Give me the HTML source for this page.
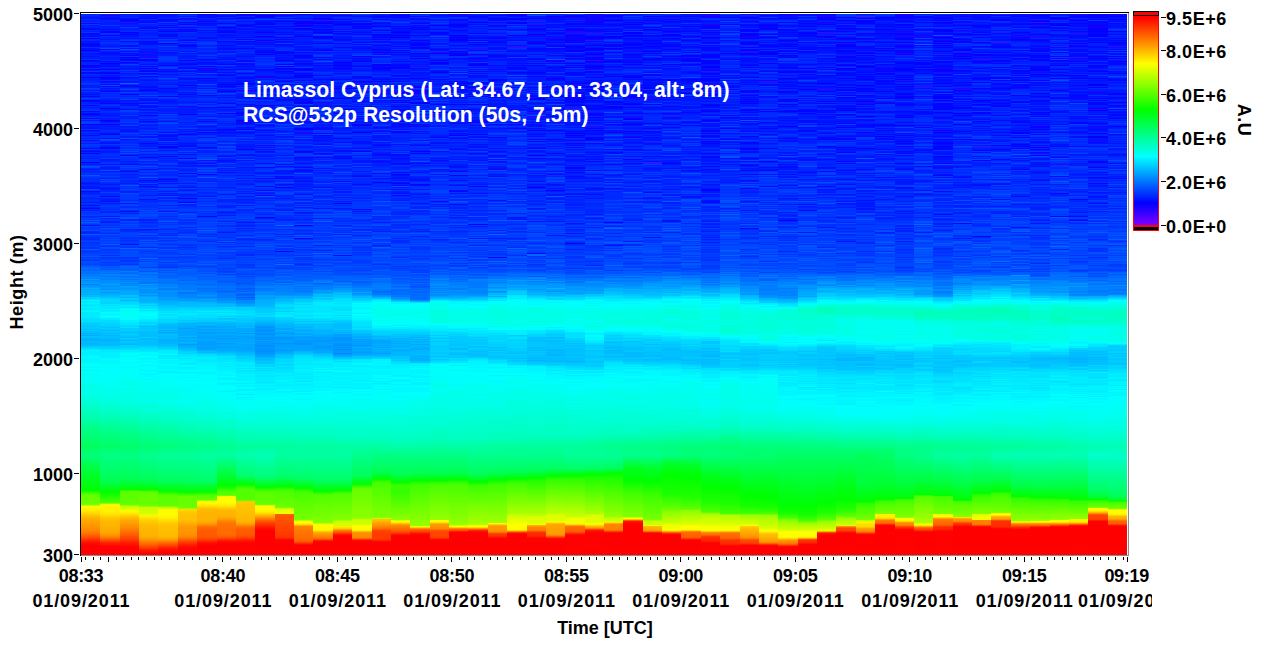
<!DOCTYPE html>
<html><head><meta charset="utf-8"><title>RCS 532p</title>
<style>
html,body{margin:0;padding:0;background:#fff}
body{width:1263px;height:649px;position:relative;overflow:hidden;font-family:"Liberation Sans",sans-serif;font-weight:bold;color:#000}
#heat{position:absolute;left:81px;top:14px;width:1046px;height:541px;overflow:hidden;background:#0020ff}
#heat i{position:absolute;display:block}
.ln{position:absolute;background:#000}
.t{position:absolute;white-space:nowrap;font-size:18px;line-height:20px}
.yl{width:60px;text-align:right;left:13px}
.xl{width:120px;text-align:center;margin-left:-60px}
.cl{left:1166px;letter-spacing:.55px}
.dt{letter-spacing:.9px;text-indent:.9px}
.tm{letter-spacing:-.3px}
#ann{position:absolute;left:243px;top:78px;color:#fff;font-size:21.25px;line-height:25px;white-space:nowrap}
</style></head><body>
<div id="heat">
<i style="left:0px;top:0px;width:19px;height:181px;background:linear-gradient(#0020ff .5px,#002dff,#0021ff,#01f,#0016ff,#0028ff,#02f,#001bff,#03f,#1500ff,#0038ff,#0014ff,#02f,#001cff,#000cff,#0006ff,#002aff,#0020ff,#0035ff,#0005ff,#000dff,#0013ff,#000aff,#002fff,#0002ff,#0028ff,#0027ff,#0013ff,#0019ff,#0c00ff,#0007ff,#0003ff,#000bff,#002eff,#0012ff,#01f,#0200ff,#0015ff,#002dff,#000eff,#001dff,#001bff,#0010ff,#0020ff,#0014ff,#0035ff,#0002ff,#000bff,#0024ff,#02f,#0025ff,#0001ff,#1500ff,#000aff,#002eff,#0001ff,#0019ff,#0037ff,#0008ff,#000dff,#0028ff,#0023ff,#001fff,#0e00ff,#02f,#0019ff,#0020ff,#0025ff,#0028ff,#0037ff,#0037ff,#0015ff,#001eff,#001aff,#0041ff,#03f,#0016ff,#0034ff,#0021ff,#0019ff,#0010ff,#0021ff,#0007ff,#0024ff,#0040ff,#002aff,#0200ff,#000dff,#001dff,#001cff,#002dff,#0b00ff,#002dff,#0016ff,#0029ff,#0027ff,#0038ff,#0005ff,#0023ff,#000aff,#0300ff,#0014ff,#0021ff,#002fff,#0f00ff,#003cff,#0017ff,#0038ff,#0041ff,#0038ff,#0d00ff,#0018ff,#001eff,#0014ff,#000fff,#0039ff,#0009ff,#001eff,#002fff,#001aff,#0027ff,#000bff,#0029ff,#0035ff,#0018ff,#0036ff,#1e00ff,#002dff,#0035ff,#0019ff,#0037ff,#0036ff,#0032ff,#0027ff,#000fff,#0035ff,#001aff,#0009ff,#0023ff,#0500ff,#002bff,#0032ff,#0020ff,#002aff,#001dff,#0031ff,#002bff,#002eff,#0002ff,#0021ff,#001eff,#002fff,#0050ff,#0047ff,#0025ff,#0018ff,#0026ff,#0027ff,#0024ff,#0037ff,#0029ff,#05f,#003bff,#0032ff,#0030ff,#0027ff,#0031ff,#002eff,#001dff,#0012ff,#001eff,#0023ff,#0019ff,#0016ff,#0014ff,#0047ff,#0037ff,#0007ff,#001eff,#001fff,#0029ff 180.5px)"></i>
<i style="left:0px;top:181px;width:19px;height:181px;background:linear-gradient(#0035ff .5px,#002fff,#002cff,#001fff,#002bff,#002fff,#002bff,#001aff,#0035ff,#002bff,#01f,#0030ff,#001fff,#0007ff,#002aff,#001cff,#0039ff,#0034ff,#0031ff,#003bff,#0042ff,#0023ff,#002fff,#04f,#0031ff,#005aff,#0036ff,#005cff,#04f,#0036ff,#0010ff,#0047ff,#0034ff,#003aff,#003aff,#004bff,#002cff,#0026ff,#0026ff,#005eff,#0037ff,#0037ff,#002bff,#002bff,#002bff,#003aff,#0045ff,#002cff,#003aff,#0034ff,#003aff,#0043ff,#0032ff,#0032ff,#0057ff,#0040ff,#002eff,#003cff,#0041ff,#0046ff,#0047ff,#0056ff,#0038ff,#004cff,#0037ff,#0039ff,#004aff,#004dff,#0046ff,#0043ff,#0052ff,#005aff,#006aff,#006bff,#0067ff,#0065ff,#0072ff,#0070ff,#006fff,#007cff,#007aff,#0082ff,#0089ff,#0082ff,#009eff,#08f,#0097ff,#0090ff,#009bff,#0080ff,#0090ff,#009bff,#00a0ff,#00b1ff,#00a3ff,#00adff,#00acff,#00b0ff,#00afff,#00aeff,#00baff,#00b9ff,#00d4ff,#00cfff,#00e3ff,#00f7ff,#00e9ff,#00eaff,#00f2ff,#00eaff,#00e5ff,#00ecff,#0ef,#00efff,#00e5ff,#00f5ff,#00f5ff,#00eaff,#00ecff,#00e8ff,#00f3ff,#00e6ff,#00edff,#00e2ff,#0df,#00e1ff,#00e1ff,#00d4ff,#0cf,#00d0ff,#00c7ff,#00c7ff,#00cdff,#00c9ff,#00bdff,#0cf,#00bcff,#00bfff,#00b5ff,#00b8ff,#00aeff,#00c3ff,#00c0ff,#00b1ff,#00afff,#00afff,#00bfff,#00b6ff,#00b8ff,#00b7ff,#00bfff,#00c5ff,#00d6ff,#00d9ff,#00ebff,#00f2ff,#00f4ff,#00f0ff,#00edff,#00f4ff,#00f2ff,#00feff,#00faff,#00f6ff,#00f5ff,#00f5ff,#00f4ff,#00f8ff,#00fdff,#0ff,#00fffe,#00fff5,#00fbff,#0ff,#00ffef,#00f7ff,#0ff,#00fffa,#00fffa,#00fff7,#00fffa 180.5px)"></i>
<i style="left:0px;top:362px;width:19px;height:179px;background:linear-gradient(#00fff6 .5px,#00fff6,#00fff1,#00fffe,#00fff7,#00fff1,#00fff5,#00fff4,#00ffea,#00fff0,#00ffe8,#00ffe6,#00ffe7,#00ffe5,#00ffe7,#0fe,#00ffe7,#00ffe4,#00ffe9,#00ffe7,#00ffe1,#00ffe7,#0fd,#00ffd5,#0fd,#00ffd8,#00ffd7,#0fc,#00ffcf,#00ffca,#00ffcf,#00ffc9,#00ffc7,#0fc,#00ffbc,#0fb,#00ffc3,#00ffb6,#00ffb6,#00ffb0,#00ffae,#00ffb2,#0fa,#00ffa0,#00ffa4,#00ffa3,#00ffa1,#00ff9d,#00ff95,#00ff8d,#00ff8e,#00ff8b,#00ff82,#0f8,#00ff85,#00ff7e,#00ff7c,#00ff7f,#00ff7d,#00ff76,#00ff74,#00ff76,#00ff71,#00ff70,#00ff6b,#00ff6a,#00ff68,#0f6,#00ff60,#00ff5d,#00ff5f,#00ff5d,#00ff64,#0f6,#00ff68,#00ff6a,#00ff72,#00ff75,#00ff78,#00ff7b,#00ff74,#00ff71,#00ff6a,#00ff69,#0f6,#00ff5e,#00ff59,#00ff56,#00ff4f,#00ff4d,#00ff49,#00ff43,#00ff42,#00ff3c,#00ff37,#0f3,#00ff32,#00ff2e,#00ff2d,#00ff29,#00ff24,#00ff25,#00ff1e,#00ff1f,#00ff1c,#00ff19,#00ff15,#00ff15,#00ff13,#00ff0d,#00ff0a,#00ff07,#00ff02,#00ff02,#02ff00,#18ff00,#2dff00,#4f0,#56ff00,#64ff00,#61ff00,#68ff00,#67ff00,#6aff00,#6cff00,#6bff00,#6cff00,#6cff00,#79ff00,#b8ff00,#f8ff00,#fff700,#fff400,#fff000,#ffea00,#ffe500,#ffdf00,#ffd600,#ffce00,#ffc600,#fb0,#ffb500,#ffb100,#fa0,#ffa700,#ffa600,#ff9f00,#ff9d00,#ff9a00,#ff9700,#ff9400,#ff9200,#ff8c00,#ff8a00,#ff8600,#ff8000,#ff7900,#ff7100,#ff6900,#ff5f00,#ff5700,#ff4a00,#ff3e00,#ff3100,#ff2600,#ff1b00,#ff1000,#ff0a00,#ff0400,#f00,#f00,#f00,#ff0100,#f00,#f00,#f00,#f00,#f00,#ff0100 178.5px)"></i>
<i style="left:19px;top:0px;width:20px;height:181px;background:linear-gradient(#001fff .5px,#1a00ff,#0017ff,#0012ff,#10f,#000dff,#0025ff,#0021ff,#001cff,#001bff,#0018ff,#003fff,#01f,#001eff,#001bff,#0008ff,#001bff,#0007ff,#0700ff,#0032ff,#0031ff,#00f,#002eff,#0017ff,#0023ff,#000eff,#0029ff,#001cff,#003bff,#002aff,#0025ff,#001dff,#0015ff,#002cff,#0049ff,#0300ff,#0035ff,#0021ff,#1600ff,#000fff,#000fff,#001dff,#0027ff,#001aff,#001cff,#0020ff,#0029ff,#0013ff,#0017ff,#0100ff,#01f,#0013ff,#0007ff,#002aff,#0015ff,#0700ff,#002eff,#0024ff,#1000ff,#0500ff,#002bff,#0010ff,#001eff,#00f,#0600ff,#000bff,#002cff,#1000ff,#0016ff,#002cff,#1300ff,#004cff,#000aff,#002dff,#0013ff,#0021ff,#0012ff,#0200ff,#0031ff,#0020ff,#002fff,#0027ff,#0027ff,#0034ff,#0023ff,#02f,#0015ff,#0012ff,#0012ff,#0005ff,#002aff,#0037ff,#0021ff,#0021ff,#0200ff,#0015ff,#0020ff,#002fff,#0029ff,#0019ff,#0019ff,#0018ff,#001eff,#0028ff,#001cff,#001bff,#0300ff,#0f00ff,#02f,#002aff,#0a00ff,#0020ff,#0015ff,#0024ff,#0017ff,#0024ff,#002eff,#002cff,#0023ff,#0010ff,#0200ff,#0032ff,#0030ff,#0031ff,#01f,#004fff,#04f,#0026ff,#0015ff,#000fff,#003aff,#02f,#001dff,#0002ff,#0500ff,#0023ff,#0024ff,#0015ff,#0017ff,#002cff,#002dff,#0034ff,#0024ff,#0028ff,#003bff,#0016ff,#0017ff,#0025ff,#002fff,#003aff,#000fff,#003eff,#0027ff,#001aff,#0017ff,#0026ff,#004bff,#001cff,#002dff,#003cff,#0028ff,#002eff,#003dff,#002bff,#001dff,#0048ff,#0032ff,#0047ff,#0029ff,#0027ff,#0016ff,#0028ff,#002dff,#001eff,#000bff,#0018ff,#0023ff,#0027ff,#0040ff,#002bff,#0027ff 180.5px)"></i>
<i style="left:19px;top:181px;width:20px;height:181px;background:linear-gradient(#0028ff .5px,#0004ff,#0035ff,#0021ff,#001bff,#001aff,#000fff,#0032ff,#0016ff,#0037ff,#03f,#0043ff,#0030ff,#0031ff,#002aff,#0036ff,#0028ff,#001cff,#0043ff,#0039ff,#003fff,#0015ff,#0051ff,#0020ff,#0036ff,#0036ff,#0021ff,#001fff,#003aff,#0039ff,#002fff,#0043ff,#0031ff,#004dff,#0047ff,#03f,#0046ff,#003bff,#002bff,#004bff,#003dff,#0035ff,#0043ff,#003aff,#004bff,#003bff,#0042ff,#004aff,#003aff,#005dff,#0038ff,#002eff,#0052ff,#0049ff,#0036ff,#0036ff,#0043ff,#003cff,#0042ff,#004aff,#002eff,#0052ff,#002dff,#003eff,#003cff,#004cff,#004dff,#0036ff,#0045ff,#003fff,#003aff,#005aff,#0054ff,#005dff,#0050ff,#0071ff,#0070ff,#0079ff,#006fff,#0086ff,#007cff,#07f,#0082ff,#0086ff,#007dff,#008eff,#008bff,#0090ff,#0094ff,#00a3ff,#0090ff,#0090ff,#009bff,#09f,#008cff,#00afff,#00a7ff,#009bff,#00a5ff,#00b0ff,#00b1ff,#00b8ff,#00c4ff,#00d0ff,#00d7ff,#00d7ff,#00dcff,#00d2ff,#00d5ff,#00e2ff,#00e2ff,#00e9ff,#00e6ff,#00eaff,#00f1ff,#00e7ff,#00f0ff,#00fdff,#00faff,#00f3ff,#00faff,#00fffd,#00fcff,#00e9ff,#00e8ff,#00dcff,#00dfff,#00d6ff,#00d5ff,#00d7ff,#00d0ff,#0cf,#00c2ff,#00cfff,#00c6ff,#00bdff,#00c4ff,#00c8ff,#00b8ff,#00c1ff,#00b6ff,#00c1ff,#00beff,#00b9ff,#00b4ff,#00b2ff,#00b5ff,#00beff,#00bcff,#00baff,#00bdff,#00c8ff,#00d5ff,#00cfff,#00e2ff,#00eaff,#00e9ff,#00f0ff,#00f4ff,#00efff,#00f0ff,#00efff,#00f2ff,#00f8ff,#00fdff,#00f9ff,#00f8ff,#00f6ff,#00fcff,#00faff,#00fffc,#00fdff,#00fffb,#00fffd,#0ff,#00fffd,#00fcff,#00fffa,#00fffd,#00feff,#00fffb 180.5px)"></i>
<i style="left:19px;top:362px;width:20px;height:179px;background:linear-gradient(#00fff6 .5px,#00fff9,#00faff,#00fffa,#00fff5,#00fff2,#00fff8,#00fff1,#0fe,#0fe,#00fff7,#00fff1,#00fff0,#0fe,#00ffeb,#00ffe5,#00ffea,#00ffef,#00ffef,#00ffe6,#00ffec,#00ffe9,#00ffe1,#00ffde,#00ffdb,#00ffe4,#00ffd5,#00ffda,#00ffd3,#00ffd5,#00ffce,#00ffd0,#00ffcd,#0fc,#0fc,#00ffc6,#00ffc0,#00ffc5,#00ffbd,#00ffbf,#00ffbc,#00ffba,#00ffab,#00ffae,#00ffac,#00ffa4,#00ffac,#00ffa2,#00ffa1,#0f9,#00ff9d,#00ff95,#00ff92,#00ff8b,#00ff8e,#00ff89,#00ff85,#00ff82,#00ff80,#00ff7f,#00ff7f,#0f7,#00ff73,#00ff75,#00ff75,#00ff6e,#00ff71,#00ff6c,#00ff6e,#00ff65,#00ff69,#0f6,#00ff6c,#00ff70,#00ff75,#0f7,#00ff7d,#00ff7c,#00ff84,#00ff84,#00ff80,#00ff7e,#00ff7c,#00ff7a,#00ff79,#0f7,#00ff75,#0f7,#00ff73,#00ff71,#00ff6f,#00ff6c,#00ff6d,#00ff6c,#00ff69,#00ff65,#00ff65,#0f6,#00ff5f,#00ff5d,#00ff5c,#00ff5b,#00ff59,#00ff59,#00ff57,#00ff4f,#00ff49,#00ff3f,#00ff39,#00ff35,#00ff2a,#00ff20,#00ff1a,#00ff14,#00ff0c,#00ff03,#03ff00,#0aff00,#14ff00,#1bff00,#2f0,#29ff00,#3f0,#38ff00,#40ff00,#46ff00,#4fff00,#86ff00,#f4ff00,#fff800,#fff500,#fff300,#fff300,#fff100,#fff100,#ffef00,#ffeb00,#ffe900,#ffe200,#ffda00,#ffd100,#ffca00,#ffc600,#ffc000,#ffbc00,#ffba00,#ffb800,#ffb500,#ffb200,#ffb400,#ffb200,#ffae00,#ffaf00,#ffac00,#fa0,#ffa800,#ffa500,#ffa100,#ff9b00,#ff9100,#ff8500,#ff7b00,#ff6a00,#ff5900,#ff4900,#ff3700,#ff2800,#ff1a00,#f10,#ff0a00,#ff0300,#ff0100,#ff0100,#f00,#f00,#ff0100,#f00,#ff0100,#f00 178.5px)"></i>
<i style="left:39px;top:0px;width:19px;height:181px;background:linear-gradient(#0015ff .5px,#02f,#001bff,#002cff,#000eff,#0f00ff,#0100ff,#01f,#001eff,#2300ff,#001cff,#02f,#0018ff,#0039ff,#001dff,#001cff,#0020ff,#002eff,#00f,#0014ff,#0005ff,#0019ff,#0013ff,#001eff,#0013ff,#002fff,#003dff,#0009ff,#002eff,#0031ff,#0037ff,#000dff,#000cff,#003cff,#0010ff,#004dff,#002fff,#000eff,#03f,#000eff,#0012ff,#0007ff,#0031ff,#0a00ff,#000dff,#0200ff,#000aff,#002fff,#0200ff,#0017ff,#0043ff,#002cff,#0014ff,#0021ff,#01f,#0020ff,#0038ff,#02f,#002cff,#0016ff,#0020ff,#0021ff,#0037ff,#0009ff,#001bff,#0023ff,#002aff,#000dff,#0017ff,#005eff,#0031ff,#0008ff,#0006ff,#0012ff,#0032ff,#0045ff,#001dff,#001dff,#0041ff,#0024ff,#0300ff,#002cff,#0023ff,#0037ff,#0028ff,#0047ff,#0013ff,#0019ff,#0026ff,#0008ff,#0016ff,#01f,#002eff,#002eff,#0021ff,#0009ff,#0042ff,#0041ff,#002bff,#0028ff,#0021ff,#003cff,#0018ff,#0023ff,#0019ff,#0031ff,#0031ff,#0034ff,#0038ff,#0024ff,#0028ff,#0045ff,#0014ff,#001cff,#0026ff,#0016ff,#0015ff,#000bff,#0028ff,#003fff,#002eff,#002eff,#001aff,#0020ff,#0047ff,#0015ff,#0026ff,#002bff,#0025ff,#002bff,#003aff,#002bff,#0036ff,#002dff,#0023ff,#0041ff,#0031ff,#0047ff,#002aff,#0048ff,#0027ff,#0004ff,#0037ff,#002fff,#0030ff,#002aff,#002fff,#001aff,#0029ff,#0020ff,#000aff,#0042ff,#0034ff,#0046ff,#0034ff,#0036ff,#001aff,#0007ff,#002fff,#0032ff,#001cff,#0029ff,#0029ff,#02f,#002aff,#0034ff,#0020ff,#002bff,#0025ff,#0017ff,#002cff,#0056ff,#0031ff,#0036ff,#03f,#0041ff,#003aff,#001bff,#0020ff,#0046ff,#0040ff 180.5px)"></i>
<i style="left:39px;top:181px;width:19px;height:181px;background:linear-gradient(#003aff .5px,#003aff,#0039ff,#0039ff,#0034ff,#0028ff,#003eff,#0049ff,#0016ff,#003fff,#004aff,#0028ff,#0029ff,#0040ff,#004aff,#0024ff,#000dff,#002fff,#0021ff,#003eff,#0043ff,#003cff,#004fff,#0054ff,#0024ff,#02f,#004cff,#003cff,#0035ff,#004aff,#0038ff,#004bff,#0036ff,#0046ff,#001cff,#0026ff,#0029ff,#003fff,#04f,#0045ff,#003cff,#0043ff,#002fff,#0032ff,#003aff,#002fff,#03f,#0041ff,#0032ff,#000fff,#0046ff,#0039ff,#0038ff,#0067ff,#04f,#0046ff,#004eff,#0047ff,#004aff,#0049ff,#004aff,#004dff,#03f,#0035ff,#04f,#03f,#0032ff,#004bff,#0041ff,#0030ff,#005bff,#0061ff,#0069ff,#005cff,#0057ff,#0061ff,#007bff,#006dff,#0063ff,#007eff,#0081ff,#0070ff,#0074ff,#0085ff,#0072ff,#0087ff,#0083ff,#0090ff,#0082ff,#0089ff,#08f,#00a0ff,#009cff,#0092ff,#09f,#00a3ff,#00a4ff,#00adff,#00a4ff,#00acff,#00c2ff,#00c0ff,#00b5ff,#00cbff,#0cf,#00b7ff,#00cdff,#00d8ff,#00d8ff,#0df,#00ecff,#00ecff,#00e1ff,#00f6ff,#00fdff,#00fbff,#0fe,#00fff1,#00fffa,#00fff3,#00fff9,#00fff4,#00fdff,#00faff,#00fffc,#00f2ff,#0ef,#00ecff,#00e3ff,#00e8ff,#00d7ff,#00d7ff,#00e2ff,#00caff,#0cf,#00d1ff,#00c0ff,#00beff,#00c6ff,#00ceff,#00c7ff,#00c0ff,#00baff,#00ceff,#00c2ff,#00b8ff,#00c8ff,#00c7ff,#0bf,#00b5ff,#00d0ff,#00caff,#00cfff,#00dbff,#00dfff,#00efff,#00ecff,#00f7ff,#00feff,#00fffb,#00f8ff,#00f9ff,#00fff9,#00fdff,#00fffb,#00fffe,#00fffe,#00faff,#0ff,#0ff,#00fdff,#00fff3,#00faff,#00fdff,#00fffa,#00fff6,#0ff,#00fffc,#00fffe,#0ff,#00fff2 180.5px)"></i>
<i style="left:39px;top:362px;width:19px;height:179px;background:linear-gradient(#00fff9 .5px,#00fffa,#00fff5,#00fff1,#00ffed,#00fff2,#00fff1,#00ffef,#00ffeb,#00ffed,#00fff5,#00ffed,#00ffef,#00ffe3,#00ffea,#0fe,#00ffe3,#00ffeb,#00ffe6,#00ffe8,#00ffe5,#00ffe2,#00ffea,#00ffe9,#00ffe1,#00ffe4,#00ffe0,#00ffda,#00ffdf,#00ffd5,#00ffd8,#00ffd7,#00ffd4,#00ffc6,#00ffca,#00ffc8,#00ffcb,#00ffc0,#00ffc8,#00ffc2,#00ffb9,#00ffb7,#00ffb9,#00ffb2,#00ffb3,#00ffb3,#00ffa8,#00ffa8,#00ffa3,#00ffa0,#00ffa3,#00ff9c,#00ff9c,#00ff95,#00ff91,#00ff8d,#00ff86,#00ff8c,#00ff84,#00ff83,#00ff81,#00ff83,#00ff7d,#00ff7b,#00ff7a,#0f7,#00ff78,#00ff73,#00ff6f,#00ff6f,#00ff6b,#00ff69,#00ff6f,#00ff74,#00ff75,#00ff79,#00ff7d,#00ff80,#00ff7e,#00ff81,#00ff7f,#00ff7d,#00ff80,#00ff7a,#0f7,#0f7,#0f7,#00ff72,#00ff71,#00ff6d,#00ff6e,#00ff6b,#00ff68,#0f6,#00ff64,#00ff64,#00ff5e,#00ff61,#00ff5e,#00ff5c,#00ff58,#00ff57,#00ff53,#00ff51,#00ff49,#00ff43,#00ff3a,#00ff32,#00ff2b,#00ff23,#00ff1b,#00ff12,#00ff08,#0f0,#31ff00,#5bff00,#5aff00,#5bff00,#5bff00,#5bff00,#5cff00,#5bff00,#5dff00,#5eff00,#5eff00,#5eff00,#5fff00,#5fff00,#68ff00,#9aff00,#c3ff00,#cdff00,#d6ff00,#e4ff00,#ef0,#fffa00,#fff100,#ffe800,#ffde00,#ffd200,#ffc600,#ffbf00,#ffb800,#ffb000,#ffa900,#ffa700,#ffa000,#ff9c00,#ff9700,#ff9100,#ff8f00,#ff8900,#ff8300,#ff7d00,#f70,#ff7100,#ff6a00,#ff6500,#ff5e00,#ff5800,#ff4f00,#ff4900,#ff4000,#ff3b00,#ff3200,#ff2900,#ff2000,#ff1900,#ff1200,#ff0900,#ff0600,#ff0300,#ff0200,#f00,#f00,#f00,#f00,#f00,#f00 178.5px)"></i>
<i style="left:58px;top:0px;width:19px;height:181px;background:linear-gradient(#000aff .5px,#0018ff,#000fff,#0017ff,#0e00ff,#002cff,#01f,#0016ff,#0e00ff,#0036ff,#0023ff,#02f,#0014ff,#000eff,#0a00ff,#0035ff,#0014ff,#002bff,#0020ff,#0015ff,#0024ff,#001bff,#0029ff,#002bff,#0013ff,#002aff,#002eff,#0600ff,#0010ff,#0008ff,#000eff,#0027ff,#0026ff,#002aff,#0021ff,#0012ff,#001eff,#0013ff,#2800ff,#001bff,#0013ff,#0013ff,#0018ff,#2400ff,#03f,#0400ff,#0500ff,#001cff,#0027ff,#0025ff,#000fff,#0036ff,#0800ff,#002cff,#0001ff,#0025ff,#000eff,#0004ff,#0038ff,#0005ff,#0012ff,#04f,#0004ff,#0027ff,#002bff,#001aff,#0013ff,#0023ff,#0021ff,#001eff,#001dff,#0023ff,#000bff,#000bff,#001dff,#000dff,#00f,#0019ff,#03f,#02f,#0027ff,#0048ff,#0018ff,#0039ff,#001aff,#0014ff,#0009ff,#0035ff,#001aff,#000bff,#0041ff,#0018ff,#000eff,#0010ff,#0032ff,#0010ff,#001aff,#03f,#0012ff,#0021ff,#002aff,#000aff,#0023ff,#0032ff,#0030ff,#001cff,#0026ff,#0006ff,#0019ff,#0040ff,#0021ff,#001aff,#002aff,#0024ff,#0019ff,#0025ff,#0035ff,#0027ff,#0032ff,#0037ff,#0014ff,#04f,#0012ff,#0014ff,#003eff,#0031ff,#0031ff,#0024ff,#0020ff,#0006ff,#001bff,#001fff,#0019ff,#0032ff,#0012ff,#003fff,#003bff,#001fff,#0041ff,#0036ff,#0017ff,#002aff,#0026ff,#0003ff,#0027ff,#0035ff,#0045ff,#001dff,#0029ff,#0038ff,#0017ff,#0030ff,#004cff,#0030ff,#0037ff,#1d00ff,#03f,#003cff,#002bff,#0039ff,#003dff,#001cff,#002aff,#005cff,#001cff,#002eff,#0009ff,#0020ff,#001fff,#0046ff,#000fff,#002dff,#0010ff,#001fff,#003cff,#0024ff,#0038ff,#0024ff,#0035ff,#002dff,#002eff 180.5px)"></i>
<i style="left:58px;top:181px;width:19px;height:181px;background:linear-gradient(#0019ff .5px,#0034ff,#003aff,#03f,#000bff,#0023ff,#0029ff,#002cff,#003eff,#002fff,#0034ff,#002cff,#002fff,#003dff,#002fff,#004aff,#0039ff,#0047ff,#003cff,#004bff,#004cff,#0042ff,#003bff,#003dff,#0020ff,#001cff,#0036ff,#0021ff,#0035ff,#003cff,#002fff,#002fff,#0038ff,#0049ff,#0012ff,#0029ff,#0038ff,#002eff,#004aff,#004eff,#002cff,#04f,#0032ff,#002dff,#003cff,#0054ff,#0035ff,#05f,#003cff,#004fff,#004fff,#0041ff,#0026ff,#005fff,#04f,#0043ff,#0031ff,#0042ff,#003eff,#0048ff,#004aff,#0040ff,#0046ff,#0067ff,#0039ff,#0058ff,#003bff,#005eff,#0056ff,#0054ff,#0058ff,#0051ff,#003dff,#0061ff,#06f,#0063ff,#004fff,#0074ff,#0078ff,#0068ff,#0070ff,#0078ff,#0072ff,#007fff,#0078ff,#007fff,#007cff,#0071ff,#07f,#009cff,#0086ff,#0091ff,#0093ff,#009aff,#0094ff,#008eff,#0095ff,#008aff,#009aff,#00a5ff,#0092ff,#00a7ff,#00b0ff,#00b7ff,#00acff,#00b2ff,#00aeff,#00b9ff,#00c9ff,#00d8ff,#00c8ff,#00deff,#00deff,#00dfff,#00f6ff,#00deff,#00f4ff,#00faff,#00fff7,#00fffa,#00fff8,#00f7ff,#00f9ff,#00f7ff,#00edff,#00e8ff,#00e0ff,#00d9ff,#00d0ff,#00deff,#00cbff,#00bcff,#00c7ff,#00c4ff,#00c4ff,#00cdff,#00c0ff,#00beff,#0bf,#00beff,#00baff,#00bdff,#0cf,#00bcff,#00b5ff,#00c5ff,#00beff,#00beff,#00beff,#00bfff,#00c3ff,#00cfff,#00d5ff,#00dfff,#0df,#00e8ff,#00ebff,#00f9ff,#00fbff,#00f4ff,#00faff,#00fff8,#0ff,#00f2ff,#00f8ff,#00fdff,#00faff,#00fcff,#00fffd,#00fdff,#00f6ff,#00fffe,#00fcff,#00feff,#00fbff,#00f7ff,#00f8ff,#00fdff,#00faff,#00f2ff,#00fff8 180.5px)"></i>
<i style="left:58px;top:362px;width:19px;height:179px;background:linear-gradient(#00fbff .5px,#0ff,#00fff8,#00f8ff,#00fff2,#00fffb,#00fff3,#00fff8,#00fff3,#00fff3,#00fff2,#00fffa,#00fff8,#00ffef,#00ffe7,#00fff0,#00ffea,#00ffeb,#00ffe9,#00ffe6,#00fff1,#00ffe8,#00ffe9,#00ffe9,#00ffeb,#00ffea,#00ffea,#00ffe9,#00ffd7,#00ffd8,#0fd,#00ffd7,#00ffdc,#00ffe1,#00ffda,#00ffd0,#00ffc8,#0fc,#00ffcd,#00ffc8,#00ffc8,#00ffc7,#00ffc1,#00ffbe,#00ffbd,#00ffba,#00ffb7,#00ffb0,#00ffa9,#00ffac,#00ffa1,#0fa,#00ffa1,#00ffa3,#00ff9d,#0f9,#00ff95,#00ff90,#00ff92,#00ff91,#00ff8b,#0f8,#0f8,#00ff81,#00ff7d,#00ff83,#00ff7c,#00ff78,#00ff7d,#00ff75,#00ff74,#00ff78,#00ff74,#00ff7b,#00ff80,#00ff81,#00ff84,#00ff87,#00ff8b,#00ff8c,#00ff8d,#00ff89,#00ff86,#00ff8a,#00ff7e,#00ff81,#00ff80,#00ff7f,#00ff79,#00ff78,#0f7,#00ff74,#00ff73,#00ff70,#00ff6d,#00ff6c,#00ff68,#00ff67,#00ff65,#00ff62,#00ff5f,#00ff5e,#00ff5c,#00ff59,#00ff51,#00ff48,#00ff3e,#00ff35,#00ff2e,#00ff26,#00ff1e,#00ff12,#00ff09,#00ff01,#2f0,#4fff00,#65ff00,#63ff00,#65ff00,#65ff00,#65ff00,#65ff00,#67ff00,#67ff00,#6f0,#6f0,#69ff00,#69ff00,#68ff00,#6bff00,#91ff00,#c7ff00,#cbff00,#cbff00,#ceff00,#cfff00,#cfff00,#d1ff00,#e9ff00,#fff400,#fff100,#ffe700,#ffe000,#ffd900,#ffd000,#ffc900,#ffc500,#ffc200,#ffbc00,#fb0,#ffb800,#ffb900,#ffb600,#ffb600,#ffb600,#ffb400,#ffb300,#ffb300,#ffb300,#ffb000,#ffaf00,#ffa800,#ffa100,#ff9700,#ff8d00,#ff8300,#ff7800,#ff6d00,#ff6400,#ff5600,#ff4c00,#ff4000,#f30,#ff2400,#ff1800,#ff0f00,#ff0700,#ff0200,#ff0100 178.5px)"></i>
<i style="left:77px;top:0px;width:20px;height:181px;background:linear-gradient(#0010ff .5px,#0016ff,#0018ff,#0017ff,#002aff,#0002ff,#01f,#000bff,#0040ff,#0019ff,#0027ff,#000aff,#002aff,#0002ff,#0035ff,#0014ff,#0018ff,#0004ff,#0028ff,#001fff,#000aff,#0008ff,#000fff,#0020ff,#0016ff,#0041ff,#0027ff,#002eff,#04f,#0200ff,#001cff,#0025ff,#0040ff,#001eff,#0025ff,#002fff,#0016ff,#0035ff,#000bff,#001aff,#0017ff,#001fff,#0036ff,#0035ff,#0040ff,#0031ff,#0039ff,#0030ff,#0021ff,#0015ff,#001bff,#0003ff,#002aff,#003dff,#003cff,#000eff,#001bff,#0f00ff,#001fff,#002fff,#000bff,#0028ff,#002aff,#0025ff,#004aff,#0030ff,#001bff,#002fff,#0024ff,#001fff,#0013ff,#0035ff,#002aff,#0026ff,#0007ff,#0017ff,#001fff,#0010ff,#0018ff,#0026ff,#002aff,#0035ff,#00f,#0041ff,#0036ff,#0017ff,#001fff,#000bff,#001cff,#0017ff,#0028ff,#0031ff,#01f,#0036ff,#001aff,#001dff,#0015ff,#0021ff,#0027ff,#0018ff,#0048ff,#0025ff,#003bff,#002fff,#0028ff,#003bff,#0029ff,#0010ff,#003fff,#004fff,#0026ff,#002fff,#002bff,#002dff,#0031ff,#0027ff,#0034ff,#002aff,#0010ff,#003eff,#0014ff,#000cff,#000cff,#02f,#0015ff,#0017ff,#000bff,#004aff,#0017ff,#002eff,#000fff,#002eff,#0003ff,#0400ff,#001eff,#002aff,#001aff,#002dff,#003aff,#003eff,#0019ff,#002eff,#0009ff,#0030ff,#0018ff,#0030ff,#001bff,#0029ff,#0027ff,#0041ff,#003dff,#001aff,#002dff,#0037ff,#0016ff,#0026ff,#04f,#002dff,#02f,#002fff,#0021ff,#0023ff,#0034ff,#0038ff,#0020ff,#0700ff,#0029ff,#000eff,#003cff,#000fff,#0034ff,#003cff,#0038ff,#01f,#0046ff,#0040ff,#0037ff,#001dff,#003fff,#0015ff,#002aff 180.5px)"></i>
<i style="left:77px;top:181px;width:20px;height:181px;background:linear-gradient(#01f .5px,#004fff,#0026ff,#001cff,#0043ff,#001fff,#002cff,#0038ff,#003dff,#0041ff,#001dff,#0042ff,#03f,#0026ff,#0049ff,#0030ff,#0017ff,#004fff,#03f,#003dff,#0039ff,#0028ff,#003cff,#0030ff,#0035ff,#003bff,#005cff,#0030ff,#0041ff,#0035ff,#0042ff,#0040ff,#0045ff,#0037ff,#0020ff,#0043ff,#0038ff,#0043ff,#0028ff,#0034ff,#0028ff,#05f,#0036ff,#0036ff,#0046ff,#002eff,#003eff,#0049ff,#0040ff,#002bff,#0049ff,#0048ff,#03f,#0032ff,#0056ff,#003aff,#0047ff,#0038ff,#0034ff,#0041ff,#004cff,#004dff,#002dff,#0045ff,#0039ff,#004fff,#0053ff,#0036ff,#004cff,#0043ff,#0040ff,#0039ff,#0034ff,#0050ff,#0062ff,#004dff,#0062ff,#0052ff,#0067ff,#0062ff,#0063ff,#005bff,#0065ff,#0068ff,#007bff,#0076ff,#0076ff,#006eff,#0078ff,#007eff,#0085ff,#0083ff,#008dff,#007eff,#007bff,#008eff,#0094ff,#008fff,#008aff,#008eff,#008eff,#0092ff,#09f,#00a0ff,#009aff,#0af,#00acff,#00aeff,#00b5ff,#00b5ff,#00beff,#00cbff,#00c5ff,#00d3ff,#00d0ff,#00d9ff,#00e2ff,#00e1ff,#00edff,#0df,#00e6ff,#00e7ff,#00e6ff,#00e0ff,#00d5ff,#00d7ff,#00daff,#00d0ff,#00c6ff,#00baff,#00b7ff,#00bcff,#00b1ff,#00b3ff,#00c3ff,#00a6ff,#00baff,#00a7ff,#00adff,#00c4ff,#0bf,#00b8ff,#00b9ff,#00baff,#00b1ff,#00adff,#00b0ff,#00b6ff,#00b7ff,#0bf,#00baff,#00c8ff,#00cdff,#00d0ff,#00dcff,#00ebff,#0ef,#0ef,#00f1ff,#00faff,#0ef,#00e5ff,#00f4ff,#00e7ff,#00fdff,#00f1ff,#00f6ff,#00f4ff,#00f7ff,#00f8ff,#00feff,#00f2ff,#00f6ff,#00f6ff,#00f8ff,#00fdff,#00f0ff,#00efff,#00fbff,#00feff,#0ff 180.5px)"></i>
<i style="left:77px;top:362px;width:20px;height:179px;background:linear-gradient(#00fffc .5px,#00fff7,#00faff,#0ff,#00fffb,#00fff8,#00fff8,#00fff7,#00fffd,#00ffeb,#00fff6,#00fff2,#00fff8,#00fff1,#00fff3,#00ffeb,#00ffeb,#00fff2,#0fe,#00ffed,#00ffeb,#00ffe5,#0fe,#0fd,#00ffed,#00ffef,#00ffe4,#00ffec,#00ffe0,#00ffe3,#00ffe4,#0fd,#0fd,#00ffde,#00ffda,#00ffce,#00ffd3,#00ffd0,#00ffd3,#00ffc5,#00ffc8,#00ffc9,#00ffc6,#00ffc5,#00ffbc,#0fb,#00ffbe,#00ffba,#00ffb7,#00ffb2,#00ffa8,#00ffae,#00ffa9,#00ffa9,#00ffa5,#00ffa0,#00ff9b,#00ff9f,#00ff9b,#00ff97,#00ff96,#00ff8c,#00ff8c,#0f8,#0f8,#00ff8a,#00ff82,#00ff82,#00ff81,#00ff7f,#00ff7e,#00ff7d,#00ff7f,#00ff80,#0f8,#00ff89,#00ff8e,#00ff90,#00ff96,#0f9,#00ff92,#00ff91,#00ff93,#00ff8e,#00ff8c,#00ff85,#00ff85,#00ff85,#00ff84,#00ff80,#00ff7e,#00ff7c,#00ff7b,#00ff7a,#00ff79,#00ff76,#00ff74,#00ff70,#00ff6d,#00ff69,#00ff69,#00ff64,#00ff63,#00ff63,#00ff60,#00ff56,#00ff4e,#00ff45,#00ff3c,#00ff32,#00ff2d,#00ff21,#00ff18,#00ff0e,#00ff08,#08ff00,#1dff00,#34ff00,#4cff00,#5bff00,#5aff00,#5dff00,#5cff00,#5cff00,#5eff00,#5fff00,#5eff00,#60ff00,#5fff00,#60ff00,#83ff00,#beff00,#d9ff00,#ecff00,#fffd00,#fffb00,#fffb00,#fffe00,#fffc00,#fff900,#fff700,#fff300,#fff000,#ffe600,#ffde00,#ffd700,#ffce00,#ffc900,#ffc500,#ffc200,#ffc200,#ffc000,#ffc000,#ffbe00,#ffbd00,#ffbf00,#ffbe00,#ffbd00,#fb0,#fb0,#ffb700,#ffaf00,#ffa900,#ff9c00,#ff9100,#ff7f00,#ff7200,#ff5f00,#ff5100,#ff4200,#ff3500,#ff2600,#ff1b00,#ff1000,#ff0900,#ff0400,#ff0200,#f00,#f00 178.5px)"></i>
<i style="left:97px;top:0px;width:19px;height:181px;background:linear-gradient(#001eff .5px,#0034ff,#0013ff,#0038ff,#2100ff,#0017ff,#002cff,#0039ff,#0700ff,#001eff,#1300ff,#0035ff,#002eff,#0007ff,#002aff,#0500ff,#0012ff,#0d00ff,#0030ff,#0024ff,#0020ff,#0028ff,#001aff,#02f,#002cff,#0018ff,#0900ff,#0037ff,#001eff,#0035ff,#0013ff,#00f,#0008ff,#001cff,#001bff,#002bff,#0029ff,#0015ff,#003bff,#0013ff,#002dff,#0019ff,#0012ff,#001dff,#0016ff,#0030ff,#0100ff,#0027ff,#001cff,#000dff,#0005ff,#0021ff,#02f,#000dff,#0007ff,#0041ff,#001fff,#0007ff,#03f,#001cff,#002eff,#001cff,#003eff,#001eff,#000fff,#000fff,#0029ff,#0021ff,#0018ff,#001dff,#02f,#00f,#0025ff,#0012ff,#001fff,#0023ff,#02f,#0034ff,#0014ff,#001dff,#0006ff,#0024ff,#0017ff,#001fff,#002aff,#002bff,#0026ff,#001eff,#0017ff,#0026ff,#0039ff,#0034ff,#2000ff,#001bff,#001fff,#0012ff,#001cff,#001aff,#0017ff,#001eff,#0500ff,#0025ff,#002cff,#002bff,#0027ff,#0028ff,#002aff,#0032ff,#001aff,#002eff,#001dff,#0035ff,#001aff,#0029ff,#0043ff,#0015ff,#0025ff,#0014ff,#002bff,#001bff,#10f,#02f,#0037ff,#002bff,#002dff,#0029ff,#002bff,#0028ff,#001fff,#0013ff,#001aff,#01f,#0006ff,#0035ff,#001eff,#0027ff,#0027ff,#0048ff,#001dff,#0038ff,#000bff,#002fff,#002eff,#0031ff,#0002ff,#0047ff,#0037ff,#0021ff,#001aff,#000dff,#0023ff,#0019ff,#0019ff,#003aff,#0028ff,#0021ff,#001fff,#0029ff,#0039ff,#0004ff,#003fff,#0027ff,#0018ff,#0031ff,#0031ff,#0031ff,#002bff,#003cff,#03f,#0019ff,#003dff,#0026ff,#002aff,#000dff,#0048ff,#001cff,#0018ff,#03f,#04f,#0034ff,#0017ff 180.5px)"></i>
<i style="left:97px;top:181px;width:19px;height:181px;background:linear-gradient(#02f .5px,#0026ff,#002aff,#0800ff,#002cff,#002cff,#02f,#0001ff,#0054ff,#001eff,#0021ff,#002dff,#002fff,#0035ff,#0042ff,#003cff,#0038ff,#001aff,#003fff,#0053ff,#0040ff,#0046ff,#0037ff,#004eff,#002cff,#0030ff,#0038ff,#002bff,#002eff,#03f,#0047ff,#04f,#0027ff,#0040ff,#0036ff,#002eff,#0032ff,#0027ff,#0032ff,#004dff,#003eff,#0053ff,#0053ff,#0035ff,#003bff,#0038ff,#004cff,#0042ff,#0048ff,#03f,#002eff,#003eff,#0028ff,#003bff,#0034ff,#004aff,#0042ff,#004cff,#0043ff,#0035ff,#0052ff,#003bff,#003cff,#003cff,#0049ff,#0041ff,#003dff,#003eff,#0057ff,#004eff,#0048ff,#003bff,#0052ff,#0050ff,#0065ff,#0060ff,#005dff,#005bff,#005cff,#0059ff,#0063ff,#0065ff,#006aff,#0070ff,#006bff,#0065ff,#0073ff,#007bff,#0068ff,#0075ff,#0078ff,#0079ff,#007bff,#0078ff,#007aff,#0089ff,#008cff,#0076ff,#0070ff,#08f,#0083ff,#08f,#0085ff,#0098ff,#009aff,#009cff,#00abff,#0bf,#00baff,#00bdff,#00b8ff,#00c5ff,#00c7ff,#00d6ff,#00d8ff,#00dbff,#00e3ff,#00deff,#00e8ff,#00ecff,#00e0ff,#00e4ff,#00d3ff,#00deff,#00d8ff,#00c7ff,#00d2ff,#00c3ff,#00b3ff,#00afff,#00b7ff,#00abff,#00b0ff,#00a0ff,#00a9ff,#00afff,#00a6ff,#00adff,#00a7ff,#00abff,#00abff,#00b6ff,#00a2ff,#00aeff,#00b1ff,#00a3ff,#0af,#00b7ff,#00afff,#09f,#00abff,#00a7ff,#00b7ff,#00b6ff,#00bdff,#00c3ff,#00d2ff,#00d4ff,#00d7ff,#00e1ff,#00eaff,#00e7ff,#00f3ff,#00e5ff,#00f1ff,#00edff,#00f9ff,#00edff,#0ef,#00ebff,#00feff,#00f8ff,#00efff,#00f4ff,#00f2ff,#0ff,#00faff,#0ef,#00faff,#00feff,#00faff 180.5px)"></i>
<i style="left:97px;top:362px;width:19px;height:179px;background:linear-gradient(#00fdff .5px,#00fbff,#00feff,#0ff,#00fbff,#00fffd,#00fffd,#00fffd,#00feff,#00feff,#00fff9,#00fff5,#00f9ff,#00fffb,#00fff0,#00fff1,#00fff8,#00ffed,#00fff8,#00fff6,#00ffe8,#00fff2,#00fff0,#00fff5,#00fff2,#00fff1,#00ffec,#00fff2,#00ffe4,#00ffe9,#00ffea,#00ffe9,#00ffe1,#00ffdb,#00ffe1,#00ffd6,#00ffd4,#00ffd3,#00ffd4,#00ffd9,#00ffce,#00ffd0,#00ffcb,#00ffd1,#00ffc8,#00ffc4,#00ffc6,#00ffbf,#00ffb8,#00ffba,#00ffba,#00ffae,#00ffb9,#00ffb3,#00ffac,#00ffac,#00ffae,#00ffa4,#00ff9f,#00ffa1,#00ff98,#00ff98,#00ff93,#00ff98,#00ff91,#00ff8b,#00ff87,#00ff87,#0f8,#00ff85,#00ff84,#00ff80,#00ff87,#0f8,#00ff90,#00ff92,#00ff8d,#00ff94,#00ff96,#00ff9c,#00ff95,#00ff8f,#00ff94,#00ff93,#00ff8d,#00ff8b,#00ff89,#0f8,#00ff86,#00ff84,#00ff7f,#00ff7e,#00ff7a,#00ff7b,#00ff76,#00ff76,#00ff73,#00ff70,#00ff6f,#00ff6d,#00ff6d,#00ff68,#00ff65,#00ff65,#00ff62,#00ff5e,#0f5,#00ff4a,#00ff40,#00ff39,#00ff32,#00ff28,#00ff21,#00ff16,#00ff0b,#00ff04,#0bff00,#2f0,#36ff00,#4cff00,#62ff00,#65ff00,#63ff00,#6f0,#67ff00,#63ff00,#63ff00,#6f0,#69ff00,#68ff00,#69ff00,#69ff00,#97ff00,#ffd800,#ffd200,#ffcd00,#ffc800,#ffc600,#ffc400,#ffc400,#ffc200,#ffc200,#ffc000,#ffc300,#ffbc00,#ffbc00,#ffb300,#ffae00,#ffa600,#ffa100,#ff9c00,#f90,#ff9700,#ff9800,#f90,#ff9600,#ff9400,#ff9400,#ff9000,#ff8c00,#ff8600,#ff7a00,#ff6e00,#ff6200,#ff5400,#ff4600,#ff3b00,#ff2f00,#f20,#ff1800,#ff1000,#ff0a00,#ff0400,#ff0300,#ff0100,#f00,#ff0200,#f00,#f00 178.5px)"></i>
<i style="left:116px;top:0px;width:20px;height:181px;background:linear-gradient(#0200ff .5px,#0013ff,#000bff,#01f,#0023ff,#001dff,#0017ff,#0008ff,#001cff,#1200ff,#0013ff,#0012ff,#002eff,#001bff,#0030ff,#0032ff,#0010ff,#02f,#0012ff,#001fff,#0024ff,#001eff,#0024ff,#0015ff,#0e00ff,#0025ff,#0019ff,#0029ff,#003dff,#003fff,#0034ff,#0023ff,#001dff,#003dff,#0023ff,#0025ff,#0029ff,#0031ff,#001bff,#0013ff,#0028ff,#003eff,#001eff,#002aff,#002eff,#0002ff,#001aff,#0026ff,#0007ff,#0012ff,#0015ff,#003bff,#0100ff,#0029ff,#1300ff,#1e00ff,#000aff,#0014ff,#000bff,#004fff,#0015ff,#0019ff,#0032ff,#002aff,#0001ff,#001bff,#0012ff,#0019ff,#001aff,#001bff,#004cff,#02f,#0017ff,#0037ff,#0014ff,#003eff,#03f,#003fff,#003cff,#0021ff,#0041ff,#0005ff,#0024ff,#0020ff,#0035ff,#0037ff,#0023ff,#0025ff,#000fff,#0038ff,#001dff,#0035ff,#003aff,#0006ff,#001cff,#001aff,#002eff,#001dff,#0026ff,#0039ff,#0029ff,#0023ff,#0014ff,#003bff,#003fff,#0014ff,#0025ff,#0006ff,#002bff,#002dff,#004dff,#0029ff,#000cff,#001eff,#0029ff,#001aff,#000bff,#003bff,#0300ff,#001eff,#0012ff,#0035ff,#0037ff,#0018ff,#0039ff,#003cff,#0048ff,#0032ff,#0027ff,#0017ff,#0038ff,#002bff,#0032ff,#0001ff,#0018ff,#0041ff,#0021ff,#0021ff,#001bff,#0037ff,#0027ff,#0040ff,#002cff,#0043ff,#0041ff,#005bff,#0013ff,#0030ff,#002bff,#1000ff,#0040ff,#0010ff,#001bff,#003aff,#0049ff,#0028ff,#004fff,#003dff,#0029ff,#04f,#0003ff,#002cff,#0036ff,#0060ff,#001eff,#0028ff,#0025ff,#0017ff,#0049ff,#03f,#0036ff,#0039ff,#003fff,#001dff,#0039ff,#0024ff,#0034ff,#0034ff,#0024ff,#0024ff,#0039ff 180.5px)"></i>
<i style="left:116px;top:181px;width:20px;height:181px;background:linear-gradient(#0021ff .5px,#0016ff,#04f,#0027ff,#003eff,#0039ff,#0026ff,#0039ff,#03f,#003cff,#0048ff,#0027ff,#003cff,#0037ff,#0041ff,#0047ff,#0032ff,#003cff,#002eff,#0037ff,#0034ff,#0008ff,#0030ff,#003fff,#0046ff,#0039ff,#003cff,#0049ff,#003eff,#0040ff,#0041ff,#0038ff,#04f,#0051ff,#0034ff,#005eff,#0048ff,#004bff,#0038ff,#002dff,#003aff,#0027ff,#0052ff,#0046ff,#003cff,#0034ff,#002cff,#0040ff,#004fff,#0034ff,#0041ff,#003dff,#0048ff,#04f,#0050ff,#0045ff,#0051ff,#0039ff,#05f,#0041ff,#003bff,#0048ff,#0040ff,#0043ff,#003cff,#0049ff,#004fff,#0057ff,#0047ff,#005fff,#0046ff,#0039ff,#04f,#004cff,#005bff,#004dff,#004fff,#005eff,#004eff,#0067ff,#0065ff,#0058ff,#0064ff,#0060ff,#0060ff,#006cff,#0069ff,#0075ff,#0070ff,#0063ff,#0074ff,#007aff,#0079ff,#006cff,#0075ff,#0071ff,#007bff,#0079ff,#0087ff,#0085ff,#0096ff,#008bff,#0082ff,#0091ff,#00a5ff,#009cff,#00a6ff,#00b1ff,#0bf,#00bfff,#00beff,#00beff,#00c9ff,#00d7ff,#00d0ff,#00e2ff,#0ef,#00dcff,#00e8ff,#00dfff,#00deff,#00e2ff,#00deff,#00d3ff,#00d1ff,#00cdff,#00cdff,#00b7ff,#00b1ff,#00bcff,#00b1ff,#00a2ff,#00a7ff,#00adff,#00a1ff,#00a5ff,#00a8ff,#009fff,#009cff,#00a8ff,#00a3ff,#00a4ff,#009eff,#00a6ff,#00a8ff,#00a3ff,#00a3ff,#009dff,#009fff,#009bff,#00a3ff,#00a4ff,#009fff,#009cff,#00a3ff,#00afff,#00bdff,#00b7ff,#0cf,#00deff,#0df,#00e6ff,#00efff,#00ecff,#00e8ff,#00e8ff,#00ecff,#00f0ff,#00f2ff,#00f7ff,#00efff,#00f7ff,#00f8ff,#00f5ff,#00fcff,#00f8ff,#00fbff,#00f6ff,#00f6ff,#00f8ff,#00fff9 180.5px)"></i>
<i style="left:116px;top:362px;width:20px;height:179px;background:linear-gradient(#00feff .5px,#00feff,#00f9ff,#0ff,#00f9ff,#00fffd,#00fffe,#00feff,#00fffb,#00fbff,#00fcff,#00fff8,#00feff,#00fdff,#00fff3,#00fff5,#00fff5,#00fff6,#00fffa,#00fff1,#00fff3,#00fff5,#00ffef,#00ffed,#0fe,#00ffe9,#00ffe9,#00fff0,#00ffe7,#00ffea,#00ffe1,#00fff2,#00ffe6,#00ffe2,#00ffde,#00ffe4,#00ffde,#00ffda,#00ffdb,#00ffd4,#00ffd7,#00ffd5,#00ffcb,#00ffd0,#0fc,#00ffc1,#00ffc2,#00ffc6,#00ffc1,#00ffc2,#00ffc1,#00ffbc,#00ffb6,#00ffb4,#00ffb5,#00ffb7,#00ffa9,#00ffad,#00ffa6,#00ffa3,#00ff9f,#00ffa2,#00ffa0,#00ff9c,#00ff97,#00ff94,#00ff96,#00ff8f,#00ff90,#00ff8b,#00ff89,#0f8,#00ff86,#00ff91,#00ff96,#00ff98,#0f9,#00ff9c,#00ff9e,#00ffa2,#00ffa0,#00ff9b,#00ff96,#00ff95,#00ff93,#00ff91,#00ff8e,#00ff8f,#00ff8a,#0f8,#00ff86,#00ff86,#00ff83,#00ff81,#00ff7c,#00ff7e,#00ff7a,#0f7,#0f7,#00ff73,#00ff6f,#00ff6e,#00ff6e,#00ff6a,#00ff69,#00ff65,#00ff57,#00ff4e,#00ff47,#00ff3a,#00ff31,#00ff26,#00ff1f,#00ff14,#00ff0e,#00ff04,#0fff00,#25ff00,#3eff00,#53ff00,#5bff00,#5eff00,#5dff00,#60ff00,#a0ff00,#feff00,#fffc00,#fff600,#fe0,#ffe700,#ffda00,#ffce00,#ffc400,#fb0,#ffb700,#ffb600,#ffb500,#ffb500,#ffb300,#ffb200,#ffb400,#ffb000,#ffb400,#ffb300,#ffb000,#ffae00,#ffa400,#ff9c00,#ff9200,#ff8100,#ff7300,#ff6700,#ff6200,#ff5e00,#ff5c00,#ff5a00,#ff5900,#ff5b00,#ff5800,#ff5800,#ff5600,#ff5100,#ff4b00,#ff4000,#ff3400,#ff2300,#ff1400,#ff0c00,#ff0400,#f00,#f00,#f00,#f00,#f00,#f00,#f00,#ff0100,#f00,#f00 178.5px)"></i>
<i style="left:136px;top:0px;width:19px;height:181px;background:linear-gradient(#002aff .5px,#000dff,#0007ff,#002cff,#000dff,#0023ff,#0037ff,#0026ff,#02f,#0006ff,#002bff,#003dff,#0019ff,#0100ff,#0010ff,#001cff,#0009ff,#0009ff,#0800ff,#0026ff,#0016ff,#000fff,#0019ff,#01f,#02f,#0023ff,#002fff,#0b00ff,#001aff,#001cff,#0020ff,#000dff,#0018ff,#0019ff,#000dff,#000cff,#002cff,#0017ff,#01f,#003aff,#0032ff,#001cff,#0024ff,#000dff,#001dff,#0004ff,#0035ff,#001dff,#001fff,#0012ff,#0300ff,#003dff,#0024ff,#0010ff,#0028ff,#0008ff,#001cff,#0028ff,#000aff,#002dff,#01f,#0005ff,#0024ff,#0023ff,#0018ff,#0021ff,#001eff,#002aff,#000cff,#0017ff,#0001ff,#000fff,#0008ff,#0013ff,#0036ff,#0018ff,#0012ff,#0200ff,#0016ff,#0048ff,#0032ff,#0018ff,#0028ff,#0018ff,#0025ff,#0032ff,#001cff,#0030ff,#001dff,#0008ff,#0034ff,#0034ff,#0026ff,#0003ff,#002cff,#000eff,#001fff,#0023ff,#0039ff,#0500ff,#0030ff,#0020ff,#001bff,#0018ff,#003eff,#0031ff,#0031ff,#0024ff,#002aff,#0019ff,#02f,#0023ff,#0031ff,#0023ff,#001bff,#0006ff,#000fff,#001bff,#000dff,#0018ff,#0024ff,#0017ff,#001cff,#0040ff,#0035ff,#0035ff,#03f,#0018ff,#0032ff,#004bff,#0021ff,#0024ff,#0047ff,#0040ff,#0026ff,#0045ff,#0037ff,#001eff,#001fff,#003cff,#0036ff,#0017ff,#01f,#0038ff,#0023ff,#001eff,#000dff,#0015ff,#001fff,#0045ff,#02f,#002fff,#001eff,#0047ff,#001dff,#002dff,#0016ff,#03f,#000aff,#002eff,#0032ff,#0026ff,#0030ff,#002fff,#004aff,#0026ff,#0037ff,#001cff,#0031ff,#002aff,#002bff,#002bff,#002fff,#001bff,#02f,#003bff,#0029ff,#0042ff,#0042ff,#0035ff,#0015ff 180.5px)"></i>
<i style="left:136px;top:181px;width:19px;height:181px;background:linear-gradient(#0038ff .5px,#003eff,#0037ff,#0045ff,#0020ff,#001fff,#02f,#002aff,#003bff,#0039ff,#0023ff,#001fff,#0021ff,#0037ff,#0043ff,#0040ff,#0026ff,#0016ff,#0026ff,#0035ff,#001bff,#003eff,#003eff,#0034ff,#0047ff,#0038ff,#001eff,#0046ff,#0038ff,#04f,#002eff,#002bff,#0043ff,#0039ff,#003eff,#003dff,#002eff,#0017ff,#0039ff,#003aff,#0038ff,#0039ff,#002eff,#003eff,#0043ff,#002cff,#005aff,#0021ff,#004eff,#0031ff,#004dff,#0027ff,#0038ff,#0048ff,#0039ff,#0050ff,#0050ff,#003aff,#03f,#0047ff,#0039ff,#003aff,#003cff,#0028ff,#0048ff,#0043ff,#0057ff,#004aff,#004aff,#0040ff,#0042ff,#004eff,#0046ff,#003dff,#0043ff,#0047ff,#0039ff,#04f,#0058ff,#003eff,#0059ff,#0067ff,#0056ff,#0064ff,#0062ff,#005dff,#05f,#0060ff,#0069ff,#0068ff,#0069ff,#0075ff,#0071ff,#006cff,#0074ff,#006aff,#0061ff,#006eff,#007bff,#0078ff,#0079ff,#007cff,#0079ff,#008cff,#0087ff,#0090ff,#009cff,#09f,#00b0ff,#00baff,#00baff,#00bcff,#00d4ff,#0cf,#00d8ff,#00deff,#00eaff,#00daff,#00ebff,#00e7ff,#00e0ff,#00d2ff,#00dfff,#00c2ff,#00c7ff,#00d3ff,#00c8ff,#00bdff,#00b7ff,#00aeff,#00b7ff,#00a7ff,#0af,#00aeff,#00a5ff,#00a6ff,#00aeff,#009bff,#00a4ff,#00acff,#00a2ff,#00a0ff,#00a5ff,#09f,#00a2ff,#00a6ff,#00a1ff,#00adff,#09f,#00a5ff,#00a5ff,#00a5ff,#009cff,#00adff,#00a5ff,#00acff,#00b3ff,#00baff,#00c4ff,#0cf,#00d6ff,#00e4ff,#00e3ff,#0df,#00e3ff,#00e7ff,#00e7ff,#00efff,#00f0ff,#00e6ff,#00f1ff,#00e9ff,#00f0ff,#00efff,#00efff,#00f6ff,#00f2ff,#00fdff,#00f6ff,#00faff,#00f3ff 180.5px)"></i>
<i style="left:136px;top:362px;width:19px;height:179px;background:linear-gradient(#00fffd .5px,#00f3ff,#00f3ff,#00efff,#00fffe,#00feff,#00f7ff,#00f0ff,#00f6ff,#00fbff,#00fffe,#00fffd,#00fffe,#00feff,#00fbff,#00f1ff,#00fff7,#00fdff,#00fffa,#00fff4,#00fdff,#00fff9,#00fff4,#00fffa,#00fff9,#00ffec,#00fff4,#00fff2,#00ffea,#00ffef,#00ffe8,#00fff4,#00ffe8,#00ffe1,#00ffec,#00fff0,#00ffe3,#00ffdc,#00ffd9,#00ffe3,#00ffe1,#00ffe3,#00ffd1,#00ffcd,#00ffd1,#00ffce,#00ffd1,#00ffca,#00ffcb,#00ffc7,#00ffc8,#00ffc4,#00ffbf,#00ffbc,#00ffc0,#00ffb1,#00ffb1,#00ffb3,#00ffae,#00ffb1,#00ffa9,#00ffa3,#00ffab,#00ffa5,#00ffa3,#00ff9e,#00ff9b,#00ff9d,#00ff97,#00ff9b,#00ff8f,#00ff93,#00ff92,#00ff97,#00ff97,#00ff97,#00ff9d,#00ffa1,#00ffa1,#00ff9f,#00ff98,#00ff97,#00ff8f,#00ff87,#00ff85,#00ff7f,#00ff79,#00ff74,#00ff6e,#00ff69,#00ff68,#00ff5f,#00ff57,#00ff57,#00ff4f,#00ff4b,#00ff45,#00ff3e,#00ff39,#00ff36,#00ff31,#00ff28,#00ff26,#00ff20,#00ff1a,#00ff18,#0f1,#00ff0c,#00ff06,#00ff02,#09ff00,#16ff00,#21ff00,#30ff00,#3eff00,#4aff00,#52ff00,#53ff00,#56ff00,#70ff00,#fffe00,#ff0,#fffc00,#ff0,#fffe00,#fffe00,#fffb00,#fff800,#fff000,#ffec00,#ffe100,#ffd300,#ffc800,#ffbf00,#ffb800,#ffb500,#ffb500,#ffb600,#ffb200,#ffb200,#ffb100,#fa0,#ffa100,#ff9800,#ff8c00,#ff8100,#ff7a00,#ff7300,#ff7200,#ff6f00,#ff7200,#ff7100,#ff6c00,#ff6c00,#ff6d00,#ff6b00,#ff6c00,#ff6d00,#ff6900,#f60,#ff5d00,#ff5100,#ff4200,#ff2e00,#ff1d00,#ff0d00,#ff0600,#ff0100,#f00,#f00,#f00,#ff0100,#ff0100,#f00,#ff0100,#f00,#ff0100,#f00,#f00 178.5px)"></i>
<i style="left:155px;top:0px;width:19px;height:181px;background:linear-gradient(#0100ff .5px,#000bff,#0023ff,#000fff,#0800ff,#002cff,#0029ff,#0012ff,#002bff,#02f,#000dff,#0005ff,#000dff,#0025ff,#0015ff,#1400ff,#0026ff,#0012ff,#0017ff,#0016ff,#001eff,#001aff,#02f,#000cff,#002bff,#0400ff,#003aff,#0003ff,#0017ff,#000eff,#000fff,#03f,#001bff,#001eff,#0005ff,#001fff,#002fff,#0021ff,#0032ff,#001eff,#001dff,#0018ff,#000eff,#0020ff,#0020ff,#0026ff,#000fff,#0600ff,#0041ff,#1600ff,#000aff,#001cff,#0900ff,#0020ff,#0015ff,#000bff,#0032ff,#0043ff,#0024ff,#0b00ff,#001eff,#002eff,#001bff,#000fff,#0006ff,#0020ff,#0016ff,#0016ff,#0016ff,#0400ff,#0005ff,#0026ff,#0012ff,#0038ff,#0018ff,#0030ff,#0008ff,#4100ff,#0031ff,#02f,#001aff,#0019ff,#0014ff,#000fff,#001bff,#0034ff,#0036ff,#001cff,#002fff,#002cff,#000cff,#001bff,#001eff,#0029ff,#0029ff,#0b00ff,#001fff,#001cff,#000cff,#0004ff,#0013ff,#0008ff,#0038ff,#0025ff,#0025ff,#001bff,#0002ff,#0a00ff,#000dff,#000aff,#01f,#002aff,#002bff,#000dff,#0017ff,#0400ff,#0041ff,#001aff,#000cff,#0015ff,#0028ff,#002cff,#0019ff,#0042ff,#002cff,#001eff,#003bff,#0015ff,#0028ff,#0025ff,#0019ff,#001bff,#000cff,#001fff,#0019ff,#0500ff,#0027ff,#0034ff,#002eff,#003bff,#0014ff,#0014ff,#0034ff,#0026ff,#0017ff,#004aff,#0013ff,#0030ff,#002dff,#0020ff,#0026ff,#0029ff,#002fff,#0016ff,#02f,#0025ff,#0019ff,#002cff,#001eff,#0027ff,#0032ff,#0014ff,#002fff,#0032ff,#001aff,#0038ff,#02f,#0023ff,#002eff,#001fff,#0014ff,#002cff,#03f,#003fff,#0026ff,#0025ff,#0031ff,#0020ff,#0031ff,#0016ff,#003eff 180.5px)"></i>
<i style="left:155px;top:181px;width:19px;height:181px;background:linear-gradient(#0038ff .5px,#0018ff,#002eff,#0032ff,#001aff,#0020ff,#0029ff,#001bff,#0029ff,#0048ff,#0016ff,#04f,#0034ff,#0046ff,#0027ff,#0021ff,#0031ff,#002dff,#0034ff,#003dff,#0039ff,#0041ff,#003cff,#004bff,#0031ff,#0042ff,#002cff,#0012ff,#03f,#002fff,#001eff,#0023ff,#0040ff,#0021ff,#0038ff,#0026ff,#0031ff,#003cff,#003fff,#0040ff,#0021ff,#0045ff,#0051ff,#002cff,#001fff,#0032ff,#0038ff,#003fff,#002bff,#0043ff,#0041ff,#0023ff,#0048ff,#004dff,#0037ff,#0042ff,#0041ff,#0032ff,#003cff,#0023ff,#0029ff,#004cff,#0038ff,#0046ff,#003eff,#0045ff,#04f,#0040ff,#0047ff,#0035ff,#0035ff,#003eff,#0037ff,#004bff,#0059ff,#0052ff,#004bff,#004cff,#04f,#0040ff,#0054ff,#0042ff,#05f,#0053ff,#005cff,#0058ff,#005aff,#0056ff,#004eff,#005bff,#0065ff,#0069ff,#006cff,#005aff,#005cff,#0069ff,#0061ff,#0078ff,#0069ff,#005cff,#0064ff,#0074ff,#005dff,#0070ff,#006fff,#008dff,#08f,#008dff,#0092ff,#00a2ff,#00a0ff,#00b6ff,#00d1ff,#00cdff,#00d2ff,#00d2ff,#00e0ff,#0df,#00daff,#00e4ff,#00dbff,#00cfff,#00daff,#00cdff,#00cdff,#00c7ff,#00caff,#00c3ff,#00baff,#00bdff,#00b4ff,#00b4ff,#0bf,#00a8ff,#00a6ff,#00a7ff,#00a4ff,#00acff,#09f,#00afff,#00abff,#009fff,#00a3ff,#00a0ff,#00a6ff,#00a5ff,#00a6ff,#00a6ff,#00adff,#00a1ff,#00a6ff,#00a1ff,#00a2ff,#00a3ff,#00a2ff,#00a9ff,#0af,#00b5ff,#00baff,#00bdff,#00c5ff,#00caff,#00d1ff,#00cdff,#00d9ff,#00d8ff,#00deff,#00e8ff,#0ef,#00eaff,#00e7ff,#00e7ff,#00f1ff,#00e2ff,#00f1ff,#00e4ff,#00e9ff,#00edff,#00ecff,#00f6ff,#00f1ff 180.5px)"></i>
<i style="left:155px;top:362px;width:19px;height:179px;background:linear-gradient(#0ef .5px,#00f4ff,#00f0ff,#00ecff,#00f6ff,#00f9ff,#00f8ff,#00ecff,#00fcff,#00f1ff,#00f7ff,#00faff,#00fffe,#00edff,#00f1ff,#00fdff,#00fbff,#00f8ff,#00edff,#0ff,#00fdff,#00f3ff,#00fff1,#00f7ff,#00fffd,#00fff9,#00fff7,#00fff3,#00fff6,#00fff8,#00fff4,#00fffa,#00fff4,#00ffe6,#00fff0,#00ffec,#00ffe3,#00ffe5,#00ffe7,#00ffe3,#00ffe4,#00ffe4,#00ffdb,#00ffdc,#00ffd4,#00ffd9,#00ffd7,#00ffd2,#00ffd1,#00ffd0,#00ffcf,#00ffc9,#00ffc7,#00ffc0,#00ffc3,#00ffc6,#00ffbd,#00ffb5,#0fb,#00ffb9,#00ffb5,#00ffba,#00ffb0,#00ffad,#00ffae,#00ffa6,#00ffa8,#00ffa8,#00ffa2,#00ff9c,#00ff95,#00ff97,#00ff9c,#00ffa0,#00ffa2,#00ffa2,#00ffa8,#00ffa8,#0fa,#00ffad,#0fa,#00ffa5,#00ffa2,#00ffa0,#00ff9d,#0f9,#00ff93,#00ff91,#00ff93,#00ff8d,#00ff8a,#00ff87,#00ff86,#00ff81,#00ff7e,#00ff7c,#0f7,#00ff78,#00ff74,#00ff6f,#00ff62,#00ff56,#00ff4a,#00ff3c,#00ff2f,#0f2,#00ff17,#00ff0b,#05ff00,#15ff00,#27ff00,#37ff00,#47ff00,#50ff00,#4fff00,#52ff00,#52ff00,#4eff00,#53ff00,#54ff00,#54ff00,#52ff00,#52ff00,#5f0,#6f0,#ffc800,#ffc900,#ffc800,#ffc500,#ffc600,#ffc500,#ffc300,#ffc100,#ffc400,#ffc100,#ffbe00,#ffbf00,#ffbe00,#ffbc00,#ffbd00,#ffbd00,#ffba00,#ffb800,#ffb800,#ffb800,#ffb300,#ffad00,#ffa400,#ff9600,#ff8400,#ff7500,#ff6a00,#ff6200,#ff5e00,#ff5b00,#ff5b00,#ff5c00,#ff5800,#ff5900,#ff5400,#ff4d00,#ff4200,#ff3500,#ff2500,#ff1700,#ff0d00,#ff0600,#ff0100,#ff0100,#f00,#ff0100,#ff0100,#ff0100,#ff0100,#f00,#f00,#f00,#ff0100,#f00 178.5px)"></i>
<i style="left:174px;top:0px;width:20px;height:181px;background:linear-gradient(#0016ff .5px,#0700ff,#0200ff,#0003ff,#0026ff,#04f,#0014ff,#0013ff,#000cff,#0009ff,#0300ff,#002dff,#000bff,#0013ff,#001dff,#0018ff,#0016ff,#0012ff,#0d00ff,#001aff,#001aff,#0023ff,#0003ff,#2700ff,#0024ff,#001dff,#0b00ff,#001fff,#1500ff,#0019ff,#000aff,#0020ff,#0018ff,#0030ff,#0019ff,#001bff,#0007ff,#000dff,#0e00ff,#0017ff,#00f,#02f,#001eff,#0038ff,#0023ff,#0023ff,#0038ff,#001eff,#03f,#0032ff,#003aff,#02f,#0028ff,#0013ff,#0032ff,#0003ff,#000eff,#001bff,#001cff,#02f,#02f,#001eff,#0d00ff,#1900ff,#0025ff,#0013ff,#002eff,#0040ff,#0021ff,#002aff,#001dff,#0026ff,#003fff,#0004ff,#001dff,#0008ff,#000aff,#0018ff,#02f,#0038ff,#0100ff,#0026ff,#002dff,#002dff,#0300ff,#001cff,#0036ff,#0018ff,#0024ff,#0028ff,#002aff,#0600ff,#0019ff,#0014ff,#001cff,#002eff,#0027ff,#002aff,#0026ff,#0027ff,#0021ff,#003bff,#002fff,#000fff,#001dff,#000bff,#002bff,#0023ff,#000aff,#0050ff,#0014ff,#000fff,#0019ff,#0026ff,#003dff,#0019ff,#0005ff,#0026ff,#0014ff,#0034ff,#001bff,#000cff,#0026ff,#001bff,#0023ff,#0016ff,#0034ff,#0025ff,#0026ff,#0020ff,#0034ff,#20f,#0025ff,#0017ff,#0031ff,#000eff,#002dff,#0009ff,#0012ff,#003aff,#001fff,#0024ff,#0014ff,#0034ff,#001dff,#0028ff,#03f,#002fff,#002eff,#000cff,#0036ff,#0041ff,#003fff,#0003ff,#002dff,#03f,#0037ff,#0037ff,#0018ff,#0015ff,#002aff,#003fff,#001bff,#0043ff,#0008ff,#002fff,#0021ff,#0013ff,#0027ff,#0039ff,#003dff,#003dff,#0008ff,#0038ff,#0030ff,#0028ff,#0007ff,#004bff,#0023ff,#0018ff,#0030ff 180.5px)"></i>
<i style="left:174px;top:181px;width:20px;height:181px;background:linear-gradient(#1900ff .5px,#0058ff,#002cff,#001bff,#0035ff,#0025ff,#003bff,#0035ff,#002dff,#002aff,#003fff,#003bff,#003bff,#001bff,#003cff,#0034ff,#004fff,#002bff,#03f,#0021ff,#003aff,#003aff,#0200ff,#001fff,#03f,#0040ff,#003dff,#0017ff,#004aff,#0037ff,#002fff,#0036ff,#003dff,#003bff,#002bff,#0034ff,#003aff,#004bff,#0028ff,#0041ff,#0042ff,#004bff,#003aff,#0038ff,#0026ff,#002dff,#003aff,#0047ff,#0041ff,#0054ff,#003dff,#0058ff,#003fff,#04f,#004cff,#0030ff,#003dff,#003aff,#003aff,#0032ff,#0041ff,#0045ff,#0050ff,#003cff,#003aff,#0043ff,#0051ff,#0040ff,#0050ff,#0046ff,#004cff,#0056ff,#003bff,#0047ff,#0059ff,#0041ff,#004eff,#0050ff,#004dff,#0047ff,#0050ff,#0050ff,#0067ff,#0061ff,#0067ff,#0058ff,#006aff,#0069ff,#0073ff,#06f,#0076ff,#007eff,#0085ff,#0073ff,#0075ff,#07f,#008cff,#008dff,#008fff,#008aff,#009dff,#00a3ff,#009bff,#009eff,#00abff,#0af,#00b4ff,#00acff,#00b5ff,#00b4ff,#00b7ff,#00bcff,#00c0ff,#00caff,#00c8ff,#00cfff,#00cdff,#00ceff,#00dfff,#00d0ff,#00e2ff,#00dcff,#00c6ff,#00cbff,#00c5ff,#00c1ff,#00b9ff,#00b0ff,#00b5ff,#00a6ff,#00a6ff,#0095ff,#0091ff,#009dff,#0094ff,#008fff,#0094ff,#009cff,#0094ff,#0091ff,#09f,#009bff,#0094ff,#0093ff,#0093ff,#00a5ff,#0094ff,#009fff,#0094ff,#0098ff,#008aff,#0096ff,#0096ff,#0094ff,#0093ff,#008eff,#008dff,#0096ff,#0095ff,#009eff,#00a4ff,#00a8ff,#00adff,#00c2ff,#00b8ff,#00c1ff,#00c7ff,#00c5ff,#00c8ff,#00d4ff,#00d7ff,#00d5ff,#00e8ff,#00deff,#00e2ff,#00daff,#00e6ff,#00ecff,#00e3ff,#00f1ff,#00e6ff 180.5px)"></i>
<i style="left:174px;top:362px;width:20px;height:179px;background:linear-gradient(#00e5ff .5px,#00ebff,#00e8ff,#00f0ff,#00e8ff,#00efff,#00e5ff,#00f0ff,#00f6ff,#00f0ff,#00f4ff,#00f8ff,#0ef,#0ef,#00f6ff,#00f8ff,#00f7ff,#00f5ff,#00fffd,#00f7ff,#00fdff,#0ff,#00fffa,#00fffe,#00fffe,#00fff0,#00fffb,#00fff3,#00fff5,#00fff5,#00fff2,#00fff1,#0fe,#00fff8,#00ffec,#00ffea,#00ffed,#00ffe9,#0fd,#0fd,#00ffe0,#00ffdf,#00ffdf,#00ffd7,#00ffdb,#00ffda,#00ffd3,#00ffd7,#00ffd4,#00ffca,#00ffd2,#00ffcb,#00ffc8,#00ffc6,#00ffc9,#00ffc3,#00ffc1,#00ffb8,#00ffb8,#0fb,#00ffb4,#00ffb2,#00ffb2,#00ffaf,#00ffad,#00ffae,#00ffa9,#00ffa2,#00ff9f,#00ff9b,#00ff9d,#00ff9b,#00ffa5,#00ffa4,#0fa,#00ffa8,#00ffb1,#00ffb3,#00ffb7,#00ffb4,#00ffb0,#00ffb1,#00ffa8,#00ffa9,#00ffa8,#00ffa3,#00ffa0,#00ff9c,#00ff9a,#00ff94,#00ff93,#00ff93,#00ff8e,#00ff8b,#00ff8b,#00ff87,#00ff85,#00ff84,#00ff7d,#00ff7b,#00ff76,#00ff76,#00ff6a,#00ff5d,#00ff51,#00ff46,#00ff3c,#00ff2b,#00ff21,#00ff15,#00ff08,#05ff00,#17ff00,#2aff00,#3eff00,#4fff00,#5bff00,#59ff00,#5bff00,#5aff00,#5dff00,#5bff00,#60ff00,#5dff00,#5eff00,#5dff00,#5eff00,#5eff00,#73ff00,#daff00,#fffe00,#fffc00,#fffc00,#fffb00,#fff700,#fff100,#ffe600,#ffd800,#ffc600,#ffb400,#ffa400,#ff9400,#ff8200,#ff7300,#ff6200,#ff5300,#ff4600,#ff3b00,#ff3200,#ff2900,#ff1f00,#ff1500,#ff0d00,#ff0500,#ff0300,#f00,#f00,#f00,#f00,#ff0100,#f00,#f00,#ff0100,#ff0100,#f00,#ff0100,#ff0100,#f00,#f00,#f00,#f00,#f00,#f00,#f00,#ff0200,#ff0100,#f00,#ff0100,#f00 178.5px)"></i>
<i style="left:194px;top:0px;width:19px;height:181px;background:linear-gradient(#0021ff .5px,#1c00ff,#0014ff,#003cff,#000aff,#0040ff,#01f,#0004ff,#0020ff,#0016ff,#02f,#0024ff,#000cff,#001fff,#000cff,#0015ff,#0020ff,#001eff,#000cff,#001dff,#000bff,#0034ff,#0029ff,#1600ff,#0021ff,#0005ff,#0025ff,#0009ff,#01f,#003dff,#000aff,#000dff,#0016ff,#0027ff,#0030ff,#0029ff,#03f,#000eff,#0006ff,#0c00ff,#001dff,#000dff,#001dff,#000fff,#0014ff,#01f,#0002ff,#0013ff,#0038ff,#002bff,#0200ff,#0047ff,#00f,#0029ff,#0002ff,#000aff,#02f,#0a00ff,#0013ff,#0014ff,#001fff,#0027ff,#0014ff,#0014ff,#000bff,#03f,#0016ff,#0004ff,#002dff,#003bff,#0010ff,#0025ff,#0023ff,#0026ff,#0015ff,#0700ff,#0023ff,#00f,#001cff,#002bff,#01f,#0001ff,#02f,#001cff,#001fff,#0f00ff,#0012ff,#02f,#002aff,#002eff,#0023ff,#0012ff,#0046ff,#0018ff,#001bff,#0034ff,#002dff,#0002ff,#0005ff,#002cff,#003bff,#0014ff,#0028ff,#0004ff,#0016ff,#0014ff,#0015ff,#001cff,#0018ff,#0014ff,#0043ff,#0027ff,#0021ff,#0040ff,#0029ff,#002cff,#0023ff,#0012ff,#0026ff,#0045ff,#001cff,#0036ff,#0015ff,#001eff,#002fff,#0016ff,#0040ff,#0042ff,#0037ff,#0027ff,#0040ff,#001cff,#0020ff,#003eff,#0028ff,#001cff,#0037ff,#0039ff,#002fff,#0025ff,#0032ff,#000eff,#0042ff,#0024ff,#0026ff,#0037ff,#0035ff,#001eff,#004cff,#0036ff,#0007ff,#003eff,#000dff,#0028ff,#0047ff,#0041ff,#0017ff,#0010ff,#001cff,#0015ff,#0029ff,#003bff,#000eff,#0014ff,#0c00ff,#0035ff,#0028ff,#0029ff,#0049ff,#0034ff,#000bff,#001eff,#0038ff,#0400ff,#0024ff,#0031ff,#0020ff,#0035ff,#0043ff,#0047ff,#003aff 180.5px)"></i>
<i style="left:194px;top:181px;width:19px;height:181px;background:linear-gradient(#0027ff .5px,#001fff,#002cff,#0019ff,#002bff,#002fff,#0045ff,#0048ff,#03f,#0023ff,#0025ff,#0026ff,#003eff,#002eff,#001fff,#0018ff,#004bff,#0031ff,#0043ff,#0040ff,#0031ff,#0030ff,#0029ff,#002cff,#001bff,#0025ff,#0039ff,#003dff,#0041ff,#0041ff,#0065ff,#0032ff,#0039ff,#004aff,#0024ff,#003dff,#0037ff,#0040ff,#04f,#001fff,#0047ff,#002bff,#0040ff,#003fff,#0051ff,#0032ff,#0039ff,#0038ff,#0040ff,#004eff,#0031ff,#0031ff,#0052ff,#0031ff,#002bff,#0042ff,#0002ff,#0041ff,#0041ff,#003aff,#0037ff,#003dff,#004fff,#003aff,#004cff,#004cff,#003dff,#0051ff,#003cff,#006eff,#0047ff,#003eff,#0041ff,#0032ff,#0052ff,#0057ff,#0058ff,#004eff,#0061ff,#004bff,#0058ff,#0063ff,#0064ff,#005aff,#0060ff,#0071ff,#0068ff,#005bff,#007dff,#006bff,#0079ff,#007fff,#0080ff,#007eff,#007eff,#0087ff,#0082ff,#008aff,#08f,#0089ff,#0095ff,#00a8ff,#00a3ff,#00adff,#00b9ff,#00b0ff,#00c6ff,#00c5ff,#0cf,#00d9ff,#00dcff,#00e1ff,#00d0ff,#00d0ff,#00deff,#0df,#00cdff,#00e7ff,#00e4ff,#00e6ff,#0ef,#00e7ff,#0df,#00cdff,#00d3ff,#00c9ff,#00c8ff,#00c3ff,#00baff,#00b6ff,#00b4ff,#00b1ff,#00b4ff,#00a4ff,#00a4ff,#00b6ff,#00a7ff,#00a6ff,#009aff,#00a8ff,#00a8ff,#00a4ff,#0092ff,#09f,#009aff,#009dff,#00a3ff,#00a1ff,#0091ff,#009bff,#009dff,#00a0ff,#009eff,#00a6ff,#009bff,#009cff,#00a5ff,#00a9ff,#00adff,#0bf,#00c3ff,#00c0ff,#00cbff,#00cdff,#00dbff,#00d9ff,#00d9ff,#00daff,#00e2ff,#00d3ff,#00dbff,#00e5ff,#00daff,#00d9ff,#00e1ff,#00e1ff,#00e8ff,#00e3ff,#00f1ff,#00edff,#00e9ff 180.5px)"></i>
<i style="left:194px;top:362px;width:19px;height:179px;background:linear-gradient(#00f0ff .5px,#00ecff,#00f1ff,#00ecff,#00f8ff,#00f5ff,#0ef,#00f4ff,#00f0ff,#00ebff,#00f3ff,#00f5ff,#00f0ff,#00fcff,#00fffc,#00f2ff,#00f5ff,#00f9ff,#00feff,#00f9ff,#00fdff,#00fff8,#00feff,#00fffa,#0ff,#00fff8,#00fff9,#00ffef,#00fff4,#00fff4,#00fff2,#00ffe9,#00ffea,#00ffed,#00fff1,#00ffe9,#00ffe3,#00ffe6,#00ffeb,#00ffe2,#00ffe2,#00ffdf,#00ffde,#00ffde,#00ffdc,#00ffd4,#00ffd4,#00ffd7,#00ffd7,#0fc,#0fc,#00ffcb,#00ffcb,#00ffc2,#00ffca,#00ffc5,#00ffc0,#00ffbe,#00ffbc,#00ffbf,#00ffb6,#00ffb2,#00ffb4,#00ffae,#00ffaf,#00ffab,#00ffa9,#00ffa7,#00ffa3,#00ff9d,#00ff9a,#00ff9b,#00ff9c,#00ffa1,#00ff9f,#00ff9e,#00ffa0,#00ffa2,#00ffa3,#00ff9e,#00ff9c,#00ffa1,#00ff93,#00ff95,#00ff93,#00ff8e,#00ff8d,#0f8,#00ff89,#00ff84,#00ff82,#00ff84,#00ff7b,#00ff7c,#00ff7b,#00ff76,#00ff72,#00ff72,#00ff6f,#00ff6c,#00ff69,#00ff67,#00ff56,#00ff4f,#00ff41,#00ff37,#00ff2f,#0f2,#00ff18,#00ff0c,#00ff02,#10ff00,#23ff00,#35ff00,#47ff00,#47ff00,#4dff00,#50ff00,#50ff00,#5f0,#56ff00,#58ff00,#59ff00,#5dff00,#5bff00,#5eff00,#63ff00,#67ff00,#68ff00,#68ff00,#6aff00,#7f0,#c5ff00,#e5ff00,#e8ff00,#e9ff00,#e9ff00,#e8ff00,#ff5b00,#ff5800,#ff5400,#ff5300,#ff5400,#ff5300,#ff4f00,#ff4f00,#ff4c00,#ff4a00,#ff4900,#ff4600,#f40,#ff4500,#ff4100,#ff4300,#ff4000,#ff3c00,#ff3c00,#ff3b00,#ff3800,#ff3700,#ff3500,#ff3000,#ff1f00,#ff0a00,#ff0100,#ff0100,#f00,#f00,#f00,#ff0100,#f00,#f00,#f00,#f00,#f00,#f00,#ff0100,#f00,#ff0200 178.5px)"></i>
<i style="left:213px;top:0px;width:19px;height:181px;background:linear-gradient(#0400ff .5px,#0021ff,#0023ff,#0026ff,#0010ff,#002cff,#001dff,#0c00ff,#1000ff,#0200ff,#2800ff,#0001ff,#0010ff,#0028ff,#0b00ff,#1400ff,#0014ff,#002bff,#0016ff,#0026ff,#000bff,#0014ff,#0400ff,#0021ff,#0018ff,#001eff,#0020ff,#0018ff,#0013ff,#001aff,#000dff,#0038ff,#000fff,#0017ff,#001fff,#000cff,#01f,#03f,#0007ff,#0023ff,#0014ff,#0004ff,#0003ff,#0005ff,#0013ff,#002cff,#001dff,#0c00ff,#0026ff,#00f,#000aff,#0012ff,#001fff,#003fff,#0002ff,#0200ff,#0003ff,#03f,#0027ff,#0009ff,#0012ff,#00f,#0002ff,#0004ff,#001eff,#0024ff,#000eff,#0035ff,#001aff,#0037ff,#0018ff,#001fff,#0010ff,#0016ff,#002bff,#0017ff,#0020ff,#0013ff,#0007ff,#001cff,#001cff,#0500ff,#0031ff,#001fff,#0015ff,#0900ff,#0012ff,#0009ff,#0c00ff,#0009ff,#0041ff,#001bff,#0008ff,#0031ff,#0023ff,#000dff,#0030ff,#000aff,#0900ff,#0800ff,#001fff,#0007ff,#002cff,#0200ff,#001bff,#000aff,#002cff,#000bff,#0012ff,#000fff,#03f,#001aff,#0034ff,#001dff,#0004ff,#0100ff,#0021ff,#0025ff,#3200ff,#000bff,#0025ff,#02f,#003aff,#0019ff,#0048ff,#0010ff,#0017ff,#0028ff,#0029ff,#001aff,#003aff,#0028ff,#0021ff,#01f,#0027ff,#03f,#001eff,#0004ff,#0009ff,#0034ff,#0042ff,#0038ff,#002cff,#1b00ff,#0013ff,#0016ff,#0017ff,#03f,#001fff,#0012ff,#002bff,#0036ff,#0021ff,#0008ff,#0032ff,#001bff,#0005ff,#2400ff,#0021ff,#0059ff,#0024ff,#0034ff,#0026ff,#001cff,#0014ff,#0026ff,#0012ff,#0012ff,#0026ff,#0024ff,#0017ff,#001fff,#0018ff,#0029ff,#0017ff,#0023ff,#0024ff,#0046ff,#0034ff,#0023ff,#000eff 180.5px)"></i>
<i style="left:213px;top:181px;width:19px;height:181px;background:linear-gradient(#003fff .5px,#003dff,#002cff,#003bff,#0018ff,#002bff,#004cff,#0025ff,#001bff,#0039ff,#0024ff,#0042ff,#0016ff,#002eff,#004eff,#002eff,#003dff,#0012ff,#001cff,#003eff,#0023ff,#0037ff,#03f,#002cff,#001dff,#0029ff,#003cff,#0028ff,#0032ff,#004fff,#0300ff,#002cff,#003bff,#0045ff,#0034ff,#0027ff,#03f,#0038ff,#0023ff,#002cff,#005cff,#0039ff,#0051ff,#1400ff,#0029ff,#0042ff,#0040ff,#0030ff,#0042ff,#0041ff,#0040ff,#0045ff,#002fff,#004bff,#002aff,#03f,#003bff,#0039ff,#0045ff,#0049ff,#002fff,#0053ff,#0035ff,#03f,#0034ff,#0041ff,#003dff,#004dff,#0035ff,#0028ff,#003cff,#004eff,#003eff,#0049ff,#0039ff,#05f,#004eff,#0058ff,#004eff,#0061ff,#0059ff,#0057ff,#0059ff,#0062ff,#005cff,#005cff,#006bff,#0073ff,#006dff,#007aff,#0082ff,#006dff,#007bff,#0074ff,#0079ff,#0081ff,#0070ff,#08f,#008cff,#008dff,#0096ff,#0af,#00a5ff,#0bf,#00c8ff,#00cdff,#00c8ff,#0df,#00e1ff,#00d8ff,#00e2ff,#00e8ff,#00e1ff,#00e2ff,#00ecff,#00dfff,#0df,#00e3ff,#00eaff,#00e7ff,#00e3ff,#00e0ff,#00e9ff,#00e3ff,#00ceff,#00d7ff,#00c1ff,#00d5ff,#00cbff,#00bfff,#00b9ff,#00bcff,#00b0ff,#00bcff,#00b2ff,#00a8ff,#00b0ff,#00b5ff,#00a3ff,#00a6ff,#00b0ff,#00a4ff,#009cff,#009fff,#00a2ff,#0097ff,#009dff,#0094ff,#0094ff,#0094ff,#00a2ff,#009fff,#00a2ff,#00a4ff,#009fff,#00a7ff,#00b3ff,#00beff,#00c0ff,#00cfff,#00dbff,#00e3ff,#00e0ff,#00e4ff,#00e7ff,#00e6ff,#00e9ff,#00ebff,#00eaff,#00edff,#00ecff,#00f0ff,#00ecff,#00e6ff,#00f6ff,#00f0ff,#00f1ff,#00efff,#00ecff,#00e6ff,#00efff 180.5px)"></i>
<i style="left:213px;top:362px;width:19px;height:179px;background:linear-gradient(#00ebff .5px,#00ebff,#00e3ff,#00f7ff,#00e9ff,#00eaff,#00f2ff,#00f3ff,#00edff,#00f1ff,#00f3ff,#00f3ff,#00f6ff,#00f7ff,#00f2ff,#0ef,#00fffc,#00f7ff,#00f5ff,#0ff,#00fffe,#00fcff,#00fff3,#00f6ff,#00fff5,#00fffa,#00fff7,#00fff5,#00fff6,#00fff2,#00fff8,#00fff3,#00ffe7,#00fff9,#00ffe7,#00fff4,#00ffed,#00ffe4,#00ffe8,#00ffe7,#00ffe8,#00ffe1,#00ffe0,#00ffdf,#00ffe1,#00ffd9,#00ffd6,#00ffd2,#00ffd2,#00ffcd,#0fc,#00ffd8,#00ffc7,#00ffcb,#0fc,#00ffc5,#00ffc2,#00ffc8,#00ffc5,#00ffbd,#00ffbe,#00ffb5,#00ffb6,#00ffb6,#00ffb5,#00ffad,#00ffb1,#00ffad,#0fa,#00ff9f,#00ff9c,#00ffa0,#00ffa0,#00ff9e,#00ff9e,#00ffa3,#00ff9d,#00ffa3,#00ffa0,#00ffa7,#00ff9f,#00ff9e,#00ff96,#00ff98,#00ff97,#00ff8f,#00ff91,#00ff8d,#00ff8d,#00ff87,#00ff85,#00ff84,#00ff81,#00ff7f,#00ff7d,#00ff7b,#00ff75,#00ff73,#00ff74,#00ff71,#00ff6c,#00ff67,#00ff65,#00ff5b,#00ff51,#00ff45,#00ff3c,#00ff2f,#00ff25,#00ff1b,#00ff0f,#00ff08,#05ff00,#1cff00,#28ff00,#3bff00,#43ff00,#49ff00,#49ff00,#4dff00,#4bff00,#4fff00,#51ff00,#52ff00,#56ff00,#56ff00,#59ff00,#5aff00,#5cff00,#5dff00,#60ff00,#61ff00,#62ff00,#6f0,#67ff00,#68ff00,#69ff00,#6dff00,#70ff00,#6eff00,#71ff00,#74ff00,#76ff00,#78ff00,#bf0,#ff0,#fffd00,#fff900,#ffde00,#ffad00,#f80,#ff7f00,#ff7d00,#ff7a00,#ff7800,#ff7800,#ff7500,#ff7400,#ff7200,#ff6e00,#ff6d00,#ff6c00,#ff6a00,#ff6800,#ff6400,#ff5900,#ff4000,#ff2300,#ff0d00,#f00,#ff0300,#ff0100,#f00,#f00,#f00,#f00,#f00,#f00,#f00 178.5px)"></i>
<i style="left:232px;top:0px;width:20px;height:181px;background:linear-gradient(#0019ff .5px,#01f,#0014ff,#0017ff,#0900ff,#1200ff,#0025ff,#1700ff,#1200ff,#0002ff,#0021ff,#000cff,#01f,#01f,#0021ff,#0400ff,#000eff,#000eff,#0600ff,#0008ff,#004aff,#0036ff,#0005ff,#0300ff,#0009ff,#0021ff,#0034ff,#001bff,#02f,#00f,#0032ff,#002cff,#0026ff,#0023ff,#0014ff,#000aff,#0600ff,#0031ff,#0019ff,#001aff,#002fff,#003fff,#0036ff,#000eff,#0028ff,#0001ff,#0029ff,#004cff,#0024ff,#0013ff,#0026ff,#1300ff,#001bff,#001fff,#0010ff,#001bff,#0010ff,#0021ff,#0034ff,#0030ff,#0026ff,#000dff,#0030ff,#0025ff,#001bff,#0009ff,#0018ff,#002dff,#0015ff,#03f,#000fff,#0013ff,#003bff,#002aff,#0030ff,#00f,#0028ff,#0013ff,#003bff,#001eff,#003fff,#001cff,#0025ff,#001dff,#000cff,#0026ff,#0041ff,#002aff,#2500ff,#001cff,#0021ff,#0015ff,#001bff,#0020ff,#002eff,#004fff,#003bff,#0020ff,#0034ff,#0037ff,#0032ff,#0017ff,#03f,#001dff,#0025ff,#0013ff,#002bff,#0013ff,#000eff,#002dff,#0019ff,#0013ff,#001fff,#000dff,#1900ff,#000dff,#0041ff,#0030ff,#003aff,#0008ff,#0047ff,#0200ff,#0019ff,#0010ff,#001dff,#0016ff,#0013ff,#0018ff,#0025ff,#0019ff,#0009ff,#004dff,#001dff,#0023ff,#0028ff,#0018ff,#001dff,#001eff,#0031ff,#000bff,#0012ff,#004bff,#002cff,#1600ff,#002bff,#0021ff,#003cff,#001bff,#0017ff,#0028ff,#0032ff,#004aff,#0031ff,#0037ff,#000fff,#003aff,#0018ff,#0035ff,#0019ff,#0021ff,#002eff,#002bff,#002bff,#003aff,#003bff,#002cff,#0030ff,#001dff,#02f,#0049ff,#0029ff,#002bff,#001eff,#000dff,#04f,#002dff,#0026ff,#0036ff,#0029ff,#0030ff,#0041ff 180.5px)"></i>
<i style="left:232px;top:181px;width:20px;height:181px;background:linear-gradient(#002eff .5px,#0018ff,#002bff,#002eff,#004cff,#0026ff,#0025ff,#0032ff,#0028ff,#0020ff,#0041ff,#002dff,#0037ff,#0014ff,#003fff,#04f,#0038ff,#002bff,#0031ff,#0053ff,#0035ff,#0047ff,#0048ff,#0019ff,#0049ff,#003cff,#0064ff,#002fff,#0036ff,#003eff,#0037ff,#04f,#0038ff,#0037ff,#0042ff,#002fff,#0039ff,#004dff,#002aff,#0039ff,#0027ff,#004cff,#002cff,#0036ff,#0038ff,#004aff,#0032ff,#003fff,#0051ff,#0052ff,#001fff,#0041ff,#003cff,#0050ff,#003dff,#001dff,#04f,#0036ff,#0068ff,#0037ff,#0053ff,#0051ff,#0049ff,#003fff,#0037ff,#003dff,#0051ff,#003eff,#004bff,#05f,#003aff,#0046ff,#004eff,#0051ff,#004fff,#005dff,#0042ff,#005eff,#0056ff,#0051ff,#0059ff,#005eff,#0059ff,#005eff,#006aff,#0079ff,#007eff,#0083ff,#0060ff,#0070ff,#07f,#007aff,#0083ff,#007fff,#0087ff,#009eff,#009cff,#0095ff,#0af,#00bfff,#00b9ff,#00b6ff,#00d5ff,#00beff,#00cdff,#00daff,#00deff,#00ecff,#00ebff,#00edff,#00e9ff,#00e8ff,#00e4ff,#00e5ff,#00e8ff,#00e4ff,#00e4ff,#00e9ff,#00f5ff,#00eaff,#00e5ff,#00edff,#00edff,#00e0ff,#00daff,#00d7ff,#00c8ff,#00d4ff,#00cdff,#0bf,#00c7ff,#00c0ff,#00c4ff,#00c0ff,#00b9ff,#00b5ff,#00b1ff,#00baff,#00b0ff,#00b2ff,#00a3ff,#00a3ff,#009fff,#009aff,#00a1ff,#0094ff,#0098ff,#00a0ff,#009eff,#00a1ff,#009cff,#0098ff,#0098ff,#009bff,#009eff,#00a5ff,#00a8ff,#00a6ff,#00b9ff,#00c2ff,#00c5ff,#00d0ff,#00d8ff,#00e1ff,#00e2ff,#00e7ff,#00f4ff,#00e9ff,#00f0ff,#00e9ff,#00ecff,#00efff,#0ef,#00faff,#00edff,#00fcff,#00f7ff,#00e7ff,#00f5ff,#00f6ff,#00f5ff 180.5px)"></i>
<i style="left:232px;top:362px;width:20px;height:179px;background:linear-gradient(#00efff .5px,#00f3ff,#00f5ff,#0ef,#00f3ff,#00f6ff,#00f9ff,#00f4ff,#00f4ff,#00f9ff,#00edff,#00f5ff,#00f9ff,#00f5ff,#00f8ff,#00fffd,#00fffd,#00faff,#00feff,#00fffd,#00fff4,#00fff7,#00fffb,#00fffb,#00fff8,#00fffb,#00fff2,#00fff4,#00ffeb,#00fff0,#0fe,#00ffe9,#00ffe8,#00ffe6,#00ffe4,#00ffeb,#00ffe8,#00ffe0,#00ffe6,#00ffe0,#00ffe1,#00ffd7,#00ffe2,#00ffe0,#00ffdc,#00ffda,#00ffd6,#00ffd1,#00ffce,#00ffd1,#00ffd4,#00ffc9,#00ffcd,#00ffc6,#00ffc8,#00ffc2,#00ffc3,#00ffc7,#00ffc2,#00ffbf,#00ffbc,#00ffba,#00ffb8,#00ffb2,#00ffb4,#00ffac,#00ffa9,#00ffa8,#00ffa8,#00ffa2,#00ffa0,#00ff9c,#00ff9c,#00ffa0,#00ffa2,#00ff9e,#00ffa1,#00ff9e,#00ffa0,#00ffa1,#00ff9c,#00ff9f,#00ff96,#00ff97,#00ff91,#00ff94,#00ff90,#00ff8c,#00ff8c,#00ff89,#00ff86,#00ff85,#00ff84,#00ff80,#00ff7d,#00ff7c,#00ff7a,#00ff79,#00ff75,#00ff72,#00ff70,#00ff6c,#00ff6e,#00ff68,#00ff65,#00ff5e,#00ff51,#00ff4a,#00ff3c,#0f3,#00ff2b,#00ff21,#00ff19,#00ff0e,#00ff07,#08ff00,#1bff00,#3f0,#4f0,#51ff00,#5f0,#56ff00,#56ff00,#57ff00,#5cff00,#5aff00,#5dff00,#5fff00,#62ff00,#64ff00,#6f0,#68ff00,#68ff00,#6cff00,#6bff00,#6dff00,#70ff00,#72ff00,#74ff00,#7f0,#75ff00,#7aff00,#7bff00,#7eff00,#7eff00,#7fff00,#84ff00,#bcff00,#feff00,#fffe00,#fffc00,#fffc00,#fffa00,#fffa00,#ffec00,#ffcb00,#ffab00,#ff9c00,#ff9500,#ff8c00,#ff8300,#ff7b00,#ff6b00,#ff4900,#ff1d00,#ff0600,#f00,#f00,#f00,#f00,#ff0200,#f00,#ff0100,#f00,#f00,#f00,#f00,#f00,#f00 178.5px)"></i>
<i style="left:252px;top:0px;width:19px;height:181px;background:linear-gradient(#002cff .5px,#0900ff,#0015ff,#002bff,#0024ff,#000aff,#002fff,#0006ff,#0010ff,#000aff,#0400ff,#000eff,#0023ff,#001fff,#0026ff,#1800ff,#03f,#0003ff,#0027ff,#0005ff,#0017ff,#0026ff,#0021ff,#000fff,#0014ff,#0009ff,#000aff,#002bff,#002aff,#000fff,#0023ff,#0024ff,#0023ff,#0007ff,#0025ff,#002aff,#0017ff,#0029ff,#001aff,#0026ff,#0023ff,#0014ff,#001fff,#0015ff,#0016ff,#002aff,#001bff,#0018ff,#0300ff,#000cff,#000bff,#0002ff,#000cff,#000eff,#0005ff,#1900ff,#001dff,#0017ff,#0027ff,#000eff,#02f,#03f,#002dff,#001cff,#02f,#0007ff,#002aff,#0032ff,#0024ff,#000fff,#02f,#001fff,#000aff,#0014ff,#0200ff,#001aff,#0020ff,#001bff,#0016ff,#0019ff,#001eff,#001dff,#0023ff,#0017ff,#0600ff,#002dff,#0024ff,#0020ff,#0025ff,#0018ff,#03f,#0015ff,#0015ff,#0030ff,#0019ff,#0004ff,#04f,#0031ff,#0014ff,#0600ff,#0031ff,#000eff,#0036ff,#0023ff,#0028ff,#0029ff,#000dff,#000cff,#0029ff,#0017ff,#002fff,#0024ff,#0046ff,#0024ff,#0016ff,#0026ff,#0016ff,#0030ff,#0023ff,#000cff,#002aff,#003cff,#0032ff,#0027ff,#0002ff,#0028ff,#02f,#0029ff,#0007ff,#003dff,#0034ff,#0020ff,#0045ff,#0024ff,#0019ff,#0027ff,#000cff,#000eff,#002bff,#001bff,#0043ff,#001eff,#0013ff,#000dff,#0005ff,#0026ff,#002cff,#02f,#002aff,#02f,#0043ff,#001dff,#0020ff,#003cff,#0024ff,#001dff,#001dff,#0036ff,#0049ff,#002dff,#003bff,#001bff,#0020ff,#0030ff,#0042ff,#001cff,#0036ff,#0006ff,#0043ff,#0021ff,#0031ff,#0026ff,#0025ff,#001fff,#02f,#001eff,#0034ff,#0016ff,#0018ff,#0039ff,#0024ff 180.5px)"></i>
<i style="left:252px;top:181px;width:19px;height:181px;background:linear-gradient(#0025ff .5px,#003aff,#001aff,#0036ff,#002bff,#0038ff,#001dff,#002cff,#0001ff,#002fff,#0025ff,#003bff,#0039ff,#0014ff,#002aff,#0034ff,#0054ff,#0031ff,#0049ff,#0045ff,#003fff,#0049ff,#0041ff,#0028ff,#0038ff,#002cff,#002aff,#003aff,#0036ff,#0041ff,#001fff,#002eff,#0059ff,#002fff,#0043ff,#0028ff,#0034ff,#0029ff,#0050ff,#0019ff,#05f,#003cff,#0037ff,#003fff,#003fff,#0048ff,#004aff,#0040ff,#003bff,#004eff,#0030ff,#004dff,#03f,#004eff,#0046ff,#003bff,#004bff,#0047ff,#003fff,#0052ff,#0008ff,#004fff,#003dff,#0042ff,#0038ff,#0035ff,#0053ff,#04f,#003dff,#04f,#0045ff,#0056ff,#004dff,#0049ff,#004aff,#0041ff,#0047ff,#004bff,#0051ff,#004aff,#05f,#0065ff,#0062ff,#0060ff,#06f,#0063ff,#005cff,#0071ff,#007fff,#0072ff,#0079ff,#0091ff,#007cff,#0093ff,#0096ff,#00a0ff,#009eff,#00b4ff,#00c0ff,#00baff,#00c9ff,#00cbff,#00caff,#00d9ff,#00e3ff,#0df,#00e5ff,#00e6ff,#00e3ff,#00eaff,#00efff,#00e4ff,#00e5ff,#00deff,#00daff,#00e1ff,#00ecff,#00e9ff,#00e8ff,#00efff,#00dbff,#00efff,#00e5ff,#00e4ff,#00e2ff,#00ceff,#00c7ff,#00c9ff,#00c1ff,#0bf,#00beff,#00baff,#00bfff,#00bcff,#00c9ff,#00b6ff,#0bf,#00b1ff,#00b4ff,#009fff,#009cff,#00a3ff,#0092ff,#0094ff,#0094ff,#0091ff,#009eff,#009fff,#0096ff,#0092ff,#008eff,#009aff,#0093ff,#009aff,#08f,#0094ff,#009aff,#09f,#0086ff,#009bff,#00a3ff,#00b0ff,#0bf,#00c7ff,#00d8ff,#00e7ff,#00daff,#00ecff,#00f2ff,#00ecff,#00f4ff,#00e9ff,#00f9ff,#00f4ff,#00edff,#00feff,#00f8ff,#00f9ff,#00eaff,#00f0ff,#00f4ff 180.5px)"></i>
<i style="left:252px;top:362px;width:19px;height:179px;background:linear-gradient(#00f7ff .5px,#00f3ff,#00ecff,#00f9ff,#00f3ff,#00f6ff,#00f3ff,#00f4ff,#0ef,#00f9ff,#00f3ff,#00edff,#00f9ff,#00f7ff,#00fdff,#00feff,#00f5ff,#00fcff,#00feff,#00fffe,#00fcff,#00fffb,#00fff6,#00fff3,#00fff1,#00fff3,#00feff,#00fff4,#00fff4,#00fffd,#00ffe8,#00ffe9,#00ffec,#00ffe9,#00ffe7,#00ffe8,#00ffe1,#0fd,#00ffe0,#00ffe4,#00ffdf,#00ffdb,#00ffda,#00ffde,#00ffd6,#00ffd5,#00ffd4,#00ffd6,#00ffd3,#00ffd8,#00ffd0,#00ffd0,#00ffce,#0fc,#00ffca,#00ffc7,#00ffc6,#00ffc6,#00ffc3,#00ffc2,#00ffbe,#00ffbc,#0fb,#00ffba,#00ffb9,#00ffb5,#00ffad,#00ffae,#00ffa4,#00ffa6,#00ffa3,#00ffa1,#00ffa2,#00ffa3,#00ffa1,#00ffa5,#00ffa1,#00ffa2,#00ffa4,#00ff9e,#00ff9d,#00ff9a,#00ff9b,#00ff9a,#00ff97,#00ff95,#00ff94,#00ff8b,#00ff8c,#00ff89,#0f8,#00ff85,#00ff80,#00ff82,#00ff7f,#00ff7b,#00ff7a,#00ff75,#00ff72,#00ff70,#00ff6e,#00ff6d,#00ff69,#00ff69,#00ff62,#00ff57,#00ff4e,#00ff42,#00ff3b,#00ff2e,#00ff27,#00ff1e,#00ff15,#00ff09,#0f0,#1cff00,#36ff00,#4fff00,#4fff00,#53ff00,#56ff00,#5f0,#5aff00,#5cff00,#5dff00,#60ff00,#62ff00,#63ff00,#64ff00,#68ff00,#68ff00,#6bff00,#6eff00,#70ff00,#72ff00,#74ff00,#74ff00,#76ff00,#78ff00,#7bff00,#7fff00,#7fff00,#7fff00,#83ff00,#a4ff00,#caff00,#c9ff00,#cf0,#cfff00,#d1ff00,#ffec00,#ffe000,#ffd000,#ffa900,#ff7e00,#f60,#ff5100,#ff3500,#ff1600,#ff0700,#ff0100,#f00,#f00,#ff0100,#ff0200,#f00,#f00,#f00,#ff0100,#f00,#ff0100,#ff0100,#ff0100,#f00,#f00,#f00,#f00,#f00,#f00 178.5px)"></i>
<i style="left:271px;top:0px;width:20px;height:181px;background:linear-gradient(#003dff .5px,#0017ff,#0008ff,#0029ff,#0029ff,#0032ff,#0023ff,#0008ff,#0031ff,#0800ff,#0b00ff,#0016ff,#0003ff,#000dff,#0007ff,#0025ff,#001dff,#0017ff,#0007ff,#0021ff,#0800ff,#0030ff,#0035ff,#001bff,#0020ff,#01f,#0027ff,#0021ff,#0900ff,#0036ff,#0003ff,#0034ff,#01f,#0015ff,#000dff,#0016ff,#0015ff,#0026ff,#001aff,#0030ff,#0034ff,#0046ff,#0200ff,#001fff,#0009ff,#000fff,#000fff,#0200ff,#0029ff,#0021ff,#0026ff,#0013ff,#0800ff,#002dff,#001bff,#001fff,#000eff,#0020ff,#0037ff,#0031ff,#002dff,#002eff,#0006ff,#0008ff,#000eff,#0024ff,#0021ff,#0500ff,#000eff,#0023ff,#0012ff,#0029ff,#0001ff,#002aff,#0700ff,#0042ff,#02f,#0016ff,#0007ff,#0034ff,#0031ff,#0021ff,#0034ff,#000fff,#001dff,#02f,#0014ff,#000eff,#0017ff,#002eff,#001eff,#002cff,#0009ff,#002cff,#0014ff,#001fff,#0027ff,#0025ff,#000bff,#002eff,#0013ff,#004bff,#1000ff,#0028ff,#000eff,#001bff,#002dff,#0015ff,#0015ff,#0025ff,#0004ff,#0200ff,#0020ff,#0019ff,#0019ff,#002fff,#0023ff,#0016ff,#0100ff,#02f,#002bff,#0039ff,#001dff,#002eff,#001cff,#02f,#002dff,#000aff,#0017ff,#01f,#02f,#0029ff,#002cff,#001aff,#000dff,#0037ff,#0019ff,#0001ff,#0048ff,#0036ff,#0036ff,#0020ff,#0036ff,#002cff,#001eff,#002bff,#0016ff,#0014ff,#0012ff,#0042ff,#001fff,#001dff,#0049ff,#0017ff,#002fff,#002dff,#0031ff,#001aff,#0035ff,#0023ff,#0028ff,#0012ff,#0008ff,#002fff,#002aff,#0025ff,#0031ff,#0021ff,#002cff,#0021ff,#0008ff,#0023ff,#003aff,#0025ff,#002dff,#0030ff,#002cff,#0034ff,#002cff,#0040ff,#002aff 180.5px)"></i>
<i style="left:271px;top:181px;width:20px;height:181px;background:linear-gradient(#0029ff .5px,#0030ff,#0026ff,#02f,#0039ff,#0029ff,#0031ff,#0039ff,#03f,#003bff,#03f,#0040ff,#0032ff,#003dff,#0600ff,#0034ff,#0013ff,#0037ff,#0026ff,#003dff,#0039ff,#003bff,#0045ff,#0042ff,#002fff,#0026ff,#002dff,#003aff,#002fff,#0040ff,#0045ff,#002eff,#0039ff,#0043ff,#001eff,#0026ff,#0056ff,#03f,#003cff,#0040ff,#001fff,#0034ff,#0047ff,#003bff,#005eff,#003dff,#0049ff,#0028ff,#0040ff,#004fff,#0046ff,#0039ff,#002bff,#0036ff,#0039ff,#002fff,#004bff,#0029ff,#003bff,#0034ff,#003aff,#0045ff,#004aff,#0045ff,#0047ff,#003aff,#0038ff,#003eff,#003eff,#004bff,#0043ff,#004fff,#004dff,#003fff,#0047ff,#003dff,#004eff,#0058ff,#0049ff,#04f,#005dff,#0058ff,#005eff,#0064ff,#06f,#006dff,#0063ff,#0056ff,#0067ff,#006bff,#006eff,#0079ff,#0079ff,#008aff,#0080ff,#0089ff,#008cff,#00a3ff,#0091ff,#0097ff,#00a5ff,#00b9ff,#00bfff,#00caff,#00cdff,#00d5ff,#00eaff,#00edff,#00feff,#00f7ff,#00f8ff,#00fdff,#00f2ff,#00f1ff,#00f8ff,#00fffa,#00fffe,#00f7ff,#00f3ff,#00fffe,#00fffd,#00f4ff,#00fffb,#00f1ff,#00f6ff,#00ecff,#00e7ff,#00e1ff,#00e5ff,#00e3ff,#00e3ff,#00dbff,#00d6ff,#00e4ff,#0df,#00cdff,#00c1ff,#00caff,#0bf,#00b5ff,#00b5ff,#00adff,#00a9ff,#00b2ff,#09f,#00a6ff,#009bff,#00a1ff,#009fff,#00a2ff,#0093ff,#00a4ff,#00aeff,#009eff,#00a5ff,#00a4ff,#00a2ff,#009dff,#00a4ff,#00a5ff,#00b5ff,#00bfff,#00c5ff,#00c6ff,#00eaff,#00edff,#00efff,#00ebff,#00fdff,#00f7ff,#00f0ff,#0ef,#00f4ff,#00f8ff,#00f4ff,#00f7ff,#00f3ff,#00f4ff,#00ecff,#00f4ff,#00f4ff 180.5px)"></i>
<i style="left:271px;top:362px;width:20px;height:179px;background:linear-gradient(#00f3ff .5px,#00f3ff,#00f6ff,#00f2ff,#00f4ff,#00efff,#00fffc,#00f2ff,#00f1ff,#00f4ff,#00f5ff,#00f2ff,#00ecff,#00fffd,#0ff,#00f9ff,#0ff,#00f8ff,#00f7ff,#00fffc,#00fff9,#00fffe,#00fff9,#00f8ff,#00fff7,#00fff0,#00fff3,#00fff1,#0fe,#00fff8,#00fff4,#00fff2,#00ffea,#00ffec,#00fff0,#00ffe3,#00ffe6,#00ffe0,#00ffdb,#00ffe8,#00ffe5,#00ffda,#00ffd7,#00ffda,#00ffd8,#00ffd6,#00ffd4,#00ffd9,#00ffd1,#00ffcf,#00ffd2,#00ffd2,#00ffcf,#00ffce,#00ffc9,#00ffc6,#00ffc7,#00ffc7,#00ffca,#00ffc4,#00ffc4,#00ffc1,#00ffbc,#00ffba,#00ffad,#00ffb6,#00ffb2,#00ffb1,#00ffab,#00ffa8,#00ffa1,#00ffa6,#00ff9c,#00ff9a,#00ff9b,#00ff98,#00ff94,#00ff90,#00ff8f,#00ff8d,#00ff8a,#00ff8a,#00ff84,#00ff81,#00ff80,#00ff80,#00ff7b,#00ff79,#00ff76,#00ff74,#00ff70,#00ff6d,#00ff6b,#00ff69,#00ff65,#00ff65,#00ff62,#00ff62,#00ff5d,#00ff59,#00ff52,#00ff45,#00ff3d,#00ff31,#00ff24,#00ff1d,#00ff14,#00ff08,#06ff00,#21ff00,#39ff00,#51ff00,#64ff00,#67ff00,#69ff00,#69ff00,#6aff00,#6cff00,#6cff00,#6dff00,#70ff00,#72ff00,#71ff00,#74ff00,#74ff00,#75ff00,#7f0,#7f0,#79ff00,#7aff00,#7cff00,#7dff00,#82ff00,#81ff00,#82ff00,#82ff00,#82ff00,#86ff00,#86ff00,#8aff00,#89ff00,#8aff00,#98ff00,#beff00,#c8ff00,#cdff00,#ceff00,#d1ff00,#d6ff00,#f4ff00,#ff0,#fffe00,#fffd00,#fffa00,#ffe900,#ffbf00,#ff9800,#ff8d00,#ff8c00,#ff8b00,#ff8a00,#ff8300,#ff6500,#ff3000,#ff0a00,#ff0100,#ff0100,#f00,#f00,#ff0100,#f00,#f00,#f00,#f00,#f00,#f00,#f00,#ff0100,#f00 178.5px)"></i>
<i style="left:291px;top:0px;width:19px;height:181px;background:linear-gradient(#0021ff .5px,#0010ff,#0006ff,#000aff,#0026ff,#0005ff,#03f,#0043ff,#000fff,#000aff,#001bff,#0013ff,#0004ff,#0024ff,#03f,#001eff,#0004ff,#002eff,#0021ff,#0028ff,#0003ff,#0002ff,#0010ff,#0003ff,#001dff,#0006ff,#002aff,#1600ff,#01f,#0031ff,#001eff,#0200ff,#001eff,#0015ff,#0014ff,#0006ff,#000aff,#0016ff,#0007ff,#3700ff,#000aff,#0049ff,#0017ff,#0018ff,#0039ff,#002fff,#002dff,#0023ff,#0026ff,#003dff,#0200ff,#0300ff,#000fff,#0700ff,#0002ff,#0b00ff,#0010ff,#0018ff,#0025ff,#0029ff,#001aff,#0025ff,#0034ff,#0016ff,#0017ff,#0005ff,#001eff,#0500ff,#0029ff,#001fff,#0019ff,#0034ff,#0016ff,#0040ff,#0034ff,#0023ff,#000cff,#000eff,#001eff,#0008ff,#0018ff,#002cff,#0026ff,#0014ff,#001dff,#0045ff,#000dff,#001cff,#0018ff,#0029ff,#0021ff,#003eff,#0013ff,#0037ff,#0021ff,#0037ff,#0012ff,#0019ff,#0019ff,#0007ff,#0016ff,#002dff,#0021ff,#003eff,#002bff,#0027ff,#0016ff,#0029ff,#0016ff,#0023ff,#002fff,#003cff,#001fff,#000dff,#0015ff,#0036ff,#001dff,#1b00ff,#0035ff,#001fff,#0048ff,#01f,#0018ff,#01f,#0020ff,#01f,#0014ff,#0047ff,#0015ff,#0024ff,#01f,#0009ff,#001bff,#0019ff,#0030ff,#0015ff,#002cff,#002eff,#001eff,#0015ff,#1e00ff,#000eff,#0023ff,#001eff,#001aff,#0036ff,#001aff,#1000ff,#0018ff,#001eff,#0021ff,#001aff,#0026ff,#0028ff,#0032ff,#0024ff,#002fff,#0045ff,#003dff,#2100ff,#0030ff,#03f,#02f,#03f,#0012ff,#02f,#0035ff,#0027ff,#0002ff,#02f,#002bff,#002bff,#02f,#0034ff,#0031ff,#001bff,#0054ff,#002dff,#0026ff,#0028ff,#0036ff 180.5px)"></i>
<i style="left:291px;top:181px;width:19px;height:181px;background:linear-gradient(#003dff .5px,#002cff,#0032ff,#003cff,#0031ff,#0029ff,#0057ff,#0039ff,#0034ff,#003bff,#004eff,#0034ff,#002cff,#002fff,#0031ff,#003cff,#004bff,#003aff,#0038ff,#003aff,#0051ff,#0024ff,#002eff,#002cff,#0028ff,#003fff,#0035ff,#001bff,#003bff,#004aff,#004fff,#002cff,#002dff,#003bff,#02f,#0035ff,#001aff,#0048ff,#04f,#003cff,#0039ff,#04f,#004bff,#0059ff,#002fff,#0039ff,#003bff,#0060ff,#0030ff,#0040ff,#001bff,#002cff,#0063ff,#004cff,#003cff,#003cff,#0048ff,#004fff,#0053ff,#0041ff,#0051ff,#05f,#0040ff,#004aff,#0049ff,#0043ff,#004cff,#05f,#0041ff,#002eff,#004eff,#0045ff,#0048ff,#003fff,#0051ff,#0056ff,#0050ff,#0050ff,#0050ff,#004bff,#0062ff,#05f,#005fff,#0074ff,#006eff,#006eff,#0067ff,#006dff,#0075ff,#007dff,#007aff,#0080ff,#007cff,#0080ff,#007dff,#0076ff,#0069ff,#0071ff,#0079ff,#0075ff,#008eff,#09f,#00b1ff,#00beff,#00e4ff,#00edff,#00f6ff,#0ff,#00fff7,#00fdff,#00ffea,#00fff7,#00fff3,#00fffb,#00ffe9,#00ffe4,#00ffef,#00fff2,#00ffec,#0fe,#00ffed,#00ffe4,#0fe,#00fffb,#00fffd,#00ffeb,#00fff5,#00fff6,#00feff,#00fffc,#00fdff,#00f1ff,#00f7ff,#00ebff,#00e4ff,#00deff,#00d2ff,#00cfff,#00d1ff,#00cfff,#00c6ff,#00b5ff,#00beff,#00b9ff,#00b3ff,#00a5ff,#00a2ff,#00a2ff,#00a7ff,#00adff,#00a6ff,#00acff,#00a4ff,#00b2ff,#00a7ff,#00b3ff,#0af,#0af,#00a0ff,#00adff,#00b2ff,#00beff,#00c9ff,#00d6ff,#00f4ff,#00f3ff,#00f5ff,#00fbff,#00f0ff,#00fbff,#00f2ff,#00f2ff,#00f0ff,#00f1ff,#00f4ff,#00fcff,#00f2ff,#00f3ff,#00f5ff,#00f4ff,#00fffd 180.5px)"></i>
<i style="left:291px;top:362px;width:19px;height:179px;background:linear-gradient(#00faff .5px,#00fffc,#00f2ff,#00fffe,#00f8ff,#00f2ff,#00f6ff,#00edff,#00f6ff,#0ff,#00f9ff,#00fcff,#00fffd,#00f3ff,#00fffe,#00fffb,#00fbff,#00fff9,#00fffa,#00fff7,#00fff6,#00fff6,#00fffe,#00fff9,#00fff4,#00ffeb,#00fff6,#00fff2,#00ffef,#00fff0,#00fff1,#00ffef,#00ffe8,#00ffe9,#00ffe5,#00ffe9,#00ffe9,#00ffe9,#00ffdf,#00ffe3,#00ffdf,#00ffde,#00ffd7,#0fd,#00ffde,#00ffd8,#00ffda,#00ffd4,#00ffd8,#00ffd2,#00ffcf,#00ffd4,#00ffd2,#00ffc7,#00ffcd,#00ffc8,#0fc,#00ffc7,#00ffc3,#00ffc2,#00ffc4,#00ffc5,#00ffbf,#00ffbc,#00ffb9,#00ffb5,#00ffae,#00ffaf,#00ffad,#00ffa5,#00ff9f,#00ff9f,#00ff9a,#00ff9e,#00ff98,#00ff92,#00ff8f,#00ff89,#00ff89,#00ff7d,#00ff7e,#00ff7d,#0f7,#00ff79,#00ff74,#00ff72,#00ff6f,#00ff6a,#00ff6a,#00ff64,#00ff62,#00ff5f,#00ff5c,#00ff5b,#00ff5a,#00ff54,#00ff4a,#00ff3d,#00ff34,#00ff27,#00ff1a,#00ff10,#00ff04,#0bff00,#1dff00,#31ff00,#4f0,#48ff00,#49ff00,#4bff00,#4cff00,#4fff00,#50ff00,#54ff00,#54ff00,#5f0,#57ff00,#59ff00,#5aff00,#5bff00,#5eff00,#60ff00,#63ff00,#64ff00,#65ff00,#67ff00,#69ff00,#6aff00,#6cff00,#6eff00,#6eff00,#6eff00,#72ff00,#75ff00,#75ff00,#78ff00,#7aff00,#7aff00,#7bff00,#7cff00,#81ff00,#82ff00,#c2ff00,#ffc400,#ffbc00,#ffb200,#fa0,#ffa100,#ff9600,#ff8e00,#ff8400,#ff7a00,#ff6f00,#ff5b00,#ff4700,#ff3e00,#ff3e00,#ff3d00,#ff3c00,#ff3a00,#ff3b00,#ff3a00,#ff3900,#ff3200,#ff2000,#ff0900,#f00,#ff0100,#f00,#f00,#ff0100,#f00,#f00,#f00,#f00,#f00,#f00,#ff0100,#f00 178.5px)"></i>
<i style="left:310px;top:0px;width:19px;height:181px;background:linear-gradient(#000eff .5px,#00f,#0008ff,#0f00ff,#0019ff,#001fff,#0017ff,#002cff,#003bff,#0024ff,#001bff,#0029ff,#0002ff,#001fff,#0001ff,#0016ff,#000dff,#000aff,#0100ff,#000fff,#01f,#0004ff,#000cff,#00f,#0019ff,#0019ff,#0032ff,#001bff,#0003ff,#001cff,#000dff,#002fff,#0b00ff,#0029ff,#0012ff,#0035ff,#0004ff,#0025ff,#0300ff,#0025ff,#0006ff,#001bff,#0023ff,#002cff,#0029ff,#001fff,#0025ff,#0004ff,#002aff,#001dff,#000cff,#0200ff,#000fff,#0004ff,#0b00ff,#0026ff,#0014ff,#0017ff,#0017ff,#001dff,#002aff,#0100ff,#01f,#0030ff,#0006ff,#0016ff,#001eff,#000dff,#003cff,#02f,#0028ff,#001dff,#000fff,#0013ff,#0012ff,#0026ff,#001bff,#0013ff,#000dff,#0500ff,#001cff,#0025ff,#001eff,#0018ff,#0020ff,#003bff,#00f,#0021ff,#0800ff,#0037ff,#001dff,#001fff,#0007ff,#0019ff,#001aff,#000fff,#0c00ff,#0015ff,#0014ff,#001cff,#0008ff,#0017ff,#0026ff,#0400ff,#0037ff,#002aff,#0017ff,#0004ff,#0034ff,#000eff,#0006ff,#0010ff,#000aff,#0016ff,#0021ff,#0015ff,#003bff,#10f,#0200ff,#0020ff,#002cff,#0026ff,#002bff,#0020ff,#001aff,#001fff,#02f,#0020ff,#002fff,#003fff,#000fff,#002dff,#0025ff,#002bff,#002dff,#002aff,#0017ff,#003eff,#0025ff,#003aff,#000eff,#000cff,#0017ff,#001bff,#0008ff,#0016ff,#001cff,#001bff,#0020ff,#0300ff,#0012ff,#0032ff,#0029ff,#001cff,#0024ff,#0024ff,#003cff,#002fff,#000cff,#0026ff,#0004ff,#000dff,#001eff,#000fff,#0013ff,#0020ff,#001aff,#002fff,#0012ff,#0600ff,#0023ff,#000bff,#0052ff,#0018ff,#03f,#01f,#0036ff,#001dff,#001aff,#000dff,#0034ff 180.5px)"></i>
<i style="left:310px;top:181px;width:19px;height:181px;background:linear-gradient(#0a00ff .5px,#0028ff,#0032ff,#0023ff,#0024ff,#0016ff,#0048ff,#002eff,#0031ff,#003eff,#0035ff,#0034ff,#0047ff,#0042ff,#002dff,#0034ff,#002bff,#0025ff,#0025ff,#0024ff,#003bff,#002dff,#002fff,#03f,#003bff,#004eff,#0037ff,#0028ff,#0043ff,#002bff,#0024ff,#03f,#002bff,#0030ff,#004aff,#03f,#0028ff,#002fff,#004fff,#04f,#0046ff,#0035ff,#0040ff,#0024ff,#0040ff,#0028ff,#0027ff,#0029ff,#0041ff,#0042ff,#0050ff,#0041ff,#003aff,#004eff,#003fff,#04f,#0051ff,#0035ff,#0042ff,#004dff,#0047ff,#003cff,#002eff,#0052ff,#0037ff,#004fff,#003cff,#004fff,#004aff,#0048ff,#0048ff,#003cff,#0043ff,#003bff,#0045ff,#003fff,#0057ff,#0054ff,#004eff,#0058ff,#0048ff,#0058ff,#0063ff,#0051ff,#0053ff,#0062ff,#005cff,#005fff,#0060ff,#0071ff,#0072ff,#0064ff,#006eff,#007dff,#006bff,#0065ff,#0069ff,#006dff,#006cff,#0069ff,#007bff,#0076ff,#008cff,#008cff,#00a0ff,#00b7ff,#00d4ff,#00f2ff,#00f5ff,#00fffd,#00fff5,#00fff2,#00fff9,#00fff4,#00ffef,#00ffe8,#0fe,#00ffec,#00ffed,#00ffe2,#00ffef,#00fff4,#00fff9,#00fff7,#00fff1,#00fff7,#00fffa,#00fffc,#00fff8,#00fdff,#00f1ff,#00fffc,#00f2ff,#00ecff,#0df,#0df,#00d3ff,#00d7ff,#00d0ff,#00c4ff,#00c8ff,#00c0ff,#00beff,#00b1ff,#00b7ff,#00b1ff,#00afff,#00b3ff,#0af,#00b5ff,#00adff,#00acff,#00b4ff,#00b6ff,#00b5ff,#00a6ff,#00b1ff,#00b5ff,#00b5ff,#00b3ff,#00b6ff,#00c6ff,#00c6ff,#00c5ff,#00cdff,#00c3ff,#00dcff,#00dbff,#00e6ff,#00edff,#00f1ff,#00f0ff,#00f1ff,#00f4ff,#00faff,#00f8ff,#00f1ff,#00f6ff,#00f9ff,#00f4ff,#00efff 180.5px)"></i>
<i style="left:310px;top:362px;width:19px;height:179px;background:linear-gradient(#00f4ff .5px,#00fdff,#00fff8,#00f7ff,#00ecff,#00f4ff,#00fffc,#00fffc,#00f1ff,#00faff,#00fbff,#00fbff,#00faff,#00f9ff,#00f9ff,#00f7ff,#00feff,#00feff,#00feff,#0ff,#00f7ff,#00fffc,#00fff4,#00fff8,#00fffa,#00ffec,#00feff,#00fff1,#00ffec,#00ffec,#00ffea,#00fff6,#00ffe4,#00ffec,#00fff5,#00ffe4,#00ffed,#00ffe9,#00ffdf,#00ffdf,#00ffde,#00ffd6,#00ffe3,#00ffda,#00ffd7,#00ffde,#00ffd5,#00ffd9,#00ffd7,#00ffd1,#00ffd5,#00ffd0,#00ffd5,#00ffcb,#00ffce,#00ffd0,#00ffcd,#00ffc9,#00ffc7,#00ffc4,#00ffc9,#00ffc3,#00ffc7,#00ffbf,#00ffb9,#00ffbe,#0fb,#00ffb7,#00ffb0,#0fa,#00ffa7,#00ffa8,#00ffa1,#00ff9c,#00ff97,#00ff93,#00ff90,#00ff8a,#0f8,#00ff84,#00ff83,#00ff7e,#00ff7a,#00ff79,#00ff74,#00ff74,#00ff6f,#00ff6f,#00ff6c,#00ff6a,#00ff69,#00ff63,#00ff63,#00ff60,#00ff5b,#00ff5a,#00ff59,#00ff56,#00ff50,#00ff43,#00ff39,#00ff2f,#00ff24,#00ff1c,#00ff10,#00ff06,#09ff00,#16ff00,#28ff00,#37ff00,#3cff00,#39ff00,#37ff00,#36ff00,#3f0,#32ff00,#3f0,#36ff00,#39ff00,#3cff00,#40ff00,#43ff00,#47ff00,#4bff00,#4dff00,#4fff00,#56ff00,#56ff00,#5cff00,#5dff00,#61ff00,#63ff00,#67ff00,#6cff00,#71ff00,#72ff00,#74ff00,#78ff00,#79ff00,#7eff00,#82ff00,#84ff00,#87ff00,#8bff00,#ecff00,#fffc00,#fe0,#ffc900,#ffa100,#ff8b00,#ff8300,#ff7800,#ff7000,#ff6900,#ff5c00,#ff5600,#f40,#ff2d00,#ff1600,#ff0500,#f00,#f00,#f00,#f00,#f00,#f00,#ff0100,#f00,#f00,#f00,#ff0100,#f00,#ff0100,#f00,#ff0100,#ff0100,#ff0100,#f00,#f00 178.5px)"></i>
<i style="left:329px;top:0px;width:20px;height:181px;background:linear-gradient(#0021ff .5px,#03f,#1300ff,#002cff,#0016ff,#0008ff,#0029ff,#0024ff,#0014ff,#0900ff,#0030ff,#000bff,#0016ff,#0007ff,#000dff,#0200ff,#001bff,#001bff,#0014ff,#001eff,#0023ff,#0700ff,#0025ff,#0019ff,#0031ff,#0021ff,#0600ff,#001bff,#000fff,#0003ff,#0006ff,#0600ff,#001bff,#0001ff,#0200ff,#0028ff,#0039ff,#001fff,#002eff,#0400ff,#0014ff,#0014ff,#0007ff,#0025ff,#00f,#0026ff,#0023ff,#0017ff,#0017ff,#001cff,#2500ff,#0026ff,#0015ff,#0028ff,#000eff,#0017ff,#0018ff,#002cff,#0013ff,#0014ff,#0015ff,#001aff,#0018ff,#001dff,#0e00ff,#001aff,#0025ff,#0026ff,#0041ff,#001bff,#0028ff,#0020ff,#1500ff,#0900ff,#0039ff,#0023ff,#0007ff,#0d00ff,#1400ff,#0c00ff,#001dff,#001fff,#0014ff,#001fff,#000fff,#000eff,#002bff,#002bff,#0003ff,#0300ff,#03f,#001bff,#0029ff,#001cff,#002fff,#0023ff,#0047ff,#0007ff,#0045ff,#003aff,#000cff,#001fff,#0048ff,#000eff,#0031ff,#02f,#0016ff,#0800ff,#0024ff,#003eff,#0a00ff,#0019ff,#0700ff,#002aff,#0025ff,#02f,#0035ff,#01f,#0028ff,#000cff,#0035ff,#0025ff,#002eff,#0019ff,#002fff,#003cff,#000bff,#0040ff,#0034ff,#0030ff,#0017ff,#0008ff,#03f,#002cff,#0027ff,#0030ff,#001cff,#0100ff,#0026ff,#0300ff,#002dff,#03f,#0038ff,#0024ff,#03f,#0021ff,#002dff,#0053ff,#001cff,#0900ff,#002cff,#0018ff,#02f,#002bff,#0036ff,#0040ff,#0023ff,#001fff,#0014ff,#002cff,#0037ff,#003cff,#02f,#001aff,#0014ff,#0009ff,#000fff,#0021ff,#003cff,#0030ff,#0200ff,#01f,#002bff,#0035ff,#0036ff,#0016ff,#003aff,#0041ff,#0035ff,#001eff,#01f 180.5px)"></i>
<i style="left:329px;top:181px;width:20px;height:181px;background:linear-gradient(#002fff .5px,#0027ff,#001fff,#0028ff,#0029ff,#0031ff,#0035ff,#002fff,#000fff,#002eff,#003bff,#002cff,#0021ff,#0024ff,#004eff,#0029ff,#001eff,#0032ff,#02f,#0027ff,#003bff,#0045ff,#04f,#0039ff,#004eff,#0036ff,#0030ff,#003bff,#003bff,#0025ff,#0037ff,#0041ff,#0038ff,#003fff,#0027ff,#002dff,#001cff,#003dff,#0058ff,#003bff,#0043ff,#002aff,#0034ff,#04f,#002dff,#003dff,#0048ff,#0035ff,#0051ff,#0034ff,#0053ff,#0034ff,#0031ff,#002eff,#0035ff,#0041ff,#003dff,#0040ff,#003eff,#004aff,#003eff,#0034ff,#0049ff,#002fff,#003fff,#0048ff,#0051ff,#005bff,#0041ff,#004aff,#0043ff,#003fff,#003eff,#0050ff,#003fff,#003eff,#0040ff,#003cff,#005cff,#004dff,#0047ff,#0058ff,#004bff,#06f,#004bff,#0056ff,#0062ff,#0051ff,#0067ff,#005bff,#005dff,#0053ff,#05f,#06f,#0064ff,#006aff,#006cff,#005fff,#0072ff,#06f,#0069ff,#006dff,#006fff,#0068ff,#0070ff,#0087ff,#00b0ff,#00e1ff,#00ffef,#00fff5,#00fffa,#00fffb,#0fe,#00fff6,#00fff1,#00fff2,#00fff2,#00ffe3,#00fff2,#00fff8,#00fff1,#00fff3,#00fff2,#00fff6,#00fff5,#00fff2,#00fffb,#00fffa,#00fffe,#00fffe,#00f5ff,#00f7ff,#00f4ff,#00edff,#00e4ff,#00dbff,#00daff,#00ceff,#00d2ff,#00c8ff,#00beff,#00c0ff,#00aeff,#00c3ff,#00acff,#00b9ff,#00adff,#00b2ff,#00baff,#00a8ff,#00baff,#00b3ff,#00b3ff,#00acff,#00abff,#00b8ff,#00b6ff,#00b8ff,#00b6ff,#00bdff,#00b4ff,#00adff,#00b4ff,#00acff,#00b0ff,#00afff,#00bdff,#00c8ff,#00e8ff,#00f1ff,#00ecff,#00faff,#00f4ff,#00feff,#00f7ff,#00f3ff,#00f5ff,#00f2ff,#00f6ff,#00fbff,#00f8ff 180.5px)"></i>
<i style="left:329px;top:362px;width:20px;height:179px;background:linear-gradient(#00f0ff .5px,#00f1ff,#00fdff,#00f9ff,#00f5ff,#00fdff,#00f4ff,#00f2ff,#00f2ff,#00fbff,#0ff,#00faff,#00f9ff,#00f6ff,#00fffe,#00f7ff,#00fffe,#00fffd,#0ff,#00fffc,#00fffe,#00fff4,#00fff5,#00fff2,#00fff1,#00fff0,#00ffed,#00ffe6,#00ffe3,#00ffec,#00ffe7,#00fff0,#00ffed,#00ffe2,#00ffe0,#00ffe6,#00ffe2,#00ffe7,#00ffdf,#00ffe4,#00ffd9,#00ffe0,#00ffd5,#00ffd4,#00ffdc,#00ffd4,#00ffd5,#00ffd8,#00ffd4,#00ffd0,#00ffcd,#00ffce,#00ffcd,#00ffd7,#00ffc6,#00ffd0,#00ffc4,#00ffca,#00ffca,#00ffc2,#00ffc6,#00ffc3,#00ffc4,#00ffbe,#00ffc1,#00ffb2,#00ffb4,#00ffad,#00ffac,#00ffa6,#00ffa4,#00ffa4,#00ff9e,#00ff9a,#00ff98,#00ff91,#00ff90,#00ff8d,#00ff87,#00ff83,#00ff82,#00ff7f,#00ff7b,#00ff79,#00ff75,#00ff73,#00ff6f,#00ff6e,#00ff6c,#0f6,#00ff62,#00ff63,#00ff61,#00ff5c,#00ff5d,#00ff5b,#00ff58,#00ff4e,#00ff42,#00ff36,#00ff2c,#00ff23,#00ff15,#00ff0a,#0f0,#1f0,#20ff00,#2dff00,#3fff00,#3eff00,#40ff00,#42ff00,#4f0,#47ff00,#4aff00,#4bff00,#4fff00,#50ff00,#53ff00,#53ff00,#5f0,#58ff00,#59ff00,#5eff00,#5fff00,#61ff00,#64ff00,#63ff00,#69ff00,#68ff00,#6bff00,#6fff00,#71ff00,#72ff00,#72ff00,#7f0,#78ff00,#7bff00,#7dff00,#7fff00,#80ff00,#86ff00,#85ff00,#8f0,#8aff00,#8cff00,#8eff00,#90ff00,#93ff00,#95ff00,#ebff00,#ffcf00,#ff8e00,#ff6400,#ff5300,#ff4300,#ff2a00,#f10,#ff0400,#f00,#ff0200,#f00,#f00,#f00,#f00,#ff0100,#f00,#f00,#f00,#f00,#ff0100,#f00,#ff0100,#f00,#ff0100,#ff0100,#f00,#ff0200,#ff0100 178.5px)"></i>
<i style="left:349px;top:0px;width:19px;height:181px;background:linear-gradient(#0021ff .5px,#000bff,#0018ff,#0017ff,#003dff,#0017ff,#001aff,#0036ff,#0021ff,#0039ff,#001fff,#0003ff,#001fff,#002cff,#0018ff,#0009ff,#002fff,#0021ff,#0500ff,#000cff,#0900ff,#002aff,#0047ff,#001cff,#0037ff,#001bff,#0025ff,#02f,#002dff,#0013ff,#0016ff,#003cff,#001bff,#002dff,#0016ff,#0b00ff,#000fff,#0031ff,#2b00ff,#0a00ff,#0025ff,#0026ff,#0036ff,#002dff,#0025ff,#01f,#00f,#001fff,#0400ff,#0200ff,#000eff,#0039ff,#0020ff,#02f,#0028ff,#003eff,#0017ff,#000aff,#0003ff,#001eff,#002cff,#0032ff,#0017ff,#0019ff,#0031ff,#0005ff,#02f,#001aff,#0023ff,#0014ff,#0017ff,#0021ff,#02f,#0030ff,#001aff,#001dff,#001dff,#000aff,#002bff,#0034ff,#0024ff,#0046ff,#0026ff,#001dff,#001fff,#0024ff,#003cff,#0014ff,#0034ff,#0020ff,#0003ff,#0029ff,#002cff,#0032ff,#0029ff,#002dff,#04f,#02f,#00f,#0034ff,#0013ff,#0021ff,#001dff,#002dff,#003bff,#0037ff,#003eff,#0023ff,#0023ff,#0025ff,#002eff,#001aff,#0014ff,#003fff,#002bff,#002eff,#002dff,#002dff,#002dff,#0029ff,#002aff,#001cff,#001aff,#0002ff,#003cff,#0017ff,#002aff,#002eff,#01f,#01f,#0028ff,#001bff,#0027ff,#0019ff,#0029ff,#0039ff,#004bff,#000cff,#0026ff,#0027ff,#002aff,#0030ff,#003aff,#0026ff,#0010ff,#02f,#000dff,#001aff,#002aff,#0018ff,#0034ff,#001aff,#02f,#0037ff,#0048ff,#000eff,#001cff,#001fff,#003dff,#0043ff,#01f,#003dff,#0029ff,#0025ff,#0035ff,#003dff,#0037ff,#001fff,#0034ff,#0030ff,#0024ff,#0028ff,#0039ff,#002fff,#0031ff,#0038ff,#0042ff,#0042ff,#0042ff,#003eff,#0029ff 180.5px)"></i>
<i style="left:349px;top:181px;width:19px;height:181px;background:linear-gradient(#003bff .5px,#0027ff,#003eff,#001cff,#0042ff,#03f,#1b00ff,#002dff,#0042ff,#001aff,#0031ff,#001aff,#0040ff,#002dff,#0043ff,#0054ff,#0035ff,#003dff,#003eff,#002aff,#0045ff,#0035ff,#0029ff,#003dff,#003fff,#002fff,#003aff,#0024ff,#0032ff,#004bff,#0038ff,#002eff,#004bff,#0037ff,#0042ff,#004bff,#002aff,#0036ff,#002dff,#003dff,#003aff,#004cff,#0031ff,#0048ff,#001dff,#002dff,#0036ff,#003cff,#0049ff,#04f,#003eff,#004fff,#0039ff,#003fff,#0040ff,#0045ff,#0057ff,#0048ff,#0046ff,#004cff,#003dff,#003aff,#0046ff,#0048ff,#04f,#0046ff,#004cff,#005dff,#0057ff,#0049ff,#003dff,#004dff,#004fff,#04f,#004eff,#005fff,#0050ff,#0064ff,#05f,#0059ff,#0070ff,#006aff,#0071ff,#007cff,#0085ff,#006eff,#0082ff,#0082ff,#0084ff,#0095ff,#0086ff,#0084ff,#008eff,#007bff,#008eff,#0085ff,#008fff,#08f,#0092ff,#008eff,#008bff,#009cff,#00b1ff,#00b7ff,#00d0ff,#00edff,#00fbff,#00fff2,#00ffed,#00fff1,#00ffea,#00fff0,#00fff3,#00ffe6,#00ffef,#00ffd7,#00ffde,#00ffd9,#00ffe4,#00ffea,#00ffe1,#0fd,#00ffe1,#00ffe3,#00ffdf,#00ffe1,#00ffd8,#00ffeb,#00fff8,#00fff4,#00fffb,#00f0ff,#00f3ff,#00f2ff,#00edff,#00eaff,#00e0ff,#00d8ff,#00e3ff,#00d8ff,#00ceff,#00dcff,#00d3ff,#00bdff,#00dbff,#00cdff,#00c3ff,#00d1ff,#00ceff,#00d3ff,#0cf,#00c3ff,#00cbff,#00c9ff,#00cdff,#00cbff,#00cfff,#00c5ff,#00c9ff,#00c9ff,#00ceff,#00c2ff,#0cf,#00d9ff,#00c2ff,#00d1ff,#00d4ff,#00e7ff,#00f2ff,#00fdff,#00fffe,#00fffd,#00f9ff,#0ff,#00fff4,#00fff6,#00fdff,#00fdff,#00fffc,#00fff5,#00fff5 180.5px)"></i>
<i style="left:349px;top:362px;width:19px;height:179px;background:linear-gradient(#00fffd .5px,#00f9ff,#00fff9,#00feff,#00fff1,#00ffef,#00fff3,#00fff2,#00fff1,#00ffe9,#00ffec,#00ffe9,#00fff4,#00fff0,#00ffec,#00fff7,#00ffed,#00ffeb,#00ffea,#00ffde,#00ffea,#00ffe9,#00ffe8,#00ffe9,#00ffed,#00ffe1,#00ffe6,#00ffe4,#00ffe4,#00ffe7,#00ffea,#00ffe4,#00ffe0,#00ffe2,#0fd,#00ffe2,#00ffdf,#00ffdc,#00ffdc,#00ffd9,#00ffd4,#00ffd9,#00ffd6,#00ffd7,#00ffd2,#00ffd2,#00ffd4,#00ffd4,#00ffd3,#00ffcf,#0fc,#00ffcd,#00ffca,#00ffc8,#00ffc0,#00ffc3,#00ffbe,#00ffc3,#00ffc2,#00ffbc,#00ffbf,#00ffbd,#00ffbf,#00ffbc,#00ffb5,#00ffb5,#00ffb2,#00ffb0,#00ffa8,#00ffa6,#00ffa1,#00ffa1,#00ff9e,#00ff95,#00ff94,#00ff8e,#00ff8e,#00ff8b,#00ff8a,#00ff80,#00ff7c,#00ff79,#00ff76,#00ff7a,#00ff76,#00ff72,#00ff70,#00ff6c,#00ff6b,#00ff69,#00ff64,#00ff61,#00ff60,#00ff5c,#00ff5b,#00ff57,#0f5,#00ff4c,#00ff41,#00ff37,#00ff2c,#00ff21,#00ff13,#00ff0b,#01ff00,#17ff00,#26ff00,#38ff00,#46ff00,#4cff00,#4dff00,#4fff00,#53ff00,#51ff00,#53ff00,#59ff00,#5aff00,#5bff00,#5fff00,#60ff00,#65ff00,#63ff00,#67ff00,#6aff00,#6dff00,#6dff00,#6fff00,#72ff00,#75ff00,#76ff00,#79ff00,#7cff00,#7dff00,#80ff00,#82ff00,#84ff00,#84ff00,#8f0,#8bff00,#8dff00,#8fff00,#92ff00,#96ff00,#95ff00,#ff0,#fffe00,#ffe400,#ffb600,#ff9b00,#ff9700,#ff9400,#ff9200,#ff8b00,#ff7200,#ff5400,#ff4a00,#ff4700,#ff4600,#f40,#f40,#ff4100,#ff3e00,#ff2700,#ff0c00,#f00,#f00,#f00,#f00,#f00,#f00,#f00,#f00,#f00,#f00,#f00,#f00,#f00,#f00,#f00 178.5px)"></i>
<i style="left:368px;top:0px;width:19px;height:181px;background:linear-gradient(#000cff .5px,#1b00ff,#000aff,#03f,#002bff,#000cff,#0f00ff,#02f,#0017ff,#01f,#0004ff,#00f,#000aff,#000bff,#0024ff,#0019ff,#0006ff,#0016ff,#001aff,#001eff,#0020ff,#00f,#0009ff,#0c00ff,#1200ff,#0001ff,#0002ff,#000fff,#0017ff,#0028ff,#0025ff,#0008ff,#001eff,#0029ff,#000dff,#0026ff,#0031ff,#0b00ff,#01f,#0c00ff,#0400ff,#0400ff,#0031ff,#0035ff,#0006ff,#0013ff,#0026ff,#0018ff,#0021ff,#02f,#002bff,#02f,#003bff,#0013ff,#0018ff,#0030ff,#0018ff,#003fff,#000cff,#004fff,#0015ff,#0016ff,#002cff,#0036ff,#0016ff,#001dff,#002cff,#0006ff,#0010ff,#0002ff,#0019ff,#0300ff,#0008ff,#0015ff,#02f,#0010ff,#000fff,#000fff,#0014ff,#004eff,#000dff,#0024ff,#0016ff,#0013ff,#01f,#002fff,#0015ff,#0024ff,#0013ff,#0028ff,#0600ff,#002aff,#001dff,#002eff,#002eff,#0001ff,#004eff,#0005ff,#001bff,#0021ff,#0028ff,#0014ff,#0010ff,#0013ff,#0019ff,#000fff,#0020ff,#0021ff,#0016ff,#000bff,#0025ff,#001cff,#0027ff,#02f,#003cff,#0028ff,#001bff,#000dff,#002cff,#000bff,#0016ff,#0004ff,#0037ff,#0015ff,#0008ff,#0028ff,#001fff,#0030ff,#0018ff,#001dff,#0027ff,#0025ff,#001aff,#002cff,#01f,#01f,#0028ff,#0031ff,#0020ff,#001fff,#0027ff,#003aff,#001fff,#0021ff,#0027ff,#0014ff,#0041ff,#0021ff,#002aff,#002bff,#0015ff,#001fff,#000aff,#0013ff,#0029ff,#002eff,#0018ff,#1500ff,#003dff,#03f,#003eff,#0100ff,#0029ff,#0032ff,#0023ff,#0030ff,#000bff,#002aff,#0034ff,#003bff,#0021ff,#000aff,#003fff,#0032ff,#0036ff,#0037ff,#000aff,#0004ff,#0034ff,#0015ff,#0036ff 180.5px)"></i>
<i style="left:368px;top:181px;width:19px;height:181px;background:linear-gradient(#0036ff .5px,#0025ff,#002aff,#004aff,#0024ff,#0021ff,#05f,#0047ff,#002fff,#000bff,#0026ff,#002eff,#02f,#001eff,#003eff,#001eff,#0039ff,#0021ff,#0034ff,#003bff,#02f,#003aff,#001dff,#0025ff,#0037ff,#04f,#03f,#002aff,#003eff,#0050ff,#0023ff,#0039ff,#0026ff,#0038ff,#0040ff,#0030ff,#0023ff,#002cff,#0038ff,#0030ff,#003eff,#03f,#0040ff,#0059ff,#0031ff,#003fff,#003aff,#0026ff,#0038ff,#004dff,#0048ff,#003dff,#003cff,#0046ff,#0045ff,#0039ff,#05f,#002fff,#0046ff,#0051ff,#003eff,#0053ff,#004eff,#002fff,#0051ff,#0043ff,#004cff,#0051ff,#03f,#004cff,#0036ff,#003cff,#005fff,#005aff,#0049ff,#0043ff,#0060ff,#0052ff,#0057ff,#0051ff,#006cff,#005eff,#0065ff,#006bff,#0065ff,#0072ff,#006dff,#007bff,#0080ff,#0078ff,#0086ff,#0085ff,#08f,#007bff,#007bff,#0092ff,#008eff,#0087ff,#008dff,#008fff,#009bff,#00a5ff,#0af,#00b8ff,#00c9ff,#00d8ff,#00f4ff,#00f8ff,#00f4ff,#00fffb,#00fcff,#00fff4,#00fffa,#00ffef,#00fff3,#00ffed,#00ffea,#00ffe1,#00ffe6,#00ffea,#00ffeb,#00ffe6,#00ffe6,#00ffe7,#00fff0,#00ffda,#00ffe8,#00ffed,#00ffed,#00fffa,#00fff8,#00feff,#00fbff,#00f3ff,#00dfff,#00f1ff,#00eaff,#00dbff,#00d8ff,#00d1ff,#00d6ff,#00cbff,#00caff,#00c7ff,#00caff,#00cdff,#00c4ff,#00caff,#00c5ff,#00c5ff,#00c2ff,#0cf,#00c7ff,#00baff,#00bdff,#00c8ff,#00d1ff,#00c6ff,#00bfff,#00bcff,#00c9ff,#00caff,#00c8ff,#00daff,#00d6ff,#00d7ff,#00e5ff,#00e8ff,#00f6ff,#00fcff,#00ecff,#00feff,#00fff9,#00feff,#00faff,#00f7ff,#00fffd,#00fffa,#00fffc,#0ff,#00fffb 180.5px)"></i>
<i style="left:368px;top:362px;width:19px;height:179px;background:linear-gradient(#00fffc .5px,#00fff4,#00fffe,#00faff,#0ff,#00fcff,#00fdff,#00fff3,#00faff,#00fff2,#00fff7,#00fff1,#00fff4,#00ffec,#00ffec,#00ffe6,#00ffec,#00ffe6,#00ffef,#0fe,#00ffe7,#00ffe7,#00ffea,#00ffe9,#00ffed,#00ffe7,#00ffe5,#00ffeb,#00ffe4,#00ffe8,#00ffe5,#00ffe9,#00ffe8,#00ffe6,#00ffe4,#00ffdb,#00ffe3,#00ffe2,#00ffde,#00ffd9,#00ffde,#00ffde,#00ffd6,#00ffd3,#00ffd4,#00ffcd,#00ffcf,#00ffd1,#00ffd2,#00ffce,#00ffc9,#00ffd0,#00ffcd,#0fc,#00ffc8,#00ffc9,#00ffc6,#00ffc4,#00ffc3,#00ffc1,#00ffc2,#00ffc0,#00ffbc,#00ffc2,#00ffbc,#00ffb6,#00ffb5,#00ffb1,#00ffab,#00ffa7,#00ffa3,#00ffa1,#00ff9b,#0f9,#00ff97,#00ff92,#00ff8d,#0f8,#00ff87,#00ff82,#00ff7f,#00ff7e,#00ff79,#00ff79,#0f7,#00ff6e,#00ff6f,#00ff6a,#00ff68,#00ff65,#00ff65,#00ff62,#00ff5f,#00ff5b,#00ff57,#00ff57,#00ff53,#00ff47,#00ff3b,#00ff2f,#00ff26,#00ff1a,#00ff0c,#00ff03,#0fff00,#21ff00,#3f0,#45ff00,#4f0,#4aff00,#4dff00,#4cff00,#4eff00,#51ff00,#52ff00,#5f0,#56ff00,#59ff00,#59ff00,#5aff00,#5dff00,#61ff00,#64ff00,#64ff00,#67ff00,#68ff00,#69ff00,#6dff00,#6fff00,#70ff00,#70ff00,#73ff00,#7f0,#7f0,#7bff00,#7dff00,#7eff00,#80ff00,#81ff00,#83ff00,#84ff00,#86ff00,#89ff00,#8bff00,#8cff00,#8fff00,#90ff00,#93ff00,#96ff00,#cf0,#fffa00,#ffce00,#f80,#ff6300,#ff4b00,#ff1c00,#ff0200,#ff0200,#ff0100,#f00,#f00,#ff0300,#f00,#f00,#f00,#f00,#f00,#f00,#ff0100,#ff0100,#f00,#ff0200,#f00,#f00,#f00,#f00,#f00,#f00,#f00 178.5px)"></i>
<i style="left:387px;top:0px;width:20px;height:181px;background:linear-gradient(#001dff .5px,#0014ff,#0800ff,#000aff,#0016ff,#0019ff,#002aff,#001aff,#0003ff,#0020ff,#000dff,#002bff,#0015ff,#0024ff,#0014ff,#0027ff,#001fff,#001fff,#0020ff,#00f,#0039ff,#0018ff,#001aff,#0007ff,#000aff,#0028ff,#0200ff,#003cff,#0009ff,#0024ff,#0004ff,#0016ff,#0019ff,#0028ff,#0020ff,#2e00ff,#000cff,#0031ff,#0040ff,#03f,#0a00ff,#001cff,#03f,#000bff,#0d00ff,#000fff,#001dff,#000bff,#003dff,#0004ff,#0800ff,#0300ff,#002cff,#0013ff,#003eff,#0007ff,#0032ff,#0500ff,#0028ff,#000eff,#002cff,#0010ff,#000eff,#0013ff,#0023ff,#0023ff,#0025ff,#0040ff,#00f,#000cff,#000aff,#0045ff,#000fff,#0a00ff,#3600ff,#002aff,#0008ff,#0023ff,#0007ff,#0021ff,#00f,#0029ff,#0002ff,#003bff,#0020ff,#003eff,#0025ff,#0025ff,#0015ff,#0034ff,#00f,#002eff,#0036ff,#002aff,#001eff,#0100ff,#001dff,#0019ff,#0027ff,#0015ff,#002aff,#0027ff,#002dff,#0018ff,#0020ff,#001bff,#1000ff,#0009ff,#0b00ff,#0029ff,#0027ff,#0007ff,#0032ff,#0015ff,#001cff,#0024ff,#0014ff,#0021ff,#0018ff,#0023ff,#0004ff,#002dff,#0014ff,#000cff,#003eff,#01f,#03f,#0030ff,#0027ff,#0027ff,#000dff,#001fff,#000fff,#0013ff,#0030ff,#0026ff,#0010ff,#0043ff,#0029ff,#0400ff,#0021ff,#0037ff,#002aff,#0019ff,#001cff,#001bff,#0010ff,#03f,#0021ff,#002cff,#004dff,#0015ff,#0032ff,#0024ff,#003eff,#001bff,#0037ff,#002dff,#03f,#0046ff,#0034ff,#001bff,#003dff,#002eff,#001dff,#03f,#0026ff,#003dff,#0020ff,#0023ff,#0018ff,#03f,#0003ff,#002fff,#0032ff,#001eff,#002cff,#0030ff,#0026ff,#0012ff,#003aff 180.5px)"></i>
<i style="left:387px;top:181px;width:20px;height:181px;background:linear-gradient(#02f .5px,#002aff,#0039ff,#004aff,#001fff,#0030ff,#0031ff,#002dff,#001eff,#002dff,#003dff,#02f,#002fff,#0034ff,#03f,#0021ff,#002dff,#003aff,#0021ff,#002bff,#0029ff,#0056ff,#02f,#002eff,#001cff,#0035ff,#03f,#004dff,#0042ff,#0200ff,#0038ff,#001dff,#03f,#0034ff,#003cff,#003cff,#002dff,#0043ff,#0042ff,#0038ff,#004aff,#002fff,#0045ff,#0016ff,#0056ff,#003eff,#004aff,#002dff,#0049ff,#003aff,#02f,#05f,#003fff,#0042ff,#003dff,#0034ff,#0045ff,#0036ff,#0046ff,#0034ff,#0046ff,#03f,#0043ff,#005aff,#003aff,#002eff,#0057ff,#003aff,#0045ff,#0059ff,#003bff,#0056ff,#0039ff,#0043ff,#004eff,#004cff,#0051ff,#05f,#06f,#004bff,#0059ff,#006dff,#005bff,#0065ff,#0084ff,#007fff,#007aff,#0079ff,#007aff,#0078ff,#007aff,#007aff,#007aff,#0086ff,#0089ff,#007fff,#0089ff,#007fff,#008cff,#008aff,#0096ff,#00a6ff,#00bcff,#00c3ff,#00cbff,#00deff,#00ecff,#00f8ff,#00fffc,#00f9ff,#00faff,#00fff6,#00fffe,#00fff1,#00ffe0,#00ffe6,#00fff4,#0fe,#00ffe6,#00ffea,#00ffe4,#00ffe6,#00ffe6,#00ffe4,#00fff1,#00ffe1,#00fff0,#00ffed,#00fff6,#00ffec,#00fff0,#00fffa,#00f9ff,#00edff,#00f7ff,#00e7ff,#00e8ff,#00e7ff,#00e0ff,#00deff,#00e0ff,#00d7ff,#00caff,#00ceff,#0cf,#00c6ff,#00ceff,#00c6ff,#00c8ff,#00c9ff,#00cfff,#00bfff,#00c6ff,#00cfff,#00cbff,#00c4ff,#00beff,#00c3ff,#00bfff,#00c0ff,#00b9ff,#00c5ff,#00c5ff,#00e0ff,#00e7ff,#00ecff,#00f4ff,#00f6ff,#00f5ff,#00f8ff,#00f6ff,#00fbff,#00f5ff,#00faff,#00fffb,#00f7ff,#00f8ff,#00fffc,#0ff,#0ff,#0ff 180.5px)"></i>
<i style="left:387px;top:362px;width:20px;height:179px;background:linear-gradient(#00fdff .5px,#00fdff,#00fffa,#00fffc,#00fff8,#00fff9,#0fe,#00fff9,#00fff0,#00fff6,#00ffe9,#00ffef,#00fff6,#00ffea,#00fff3,#00ffeb,#00fff3,#00ffec,#00ffed,#00ffe6,#00fff6,#00fff4,#00ffe6,#00ffe6,#00ffeb,#00ffe8,#00ffef,#00ffe8,#00ffe9,#00ffe2,#00ffe3,#00ffe4,#0fd,#00ffe3,#00ffdc,#00ffdf,#00ffdb,#0fd,#00ffd5,#00ffdb,#00ffd1,#00ffd5,#00ffd9,#00ffd7,#00ffcf,#00ffce,#00ffd6,#00ffd0,#00ffcd,#00ffc6,#00ffca,#0fc,#00ffc7,#00ffc9,#00ffcb,#00ffc7,#00ffc6,#00ffc5,#00ffc3,#00ffc1,#00ffc3,#00ffbe,#00ffc1,#00ffb7,#00ffb4,#00ffb1,#00ffb3,#00ffac,#00ffa7,#00ffa4,#00ff9f,#00ffa2,#00ff9c,#00ff98,#00ff9b,#0f9,#00ff95,#00ff92,#00ff90,#00ff8a,#00ff89,#00ff8b,#00ff83,#00ff82,#00ff7d,#00ff7d,#0f7,#0f7,#00ff75,#00ff74,#00ff6d,#00ff6c,#00ff6c,#0f6,#00ff62,#00ff64,#00ff5e,#00ff5b,#00ff51,#00ff47,#00ff3f,#00ff32,#00ff26,#00ff1e,#00ff0e,#00ff05,#09ff00,#17ff00,#29ff00,#37ff00,#3dff00,#41ff00,#4f0,#4f0,#49ff00,#4dff00,#4dff00,#54ff00,#58ff00,#58ff00,#5aff00,#5cff00,#5fff00,#61ff00,#67ff00,#68ff00,#6cff00,#6eff00,#72ff00,#76ff00,#78ff00,#7bff00,#7eff00,#81ff00,#81ff00,#85ff00,#87ff00,#8bff00,#8eff00,#91ff00,#94ff00,#95ff00,#96ff00,#9cff00,#a0ff00,#a1ff00,#a6ff00,#af0,#b3ff00,#eaff00,#fffa00,#ffdc00,#ff9a00,#ff5600,#ff2b00,#ff0d00,#ff0100,#f00,#ff0100,#f00,#f00,#ff0200,#f00,#f00,#ff0100,#f00,#f00,#f00,#f00,#f00,#f00,#f00,#ff0100,#f00,#f00,#f00,#f00,#ff0100,#ff0100 178.5px)"></i>
<i style="left:407px;top:0px;width:19px;height:181px;background:linear-gradient(#001cff .5px,#0008ff,#0020ff,#000dff,#0c00ff,#0004ff,#1700ff,#002eff,#000fff,#001eff,#0029ff,#0005ff,#000fff,#001fff,#0027ff,#0800ff,#002dff,#002fff,#0023ff,#0018ff,#0025ff,#002aff,#000eff,#1b00ff,#0600ff,#001fff,#0013ff,#0008ff,#0008ff,#0013ff,#0017ff,#0015ff,#002bff,#0013ff,#000bff,#0010ff,#0037ff,#0012ff,#0037ff,#02f,#0013ff,#0d00ff,#0009ff,#01f,#0027ff,#000bff,#0017ff,#0025ff,#0023ff,#0023ff,#0027ff,#0009ff,#001eff,#0014ff,#0023ff,#1200ff,#0021ff,#000fff,#0025ff,#001fff,#0030ff,#002eff,#0019ff,#0023ff,#0025ff,#0005ff,#0200ff,#001cff,#0015ff,#0032ff,#0005ff,#002aff,#03f,#0024ff,#000fff,#00f,#002fff,#000dff,#0013ff,#0023ff,#1300ff,#0100ff,#0029ff,#0b00ff,#002aff,#001fff,#0014ff,#001dff,#0020ff,#0018ff,#0014ff,#0019ff,#001dff,#000aff,#0032ff,#0014ff,#0024ff,#002cff,#001cff,#002dff,#0015ff,#0008ff,#0017ff,#0029ff,#2c00ff,#0031ff,#0013ff,#0026ff,#001dff,#0042ff,#0400ff,#0021ff,#003aff,#002aff,#000fff,#001dff,#0023ff,#001eff,#0032ff,#0041ff,#0036ff,#0020ff,#002cff,#0009ff,#001cff,#001eff,#0019ff,#002bff,#0019ff,#0023ff,#001cff,#0025ff,#0028ff,#0031ff,#000cff,#0032ff,#001fff,#000dff,#0019ff,#003eff,#002dff,#000cff,#000fff,#001eff,#0050ff,#000eff,#003eff,#0010ff,#0014ff,#0036ff,#0025ff,#002eff,#001aff,#0017ff,#1f00ff,#0013ff,#0048ff,#0031ff,#0038ff,#002cff,#0016ff,#001dff,#000dff,#0040ff,#0030ff,#002bff,#0031ff,#002dff,#0039ff,#0020ff,#0026ff,#004bff,#0031ff,#0018ff,#004cff,#0039ff,#0026ff,#0036ff,#002cff,#0024ff,#003dff 180.5px)"></i>
<i style="left:407px;top:181px;width:19px;height:181px;background:linear-gradient(#0032ff .5px,#04f,#03f,#0045ff,#0039ff,#000cff,#0025ff,#0050ff,#0025ff,#0039ff,#0048ff,#0028ff,#0042ff,#003cff,#003fff,#0021ff,#0035ff,#04f,#0023ff,#0026ff,#003bff,#03f,#003aff,#0038ff,#0039ff,#005bff,#003aff,#002eff,#003dff,#002cff,#002bff,#003aff,#003eff,#003aff,#04f,#0023ff,#004bff,#0039ff,#0027ff,#0068ff,#003dff,#0035ff,#0037ff,#001bff,#0037ff,#002aff,#003aff,#0046ff,#004cff,#0039ff,#002fff,#0046ff,#0042ff,#0046ff,#0038ff,#0057ff,#002aff,#0045ff,#0030ff,#0030ff,#003eff,#04f,#0d00ff,#0049ff,#003dff,#003cff,#006bff,#0041ff,#0059ff,#04f,#003bff,#0035ff,#004cff,#0058ff,#0043ff,#0048ff,#0046ff,#0050ff,#0067ff,#005dff,#005dff,#0074ff,#0074ff,#0076ff,#008cff,#0081ff,#008bff,#007aff,#08f,#0098ff,#0096ff,#009cff,#008bff,#09f,#00abff,#00aeff,#008eff,#009bff,#00b7ff,#00b8ff,#00c3ff,#00aeff,#00ceff,#00deff,#00ebff,#00e5ff,#00fcff,#00fffc,#00fdff,#0fe,#0fe,#00ffed,#00fff3,#00ffea,#00ffea,#0fd,#00ffd7,#00ffeb,#00ffd9,#00ffe2,#00ffea,#00ffea,#00ffdc,#00ffe3,#00ffea,#00ffe6,#00ffe8,#00ffe6,#00ffdb,#00ffed,#00fff1,#00f6ff,#00fff7,#00fffa,#00fff9,#00efff,#00ecff,#00e7ff,#0df,#00e1ff,#00d7ff,#00d7ff,#00d6ff,#00d8ff,#00d2ff,#00e0ff,#00d2ff,#00d3ff,#00d1ff,#00cdff,#00d2ff,#00cdff,#00c2ff,#00c4ff,#00ceff,#0bf,#00cfff,#00c5ff,#00c6ff,#0cf,#00c6ff,#00c4ff,#00bfff,#00cdff,#00cfff,#00dfff,#00e0ff,#00dfff,#00f0ff,#00f4ff,#00fffe,#00f8ff,#00f0ff,#00f9ff,#00fdff,#0ff,#00f4ff,#0ff,#00fffd,#00fffe,#00f6ff 180.5px)"></i>
<i style="left:407px;top:362px;width:19px;height:179px;background:linear-gradient(#00feff .5px,#00fffe,#00fffd,#00fff6,#00fffc,#00fbff,#00faff,#00fff4,#00fffa,#00fff5,#00ffed,#00fff5,#00fff1,#00fff7,#00fff5,#00ffea,#00ffe6,#00ffef,#00ffec,#00ffe9,#00ffeb,#00ffe8,#00ffea,#00ffe4,#00ffe9,#00ffe8,#00ffeb,#00ffe7,#00ffea,#00ffe2,#00ffdc,#00ffe5,#00ffe2,#00ffe1,#00ffda,#00ffdc,#00ffdb,#0fd,#00ffd9,#00ffd8,#00ffd9,#00ffcf,#00ffd1,#00ffd3,#00ffd0,#00ffc7,#0fc,#00ffd0,#00ffcd,#00ffc7,#00ffc9,#00ffca,#00ffc8,#00ffcb,#00ffc7,#00ffc6,#00ffc4,#00ffbe,#00ffc1,#00ffbd,#00ffbf,#00ffc1,#00ffb6,#00ffb7,#00ffb3,#00ffac,#00ffa8,#00ffa8,#00ffa2,#00ffa3,#00ff9d,#00ff9f,#00ff98,#00ff9a,#00ff95,#00ff97,#00ff8f,#00ff8d,#00ff8f,#00ff8c,#00ff8b,#00ff86,#00ff86,#00ff7f,#00ff7d,#00ff78,#0f7,#00ff75,#00ff73,#00ff6d,#00ff6c,#00ff6a,#00ff68,#00ff61,#00ff60,#00ff5d,#00ff58,#00ff4c,#00ff3f,#00ff32,#00ff28,#00ff16,#00ff0c,#00ff04,#0bff00,#1aff00,#24ff00,#30ff00,#3eff00,#3fff00,#42ff00,#47ff00,#47ff00,#4cff00,#4bff00,#4dff00,#51ff00,#54ff00,#58ff00,#5aff00,#59ff00,#5dff00,#61ff00,#63ff00,#6f0,#69ff00,#6cff00,#6cff00,#70ff00,#72ff00,#78ff00,#78ff00,#79ff00,#7eff00,#82ff00,#81ff00,#84ff00,#89ff00,#8bff00,#8eff00,#92ff00,#93ff00,#96ff00,#97ff00,#9cff00,#9cff00,#a0ff00,#f5ff00,#ffd300,#ffac00,#ff9a00,#ff9800,#ff9800,#ff9500,#ff9400,#ff8b00,#ff6f00,#ff4900,#ff3500,#ff3100,#ff2500,#ff1000,#ff0100,#f00,#ff0200,#f00,#f00,#f00,#ff0100,#f00,#f00,#f00,#ff0100,#f00,#f00,#ff0100,#ff0200,#ff0100,#f00 178.5px)"></i>
<i style="left:426px;top:0px;width:20px;height:181px;background:linear-gradient(#0003ff .5px,#0d00ff,#000eff,#0023ff,#0500ff,#0002ff,#001dff,#0023ff,#0500ff,#0002ff,#0035ff,#0015ff,#003bff,#0026ff,#0029ff,#000eff,#0014ff,#0041ff,#03f,#03f,#002bff,#0200ff,#001fff,#000eff,#0021ff,#0014ff,#0d00ff,#0039ff,#0025ff,#002eff,#002dff,#000fff,#0024ff,#4c00ff,#0030ff,#0023ff,#000cff,#000cff,#0025ff,#0026ff,#001dff,#000fff,#0006ff,#0043ff,#000fff,#0013ff,#0010ff,#0017ff,#0019ff,#000cff,#001aff,#000cff,#0015ff,#0006ff,#0006ff,#000cff,#03f,#001aff,#0003ff,#000dff,#0015ff,#004eff,#0010ff,#003eff,#002dff,#0020ff,#0035ff,#0038ff,#000dff,#000dff,#002bff,#0015ff,#003aff,#0007ff,#003eff,#0029ff,#0012ff,#0036ff,#0016ff,#002cff,#001dff,#0019ff,#001aff,#0014ff,#001dff,#0019ff,#0024ff,#002bff,#03f,#001eff,#002cff,#000fff,#001aff,#0012ff,#001eff,#000cff,#0019ff,#004dff,#0038ff,#0031ff,#003eff,#0010ff,#004eff,#0028ff,#0028ff,#0042ff,#0052ff,#02f,#1400ff,#0035ff,#0700ff,#0020ff,#002cff,#001cff,#0005ff,#002bff,#0034ff,#0016ff,#0024ff,#0043ff,#0034ff,#002dff,#001dff,#0038ff,#0036ff,#03f,#001eff,#03f,#0040ff,#003eff,#0045ff,#0031ff,#0018ff,#002cff,#0014ff,#002aff,#0028ff,#002fff,#0021ff,#001cff,#0030ff,#002fff,#003fff,#0012ff,#0026ff,#001aff,#0039ff,#003bff,#0028ff,#001fff,#0032ff,#003dff,#0042ff,#0038ff,#0026ff,#0023ff,#001bff,#002eff,#0030ff,#0047ff,#0019ff,#0027ff,#002fff,#0036ff,#0034ff,#04f,#0021ff,#0031ff,#0038ff,#002aff,#0043ff,#0021ff,#002fff,#003fff,#001aff,#003dff,#0048ff,#0029ff,#0038ff,#001fff,#0028ff 180.5px)"></i>
<i style="left:426px;top:181px;width:20px;height:181px;background:linear-gradient(#003cff .5px,#002fff,#003aff,#003cff,#002bff,#004dff,#001fff,#002eff,#0025ff,#004fff,#0037ff,#0029ff,#003dff,#0043ff,#0046ff,#0048ff,#04f,#0045ff,#0025ff,#003bff,#0046ff,#003dff,#01f,#001dff,#0019ff,#005aff,#0031ff,#0039ff,#0031ff,#0024ff,#003eff,#003fff,#0037ff,#002bff,#0037ff,#0040ff,#0024ff,#002fff,#0047ff,#003cff,#0039ff,#003eff,#0039ff,#0021ff,#002cff,#0052ff,#0035ff,#0047ff,#0031ff,#0047ff,#0038ff,#0037ff,#0028ff,#0069ff,#0040ff,#0057ff,#0051ff,#004aff,#0047ff,#0043ff,#002dff,#004fff,#0056ff,#0043ff,#0048ff,#0041ff,#004cff,#0059ff,#0038ff,#005aff,#0039ff,#004aff,#004dff,#005bff,#0045ff,#004dff,#0053ff,#005dff,#0067ff,#0070ff,#0069ff,#0069ff,#007aff,#007bff,#0087ff,#009cff,#008fff,#0094ff,#008bff,#0095ff,#00a9ff,#0098ff,#00a2ff,#00acff,#00a1ff,#00c4ff,#00c9ff,#00ceff,#00d0ff,#00caff,#00e6ff,#00e9ff,#00f2ff,#00e8ff,#00fbff,#00fff7,#00fffe,#00fffa,#00fffb,#00fffe,#00ffef,#00fff5,#00ffe8,#00ffe5,#00ffea,#00ffec,#00ffea,#00ffdb,#00ffe9,#00ffdf,#00ffe7,#00ffec,#00ffe6,#00ffe6,#00ffe8,#0fe,#00ffe3,#00ffec,#00ffe8,#00ffea,#00ffdc,#00fff3,#00fff8,#00fff4,#00fcff,#00efff,#00efff,#00f2ff,#0ef,#00edff,#00caff,#00daff,#0df,#00e6ff,#00d1ff,#00cfff,#00d7ff,#00d7ff,#00d2ff,#00d5ff,#00d2ff,#00d1ff,#00d8ff,#00c8ff,#00d3ff,#00caff,#00c5ff,#00c3ff,#00c0ff,#0cf,#00cbff,#00c3ff,#00cbff,#00baff,#00ceff,#00c4ff,#00cbff,#00d2ff,#00daff,#00dcff,#00e9ff,#00fdff,#00efff,#0ff,#00f4ff,#0ff,#00f8ff,#00f9ff,#00fffd,#00fffe,#00f8ff 180.5px)"></i>
<i style="left:426px;top:362px;width:20px;height:179px;background:linear-gradient(#00fffb .5px,#00fff0,#0ff,#00fff4,#00fff3,#00fff6,#00fff5,#00ffec,#0fe,#00fff4,#00fff8,#00fff7,#00fff2,#00ffe9,#00ffe9,#00ffeb,#00ffec,#00ffea,#00ffeb,#00ffeb,#00ffe8,#00ffe5,#00ffe5,#00fff0,#00ffde,#00ffe0,#00ffde,#00ffe2,#00ffdc,#00ffde,#00ffd9,#00ffda,#00ffdc,#00ffd7,#00ffe0,#00ffde,#00ffd6,#00ffe2,#00ffd9,#00ffce,#00ffd1,#00ffcf,#00ffd6,#00ffce,#00ffcf,#00ffd2,#00ffd0,#00ffc7,#00ffc8,#00ffc7,#00ffcd,#0fc,#00ffc2,#00ffc3,#00ffc5,#00ffc3,#00ffbc,#00ffc1,#00ffc3,#00ffb6,#00ffbe,#00ffbc,#00ffb8,#00ffb3,#00ffb0,#00ffaf,#00ffa8,#00ffa4,#00ffa2,#00ff9d,#00ffa0,#00ff9b,#00ff97,#00ff92,#00ff97,#00ff93,#00ff95,#00ff90,#00ff8f,#00ff8b,#0f8,#00ff86,#00ff81,#00ff7d,#00ff7a,#00ff7b,#00ff75,#00ff72,#00ff72,#00ff6f,#00ff6d,#0f6,#00ff62,#00ff5e,#00ff5d,#00ff5b,#00ff50,#0f4,#00ff36,#00ff29,#00ff1f,#0f1,#00ff02,#0dff00,#19ff00,#29ff00,#39ff00,#3fff00,#4f0,#46ff00,#49ff00,#4eff00,#50ff00,#57ff00,#57ff00,#5cff00,#60ff00,#64ff00,#64ff00,#6cff00,#6fff00,#72ff00,#76ff00,#78ff00,#7dff00,#7dff00,#80ff00,#84ff00,#8aff00,#8eff00,#92ff00,#95ff00,#9bff00,#9cff00,#a1ff00,#a4ff00,#a6ff00,#a9ff00,#beff00,#cbff00,#d1ff00,#d5ff00,#daff00,#e0ff00,#e4ff00,#ebff00,#f0ff00,#f6ff00,#fbff00,#ff0,#fffd00,#fffe00,#fffb00,#fff900,#ffd700,#ff8400,#ff3000,#ff0c00,#f00,#f00,#ff0100,#f00,#f00,#f00,#ff0100,#f00,#f00,#f00,#f00,#f00,#f00,#f00,#f00,#f00,#f00,#f00,#ff0100,#ff0100,#f00 178.5px)"></i>
<i style="left:446px;top:0px;width:19px;height:181px;background:linear-gradient(#002eff .5px,#004eff,#0014ff,#0018ff,#0400ff,#0023ff,#2d00ff,#0035ff,#000fff,#0027ff,#001fff,#20f,#0013ff,#0020ff,#10f,#0a00ff,#000cff,#0016ff,#02f,#0018ff,#0005ff,#1f00ff,#000fff,#0024ff,#0013ff,#001dff,#001eff,#000aff,#0c00ff,#0006ff,#0012ff,#0036ff,#0019ff,#001fff,#0006ff,#0006ff,#01f,#0012ff,#0026ff,#002eff,#000cff,#002fff,#0020ff,#002bff,#000dff,#0800ff,#002aff,#0013ff,#002dff,#0008ff,#0028ff,#0005ff,#0012ff,#02f,#0017ff,#001cff,#0014ff,#0013ff,#00f,#0007ff,#000fff,#0028ff,#0b00ff,#001fff,#0017ff,#0017ff,#0013ff,#001eff,#002dff,#0016ff,#0015ff,#0038ff,#0029ff,#0001ff,#001eff,#000fff,#0032ff,#0007ff,#0034ff,#000cff,#0024ff,#0009ff,#0500ff,#001fff,#0600ff,#0400ff,#0030ff,#0037ff,#0021ff,#0010ff,#001eff,#002aff,#02f,#000dff,#0015ff,#000cff,#001dff,#0c00ff,#3d00ff,#001dff,#0021ff,#0054ff,#20f,#0020ff,#001cff,#0010ff,#002aff,#001eff,#000eff,#0021ff,#0010ff,#000dff,#000dff,#002eff,#01f,#0019ff,#0100ff,#0025ff,#001eff,#001bff,#000aff,#0020ff,#000fff,#0031ff,#002bff,#0009ff,#03f,#0800ff,#0037ff,#0030ff,#0015ff,#0024ff,#0026ff,#0012ff,#0100ff,#04f,#0016ff,#0014ff,#001aff,#0031ff,#001eff,#0005ff,#0028ff,#0038ff,#0b00ff,#001eff,#0020ff,#0029ff,#004dff,#03f,#0015ff,#0034ff,#001bff,#001dff,#0034ff,#0047ff,#0037ff,#0018ff,#0034ff,#001aff,#0038ff,#000fff,#0021ff,#001dff,#002cff,#0025ff,#0021ff,#0010ff,#0038ff,#002eff,#01f,#002aff,#0013ff,#0400ff,#001aff,#0034ff,#002aff,#02f,#003eff,#0032ff,#0030ff 180.5px)"></i>
<i style="left:446px;top:181px;width:19px;height:181px;background:linear-gradient(#0024ff .5px,#0027ff,#0035ff,#002bff,#0036ff,#0023ff,#0021ff,#03f,#0024ff,#001aff,#002eff,#0039ff,#04f,#0019ff,#0021ff,#004fff,#003dff,#002eff,#003dff,#003bff,#0025ff,#0028ff,#0042ff,#002fff,#002cff,#003eff,#0015ff,#003eff,#003dff,#0036ff,#0053ff,#004dff,#003eff,#004fff,#0046ff,#003cff,#003bff,#002aff,#0049ff,#004cff,#0043ff,#004cff,#03f,#003cff,#0042ff,#005bff,#0040ff,#03f,#0028ff,#003dff,#0057ff,#0042ff,#03f,#0039ff,#004aff,#0041ff,#003cff,#003cff,#0200ff,#0067ff,#0067ff,#002eff,#0046ff,#003dff,#0051ff,#0035ff,#0047ff,#003bff,#0050ff,#002eff,#003cff,#003bff,#0049ff,#0054ff,#0046ff,#003cff,#004bff,#05f,#0069ff,#0064ff,#07f,#05f,#0086ff,#008eff,#0079ff,#009bff,#0079ff,#0093ff,#0084ff,#008eff,#009cff,#009eff,#00a3ff,#00a3ff,#009aff,#00a0ff,#0af,#00adff,#00b5ff,#00b1ff,#00c4ff,#00d2ff,#00d4ff,#00eaff,#00ecff,#00faff,#00f4ff,#00fffe,#00f9ff,#00f9ff,#00feff,#00fff4,#00ffec,#00ffdc,#00ffe6,#00ffe9,#00ffe0,#00ffe6,#00ffe7,#00ffe6,#00ffe1,#0fd,#00fff0,#00ffe7,#00ffea,#00ffe7,#00ffd9,#00ffe9,#00fff7,#00ffe6,#00fff5,#00fffe,#00fff1,#00fff9,#00f9ff,#0ef,#00e2ff,#00eaff,#00dbff,#00daff,#00d3ff,#00d1ff,#00c0ff,#00c2ff,#00c0ff,#0bf,#00c1ff,#00c5ff,#00c7ff,#00c7ff,#00c5ff,#00cdff,#00baff,#00c0ff,#00c0ff,#0bf,#00c8ff,#00c0ff,#00c7ff,#00c3ff,#00bfff,#00c6ff,#00b8ff,#00baff,#00beff,#00b3ff,#00c0ff,#00c7ff,#00c6ff,#00d3ff,#00dbff,#00f6ff,#00f4ff,#00f3ff,#00f2ff,#00faff,#00f5ff,#00fcff,#00fcff,#00fffa,#00fffe 180.5px)"></i>
<i style="left:446px;top:362px;width:19px;height:179px;background:linear-gradient(#00f9ff .5px,#00fffe,#00fff9,#00fffa,#00fff1,#00fff9,#00fffc,#00fff4,#00fff1,#00fff6,#00fff2,#00fff3,#00fff1,#00ffef,#00fff2,#00ffeb,#00ffec,#00ffe4,#00ffea,#00ffea,#00ffef,#0fd,#00ffe8,#00ffe8,#00ffe6,#00ffe4,#00ffe3,#00ffda,#00ffe3,#00ffe0,#00ffe0,#00ffdb,#00ffe3,#00ffd7,#00ffdc,#00ffdf,#00ffd2,#00ffdc,#00ffd3,#00ffd5,#00ffd6,#00ffd9,#00ffd4,#00ffce,#00ffd0,#00ffd1,#00ffca,#0fc,#00ffcb,#00ffcd,#00ffce,#00ffca,#00ffc6,#00ffc7,#00ffc4,#00ffc5,#00ffc4,#00ffc2,#00ffc0,#00ffc6,#00ffbd,#00ffba,#00ffb8,#00ffb0,#00ffad,#00ffa9,#00ffa7,#00ffa5,#00ffa3,#00ff9e,#00ff9e,#00ff9a,#00ff98,#00ff97,#00ff98,#00ff94,#00ff93,#00ff92,#00ff8d,#00ff8a,#00ff89,#0f8,#00ff83,#00ff80,#00ff7e,#00ff7a,#00ff75,#00ff73,#00ff6e,#00ff6e,#00ff67,#0f6,#00ff62,#00ff5f,#00ff5c,#00ff4e,#0f4,#00ff34,#00ff26,#00ff19,#00ff0c,#0f0,#0cff00,#17ff00,#20ff00,#29ff00,#2dff00,#30ff00,#35ff00,#39ff00,#3fff00,#41ff00,#48ff00,#4aff00,#4eff00,#52ff00,#57ff00,#59ff00,#5dff00,#64ff00,#64ff00,#6dff00,#6fff00,#76ff00,#78ff00,#7eff00,#7eff00,#84ff00,#89ff00,#8cff00,#91ff00,#94ff00,#9f0,#9fff00,#9eff00,#a6ff00,#a8ff00,#afff00,#b0ff00,#beff00,#d9ff00,#dcff00,#deff00,#deff00,#deff00,#df0,#e1ff00,#e0ff00,#e7ff00,#ffb300,#ff9500,#ff8400,#ff8100,#ff7f00,#ff7200,#ff5000,#ff3200,#ff2900,#ff2800,#ff2600,#ff1e00,#ff0c00,#ff0200,#ff0100,#ff0100,#f00,#f00,#f00,#f00,#ff0300,#f00,#f00,#ff0200,#ff0100,#f00,#f00,#f00,#ff0100,#f00 178.5px)"></i>
<i style="left:465px;top:0px;width:19px;height:181px;background:linear-gradient(#0020ff .5px,#0024ff,#0005ff,#1800ff,#000fff,#0009ff,#0015ff,#000aff,#0019ff,#002eff,#000dff,#0012ff,#0012ff,#000bff,#0028ff,#002dff,#0008ff,#0025ff,#000dff,#0005ff,#0014ff,#0026ff,#1e00ff,#001aff,#000fff,#0f00ff,#000bff,#0018ff,#1300ff,#0020ff,#0017ff,#1300ff,#0002ff,#0041ff,#0c00ff,#000bff,#0012ff,#000dff,#001eff,#0017ff,#0027ff,#000bff,#001bff,#0029ff,#001fff,#05f,#1b00ff,#0d00ff,#0028ff,#0005ff,#003cff,#0023ff,#000fff,#0007ff,#000dff,#0018ff,#000bff,#0010ff,#0037ff,#0018ff,#0010ff,#0034ff,#0012ff,#0013ff,#0a00ff,#1200ff,#0013ff,#0029ff,#002bff,#0025ff,#001cff,#0032ff,#0008ff,#000eff,#2d00ff,#000fff,#0029ff,#000cff,#0016ff,#0030ff,#0020ff,#000aff,#0300ff,#0015ff,#03f,#001aff,#0016ff,#0031ff,#0007ff,#0014ff,#0045ff,#001cff,#02f,#0016ff,#0010ff,#0300ff,#0007ff,#003bff,#0025ff,#0025ff,#00f,#0020ff,#0005ff,#0021ff,#001eff,#0029ff,#0700ff,#002fff,#0010ff,#0021ff,#0046ff,#000fff,#0030ff,#02f,#0038ff,#001dff,#0007ff,#0017ff,#002eff,#0017ff,#0028ff,#0030ff,#0027ff,#0028ff,#0029ff,#0200ff,#001eff,#0017ff,#0035ff,#0016ff,#001eff,#002aff,#0017ff,#002cff,#0021ff,#0035ff,#0031ff,#0026ff,#02f,#0003ff,#0027ff,#0018ff,#0036ff,#003eff,#0012ff,#001aff,#0020ff,#0034ff,#0030ff,#0021ff,#000eff,#002aff,#0039ff,#002bff,#003aff,#0036ff,#0030ff,#0010ff,#0048ff,#001cff,#2600ff,#0032ff,#0024ff,#003eff,#004bff,#0029ff,#0042ff,#004aff,#002fff,#0027ff,#0010ff,#0012ff,#002cff,#002dff,#0015ff,#0027ff,#00f,#0019ff,#002eff,#0028ff,#0017ff 180.5px)"></i>
<i style="left:465px;top:181px;width:19px;height:181px;background:linear-gradient(#0018ff .5px,#0061ff,#0025ff,#001cff,#001eff,#003eff,#0027ff,#0019ff,#0047ff,#0030ff,#003cff,#0035ff,#0035ff,#0032ff,#0050ff,#0032ff,#003dff,#0021ff,#0048ff,#0037ff,#0032ff,#0021ff,#0027ff,#003eff,#0020ff,#002fff,#0013ff,#0040ff,#0040ff,#0030ff,#002cff,#0045ff,#003fff,#0040ff,#0036ff,#04f,#003dff,#004aff,#0035ff,#0041ff,#0017ff,#003bff,#0041ff,#0038ff,#0046ff,#0048ff,#0046ff,#003dff,#0031ff,#003cff,#0041ff,#0058ff,#0052ff,#003aff,#0046ff,#0046ff,#0049ff,#0034ff,#0036ff,#04f,#003dff,#004dff,#004bff,#002cff,#0059ff,#004cff,#005bff,#0049ff,#003eff,#0054ff,#0056ff,#004cff,#0042ff,#003fff,#003fff,#0059ff,#0050ff,#05f,#0058ff,#006eff,#0065ff,#07f,#0063ff,#0071ff,#0080ff,#0079ff,#0097ff,#0078ff,#0092ff,#0097ff,#009aff,#0097ff,#09f,#00b7ff,#00a0ff,#009cff,#008eff,#00b2ff,#00a6ff,#00b7ff,#00b3ff,#00c7ff,#00d5ff,#00d4ff,#00d4ff,#00f9ff,#00fff7,#00f4ff,#00feff,#00fffa,#00fff7,#0fe,#00ffef,#00ffe7,#0fe,#00fff2,#00ffdc,#00ffe6,#00ffe5,#00ffef,#00ffe5,#00ffe8,#00ffe5,#00ffe7,#00ffe1,#00ffdf,#00ffea,#00ffea,#00ffe4,#00fff5,#00fff8,#00fffd,#00efff,#0ff,#00ebff,#00e4ff,#00d7ff,#00dcff,#00d1ff,#00c8ff,#00cdff,#00cfff,#00b9ff,#00beff,#00caff,#00bcff,#00b9ff,#00c6ff,#00bfff,#00c2ff,#00c7ff,#00c1ff,#00bfff,#00c8ff,#00b5ff,#00b7ff,#00bcff,#00baff,#00bcff,#00b3ff,#00b4ff,#00c1ff,#00bcff,#00c0ff,#0bf,#00bdff,#00b5ff,#00c8ff,#00cbff,#00c7ff,#00d5ff,#00e3ff,#00e6ff,#00ecff,#00efff,#00e6ff,#00f5ff,#00f5ff,#00efff,#00f5ff,#00f8ff 180.5px)"></i>
<i style="left:465px;top:362px;width:19px;height:179px;background:linear-gradient(#00f8ff .5px,#00fcff,#00f5ff,#0ff,#00fffb,#00fffa,#00fff8,#00fffc,#00fff7,#00fff1,#00fff5,#00fff3,#00fff2,#00ffef,#00fff6,#00ffef,#00ffe9,#00fff1,#00ffe8,#00ffec,#00ffea,#00ffed,#00ffea,#00ffdf,#00ffea,#00ffe2,#00ffe7,#00ffd7,#00ffdc,#00ffe2,#00ffe2,#0fd,#00ffda,#00ffd3,#00ffd3,#00ffdc,#00ffd6,#00ffd2,#00ffd8,#00ffd6,#00ffcf,#00ffd7,#00ffd1,#00ffd0,#00ffd0,#00ffce,#00ffd2,#00ffc9,#0fc,#00ffc3,#00ffc2,#00ffc9,#00ffc0,#00ffc1,#00ffc7,#00ffc4,#00ffbf,#00ffc4,#00ffc1,#00ffc6,#00ffbf,#0fb,#00ffb7,#00ffb4,#00ffae,#00ffab,#00ffa9,#00ffa8,#00ffa1,#00ff9d,#00ff9b,#00ff96,#0f9,#00ff94,#00ff94,#00ff90,#00ff8e,#00ff93,#00ff93,#00ff8a,#0f8,#00ff85,#00ff83,#00ff80,#00ff79,#00ff76,#00ff75,#00ff70,#00ff6c,#00ff6c,#00ff67,#00ff61,#00ff5f,#00ff5d,#00ff4d,#00ff3c,#00ff2f,#00ff24,#00ff14,#00ff05,#08ff00,#15ff00,#2f0,#30ff00,#34ff00,#3bff00,#3eff00,#4f0,#47ff00,#4bff00,#4fff00,#52ff00,#5f0,#5bff00,#5fff00,#62ff00,#67ff00,#6bff00,#6eff00,#75ff00,#7f0,#7cff00,#81ff00,#83ff00,#8f0,#8dff00,#90ff00,#94ff00,#97ff00,#9dff00,#a0ff00,#a6ff00,#af0,#adff00,#b2ff00,#b5ff00,#bf0,#bdff00,#d0ff00,#dcff00,#dcff00,#dfff00,#dfff00,#deff00,#e1ff00,#eaff00,#ffe800,#ffbe00,#ffa700,#ffa500,#ffa300,#ffa300,#ffa000,#ffa000,#ff9e00,#ff9c00,#ff9c00,#ff9a00,#ff9800,#ff8200,#ff5a00,#ff2d00,#ff0c00,#f00,#ff0100,#f00,#f00,#f00,#f00,#f00,#f00,#f00,#f00,#f00,#f00,#f00,#ff0100,#f00,#f00 178.5px)"></i>
<i style="left:484px;top:0px;width:20px;height:181px;background:linear-gradient(#0032ff .5px,#0800ff,#0600ff,#1600ff,#001bff,#01f,#0026ff,#2000ff,#001dff,#0005ff,#0005ff,#0015ff,#000dff,#02f,#0010ff,#0006ff,#0e00ff,#2900ff,#2d00ff,#001eff,#000eff,#0b00ff,#0900ff,#000bff,#0b00ff,#0f00ff,#0004ff,#1900ff,#0100ff,#0031ff,#0026ff,#000cff,#00f,#0300ff,#1200ff,#000fff,#0100ff,#0005ff,#0039ff,#001eff,#000fff,#0008ff,#0b00ff,#0023ff,#0006ff,#000dff,#003dff,#0032ff,#0021ff,#0200ff,#0028ff,#0007ff,#0020ff,#0004ff,#0038ff,#0014ff,#0024ff,#0024ff,#0007ff,#0008ff,#000aff,#000eff,#0040ff,#001cff,#0020ff,#001fff,#0020ff,#0008ff,#0015ff,#0002ff,#001dff,#2c00ff,#000eff,#0400ff,#0039ff,#01f,#001eff,#0021ff,#000eff,#0e00ff,#001cff,#0600ff,#0005ff,#0e00ff,#0700ff,#0006ff,#0007ff,#0005ff,#0009ff,#0019ff,#000cff,#0700ff,#001eff,#0020ff,#3b00ff,#0038ff,#0021ff,#03f,#001fff,#000aff,#002dff,#01f,#0014ff,#001fff,#0010ff,#002fff,#0023ff,#0019ff,#0018ff,#0014ff,#01f,#001aff,#0026ff,#0013ff,#03f,#02f,#001dff,#0007ff,#0014ff,#0400ff,#001aff,#0300ff,#0016ff,#0f00ff,#002aff,#0024ff,#1500ff,#002bff,#0025ff,#10f,#0017ff,#000cff,#002fff,#000aff,#0030ff,#0013ff,#001eff,#002aff,#0021ff,#003cff,#001fff,#0019ff,#0009ff,#0024ff,#0028ff,#01f,#000aff,#0018ff,#0020ff,#0024ff,#0029ff,#0014ff,#02f,#0004ff,#0003ff,#0021ff,#000bff,#0029ff,#0a00ff,#001eff,#0023ff,#0024ff,#000bff,#0018ff,#0014ff,#0024ff,#002cff,#0012ff,#002eff,#0032ff,#0023ff,#0035ff,#0023ff,#001eff,#0040ff,#0017ff,#0024ff,#0030ff,#0036ff,#0015ff,#01f 180.5px)"></i>
<i style="left:484px;top:181px;width:20px;height:181px;background:linear-gradient(#0039ff .5px,#0013ff,#002dff,#002aff,#02f,#02f,#002eff,#0020ff,#02f,#001bff,#0019ff,#03f,#0021ff,#002aff,#002dff,#0026ff,#003dff,#002aff,#0040ff,#0021ff,#0023ff,#002cff,#002eff,#002aff,#0040ff,#0037ff,#0028ff,#003bff,#01f,#0026ff,#003aff,#003cff,#0021ff,#0040ff,#001aff,#0028ff,#002dff,#0038ff,#0014ff,#003bff,#0031ff,#0026ff,#03f,#003eff,#0051ff,#0042ff,#0039ff,#001eff,#0800ff,#0025ff,#0032ff,#0041ff,#0039ff,#003bff,#0023ff,#0037ff,#0041ff,#002dff,#0040ff,#003aff,#0049ff,#0032ff,#002eff,#003bff,#003eff,#0041ff,#0037ff,#0038ff,#0043ff,#003aff,#0042ff,#0049ff,#0043ff,#0032ff,#0053ff,#0041ff,#004bff,#003eff,#0054ff,#004fff,#0071ff,#0063ff,#0060ff,#0070ff,#006dff,#007bff,#0076ff,#0074ff,#0085ff,#0089ff,#08f,#0097ff,#009bff,#0096ff,#0098ff,#009eff,#00a4ff,#00a1ff,#009cff,#00b1ff,#00c8ff,#00c8ff,#00d2ff,#00d8ff,#0df,#00f4ff,#00faff,#00fdff,#00feff,#00fff6,#00fffc,#00faff,#00fff6,#00fff1,#00ffea,#00ffea,#00ffe9,#00ffea,#00ffeb,#00fff4,#00ffef,#00ffe7,#00ffe3,#00fffd,#0fe,#00ffef,#00ffe8,#00fff8,#00fff1,#0fe,#00fff8,#00fdff,#00fff0,#00fcff,#00f7ff,#00f5ff,#00f7ff,#00e2ff,#00e1ff,#0df,#00e3ff,#00e0ff,#00e2ff,#00d4ff,#00cfff,#00d1ff,#00c6ff,#00d0ff,#00beff,#00c9ff,#00bdff,#00c3ff,#00c8ff,#00bfff,#00bfff,#00c0ff,#00bcff,#00c2ff,#00bfff,#00c1ff,#0bf,#00c3ff,#00c2ff,#00bcff,#00c0ff,#00b9ff,#00b8ff,#0bf,#00c6ff,#00c7ff,#00cdff,#00d6ff,#00daff,#00e0ff,#00e2ff,#00f5ff,#00e8ff,#00f1ff,#00efff,#00fbff,#00edff 180.5px)"></i>
<i style="left:484px;top:362px;width:20px;height:179px;background:linear-gradient(#00f5ff .5px,#00f9ff,#00f6ff,#00fff8,#00feff,#00fffe,#00f7ff,#00fffb,#00fcff,#00fff8,#00fff8,#00fff9,#00fffa,#00fffa,#00fff7,#00ffeb,#00fff6,#00fff2,#0fe,#00fff5,#00ffef,#00ffe7,#00ffea,#00ffe7,#00ffe5,#00ffe8,#00fff0,#00ffe2,#00ffe2,#00ffed,#00ffe3,#00ffdb,#00ffe4,#00ffdb,#00ffd8,#0fd,#00ffdc,#00ffde,#00ffd6,#00ffd7,#00ffd5,#00ffd6,#00ffd4,#00ffd6,#00ffcf,#00ffd2,#0fc,#0fc,#00ffd0,#00ffd1,#00ffc8,#00ffc9,#00ffcb,#00ffc5,#00ffcd,#00ffc4,#00ffc6,#00ffc2,#00ffc4,#00ffc0,#00ffb9,#00ffb7,#00ffb8,#00ffaf,#00ffac,#00ffaf,#00ffa9,#00ffa6,#00ffa2,#00ff9f,#00ff95,#00ff9a,#00ff9a,#0f9,#00ff96,#00ff9a,#00ff97,#00ff97,#00ff9b,#00ff97,#00ff92,#00ff90,#00ff89,#00ff87,#00ff81,#00ff82,#00ff7c,#00ff7d,#0f7,#00ff72,#00ff6d,#00ff69,#00ff64,#00ff5d,#00ff4d,#00ff39,#00ff2a,#00ff19,#00ff09,#04ff00,#0eff00,#1aff00,#23ff00,#2dff00,#34ff00,#3bff00,#3bff00,#42ff00,#4f0,#4bff00,#4cff00,#4fff00,#54ff00,#58ff00,#5dff00,#60ff00,#65ff00,#6cff00,#6dff00,#72ff00,#78ff00,#78ff00,#7dff00,#81ff00,#86ff00,#8f0,#8dff00,#92ff00,#96ff00,#97ff00,#9fff00,#a2ff00,#a8ff00,#a9ff00,#aeff00,#b1ff00,#b7ff00,#baff00,#c0ff00,#c2ff00,#c4ff00,#dcff00,#f0ff00,#f1ff00,#f2ff00,#f2ff00,#f2ff00,#f3ff00,#ffdf00,#ffa100,#ff7200,#ff6800,#f60,#ff6300,#ff6300,#ff5c00,#ff4800,#ff2800,#ff1000,#ff0300,#ff0100,#ff0100,#f00,#ff0300,#ff0100,#f00,#f00,#f00,#ff0100,#ff0100,#ff0100,#ff0200,#ff0100,#ff0100,#ff0200,#ff0100,#ff0300,#f00,#ff0100 178.5px)"></i>
<i style="left:504px;top:0px;width:19px;height:181px;background:linear-gradient(#1200ff .5px,#0012ff,#1a00ff,#000bff,#1300ff,#000fff,#0006ff,#1b00ff,#0005ff,#000cff,#0d00ff,#0014ff,#000bff,#002eff,#0015ff,#000fff,#1200ff,#000cff,#3100ff,#0026ff,#001cff,#001aff,#0005ff,#0001ff,#0b00ff,#1c00ff,#0029ff,#1900ff,#0023ff,#0019ff,#01f,#0004ff,#001dff,#0015ff,#0100ff,#0800ff,#0001ff,#0029ff,#000eff,#10f,#0400ff,#0017ff,#001eff,#0b00ff,#0008ff,#0a00ff,#3400ff,#0004ff,#1000ff,#0020ff,#0018ff,#0007ff,#0001ff,#0003ff,#0007ff,#2100ff,#002cff,#0006ff,#0004ff,#0025ff,#000fff,#001dff,#001bff,#0f00ff,#0020ff,#0021ff,#000aff,#0017ff,#0500ff,#10f,#001dff,#0029ff,#0500ff,#0004ff,#0021ff,#10f,#0006ff,#000cff,#001bff,#0013ff,#000fff,#003cff,#0017ff,#0015ff,#000eff,#0026ff,#0800ff,#000cff,#0017ff,#0027ff,#001dff,#0009ff,#000aff,#000dff,#0c00ff,#0007ff,#0020ff,#0026ff,#001eff,#1200ff,#0c00ff,#000aff,#0028ff,#0400ff,#001eff,#0012ff,#0001ff,#0030ff,#000aff,#001aff,#001bff,#0032ff,#2d00ff,#0019ff,#0e00ff,#0024ff,#0500ff,#0014ff,#0014ff,#000eff,#000dff,#0023ff,#0023ff,#0005ff,#0400ff,#00f,#0014ff,#002cff,#003fff,#0003ff,#001fff,#002dff,#0025ff,#003aff,#002dff,#0019ff,#002bff,#0019ff,#0010ff,#001eff,#0016ff,#002dff,#000fff,#001cff,#0019ff,#000bff,#002aff,#0009ff,#02f,#0031ff,#0015ff,#0025ff,#0029ff,#0030ff,#002cff,#0034ff,#0007ff,#0048ff,#0034ff,#03f,#000cff,#0035ff,#002aff,#001dff,#0012ff,#0026ff,#02f,#0014ff,#0039ff,#03f,#0023ff,#002cff,#0035ff,#001cff,#000cff,#0014ff,#0021ff,#003fff,#0026ff,#02f,#000bff 180.5px)"></i>
<i style="left:504px;top:181px;width:19px;height:181px;background:linear-gradient(#0029ff .5px,#0029ff,#0024ff,#0017ff,#002fff,#002bff,#0038ff,#0029ff,#002aff,#0026ff,#002cff,#002bff,#0031ff,#0030ff,#0024ff,#002aff,#001cff,#002aff,#0029ff,#0017ff,#03f,#004eff,#002bff,#0016ff,#002bff,#0041ff,#002fff,#0028ff,#0046ff,#0042ff,#002dff,#0042ff,#0020ff,#003dff,#0046ff,#003dff,#0052ff,#0032ff,#0040ff,#002fff,#03f,#0048ff,#004bff,#0026ff,#002eff,#0043ff,#0047ff,#004eff,#003fff,#004dff,#0028ff,#0032ff,#002fff,#0037ff,#003cff,#0031ff,#003fff,#04f,#003aff,#0032ff,#004dff,#0053ff,#005aff,#003fff,#003cff,#003eff,#0025ff,#0046ff,#003eff,#003cff,#0024ff,#0056ff,#0040ff,#0037ff,#0041ff,#005cff,#0051ff,#0058ff,#0049ff,#0060ff,#006cff,#005cff,#0060ff,#006bff,#0078ff,#0074ff,#0090ff,#0091ff,#08f,#08f,#0089ff,#0091ff,#0095ff,#009dff,#009bff,#0098ff,#00a7ff,#00a6ff,#00a3ff,#00c3ff,#00c3ff,#00d1ff,#00e3ff,#00e6ff,#00f0ff,#00fffa,#00f3ff,#00feff,#00f6ff,#00fffc,#00ffe8,#00fff7,#00fffd,#00ffef,#00ffec,#00fff5,#00ffe2,#00ffea,#00fff0,#00ffe5,#00ffeb,#0fe,#00ffe9,#00ffe8,#00ffe3,#00ffec,#00fff5,#00ffef,#00ffdb,#00fff2,#00ffea,#00ffd7,#00ffe7,#00fff2,#00ffed,#00fffb,#0ff,#00fcff,#00eaff,#00f5ff,#00fcff,#00faff,#00faff,#00f0ff,#00fffc,#00edff,#00efff,#00e7ff,#0df,#00d3ff,#00c8ff,#00cbff,#00ceff,#0cf,#00d6ff,#00bcff,#00c7ff,#00c9ff,#00caff,#00caff,#00c5ff,#00c1ff,#00c2ff,#00cdff,#00ceff,#00c9ff,#00c2ff,#00c8ff,#00c9ff,#00cdff,#00cbff,#00c7ff,#00d9ff,#00daff,#0df,#00f0ff,#00efff,#00e8ff,#00f9ff,#00f2ff,#00f0ff 180.5px)"></i>
<i style="left:504px;top:362px;width:19px;height:179px;background:linear-gradient(#00f7ff .5px,#00feff,#00f8ff,#00fcff,#00fdff,#00f9ff,#0ff,#00fff9,#00fffe,#00feff,#00fffd,#00fff6,#00fffd,#00fff8,#00fff3,#00fff1,#00ffeb,#00ffe9,#00ffef,#00ffed,#00fff0,#0fe,#0fe,#00ffe3,#00ffeb,#00ffe5,#00ffe8,#00ffdf,#00ffe3,#0fd,#00ffe8,#00ffdf,#00ffe1,#00ffea,#00ffd6,#00ffe5,#00ffe1,#00ffdc,#00ffd8,#00ffda,#0fd,#00ffd5,#00ffdb,#00ffcb,#00ffd3,#00ffd2,#00ffd3,#00ffd0,#00ffce,#00ffcf,#00ffca,#00ffce,#00ffc4,#00ffc5,#00ffc5,#00ffc7,#00ffc2,#00ffc3,#00ffc2,#00ffb7,#0fb,#00ffb3,#00ffb6,#00ffa9,#0fa,#00ffa5,#00ffa0,#00ffa1,#00ff9e,#00ff95,#00ff8b,#00ff93,#00ff94,#00ff95,#00ff92,#00ff97,#00ff94,#00ff9d,#00ff9b,#00ff97,#00ff93,#00ff90,#00ff87,#0f8,#00ff82,#00ff7c,#00ff7f,#00ff75,#00ff76,#00ff70,#00ff6b,#00ff67,#00ff62,#00ff51,#00ff40,#00ff31,#00ff1e,#00ff0c,#01ff00,#07ff00,#12ff00,#1aff00,#1cff00,#21ff00,#28ff00,#2eff00,#2dff00,#32ff00,#37ff00,#3cff00,#41ff00,#41ff00,#46ff00,#4cff00,#4cff00,#52ff00,#58ff00,#58ff00,#60ff00,#64ff00,#65ff00,#6aff00,#6eff00,#72ff00,#7f0,#7aff00,#7cff00,#82ff00,#85ff00,#8f0,#8dff00,#92ff00,#94ff00,#98ff00,#9dff00,#a2ff00,#a5ff00,#abff00,#c8ff00,#df0,#dcff00,#dcff00,#dfff00,#dfff00,#dfff00,#dfff00,#e1ff00,#fbff00,#fff400,#ffd600,#ffb600,#ffa200,#ff7d00,#ff4100,#ff1900,#ff0b00,#ff0300,#ff0100,#ff0100,#f00,#ff0200,#ff0200,#ff0100,#ff0200,#ff0200,#ff0100,#f00,#f00,#ff0300,#ff0100,#ff0100,#ff0100,#ff0100,#ff0200,#f00,#f00,#f00,#ff0100,#ff0100 178.5px)"></i>
<i style="left:523px;top:0px;width:19px;height:181px;background:linear-gradient(#0026ff .5px,#0600ff,#1200ff,#000dff,#02f,#000dff,#00f,#0012ff,#0027ff,#20f,#000bff,#0009ff,#0012ff,#0028ff,#0014ff,#000aff,#0016ff,#0007ff,#002dff,#000aff,#01f,#0027ff,#0100ff,#0002ff,#000cff,#002eff,#0040ff,#0030ff,#0d00ff,#002aff,#0007ff,#0008ff,#0002ff,#002cff,#0001ff,#1c00ff,#003cff,#0028ff,#0600ff,#0027ff,#0034ff,#0017ff,#02f,#0017ff,#0043ff,#0014ff,#000bff,#0100ff,#000aff,#03f,#0016ff,#001fff,#0007ff,#0013ff,#0021ff,#0016ff,#001dff,#002bff,#03f,#0021ff,#0008ff,#0017ff,#0004ff,#0020ff,#0021ff,#0019ff,#0012ff,#0019ff,#001dff,#0019ff,#0d00ff,#001fff,#0031ff,#001bff,#0045ff,#0029ff,#0014ff,#002bff,#0002ff,#0031ff,#000cff,#0700ff,#0039ff,#0041ff,#001aff,#0038ff,#03f,#00f,#0004ff,#01f,#000dff,#0026ff,#0004ff,#0400ff,#0a00ff,#0017ff,#0019ff,#0029ff,#05f,#0012ff,#001dff,#0029ff,#0012ff,#000fff,#003aff,#0038ff,#0018ff,#002bff,#0009ff,#003fff,#0c00ff,#0016ff,#0032ff,#001bff,#001bff,#003eff,#000fff,#0012ff,#1200ff,#001dff,#0037ff,#004fff,#0025ff,#0013ff,#0026ff,#003cff,#0014ff,#003cff,#002aff,#001fff,#001aff,#000aff,#03f,#0031ff,#0047ff,#000bff,#002eff,#0020ff,#000bff,#000dff,#004dff,#0023ff,#001fff,#003cff,#001bff,#003bff,#0026ff,#0024ff,#003fff,#002cff,#0d00ff,#002eff,#002fff,#0032ff,#003eff,#0029ff,#0018ff,#0038ff,#003fff,#0045ff,#001cff,#0014ff,#0020ff,#0028ff,#004aff,#001bff,#001eff,#0040ff,#000fff,#004bff,#002eff,#001cff,#0036ff,#003dff,#000cff,#001eff,#003bff,#0020ff,#002aff,#0028ff,#002aff 180.5px)"></i>
<i style="left:523px;top:181px;width:19px;height:181px;background:linear-gradient(#002bff .5px,#0020ff,#0029ff,#0024ff,#002cff,#003dff,#0036ff,#0027ff,#003bff,#003fff,#03f,#0030ff,#0040ff,#0034ff,#002fff,#003aff,#002bff,#03f,#03f,#004eff,#0030ff,#0039ff,#04f,#004aff,#002fff,#0049ff,#002aff,#0800ff,#0031ff,#0051ff,#0031ff,#001dff,#0058ff,#006bff,#0031ff,#0035ff,#0041ff,#003eff,#0027ff,#0045ff,#003fff,#002fff,#003aff,#0049ff,#0042ff,#0034ff,#004dff,#0059ff,#0054ff,#0027ff,#1800ff,#04f,#0045ff,#0035ff,#004eff,#002fff,#004dff,#0050ff,#004aff,#003bff,#0038ff,#0037ff,#0046ff,#003cff,#004dff,#0042ff,#0048ff,#004aff,#004eff,#004cff,#0067ff,#0049ff,#0050ff,#05f,#0051ff,#003aff,#0056ff,#0054ff,#0052ff,#006cff,#0061ff,#0071ff,#006bff,#007bff,#0086ff,#0075ff,#007aff,#008dff,#0080ff,#0095ff,#0094ff,#0090ff,#09f,#00aeff,#00b0ff,#00b1ff,#00b8ff,#00c5ff,#00beff,#00cbff,#00d2ff,#00dfff,#00d8ff,#00e0ff,#00e9ff,#00ecff,#00f2ff,#00fdff,#00fbff,#0ff,#00fff8,#00fff5,#00fff5,#00fff0,#00fff4,#0fe,#00ffea,#00ffea,#00ffd9,#00ffd5,#00ffe4,#00ffe3,#00ffe3,#00ffe5,#00ffe6,#0fd,#00ffdf,#00ffeb,#00ffe2,#00ffeb,#00ffe7,#00fff4,#00fff3,#00fffe,#00feff,#00fcff,#00f8ff,#00e6ff,#00e4ff,#0df,#00d1ff,#00d7ff,#00d1ff,#00cfff,#00caff,#00d8ff,#00c7ff,#0bf,#00c7ff,#00c9ff,#00c0ff,#00c4ff,#00b5ff,#00c0ff,#00c0ff,#00baff,#00b9ff,#00b9ff,#00bcff,#00c5ff,#00c0ff,#00bcff,#00bdff,#00c8ff,#00c6ff,#00cbff,#00daff,#00dcff,#00e7ff,#00e2ff,#00e4ff,#00ecff,#00edff,#00f0ff,#00ecff,#00f0ff,#00f1ff,#00f4ff,#0ff,#00f5ff,#00fdff 180.5px)"></i>
<i style="left:523px;top:362px;width:19px;height:179px;background:linear-gradient(#0ff .5px,#00f6ff,#00fff9,#00fffc,#00fff9,#00fff9,#00fff3,#00fff5,#00fff9,#00fff8,#00fff8,#00fff6,#00fff5,#0fe,#00ffe9,#00ffef,#00ffe8,#00ffe7,#00ffe8,#00fff3,#00fff6,#00ffe4,#00ffe6,#0fe,#00ffea,#00ffe5,#00ffe5,#00ffe9,#00ffe3,#00ffe8,#00ffe1,#00ffdc,#0fd,#00ffdf,#00ffd9,#00ffd2,#00ffda,#00ffd8,#00ffdc,#00ffd3,#00ffdb,#00ffd4,#00ffcf,#00ffcf,#00ffdc,#00ffd2,#00ffd6,#00ffcd,#00ffd0,#00ffc2,#00ffc5,#00ffcb,#00ffc7,#00ffc5,#00ffc1,#00ffbf,#00ffbe,#00ffc0,#00ffc2,#00ffb9,#00ffb4,#00ffab,#00ffae,#00ffa3,#00ffa0,#00ff9f,#0f9,#00ff9a,#00ff91,#00ff91,#00ff8f,#00ff8e,#00ff93,#00ff90,#00ff90,#00ff93,#00ff95,#00ff91,#00ff90,#00ff98,#00ff8e,#00ff8d,#00ff89,#00ff86,#00ff81,#00ff7b,#0f7,#00ff75,#00ff70,#00ff6a,#00ff64,#00ff63,#00ff56,#0f4,#0f3,#00ff24,#0f1,#01ff00,#05ff00,#0dff00,#14ff00,#19ff00,#2f0,#23ff00,#25ff00,#2bff00,#2cff00,#2eff00,#31ff00,#37ff00,#37ff00,#3cff00,#3fff00,#41ff00,#46ff00,#49ff00,#4bff00,#4eff00,#52ff00,#5f0,#59ff00,#5cff00,#5eff00,#61ff00,#64ff00,#68ff00,#69ff00,#6dff00,#6fff00,#76ff00,#7f0,#7aff00,#7dff00,#7eff00,#85ff00,#84ff00,#8aff00,#8cff00,#90ff00,#93ff00,#96ff00,#b3ff00,#c8ff00,#cbff00,#cf0,#dcff00,#ffe200,#ffa800,#ff8600,#ff8500,#ff8300,#ff8200,#ff7f00,#ff8000,#ff6c00,#ff3c00,#ff0f00,#f00,#f00,#f00,#f00,#ff0100,#f00,#f00,#f00,#f00,#f00,#ff0200,#f00,#f00,#f00,#f00,#ff0100,#f00,#ff0100,#f00,#f00,#f00,#f00 178.5px)"></i>
<i style="left:542px;top:0px;width:20px;height:181px;background:linear-gradient(#0010ff .5px,#001bff,#003dff,#001aff,#002aff,#0017ff,#000cff,#0020ff,#0a00ff,#0017ff,#0100ff,#001cff,#000aff,#01f,#1c00ff,#0032ff,#000dff,#003bff,#00f,#0001ff,#0017ff,#0200ff,#0001ff,#0029ff,#0001ff,#01f,#0012ff,#001aff,#0013ff,#0700ff,#0600ff,#0007ff,#001bff,#0100ff,#0a00ff,#001bff,#0012ff,#000fff,#002bff,#0012ff,#0900ff,#000cff,#000fff,#000aff,#001aff,#0019ff,#1200ff,#000fff,#0004ff,#001bff,#0001ff,#001bff,#002cff,#000bff,#0015ff,#002eff,#0027ff,#0037ff,#0030ff,#0019ff,#0026ff,#0006ff,#0500ff,#0900ff,#0018ff,#000cff,#02f,#0021ff,#0025ff,#0042ff,#0021ff,#0d00ff,#001bff,#0004ff,#0019ff,#01f,#0013ff,#0019ff,#001bff,#0012ff,#0027ff,#0004ff,#0600ff,#0a00ff,#0018ff,#0015ff,#0020ff,#0017ff,#001dff,#0003ff,#0800ff,#001cff,#0025ff,#0400ff,#0026ff,#0018ff,#002eff,#001fff,#0015ff,#0004ff,#02f,#002aff,#2100ff,#001eff,#0003ff,#0300ff,#003aff,#0024ff,#01f,#0006ff,#0400ff,#0010ff,#0029ff,#0018ff,#0015ff,#0023ff,#0021ff,#0d00ff,#0017ff,#000aff,#0021ff,#0023ff,#000fff,#1500ff,#0032ff,#0018ff,#001dff,#001dff,#000eff,#0018ff,#0030ff,#0028ff,#000fff,#0025ff,#002cff,#0003ff,#0018ff,#0035ff,#0017ff,#0032ff,#0023ff,#002fff,#0010ff,#0031ff,#0031ff,#0400ff,#0026ff,#0017ff,#002eff,#0d00ff,#0021ff,#0037ff,#0015ff,#002bff,#0020ff,#0030ff,#0021ff,#0024ff,#003aff,#0020ff,#0012ff,#003cff,#002bff,#002bff,#0040ff,#0031ff,#002eff,#0021ff,#001aff,#0024ff,#03f,#0028ff,#001aff,#003eff,#0025ff,#001dff,#0024ff,#0027ff,#0057ff,#0038ff,#0028ff 180.5px)"></i>
<i style="left:542px;top:181px;width:20px;height:181px;background:linear-gradient(#0031ff .5px,#0037ff,#0039ff,#001aff,#003bff,#0045ff,#0020ff,#001eff,#0049ff,#003dff,#002dff,#0032ff,#0029ff,#0038ff,#03f,#003cff,#0030ff,#0029ff,#003bff,#0039ff,#002dff,#0031ff,#0037ff,#002aff,#0028ff,#0018ff,#0047ff,#0023ff,#0042ff,#003bff,#003aff,#0030ff,#0046ff,#0052ff,#003aff,#002dff,#0034ff,#0035ff,#0049ff,#003bff,#003cff,#0038ff,#004aff,#0040ff,#004bff,#003aff,#001bff,#005bff,#004eff,#0027ff,#002aff,#0057ff,#0040ff,#0059ff,#04f,#004aff,#0050ff,#0047ff,#002dff,#003cff,#0045ff,#004eff,#004cff,#002fff,#0047ff,#004cff,#003fff,#003fff,#0034ff,#003fff,#05f,#003bff,#0040ff,#0058ff,#0058ff,#0045ff,#005bff,#005cff,#005aff,#0062ff,#0062ff,#0080ff,#005dff,#007aff,#0081ff,#0076ff,#007dff,#0085ff,#08f,#008bff,#008aff,#0096ff,#09f,#0097ff,#00b7ff,#00a6ff,#00b5ff,#00b4ff,#00b2ff,#00c6ff,#00c9ff,#00d1ff,#00d5ff,#00deff,#00ecff,#00f0ff,#00f7ff,#00fffe,#00f6ff,#00fff5,#00fffd,#00fff9,#00fff6,#00ffe9,#00fff2,#00ffdc,#00ffed,#0fd,#00ffe9,#00ffe5,#00ffec,#00ffe9,#00ffec,#00ffe1,#00ffe5,#00ffda,#00ffe2,#00ffde,#00ffda,#00ffe8,#00ffeb,#00fff0,#00fff5,#00fff8,#00fff9,#00fff7,#00faff,#00f4ff,#00ebff,#00e3ff,#0df,#00e4ff,#00deff,#00cfff,#00d8ff,#00d6ff,#00c0ff,#00c7ff,#00cdff,#00cbff,#00caff,#00c6ff,#00bcff,#00c2ff,#00b9ff,#00c6ff,#00c5ff,#0bf,#00b4ff,#00c0ff,#00b8ff,#00b9ff,#00beff,#00c7ff,#00c2ff,#00c3ff,#00c5ff,#00cfff,#00d2ff,#00dcff,#00f2ff,#00e4ff,#00f6ff,#00eaff,#00f5ff,#00f9ff,#00f2ff,#00efff,#00f2ff,#00faff,#00f6ff 180.5px)"></i>
<i style="left:542px;top:362px;width:20px;height:179px;background:linear-gradient(#0ff .5px,#00fffe,#00fff6,#00f4ff,#00faff,#00f6ff,#00fffb,#00fff6,#00fff8,#00fffd,#00fff6,#00ffef,#00fff5,#00fff0,#00fff4,#00fff2,#00ffea,#00fff1,#00ffef,#00ffec,#00ffeb,#00ffe6,#00ffe2,#00ffe7,#00ffec,#00ffed,#00ffe7,#00ffea,#00ffe7,#00ffdf,#00ffe2,#00ffda,#00ffe2,#00ffe1,#00ffdf,#00ffe1,#00ffd9,#00ffd5,#00ffd9,#00ffd9,#00ffdb,#00ffd5,#00ffd6,#00ffca,#00ffd3,#00ffd2,#00ffd2,#00ffce,#00ffcd,#00ffcb,#00ffc5,#00ffc8,#00ffca,#00ffc9,#00ffcb,#00ffc0,#00ffc1,#00ffb8,#00ffbc,#00ffb4,#00ffae,#00ffac,#00ffa4,#00ffa2,#00ff9f,#00ff9c,#0f9,#00ff93,#00ff8e,#00ff91,#00ff87,#0f8,#00ff85,#00ff87,#00ff8a,#00ff8c,#00ff8b,#00ff8f,#00ff8e,#00ff8a,#00ff7f,#00ff78,#00ff72,#00ff68,#00ff61,#00ff54,#00ff50,#00ff45,#00ff3e,#00ff35,#00ff27,#0f2,#00ff20,#00ff1c,#00ff1a,#00ff15,#00ff18,#00ff14,#00ff13,#00ff0d,#00ff09,#00ff09,#00ff04,#00ff02,#0f0,#05ff00,#0aff00,#10ff00,#15ff00,#19ff00,#1eff00,#23ff00,#28ff00,#2dff00,#31ff00,#35ff00,#3eff00,#42ff00,#4f0,#48ff00,#4bff00,#4cff00,#4fff00,#53ff00,#5f0,#59ff00,#5cff00,#5cff00,#62ff00,#64ff00,#68ff00,#68ff00,#6cff00,#70ff00,#73ff00,#76ff00,#79ff00,#7aff00,#7bff00,#7eff00,#83ff00,#c8ff00,#fffc00,#ffc700,#ff5900,#ff1800,#ff0a00,#ff0200,#f00,#ff0100,#f00,#ff0200,#f00,#f00,#ff0200,#f00,#f00,#ff0100,#ff0100,#ff0100,#f00,#f00,#f00,#ff0100,#f00,#ff0100,#f00,#f00,#f00,#f00,#f00,#ff0200,#f00,#f00,#f00,#f00,#f00,#f00,#f00 178.5px)"></i>
<i style="left:562px;top:0px;width:19px;height:181px;background:linear-gradient(#0019ff .5px,#002dff,#0001ff,#001fff,#000dff,#0017ff,#0900ff,#0017ff,#0018ff,#1000ff,#0027ff,#0041ff,#02f,#0002ff,#02f,#00f,#0008ff,#0026ff,#0026ff,#01f,#0031ff,#0100ff,#000eff,#001bff,#0016ff,#0012ff,#0b00ff,#000cff,#01f,#0100ff,#0012ff,#000fff,#0500ff,#000cff,#0009ff,#0029ff,#000dff,#0003ff,#001eff,#0005ff,#0028ff,#0012ff,#003eff,#0024ff,#0007ff,#0300ff,#000eff,#001dff,#0012ff,#0028ff,#002aff,#000aff,#002aff,#000cff,#000dff,#0047ff,#0021ff,#001cff,#0c00ff,#0049ff,#0002ff,#0009ff,#002fff,#0026ff,#001fff,#0100ff,#0008ff,#0019ff,#0009ff,#0013ff,#000aff,#0009ff,#0010ff,#0800ff,#0002ff,#003fff,#0100ff,#000eff,#0001ff,#000bff,#0029ff,#0029ff,#0015ff,#0017ff,#3500ff,#000bff,#001cff,#0019ff,#02f,#04f,#0400ff,#0037ff,#001dff,#0012ff,#0013ff,#01f,#002aff,#0037ff,#002dff,#000bff,#0023ff,#0027ff,#0025ff,#0031ff,#02f,#002fff,#0024ff,#0028ff,#0021ff,#00f,#0029ff,#0043ff,#001aff,#0017ff,#0d00ff,#001fff,#0034ff,#0009ff,#000fff,#0017ff,#0021ff,#000dff,#0025ff,#0009ff,#0018ff,#01f,#0014ff,#002fff,#0026ff,#1900ff,#01f,#002eff,#002fff,#0037ff,#0038ff,#0029ff,#0010ff,#03f,#0024ff,#001cff,#0029ff,#002aff,#000dff,#0026ff,#0019ff,#0032ff,#0026ff,#0010ff,#0031ff,#5700ff,#0043ff,#0016ff,#03f,#001bff,#0014ff,#0016ff,#001dff,#001fff,#0041ff,#0028ff,#003fff,#0021ff,#03f,#0019ff,#0020ff,#004aff,#0020ff,#01f,#0021ff,#0042ff,#0020ff,#0032ff,#0035ff,#002aff,#002cff,#001eff,#003dff,#001eff,#0005ff,#0045ff,#0035ff 180.5px)"></i>
<i style="left:562px;top:181px;width:19px;height:181px;background:linear-gradient(#0036ff .5px,#003aff,#0020ff,#000eff,#0031ff,#003bff,#001bff,#001dff,#0030ff,#0048ff,#003aff,#0039ff,#004dff,#0037ff,#0027ff,#0035ff,#0026ff,#003bff,#0057ff,#0028ff,#0040ff,#0040ff,#0029ff,#004fff,#004cff,#0037ff,#002fff,#0031ff,#04f,#0046ff,#003fff,#0030ff,#03f,#003aff,#0038ff,#0028ff,#0048ff,#0023ff,#0052ff,#003fff,#0036ff,#0046ff,#000fff,#04f,#003dff,#002eff,#0039ff,#0030ff,#004fff,#003fff,#0049ff,#0042ff,#0048ff,#004cff,#004eff,#004eff,#05f,#004aff,#0047ff,#0037ff,#0040ff,#0054ff,#003cff,#0054ff,#0043ff,#0058ff,#004eff,#003aff,#003fff,#0051ff,#004dff,#0041ff,#003bff,#0050ff,#0045ff,#0056ff,#0060ff,#004bff,#0069ff,#005fff,#06f,#0074ff,#0078ff,#0079ff,#007dff,#0078ff,#08f,#008bff,#09f,#009cff,#09f,#00a3ff,#00a7ff,#00a1ff,#00acff,#00b2ff,#00b1ff,#00bcff,#00b9ff,#00bcff,#00bfff,#00c9ff,#00d3ff,#00daff,#00f4ff,#00f6ff,#00f9ff,#00fff7,#00fffe,#00fffe,#00fffb,#00fff4,#00ffe3,#00ffec,#00ffeb,#00ffe8,#00ffde,#00ffdf,#00ffe4,#00ffe4,#00ffe2,#00ffdc,#00ffe0,#00ffda,#00ffdc,#0fd,#00ffe2,#00ffde,#00ffd1,#00ffe9,#00ffef,#00ffef,#0fe,#00fff9,#00fff7,#0fe,#00fffd,#00f6ff,#00f8ff,#00f7ff,#00e4ff,#00e6ff,#00dcff,#00dcff,#00cbff,#00caff,#00d6ff,#00caff,#00cfff,#00bdff,#00cfff,#00c7ff,#00c3ff,#00c0ff,#0cf,#00c0ff,#00c3ff,#00bcff,#00c4ff,#00bfff,#00bdff,#00b9ff,#00c8ff,#00c8ff,#00b9ff,#00bcff,#00c7ff,#00cdff,#00d3ff,#00d2ff,#00e3ff,#00e3ff,#00f2ff,#00e9ff,#00edff,#00f7ff,#00f8ff,#0ff,#00f3ff,#00fffc,#00fbff 180.5px)"></i>
<i style="left:562px;top:362px;width:19px;height:179px;background:linear-gradient(#00feff .5px,#00fffc,#00fff9,#00f6ff,#00f8ff,#00feff,#00fff0,#00fff6,#00fff6,#00fff7,#00fff9,#00fff2,#00ffeb,#00fff8,#0fe,#00fff3,#00ffec,#00fff3,#00fff0,#00ffef,#00ffe8,#00ffeb,#00fff0,#00ffed,#00ffea,#00ffea,#00ffe2,#00ffe4,#00ffea,#00ffe9,#00ffdf,#00ffdf,#0fe,#00ffdf,#00ffdf,#00ffdf,#00ffdc,#00ffdf,#00ffdb,#00ffd6,#00ffd7,#00ffde,#00ffd5,#00ffd3,#00ffce,#00ffd6,#00ffd4,#00ffd2,#00ffd0,#00ffcd,#00ffc8,#00ffc5,#00ffcb,#00ffc2,#00ffbd,#00ffb9,#00ffb6,#00ffb8,#00ffb7,#00ffb0,#00ffa9,#00ffa5,#00ffa2,#00ffa1,#00ff9a,#00ff95,#00ff92,#00ff8e,#00ff8c,#00ff86,#00ff85,#00ff84,#00ff87,#00ff83,#00ff87,#0f8,#00ff8a,#00ff89,#00ff89,#00ff8b,#00ff80,#00ff7d,#00ff73,#00ff6d,#0f6,#00ff5f,#00ff59,#00ff50,#00ff4a,#00ff40,#00ff3e,#0f3,#00ff2e,#00ff23,#00ff1e,#00ff1c,#00ff1a,#00ff17,#00ff14,#0f1,#00ff0f,#00ff0b,#00ff08,#00ff04,#00ff05,#00ff01,#02ff00,#08ff00,#0bff00,#0fff00,#13ff00,#18ff00,#1eff00,#2f0,#25ff00,#2dff00,#2eff00,#3f0,#39ff00,#3bff00,#3cff00,#41ff00,#43ff00,#46ff00,#49ff00,#4aff00,#4dff00,#4eff00,#53ff00,#56ff00,#56ff00,#58ff00,#5dff00,#5eff00,#60ff00,#62ff00,#6f0,#69ff00,#6cff00,#6eff00,#71ff00,#74ff00,#74ff00,#79ff00,#a0ff00,#c7ff00,#caff00,#cf0,#cbff00,#e5ff00,#ffba00,#ffb100,#fa0,#ffa900,#ff9e00,#ff6b00,#ff2000,#f00,#f00,#f00,#f00,#ff0100,#f00,#ff0100,#f00,#f00,#f00,#f00,#ff0100,#ff0100,#f00,#f00,#ff0100,#f00,#f00,#f00,#f00,#f00,#f00 178.5px)"></i>
<i style="left:581px;top:0px;width:19px;height:181px;background:linear-gradient(#002aff .5px,#0017ff,#0f00ff,#0014ff,#001eff,#0008ff,#0019ff,#0200ff,#000dff,#001bff,#001fff,#0006ff,#01f,#003eff,#0008ff,#001bff,#0008ff,#0e00ff,#000dff,#0028ff,#0300ff,#0002ff,#000cff,#0023ff,#0100ff,#000eff,#001bff,#003fff,#0017ff,#0013ff,#0d00ff,#0005ff,#0005ff,#001bff,#0019ff,#00f,#0017ff,#0016ff,#0039ff,#000fff,#003cff,#0018ff,#0006ff,#001bff,#0005ff,#0015ff,#000dff,#0030ff,#001dff,#003aff,#0400ff,#0023ff,#000dff,#002dff,#0006ff,#0012ff,#001aff,#001cff,#001fff,#02f,#001fff,#0012ff,#0023ff,#0020ff,#0036ff,#0400ff,#0005ff,#0020ff,#0006ff,#0032ff,#0b00ff,#0042ff,#0036ff,#0035ff,#0038ff,#0020ff,#001eff,#0018ff,#0007ff,#0020ff,#002bff,#0017ff,#000cff,#000eff,#0021ff,#000bff,#0016ff,#0031ff,#000cff,#001bff,#0027ff,#0020ff,#0b00ff,#0019ff,#0015ff,#0009ff,#002fff,#0040ff,#001fff,#000eff,#1a00ff,#0031ff,#0024ff,#1a00ff,#0010ff,#0020ff,#0036ff,#0028ff,#001cff,#001dff,#0003ff,#0025ff,#0026ff,#0009ff,#0020ff,#0038ff,#0016ff,#0047ff,#002fff,#0015ff,#0028ff,#003cff,#001fff,#001bff,#000eff,#002dff,#0043ff,#0029ff,#0031ff,#001eff,#0026ff,#0010ff,#001aff,#002dff,#0043ff,#003eff,#004bff,#0023ff,#0026ff,#0015ff,#001bff,#04f,#0012ff,#0018ff,#0029ff,#002cff,#0019ff,#0019ff,#000fff,#0005ff,#0018ff,#0020ff,#0028ff,#0024ff,#0015ff,#0034ff,#0025ff,#002dff,#0029ff,#0032ff,#002aff,#0024ff,#001aff,#02f,#04f,#001aff,#0027ff,#0023ff,#0029ff,#0019ff,#001eff,#0039ff,#0024ff,#002aff,#002aff,#0010ff,#0031ff,#002eff,#0027ff,#003fff,#0017ff 180.5px)"></i>
<i style="left:581px;top:181px;width:19px;height:181px;background:linear-gradient(#0019ff .5px,#0049ff,#0026ff,#002fff,#0029ff,#0030ff,#0058ff,#0023ff,#0019ff,#0038ff,#0020ff,#003eff,#0029ff,#02f,#003aff,#0043ff,#003eff,#03f,#0034ff,#0028ff,#003bff,#0046ff,#0026ff,#003dff,#0036ff,#000aff,#0016ff,#0029ff,#05f,#003fff,#003dff,#004eff,#0035ff,#005cff,#003dff,#005eff,#0046ff,#001cff,#003fff,#0046ff,#0043ff,#0053ff,#0042ff,#003aff,#0042ff,#0032ff,#0038ff,#0059ff,#0054ff,#0045ff,#003bff,#002bff,#0040ff,#0041ff,#0031ff,#0048ff,#03f,#0053ff,#003eff,#002fff,#0050ff,#0038ff,#003aff,#0054ff,#0054ff,#004eff,#004fff,#0035ff,#03f,#0052ff,#0048ff,#0041ff,#003aff,#0048ff,#0057ff,#0045ff,#0054ff,#006fff,#06f,#0064ff,#0061ff,#007eff,#0081ff,#0079ff,#08f,#008aff,#0098ff,#0095ff,#0093ff,#009cff,#09f,#0096ff,#00a1ff,#00a4ff,#00b6ff,#00b1ff,#00b9ff,#00b4ff,#00c5ff,#00c2ff,#00c4ff,#00dcff,#00e3ff,#00f4ff,#0ff,#00faff,#00f6ff,#00f4ff,#00fff7,#00fffd,#00ffe8,#00ffea,#00fff1,#00fff3,#00ffda,#00ffdb,#00ffda,#00ffd8,#00ffde,#00ffe5,#00ffe0,#00ffe1,#00ffe5,#00ffe2,#00fff2,#00ffe8,#00ffe2,#00ffef,#00ffe0,#00ffe5,#00ffd3,#00ffdb,#00ffe0,#00ffea,#00fff7,#00fff6,#00fff7,#00fff5,#00f1ff,#00f5ff,#00f8ff,#0ef,#00e0ff,#00dfff,#0df,#00dcff,#00d0ff,#00ceff,#00cdff,#00c5ff,#00c6ff,#00cbff,#00c2ff,#00bfff,#00bcff,#0bf,#00c4ff,#00c1ff,#00c2ff,#00c0ff,#00c0ff,#00c3ff,#0bf,#00bdff,#00b9ff,#00c6ff,#00c6ff,#00c7ff,#00d0ff,#00d9ff,#00e0ff,#00e5ff,#00e6ff,#00e9ff,#00f2ff,#00f3ff,#00f3ff,#00f9ff,#00f1ff,#00f7ff,#00f3ff 180.5px)"></i>
<i style="left:581px;top:362px;width:19px;height:179px;background:linear-gradient(#00fffe .5px,#00fffe,#00feff,#00feff,#00fffd,#00f7ff,#00fff4,#00fff4,#00fff3,#00fff8,#00fff5,#00fff4,#00fff1,#00fff3,#00fff3,#00ffe5,#00fff1,#00ffec,#00ffeb,#00ffe6,#00ffe6,#00ffed,#00ffe8,#00ffe7,#00ffe9,#00fff3,#00fff2,#00ffec,#00ffe1,#00ffe3,#00ffe6,#00ffe4,#00ffe2,#00ffe1,#0fd,#00ffe2,#00ffdf,#0fd,#00ffdf,#00ffde,#00ffdb,#00ffdb,#00ffd2,#00ffd0,#00ffd0,#00ffd4,#00ffce,#00ffcd,#00ffd1,#00ffc7,#00ffc8,#00ffc6,#0fc,#00ffc5,#00ffb7,#00ffbc,#00ffb1,#00ffb0,#00ffb0,#00ffac,#00ffa8,#00ffa3,#00ffa5,#00ff96,#00ff8f,#00ff92,#00ff8e,#00ff8c,#00ff87,#00ff85,#00ff7d,#00ff80,#00ff7f,#00ff7c,#00ff7d,#00ff82,#00ff86,#00ff7e,#00ff85,#00ff7f,#00ff74,#00ff69,#00ff61,#00ff57,#00ff4d,#00ff45,#00ff37,#00ff2f,#00ff26,#00ff24,#00ff1d,#00ff18,#00ff19,#00ff14,#00ff10,#00ff0a,#00ff0a,#00ff04,#00ff01,#02ff00,#02ff00,#03ff00,#05ff00,#08ff00,#08ff00,#0aff00,#0dff00,#0aff00,#0cff00,#0eff00,#0fff00,#12ff00,#1f0,#13ff00,#15ff00,#17ff00,#18ff00,#19ff00,#1cff00,#2f0,#28ff00,#2dff00,#32ff00,#35ff00,#3aff00,#3eff00,#45ff00,#49ff00,#4fff00,#53ff00,#5aff00,#60ff00,#62ff00,#70ff00,#81ff00,#8f0,#8bff00,#93ff00,#9cff00,#a0ff00,#a6ff00,#af0,#b0ff00,#b6ff00,#bf0,#c1ff00,#c7ff00,#d5ff00,#e5ff00,#ebff00,#efff00,#f2ff00,#f8ff00,#feff00,#ffeb00,#ffb000,#ff6300,#ff2700,#ff0600,#f00,#f00,#f00,#f00,#f00,#ff0100,#f00,#f00,#f00,#ff0200,#f00,#f00,#ff0100,#f00,#f00,#f00,#f00,#f00,#f00,#f00 178.5px)"></i>
<i style="left:600px;top:0px;width:20px;height:181px;background:linear-gradient(#0014ff .5px,#0014ff,#0006ff,#02f,#0014ff,#0023ff,#0003ff,#0009ff,#0014ff,#0035ff,#000eff,#001cff,#0100ff,#001eff,#0012ff,#0015ff,#0012ff,#0007ff,#0020ff,#0017ff,#0031ff,#0019ff,#0008ff,#2000ff,#0038ff,#000dff,#0006ff,#0015ff,#0023ff,#03f,#0013ff,#0020ff,#000aff,#000bff,#0019ff,#002eff,#000eff,#002eff,#0002ff,#003bff,#0027ff,#0200ff,#0006ff,#001bff,#0f00ff,#0300ff,#0003ff,#0b00ff,#0036ff,#001eff,#0004ff,#000fff,#0036ff,#001fff,#0026ff,#02f,#0023ff,#0014ff,#000bff,#000dff,#0024ff,#002eff,#0027ff,#0048ff,#0010ff,#0100ff,#0004ff,#000cff,#01f,#000fff,#0016ff,#002fff,#0010ff,#0032ff,#0c00ff,#000eff,#001fff,#002dff,#000dff,#0700ff,#0028ff,#004bff,#000eff,#02f,#0013ff,#001fff,#0013ff,#0020ff,#0024ff,#001dff,#001aff,#002bff,#0013ff,#0010ff,#0016ff,#002dff,#0018ff,#001aff,#0009ff,#0014ff,#0020ff,#0020ff,#0027ff,#001aff,#02f,#002bff,#003bff,#0013ff,#000eff,#0017ff,#0034ff,#0003ff,#002bff,#002eff,#03f,#0037ff,#0027ff,#0026ff,#003aff,#0024ff,#003dff,#0025ff,#0015ff,#0056ff,#002bff,#0018ff,#001eff,#003bff,#0012ff,#003eff,#0031ff,#0039ff,#001dff,#0019ff,#002cff,#001aff,#0030ff,#0017ff,#001bff,#0012ff,#02f,#0032ff,#0018ff,#002dff,#002fff,#0015ff,#001bff,#0046ff,#002fff,#03f,#0023ff,#004bff,#0021ff,#0015ff,#0019ff,#0031ff,#0005ff,#0019ff,#002bff,#0054ff,#03f,#0030ff,#0023ff,#0019ff,#002fff,#0030ff,#0041ff,#0046ff,#003aff,#001aff,#002fff,#0045ff,#0024ff,#0014ff,#002aff,#002bff,#0030ff,#04f,#003aff,#003fff,#001dff 180.5px)"></i>
<i style="left:600px;top:181px;width:20px;height:181px;background:linear-gradient(#002fff .5px,#0013ff,#000eff,#0028ff,#004aff,#004eff,#0048ff,#0038ff,#003eff,#002fff,#0035ff,#0031ff,#0058ff,#002eff,#004eff,#002dff,#002eff,#0037ff,#004aff,#0041ff,#0042ff,#0023ff,#0030ff,#002eff,#004cff,#0046ff,#0039ff,#0048ff,#0023ff,#0043ff,#04f,#002dff,#0046ff,#003cff,#003dff,#003bff,#003cff,#0049ff,#002dff,#002dff,#0051ff,#004aff,#003aff,#0050ff,#04f,#0058ff,#0036ff,#004cff,#003fff,#0054ff,#002eff,#0052ff,#0057ff,#0045ff,#0053ff,#0040ff,#0039ff,#004bff,#0051ff,#0052ff,#003bff,#0053ff,#003eff,#0047ff,#003eff,#004dff,#005eff,#0035ff,#0058ff,#005bff,#0053ff,#0049ff,#05f,#003eff,#003fff,#0050ff,#004fff,#0063ff,#0058ff,#0056ff,#006dff,#007bff,#006cff,#007fff,#0084ff,#008bff,#0093ff,#0092ff,#008eff,#008dff,#00a2ff,#00a0ff,#00aeff,#00b5ff,#00abff,#00b1ff,#00c4ff,#00c1ff,#00bdff,#00ceff,#00d5ff,#00eaff,#00e1ff,#00efff,#00fffd,#00fff7,#00fff8,#00fffa,#00fffa,#00fdff,#00ffe8,#00ffe8,#00ffe6,#00ffeb,#00ffed,#00ffe3,#00ffe4,#00ffd9,#00ffd2,#00ffe9,#00ffe6,#00ffdc,#00ffdb,#00ffdc,#00ffe2,#00ffe4,#00ffe4,#00ffe9,#00ffe5,#00ffe5,#00ffda,#00ffd8,#00ffdf,#00ffea,#00ffe2,#00ffe6,#00ffe3,#00fff7,#00fff7,#00fdff,#00fbff,#0ef,#00f5ff,#00e8ff,#00e0ff,#00daff,#00d4ff,#00d9ff,#00d5ff,#00cdff,#00dcff,#0cf,#0cf,#00cdff,#00c8ff,#00c4ff,#0bf,#00bcff,#00c5ff,#00c1ff,#00bfff,#00c8ff,#00c5ff,#00c9ff,#00bfff,#00bcff,#00c0ff,#00c7ff,#00c0ff,#0cf,#00d6ff,#00daff,#00e1ff,#00d8ff,#00ecff,#00f1ff,#00e9ff,#00f2ff,#00f3ff,#00f5ff,#00fff5 180.5px)"></i>
<i style="left:600px;top:362px;width:20px;height:179px;background:linear-gradient(#00f8ff .5px,#00f5ff,#00fbff,#00fdff,#00fffb,#00fff7,#00fff9,#00ffe9,#00fff2,#00fff3,#00fff3,#00ffef,#00fff3,#00ffef,#00fff0,#00ffe9,#00fff0,#00fff2,#0fe,#00ffe6,#00ffea,#00ffed,#00ffeb,#0fe,#0fe,#00ffe9,#00ffed,#00ffed,#00ffeb,#00ffe8,#00ffe4,#00ffe7,#00ffe3,#00ffe0,#00ffd9,#00ffdf,#00ffe6,#00ffdb,#00ffde,#00ffd8,#00ffd7,#00ffda,#0fd,#00ffd1,#00ffd4,#0fc,#00ffd3,#00ffd2,#00ffd0,#00ffc9,#00ffc4,#00ffc5,#00ffc5,#0fb,#00ffbe,#00ffb5,#00ffad,#00ffad,#00ffad,#00ffa5,#00ffa0,#00ffa2,#00ff98,#00ff95,#00ff97,#00ff8c,#00ff8c,#00ff87,#00ff7f,#00ff7c,#00ff7c,#0f7,#00ff74,#00ff75,#00ff7a,#00ff74,#00ff79,#00ff7b,#00ff7b,#00ff79,#00ff6f,#0f6,#00ff5a,#00ff57,#00ff51,#00ff46,#00ff3f,#00ff36,#00ff32,#00ff27,#0f2,#00ff1b,#00ff16,#00ff16,#00ff12,#0f1,#00ff0c,#00ff0a,#00ff08,#00ff03,#00ff05,#0f0,#02ff00,#01ff00,#05ff00,#07ff00,#06ff00,#09ff00,#0dff00,#0cff00,#0cff00,#13ff00,#14ff00,#13ff00,#15ff00,#16ff00,#19ff00,#1bff00,#1eff00,#1eff00,#21ff00,#23ff00,#27ff00,#2dff00,#31ff00,#3f0,#3dff00,#3fff00,#47ff00,#48ff00,#4eff00,#56ff00,#58ff00,#6dff00,#8fff00,#91ff00,#9f0,#9eff00,#a3ff00,#af0,#b0ff00,#b7ff00,#bdff00,#c1ff00,#c6ff00,#cdff00,#d2ff00,#d7ff00,#dfff00,#f6ff00,#fffe00,#fffd00,#fffb00,#fffb00,#ffd500,#ff8b00,#ff6800,#ff6700,#ff6300,#ff6100,#ff6200,#ff5800,#ff3a00,#f10,#f00,#ff0100,#f00,#f00,#f00,#f00,#f00,#f00,#f00,#f00,#f00,#f00,#f00,#f00,#f00 178.5px)"></i>
<i style="left:620px;top:0px;width:19px;height:181px;background:linear-gradient(#1e00ff .5px,#01f,#0500ff,#1900ff,#002aff,#0031ff,#001dff,#000aff,#0019ff,#001bff,#1900ff,#1900ff,#0006ff,#0007ff,#0006ff,#003eff,#1900ff,#001fff,#0d00ff,#0015ff,#000dff,#0020ff,#001dff,#0800ff,#1300ff,#001bff,#0013ff,#0019ff,#0003ff,#000aff,#003fff,#0400ff,#001eff,#0a00ff,#0009ff,#000bff,#1300ff,#02f,#0029ff,#001dff,#0007ff,#0009ff,#0b00ff,#0005ff,#02f,#0031ff,#0001ff,#0005ff,#0005ff,#0004ff,#0012ff,#0017ff,#00f,#0100ff,#0015ff,#1600ff,#1700ff,#0024ff,#001aff,#1000ff,#0400ff,#0023ff,#0400ff,#0023ff,#0003ff,#0009ff,#0800ff,#000bff,#0020ff,#000cff,#30f,#000bff,#03f,#0015ff,#0a00ff,#0029ff,#001bff,#0d00ff,#0029ff,#0700ff,#000fff,#0c00ff,#0028ff,#0017ff,#000eff,#001fff,#001fff,#000cff,#0029ff,#0024ff,#0009ff,#0001ff,#0010ff,#000bff,#002aff,#01f,#0006ff,#0200ff,#001aff,#002cff,#0013ff,#000fff,#003bff,#002aff,#0026ff,#000aff,#0500ff,#0900ff,#0040ff,#000fff,#001aff,#01f,#000eff,#002eff,#0019ff,#0017ff,#0300ff,#0004ff,#0026ff,#0600ff,#002aff,#000aff,#0400ff,#0015ff,#0039ff,#0013ff,#0028ff,#0300ff,#0013ff,#0003ff,#0015ff,#01f,#0014ff,#0020ff,#0032ff,#001eff,#000fff,#0031ff,#0024ff,#0006ff,#0019ff,#002eff,#0007ff,#0009ff,#001aff,#001aff,#0013ff,#0017ff,#002aff,#0009ff,#001eff,#002bff,#0009ff,#0026ff,#0027ff,#000aff,#0017ff,#0016ff,#001aff,#002eff,#0031ff,#001aff,#002aff,#0028ff,#0026ff,#0038ff,#0038ff,#0018ff,#0026ff,#002fff,#0013ff,#001fff,#0025ff,#0023ff,#0019ff,#00f,#0100ff,#0016ff,#0012ff,#003aff,#0016ff 180.5px)"></i>
<i style="left:620px;top:181px;width:19px;height:181px;background:linear-gradient(#001eff .5px,#0018ff,#002dff,#0036ff,#002fff,#000fff,#0007ff,#000eff,#001fff,#004aff,#003cff,#0025ff,#001dff,#0030ff,#0024ff,#0026ff,#0025ff,#0042ff,#03f,#0045ff,#0028ff,#0028ff,#0034ff,#0039ff,#002eff,#0021ff,#0014ff,#04f,#0020ff,#001bff,#0031ff,#0025ff,#001dff,#0042ff,#002dff,#0029ff,#0018ff,#0038ff,#0037ff,#03f,#0026ff,#0032ff,#001bff,#0039ff,#0019ff,#0031ff,#0039ff,#0019ff,#0038ff,#003aff,#0030ff,#0043ff,#0031ff,#003dff,#0028ff,#0036ff,#0030ff,#002cff,#0048ff,#0034ff,#003dff,#003cff,#0037ff,#0037ff,#0036ff,#002dff,#0042ff,#003fff,#0046ff,#0048ff,#0036ff,#0034ff,#003bff,#0037ff,#0046ff,#004eff,#004cff,#04f,#005fff,#006bff,#006aff,#006eff,#0061ff,#0074ff,#07f,#0072ff,#0082ff,#006cff,#008fff,#0071ff,#008cff,#008eff,#0095ff,#00a0ff,#00a0ff,#00b0ff,#00a0ff,#00bcff,#00c5ff,#00beff,#0bf,#00cfff,#00dcff,#00e4ff,#00f2ff,#00ecff,#00fdff,#00f2ff,#00f7ff,#0ff,#00fffb,#00f7ff,#00fff9,#00fff1,#00fff2,#00ffe9,#00ffe8,#0fe,#00ffef,#00ffeb,#00ffdc,#00ffe2,#0fe,#00fff1,#00ffef,#00ffdb,#00ffef,#00ffe8,#00ffe0,#00ffe6,#0fe,#00fff0,#00ffe4,#00ffe4,#00ffea,#00ffea,#00ffe6,#00fff0,#00ffef,#00fff8,#00f9ff,#00faff,#00e6ff,#00e8ff,#00d8ff,#00dfff,#00c8ff,#00c6ff,#00c5ff,#00d4ff,#00c9ff,#00d1ff,#00c9ff,#00bcff,#00c3ff,#00c3ff,#0bf,#00c1ff,#00bfff,#00baff,#00b8ff,#00b5ff,#00c9ff,#00c3ff,#0bf,#00beff,#00bcff,#00bdff,#00bdff,#00c0ff,#00c4ff,#00c5ff,#0cf,#00dfff,#00e0ff,#00e6ff,#00edff,#00e6ff,#00e9ff,#00efff,#00f0ff 180.5px)"></i>
<i style="left:620px;top:362px;width:19px;height:179px;background:linear-gradient(#00efff .5px,#0ef,#00fbff,#00fbff,#00f4ff,#00f9ff,#0ff,#00feff,#00faff,#00fff9,#0ff,#00fff8,#00fffc,#00fff2,#00ffef,#00fff2,#00fff4,#00fff0,#00fff4,#00ffe8,#00fff8,#00fff8,#00ffea,#00ffeb,#00fff6,#00fff3,#00ffed,#00fff5,#00fff8,#00ffed,#00fff2,#0fe,#00ffed,#00ffe8,#00ffeb,#00ffe7,#00ffe6,#00ffe7,#00ffdf,#00ffe5,#00ffde,#00ffd5,#00ffdb,#00ffda,#00ffd7,#00ffd4,#00ffce,#00ffd3,#00ffd5,#00ffcf,#00ffcd,#00ffca,#00ffc2,#00ffc0,#00ffb7,#00ffb3,#00ffaf,#00ffb0,#00ffad,#00ffa4,#00ffa7,#00ff9f,#00ff9c,#00ff97,#00ff8f,#00ff8c,#00ff89,#00ff83,#00ff7f,#00ff7c,#00ff76,#00ff74,#00ff79,#00ff7c,#00ff7a,#00ff7c,#00ff79,#00ff7c,#00ff7e,#00ff79,#00ff74,#00ff6e,#00ff6b,#00ff68,#00ff64,#00ff60,#00ff5a,#00ff54,#00ff50,#00ff4b,#00ff4b,#00ff43,#00ff3c,#00ff3b,#00ff34,#00ff31,#00ff2a,#00ff26,#00ff21,#00ff1d,#00ff18,#00ff18,#00ff15,#00ff12,#00ff0d,#00ff0f,#00ff08,#00ff08,#00ff04,#00ff03,#0f0,#03ff00,#02ff00,#07ff00,#07ff00,#0aff00,#0aff00,#0eff00,#10ff00,#14ff00,#12ff00,#15ff00,#18ff00,#1aff00,#1eff00,#1dff00,#24ff00,#27ff00,#2bff00,#31ff00,#36ff00,#3aff00,#3fff00,#41ff00,#48ff00,#4cff00,#64ff00,#8fff00,#b3ff00,#b8ff00,#baff00,#c0ff00,#c3ff00,#caff00,#cf0,#ceff00,#d4ff00,#daff00,#deff00,#e9ff00,#f3ff00,#f4ff00,#f7ff00,#fbff00,#fffa00,#fc0,#ff9300,#ff7900,#ff7400,#ff5900,#ff3c00,#ff2a00,#ff2600,#ff2600,#ff2300,#ff1900,#ff0800,#ff0100,#ff0100,#f00,#ff0200,#ff0100,#ff0200,#ff0200,#ff0100,#ff0100,#ff0100,#ff0100,#f00 178.5px)"></i>
<i style="left:639px;top:0px;width:20px;height:181px;background:linear-gradient(#0037ff .5px,#0012ff,#0018ff,#0200ff,#002eff,#0024ff,#0012ff,#0040ff,#0019ff,#0026ff,#0600ff,#003fff,#002aff,#0029ff,#0020ff,#0017ff,#001dff,#003dff,#01f,#0039ff,#0048ff,#0029ff,#0025ff,#0012ff,#002aff,#003cff,#000eff,#0021ff,#0020ff,#003bff,#0042ff,#001eff,#0012ff,#0017ff,#0021ff,#02f,#001bff,#0014ff,#001eff,#0007ff,#0018ff,#0021ff,#0035ff,#001cff,#0019ff,#0800ff,#003cff,#001fff,#002aff,#0021ff,#001dff,#0032ff,#0026ff,#0034ff,#0010ff,#002fff,#01f,#0012ff,#01f,#002cff,#0040ff,#0007ff,#0025ff,#000aff,#0014ff,#0048ff,#0018ff,#0030ff,#002dff,#0010ff,#0026ff,#0012ff,#000cff,#000dff,#03f,#0300ff,#003aff,#001bff,#002bff,#0009ff,#0039ff,#0023ff,#0017ff,#002eff,#002dff,#001bff,#0025ff,#0019ff,#001cff,#0025ff,#0019ff,#0013ff,#002cff,#0010ff,#0021ff,#0032ff,#0015ff,#001dff,#002dff,#0026ff,#0036ff,#0a00ff,#002fff,#0004ff,#0010ff,#0029ff,#0015ff,#003cff,#001dff,#0019ff,#0038ff,#001dff,#0046ff,#001bff,#0005ff,#002fff,#002bff,#0030ff,#0039ff,#000eff,#0023ff,#0030ff,#0021ff,#0035ff,#001aff,#0005ff,#004aff,#001aff,#000dff,#002dff,#0015ff,#03f,#0030ff,#0021ff,#000eff,#0045ff,#0048ff,#002dff,#003aff,#0015ff,#0036ff,#003aff,#0054ff,#004eff,#000fff,#002aff,#0034ff,#0012ff,#001bff,#0030ff,#0012ff,#0026ff,#002aff,#0031ff,#002bff,#0052ff,#002eff,#0019ff,#02f,#002cff,#02f,#0025ff,#0034ff,#001dff,#002eff,#001eff,#0020ff,#0024ff,#0016ff,#0029ff,#0039ff,#0050ff,#002eff,#0035ff,#0035ff,#002dff,#0037ff,#0037ff,#0031ff,#0036ff,#0039ff 180.5px)"></i>
<i style="left:639px;top:181px;width:20px;height:181px;background:linear-gradient(#003cff .5px,#0031ff,#003dff,#0047ff,#003aff,#0056ff,#0050ff,#004bff,#002dff,#04f,#003fff,#005bff,#0043ff,#001cff,#0030ff,#0049ff,#002eff,#0052ff,#003dff,#0061ff,#003dff,#003eff,#05f,#004aff,#004eff,#0041ff,#003bff,#0038ff,#0031ff,#03f,#003fff,#0039ff,#0037ff,#0037ff,#002fff,#003fff,#003eff,#05f,#003eff,#003fff,#005eff,#0048ff,#0043ff,#0046ff,#0030ff,#0045ff,#0040ff,#0046ff,#004cff,#003bff,#0041ff,#004cff,#0049ff,#0046ff,#0050ff,#005dff,#0058ff,#0043ff,#0046ff,#0047ff,#0062ff,#0041ff,#004dff,#004bff,#0057ff,#005fff,#0045ff,#004eff,#004cff,#0053ff,#004dff,#0060ff,#0046ff,#005eff,#0057ff,#0061ff,#0059ff,#0072ff,#0061ff,#007cff,#0067ff,#007cff,#007dff,#007cff,#0085ff,#0085ff,#008dff,#0090ff,#0085ff,#0094ff,#009fff,#0097ff,#00a9ff,#00b0ff,#00b9ff,#00b8ff,#00b6ff,#00bfff,#00c5ff,#00d7ff,#00deff,#00e0ff,#00e0ff,#00f4ff,#00ecff,#00fff8,#00fffe,#00fff7,#00fffc,#00ffeb,#00ffeb,#00ffe3,#00ffeb,#00ffd7,#00fff2,#00ffdf,#00ffda,#00ffd5,#00ffde,#00ffd8,#0fd,#00ffd6,#00ffd8,#00ffdf,#00ffd4,#00ffe4,#00ffdc,#00ffd6,#00ffe6,#00ffe1,#00ffcf,#00ffd3,#00ffe0,#00ffda,#00ffd8,#00ffc8,#00ffd9,#00ffd5,#00ffdb,#00ffe7,#00ffef,#00fffa,#00fbff,#00f7ff,#00ecff,#00e5ff,#00e5ff,#00e2ff,#00e3ff,#00e6ff,#00d7ff,#00d9ff,#00dbff,#00dcff,#00d6ff,#00d3ff,#00e1ff,#0cf,#00c1ff,#00c7ff,#00cdff,#00caff,#00c4ff,#00c6ff,#00d7ff,#00c3ff,#00d0ff,#00cbff,#00d1ff,#00cbff,#00cfff,#0cf,#00d2ff,#00e0ff,#00daff,#0df,#00efff,#00f3ff,#00f2ff,#00f9ff,#00f9ff 180.5px)"></i>
<i style="left:639px;top:362px;width:20px;height:179px;background:linear-gradient(#00f7ff .5px,#00fdff,#00fff8,#00feff,#00ffeb,#00fff6,#00fff9,#00ffeb,#00fff0,#0fe,#00ffe5,#00ffed,#00ffec,#00ffe0,#00ffe9,#00ffed,#00ffea,#00ffe6,#00ffe3,#00ffec,#00ffec,#00ffe8,#00ffe7,#00ffea,#00ffeb,#00fff0,#00ffe5,#00ffea,#00fff0,#00ffe5,#00ffe8,#00ffec,#00ffe2,#00ffdf,#00ffdf,#00ffd5,#00ffe0,#00ffe0,#00ffd9,#00ffd8,#00ffd3,#00ffd6,#00ffd7,#00ffd5,#00ffcb,#00ffce,#00ffcd,#00ffc7,#0fc,#00ffc5,#00ffc8,#00ffbf,#00ffbd,#00ffb4,#00ffb0,#00ffaf,#0fa,#00ffac,#00ffa4,#00ff9d,#00ff93,#00ff91,#00ff8d,#00ff8e,#00ff8c,#00ff89,#00ff82,#00ff81,#0f7,#0f7,#0f7,#00ff74,#00ff6e,#00ff71,#00ff73,#00ff76,#0f7,#00ff73,#00ff75,#00ff74,#00ff74,#00ff6c,#0f6,#00ff67,#00ff65,#00ff60,#00ff5a,#00ff58,#00ff51,#00ff4e,#00ff49,#00ff47,#00ff42,#00ff3d,#00ff37,#0f3,#00ff32,#00ff2f,#00ff2d,#00ff27,#00ff24,#00ff1e,#00ff19,#00ff14,#00ff16,#00ff10,#00ff0b,#00ff0d,#00ff0b,#00ff07,#00ff06,#00ff03,#01ff00,#04ff00,#06ff00,#05ff00,#0aff00,#0aff00,#0dff00,#10ff00,#1f0,#15ff00,#14ff00,#15ff00,#16ff00,#1cff00,#1cff00,#1dff00,#20ff00,#26ff00,#29ff00,#2fff00,#32ff00,#38ff00,#3bff00,#41ff00,#4f0,#47ff00,#85ff00,#b0ff00,#b3ff00,#b9ff00,#bcff00,#c1ff00,#c9ff00,#ceff00,#d1ff00,#d9ff00,#e0ff00,#ebff00,#f3ff00,#f7ff00,#f8ff00,#fcff00,#fff500,#ffc500,#ff8700,#ff6e00,#ff6e00,#ff6b00,#ff6b00,#f60,#ff5800,#ff4100,#ff3200,#ff2e00,#ff2e00,#ff2a00,#ff1e00,#ff0900,#f00,#f00,#f00,#f00,#f00,#f00,#f00,#f00,#f00 178.5px)"></i>
<i style="left:659px;top:0px;width:19px;height:181px;background:linear-gradient(#1800ff .5px,#0028ff,#0017ff,#0800ff,#0006ff,#001eff,#001bff,#0a00ff,#0019ff,#0032ff,#000dff,#0003ff,#0015ff,#0012ff,#0029ff,#0400ff,#0002ff,#0005ff,#0030ff,#0900ff,#0800ff,#0700ff,#0006ff,#1f00ff,#0200ff,#0025ff,#0028ff,#000dff,#0007ff,#0004ff,#1300ff,#0027ff,#002bff,#0002ff,#002dff,#000aff,#0001ff,#3400ff,#001eff,#0001ff,#1000ff,#0016ff,#0030ff,#0017ff,#000cff,#0010ff,#000bff,#000fff,#0014ff,#0019ff,#000eff,#00f,#0024ff,#0001ff,#0032ff,#0015ff,#0036ff,#02f,#000dff,#0005ff,#002dff,#0021ff,#001bff,#0200ff,#0037ff,#0024ff,#000eff,#001aff,#000bff,#001eff,#0008ff,#002aff,#001dff,#0030ff,#0023ff,#0030ff,#0e00ff,#0300ff,#000bff,#0032ff,#001eff,#0c00ff,#0020ff,#0006ff,#0018ff,#0006ff,#0013ff,#0008ff,#000fff,#0500ff,#001cff,#0018ff,#0020ff,#0038ff,#0032ff,#0200ff,#0500ff,#0018ff,#0008ff,#002bff,#001aff,#0018ff,#003eff,#000cff,#001aff,#0009ff,#0056ff,#0012ff,#002fff,#0010ff,#000aff,#001bff,#0027ff,#0020ff,#000fff,#0020ff,#001aff,#000eff,#003aff,#0018ff,#0028ff,#0032ff,#0004ff,#0019ff,#001dff,#001eff,#003cff,#002cff,#0006ff,#0c00ff,#0014ff,#0024ff,#0021ff,#001cff,#0600ff,#0500ff,#0029ff,#000eff,#0008ff,#0032ff,#0032ff,#003eff,#0035ff,#0018ff,#0007ff,#001aff,#0047ff,#000eff,#002eff,#003bff,#0016ff,#0b00ff,#001cff,#0028ff,#01f,#001cff,#0005ff,#0025ff,#002eff,#03f,#0006ff,#0036ff,#001dff,#0034ff,#0032ff,#03f,#1000ff,#001dff,#003dff,#0021ff,#0049ff,#0027ff,#004fff,#0034ff,#1700ff,#0029ff,#0025ff,#0021ff,#001bff,#0029ff,#002eff 180.5px)"></i>
<i style="left:659px;top:181px;width:19px;height:181px;background:linear-gradient(#0027ff .5px,#002aff,#0047ff,#002cff,#004bff,#002cff,#000eff,#001fff,#0051ff,#0039ff,#003bff,#0025ff,#0037ff,#0031ff,#0036ff,#01f,#003aff,#0029ff,#0048ff,#0030ff,#003cff,#0036ff,#0032ff,#004eff,#0037ff,#003dff,#03f,#003dff,#0024ff,#0057ff,#0035ff,#0029ff,#0047ff,#0006ff,#0029ff,#0032ff,#0038ff,#003aff,#002bff,#0038ff,#003eff,#0043ff,#0029ff,#002bff,#003eff,#0049ff,#0049ff,#03f,#002eff,#0049ff,#0043ff,#004aff,#0050ff,#004cff,#002cff,#0042ff,#0041ff,#004eff,#0032ff,#005dff,#003dff,#002dff,#003dff,#0043ff,#0050ff,#0056ff,#004dff,#0058ff,#004aff,#003dff,#0046ff,#0057ff,#0050ff,#004aff,#0060ff,#05f,#004aff,#0063ff,#05f,#0061ff,#0059ff,#005dff,#0072ff,#006eff,#0071ff,#0069ff,#0072ff,#07f,#0082ff,#0074ff,#0081ff,#008eff,#008dff,#0089ff,#0095ff,#0094ff,#0095ff,#00a5ff,#0092ff,#009cff,#00b2ff,#00baff,#00c0ff,#00c1ff,#00d2ff,#00deff,#00e7ff,#00f4ff,#00e5ff,#00f7ff,#00fff7,#00fffa,#00fff0,#00ffef,#00ffe5,#00ffe5,#00ffe0,#00ffed,#00ffe9,#0fd,#00ffe2,#00ffda,#00ffde,#00ffe4,#00ffde,#00ffe3,#00ffe4,#0fd,#00ffdc,#00ffd8,#00ffdc,#00ffde,#00ffde,#00ffe2,#0fd,#0fe,#00ffdf,#00ffd8,#00ffe0,#00fff2,#00ffec,#00fff4,#00fff0,#00fffe,#00f8ff,#00f3ff,#00fcff,#00f9ff,#00e0ff,#00e0ff,#00e9ff,#00d2ff,#00d2ff,#00d7ff,#00c8ff,#00cdff,#00c4ff,#00c5ff,#00c8ff,#00beff,#00c7ff,#0cf,#00c6ff,#00c5ff,#00c1ff,#00c4ff,#0cf,#00c8ff,#00cfff,#00bfff,#00c2ff,#00caff,#00d2ff,#00d2ff,#00d9ff,#00dfff,#00ebff,#00eaff,#00ecff,#00f9ff,#00f8ff 180.5px)"></i>
<i style="left:659px;top:362px;width:19px;height:179px;background:linear-gradient(#00f3ff .5px,#00edff,#00faff,#00faff,#00fbff,#00fff8,#00fffe,#00fff6,#00fffb,#00fff2,#00fff8,#00ffea,#00fff4,#00fff2,#00ffed,#00ffef,#00fff2,#00fff3,#00fff1,#00fff7,#00fff1,#00ffec,#00ffef,#00fff0,#00ffe7,#00fff0,#00fff3,#00fff1,#00fff1,#00ffe9,#00ffed,#00fff3,#0fe,#00ffec,#00ffe5,#00ffe5,#00ffe8,#00ffe0,#00ffdf,#00ffde,#0fd,#00ffdb,#00ffda,#00ffd8,#00ffd9,#00ffd2,#00ffd4,#00ffd4,#00ffca,#00ffcd,#0fc,#00ffc8,#00ffc2,#00ffbd,#0fb,#00ffb0,#00ffb3,#00ffaf,#00ffa4,#00ffa2,#00ff9f,#00ff9b,#00ff98,#00ff94,#00ff92,#00ff8f,#00ff84,#00ff85,#00ff83,#00ff7b,#00ff7e,#0f7,#00ff72,#00ff75,#00ff74,#00ff6d,#00ff70,#00ff6f,#00ff70,#00ff6e,#00ff68,#00ff68,#00ff65,#00ff63,#00ff5e,#00ff5c,#00ff5a,#00ff59,#00ff56,#00ff51,#00ff4e,#00ff4b,#00ff4b,#00ff4a,#00ff45,#00ff41,#00ff3e,#00ff3d,#00ff37,#00ff35,#0f3,#00ff2e,#00ff2c,#00ff2a,#00ff27,#00ff24,#00ff20,#00ff21,#00ff1a,#00ff17,#00ff15,#00ff10,#00ff10,#00ff0d,#00ff0b,#00ff08,#00ff08,#00ff06,#00ff03,#03ff00,#03ff00,#01ff00,#08ff00,#0aff00,#0bff00,#0aff00,#0eff00,#1f0,#13ff00,#12ff00,#1aff00,#20ff00,#25ff00,#2bff00,#32ff00,#39ff00,#3eff00,#46ff00,#78ff00,#9aff00,#a1ff00,#abff00,#b0ff00,#b7ff00,#c0ff00,#c7ff00,#ceff00,#d8ff00,#e2ff00,#f5ff00,#ffcd00,#ffc600,#ffbd00,#ffba00,#ffb100,#ffaf00,#fa0,#ffa400,#ff9f00,#ff9a00,#ff9300,#ff8c00,#ff7800,#ff5900,#ff4800,#ff4500,#ff4300,#ff3400,#ff1500,#ff0300,#f00,#ff0100,#ff0200,#f00,#f00,#ff0100,#ff0100,#f00,#f00 178.5px)"></i>
<i style="left:678px;top:0px;width:19px;height:181px;background:linear-gradient(#0029ff .5px,#0003ff,#0010ff,#0035ff,#0e00ff,#01f,#0028ff,#003aff,#001aff,#001aff,#0b00ff,#0002ff,#0009ff,#0b00ff,#1000ff,#0002ff,#0021ff,#0029ff,#0042ff,#001dff,#0100ff,#0040ff,#0013ff,#0300ff,#0016ff,#002fff,#0013ff,#0021ff,#0010ff,#0026ff,#000fff,#0006ff,#0003ff,#000fff,#0028ff,#0007ff,#0025ff,#0009ff,#0002ff,#0002ff,#0400ff,#001dff,#0010ff,#003bff,#0008ff,#0010ff,#001dff,#001dff,#0027ff,#0c00ff,#0025ff,#0020ff,#0023ff,#0014ff,#001eff,#0034ff,#0012ff,#0006ff,#003cff,#002bff,#0013ff,#002cff,#0027ff,#001cff,#0020ff,#002fff,#000eff,#4100ff,#0021ff,#0026ff,#0008ff,#0007ff,#003bff,#001fff,#002fff,#001eff,#02f,#000fff,#0019ff,#002bff,#0027ff,#0043ff,#0005ff,#0013ff,#002aff,#002cff,#0028ff,#0017ff,#0025ff,#0019ff,#002fff,#0026ff,#0029ff,#0031ff,#002dff,#0009ff,#0028ff,#0001ff,#0025ff,#0028ff,#002dff,#002aff,#002eff,#001fff,#0013ff,#001bff,#002fff,#0032ff,#0007ff,#0015ff,#002aff,#002eff,#0015ff,#0014ff,#0007ff,#001cff,#02f,#000fff,#0030ff,#0024ff,#000cff,#001bff,#0049ff,#0036ff,#01f,#003bff,#0018ff,#0034ff,#0028ff,#0016ff,#0024ff,#0032ff,#002aff,#002bff,#0006ff,#002aff,#0034ff,#002dff,#02f,#0034ff,#0023ff,#0024ff,#0023ff,#001cff,#0019ff,#0046ff,#0034ff,#0002ff,#0016ff,#0032ff,#0030ff,#03f,#0029ff,#000cff,#001fff,#01f,#0002ff,#0031ff,#003dff,#003dff,#0012ff,#04f,#0024ff,#0046ff,#03f,#0035ff,#003dff,#0030ff,#0036ff,#002dff,#003dff,#0036ff,#0009ff,#0042ff,#0037ff,#002cff,#003dff,#002bff,#002cff,#003bff,#0038ff 180.5px)"></i>
<i style="left:678px;top:181px;width:19px;height:181px;background:linear-gradient(#002cff .5px,#0029ff,#0032ff,#0038ff,#0041ff,#0025ff,#0046ff,#001bff,#0041ff,#0020ff,#004dff,#002dff,#003fff,#002bff,#004dff,#0030ff,#0025ff,#002bff,#0021ff,#0024ff,#004bff,#004dff,#0020ff,#003bff,#03f,#0035ff,#0058ff,#0041ff,#0042ff,#0039ff,#004aff,#0034ff,#0038ff,#0057ff,#004cff,#002eff,#02f,#05f,#0040ff,#003eff,#0047ff,#001fff,#004cff,#0032ff,#004bff,#04f,#0041ff,#03f,#0048ff,#0027ff,#0051ff,#0040ff,#0046ff,#003cff,#0057ff,#004dff,#0049ff,#0041ff,#0058ff,#0037ff,#0057ff,#0054ff,#003fff,#0056ff,#004aff,#004cff,#002dff,#0056ff,#0042ff,#004aff,#003cff,#0054ff,#004eff,#0040ff,#0054ff,#0059ff,#0059ff,#0041ff,#0061ff,#0063ff,#0078ff,#006bff,#0079ff,#006cff,#005cff,#005eff,#007dff,#007aff,#007aff,#0087ff,#007bff,#007eff,#0080ff,#007eff,#007aff,#007eff,#0082ff,#0089ff,#0080ff,#0085ff,#008eff,#008eff,#09f,#00adff,#00b5ff,#00bcff,#00caff,#00cdff,#00ebff,#00f1ff,#00fffe,#00f0ff,#00fffa,#00fff3,#00fff5,#00ffe6,#00ffe7,#00ffdf,#0fd,#00ffdc,#0fd,#00ffda,#00ffd2,#00ffdb,#00ffdf,#00ffde,#00ffd5,#00ffd1,#00ffd6,#00ffd8,#00ffd6,#00ffe1,#0fd,#00ffd8,#00ffda,#00ffd4,#00ffe5,#00ffe0,#00ffde,#0fe,#00ffe9,#00ffe4,#00ffe6,#00ffe6,#00ffdf,#00ffe1,#00fff0,#00fff8,#00f7ff,#0ef,#00e6ff,#00d9ff,#00d9ff,#00d5ff,#00cdff,#00c3ff,#00caff,#00c4ff,#00c3ff,#00c9ff,#00d6ff,#00c8ff,#00cfff,#00ceff,#00cbff,#00c6ff,#00d5ff,#00caff,#00d6ff,#0cf,#00caff,#00ceff,#00d2ff,#00d7ff,#00e4ff,#00e2ff,#00f1ff,#00ecff,#00ebff,#00f5ff,#0ff 180.5px)"></i>
<i style="left:678px;top:362px;width:19px;height:179px;background:linear-gradient(#00f7ff .5px,#00fff7,#00fff8,#00fffe,#00fff4,#00fffa,#00fff7,#00fff4,#00fff5,#00ffed,#00fff8,#00fff6,#00fff8,#00fff0,#00ffef,#00fff3,#00ffeb,#00fff5,#00fff3,#00ffe6,#00fff1,#00ffed,#00fffc,#0fe,#0fe,#00ffef,#00ffeb,#00fff0,#0fe,#00fff2,#00ffef,#00ffef,#00ffeb,#00fff1,#00fff0,#00ffeb,#00ffea,#00ffe6,#00ffde,#00ffe3,#00ffd8,#00ffd8,#00ffdb,#00ffd9,#00ffd6,#00ffd7,#00ffd0,#00ffce,#00ffcf,#00ffce,#00ffc8,#00ffcb,#00ffc5,#00ffc2,#00ffc0,#00ffb9,#00ffb0,#0fa,#00ffac,#00ffa7,#00ff9f,#00ff9c,#00ff9b,#00ff96,#00ff8d,#00ff91,#00ff8c,#00ff84,#00ff7f,#00ff7e,#00ff7a,#00ff72,#00ff74,#00ff76,#00ff72,#00ff72,#00ff6e,#00ff6e,#00ff71,#00ff6f,#00ff6b,#00ff69,#00ff64,#00ff63,#00ff5c,#00ff5e,#00ff5c,#00ff58,#0f5,#00ff52,#00ff4f,#00ff4d,#00ff48,#00ff46,#00ff43,#00ff42,#00ff3c,#00ff38,#00ff37,#00ff34,#00ff30,#00ff2f,#00ff2a,#00ff29,#00ff27,#00ff21,#0f2,#00ff1c,#00ff19,#00ff17,#00ff15,#00ff12,#00ff13,#00ff10,#00ff0d,#00ff0c,#00ff0c,#00ff08,#00ff07,#00ff03,#0f0,#00ff03,#02ff00,#03ff00,#03ff00,#09ff00,#0dff00,#0cff00,#10ff00,#12ff00,#13ff00,#16ff00,#20ff00,#24ff00,#2eff00,#35ff00,#3fff00,#46ff00,#78ff00,#9f0,#a0ff00,#a4ff00,#a8ff00,#acff00,#b3ff00,#b7ff00,#bdff00,#beff00,#c7ff00,#cf0,#cdff00,#d5ff00,#dbff00,#e7ff00,#fffd00,#fff400,#ffdf00,#ffca00,#ffbf00,#ffba00,#ffb600,#ffb000,#fa0,#ffa600,#ffa100,#ff9a00,#f80,#ff5d00,#ff2a00,#ff0a00,#f00,#f00,#f00,#f00,#f00,#f00,#f00,#f00,#f00 178.5px)"></i>
<i style="left:697px;top:0px;width:20px;height:181px;background:linear-gradient(#0400ff .5px,#000bff,#01f,#000dff,#0300ff,#001aff,#0029ff,#0034ff,#0003ff,#0032ff,#0023ff,#000aff,#0012ff,#001eff,#0031ff,#0008ff,#0005ff,#0015ff,#0009ff,#0013ff,#000dff,#0010ff,#0008ff,#0039ff,#03f,#0010ff,#00f,#000dff,#001cff,#0014ff,#0700ff,#0010ff,#0600ff,#001fff,#0006ff,#0031ff,#0012ff,#0400ff,#0037ff,#0004ff,#002dff,#0600ff,#000cff,#0d00ff,#0039ff,#0042ff,#0035ff,#001eff,#0036ff,#0014ff,#000eff,#000eff,#0015ff,#0007ff,#0005ff,#002cff,#01f,#0004ff,#0600ff,#02f,#0025ff,#0013ff,#0025ff,#0021ff,#0300ff,#000cff,#001cff,#0018ff,#0500ff,#001bff,#000bff,#0010ff,#000cff,#001dff,#0009ff,#0023ff,#02f,#0003ff,#0004ff,#0015ff,#001eff,#0032ff,#0020ff,#002bff,#002cff,#0700ff,#0008ff,#0003ff,#0037ff,#0030ff,#0001ff,#02f,#000bff,#0024ff,#001dff,#002eff,#000bff,#00f,#0013ff,#0029ff,#0037ff,#0038ff,#0018ff,#0018ff,#000aff,#001eff,#000eff,#001aff,#0020ff,#0012ff,#0023ff,#0019ff,#0800ff,#0014ff,#0025ff,#03f,#0021ff,#0017ff,#0015ff,#001fff,#0036ff,#0030ff,#0027ff,#0017ff,#0008ff,#001eff,#01f,#0010ff,#002fff,#002fff,#002fff,#003fff,#0027ff,#002aff,#0039ff,#0023ff,#0029ff,#0030ff,#0015ff,#001cff,#0032ff,#0f00ff,#0053ff,#0023ff,#000fff,#0012ff,#0042ff,#0032ff,#001aff,#002aff,#000bff,#0023ff,#000cff,#000dff,#001aff,#000eff,#0035ff,#0017ff,#001bff,#0026ff,#000eff,#002eff,#0019ff,#0018ff,#003cff,#02f,#0039ff,#003cff,#02f,#0041ff,#0029ff,#000aff,#0037ff,#0025ff,#0020ff,#0040ff,#0039ff,#0043ff,#003cff,#002cff,#0036ff 180.5px)"></i>
<i style="left:697px;top:181px;width:20px;height:181px;background:linear-gradient(#0023ff .5px,#001cff,#0038ff,#000fff,#0021ff,#0029ff,#0052ff,#0032ff,#0038ff,#0016ff,#003aff,#002eff,#0034ff,#002cff,#002eff,#003fff,#0042ff,#001bff,#03f,#0025ff,#001fff,#0024ff,#0042ff,#001aff,#0019ff,#0002ff,#0021ff,#0036ff,#002dff,#0037ff,#0048ff,#0030ff,#001eff,#003eff,#0038ff,#0047ff,#0054ff,#002dff,#0052ff,#003bff,#0037ff,#0028ff,#002fff,#0034ff,#0039ff,#0029ff,#004bff,#0036ff,#03f,#05f,#0039ff,#003cff,#0040ff,#003eff,#0042ff,#003bff,#0027ff,#003aff,#004bff,#0035ff,#0049ff,#003dff,#0059ff,#0048ff,#0040ff,#0046ff,#004cff,#005cff,#003fff,#0040ff,#0050ff,#0045ff,#004fff,#04f,#0053ff,#0053ff,#0056ff,#004cff,#0061ff,#0061ff,#06f,#0060ff,#0076ff,#0065ff,#0076ff,#0079ff,#007bff,#0084ff,#0087ff,#0082ff,#0096ff,#0084ff,#008aff,#007aff,#0083ff,#0089ff,#0080ff,#0080ff,#008aff,#0082ff,#0081ff,#008fff,#0092ff,#0093ff,#00b0ff,#00b3ff,#00b6ff,#00c7ff,#00d9ff,#00e1ff,#00e9ff,#00ecff,#00fff5,#00ffed,#00ffe2,#00ffd9,#00ffd9,#00ffd8,#00ffcd,#00ffde,#00ffd9,#00ffdb,#00ffd1,#00ffcb,#00ffdb,#00ffd8,#00ffe6,#00ffe9,#00ffd7,#00ffe7,#00ffd7,#00ffe9,#00ffe2,#00ffe3,#0fd,#00ffe7,#00ffe7,#00ffe7,#00ffd8,#00fff4,#00fff8,#00fff9,#00f9ff,#00faff,#00fbff,#00faff,#00fdff,#00f2ff,#00fdff,#00f8ff,#00f5ff,#00e7ff,#00e0ff,#00d8ff,#00dfff,#00d5ff,#0cf,#00c5ff,#00c9ff,#00cbff,#00caff,#00cfff,#00c7ff,#00ceff,#00c5ff,#00c6ff,#00ceff,#00c2ff,#00d5ff,#00c4ff,#00d1ff,#00c6ff,#00cfff,#00d2ff,#00dcff,#00e4ff,#00edff,#0ef,#00edff,#00e6ff,#00e8ff 180.5px)"></i>
<i style="left:697px;top:362px;width:20px;height:179px;background:linear-gradient(#00fbff .5px,#00e7ff,#00f3ff,#00ecff,#0ef,#00f5ff,#00ebff,#00edff,#00efff,#00ebff,#00f1ff,#00f7ff,#00f5ff,#00faff,#00f7ff,#00f4ff,#00f6ff,#00f6ff,#00f6ff,#00f9ff,#00fffb,#00fffe,#0ff,#00f7ff,#00fffd,#00feff,#00fffc,#00feff,#0fe,#00fff9,#00fff8,#00fffb,#00fffc,#00fff0,#00ffef,#0fe,#00ffed,#00fff1,#00ffe9,#00ffeb,#00ffe2,#00ffe1,#00ffe2,#00ffdb,#00ffe2,#00ffd9,#00ffd0,#00ffd6,#00ffd1,#00ffce,#00ffd1,#00ffc8,#00ffc3,#00ffc2,#00ffc2,#00ffbd,#00ffb5,#00ffad,#00ffab,#00ffa7,#00ffa1,#00ff9e,#00ff96,#00ff97,#00ff92,#00ff8d,#00ff8a,#00ff8c,#00ff81,#00ff79,#00ff79,#00ff79,#00ff71,#00ff76,#00ff6e,#00ff72,#00ff69,#00ff67,#0f6,#00ff63,#00ff64,#00ff63,#00ff5b,#00ff5d,#00ff59,#00ff5a,#00ff52,#00ff54,#00ff4e,#00ff4e,#00ff4f,#00ff4d,#00ff4a,#00ff4a,#00ff46,#0f4,#00ff40,#00ff3e,#00ff3c,#00ff39,#00ff39,#00ff36,#00ff34,#00ff34,#00ff2f,#00ff2c,#00ff29,#00ff2a,#00ff24,#00ff25,#0f2,#00ff21,#00ff1f,#00ff1c,#00ff19,#00ff19,#00ff16,#00ff14,#00ff12,#0f1,#00ff12,#00ff0c,#00ff0d,#00ff0a,#00ff0a,#00ff08,#00ff06,#00ff06,#00ff03,#00ff01,#04ff00,#05ff00,#07ff00,#0bff00,#0eff00,#10ff00,#14ff00,#1aff00,#26ff00,#34ff00,#3cff00,#47ff00,#59ff00,#7aff00,#8aff00,#93ff00,#9bff00,#a4ff00,#acff00,#b3ff00,#b9ff00,#c4ff00,#cbff00,#d4ff00,#dbff00,#f3ff00,#feff00,#fffc00,#fffc00,#fffc00,#fffd00,#fff300,#ffd600,#ffb000,#ff9800,#ff8d00,#ff8300,#ff7500,#ff5b00,#ff2e00,#ff0a00,#f00,#ff0200,#ff0100,#f00,#f00,#f00,#f00,#ff0100 178.5px)"></i>
<i style="left:717px;top:0px;width:19px;height:181px;background:linear-gradient(#000aff .5px,#0010ff,#0036ff,#000bff,#0028ff,#03f,#0018ff,#0005ff,#001aff,#0300ff,#0012ff,#0013ff,#0100ff,#0025ff,#0015ff,#000fff,#002cff,#0026ff,#0007ff,#0300ff,#000bff,#0006ff,#0300ff,#02f,#0010ff,#001bff,#0016ff,#003dff,#0800ff,#0027ff,#001bff,#0015ff,#0016ff,#0006ff,#000dff,#0006ff,#002fff,#0007ff,#0300ff,#001aff,#0020ff,#0027ff,#0026ff,#0019ff,#0035ff,#001eff,#001eff,#002bff,#002aff,#001eff,#0700ff,#001cff,#002eff,#0024ff,#0006ff,#0027ff,#0019ff,#0800ff,#0800ff,#002dff,#0500ff,#0020ff,#000eff,#0010ff,#0008ff,#001fff,#0043ff,#002cff,#0015ff,#0004ff,#0024ff,#001dff,#0007ff,#0017ff,#0017ff,#0004ff,#0018ff,#001eff,#0030ff,#0024ff,#03f,#001eff,#0006ff,#003cff,#0010ff,#0036ff,#000cff,#002cff,#01f,#000cff,#002fff,#002dff,#001dff,#0029ff,#0023ff,#000cff,#0002ff,#0003ff,#001eff,#0005ff,#0017ff,#02f,#001aff,#001cff,#001dff,#002dff,#0008ff,#0010ff,#000cff,#0034ff,#0017ff,#0038ff,#004aff,#0009ff,#0017ff,#0018ff,#0007ff,#0009ff,#0025ff,#0028ff,#01f,#001cff,#0024ff,#0043ff,#0021ff,#0019ff,#001cff,#001bff,#0019ff,#0023ff,#03f,#0028ff,#0041ff,#001eff,#03f,#0041ff,#0021ff,#0019ff,#0036ff,#003dff,#0025ff,#0034ff,#0038ff,#000dff,#001dff,#000dff,#1900ff,#0042ff,#0027ff,#0037ff,#0034ff,#0039ff,#004cff,#0027ff,#0025ff,#0028ff,#0020ff,#001dff,#0008ff,#001fff,#0027ff,#0019ff,#0031ff,#002eff,#0035ff,#01f,#0024ff,#03f,#0041ff,#0027ff,#002cff,#05f,#0034ff,#0014ff,#0025ff,#0040ff,#002cff,#0043ff,#0036ff,#0045ff,#002fff 180.5px)"></i>
<i style="left:717px;top:181px;width:19px;height:181px;background:linear-gradient(#001eff .5px,#002cff,#003dff,#001bff,#003eff,#001dff,#004eff,#0035ff,#0031ff,#0009ff,#003dff,#0017ff,#0021ff,#002eff,#0027ff,#0007ff,#0031ff,#003cff,#003bff,#0042ff,#0051ff,#0038ff,#0031ff,#002aff,#0038ff,#0026ff,#0053ff,#0042ff,#004aff,#0048ff,#002dff,#0025ff,#0050ff,#0039ff,#004dff,#0041ff,#0050ff,#0016ff,#004dff,#0052ff,#003aff,#0029ff,#0049ff,#0041ff,#0040ff,#0041ff,#0042ff,#003aff,#0050ff,#0028ff,#0053ff,#0058ff,#0049ff,#0052ff,#004bff,#0040ff,#0052ff,#003fff,#0041ff,#0037ff,#0039ff,#04f,#0047ff,#0057ff,#004dff,#005cff,#04f,#004cff,#0045ff,#05f,#003eff,#0048ff,#0053ff,#005aff,#003bff,#0053ff,#004fff,#0059ff,#0060ff,#0063ff,#006fff,#006dff,#007cff,#007dff,#006bff,#0084ff,#0083ff,#0076ff,#007eff,#0087ff,#0098ff,#0098ff,#0097ff,#008fff,#009eff,#00a0ff,#00a5ff,#00a9ff,#00a9ff,#00a7ff,#00aeff,#009fff,#00c1ff,#00c9ff,#00cfff,#00d0ff,#00e1ff,#00e7ff,#00f6ff,#00fff5,#00ffeb,#00ffe3,#00ffd9,#00ffd3,#00ffcf,#0fc,#00ffc4,#0fc,#00ffca,#00ffcb,#00ffd1,#00ffd2,#0fc,#00ffd3,#00ffd5,#00ffdb,#00ffdf,#00ffdb,#00ffda,#00ffd4,#00ffe1,#00ffd4,#00ffdc,#00ffda,#00ffd6,#00ffd7,#00ffd9,#00ffe0,#0fd,#00ffe4,#00ffe4,#00fff7,#00fff2,#0ff,#00faff,#00feff,#00fffe,#00f7ff,#00fffd,#00f2ff,#00efff,#0df,#00d6ff,#00d9ff,#00d5ff,#00d0ff,#00c6ff,#00d3ff,#00d1ff,#00c2ff,#00c0ff,#00c6ff,#00caff,#00c8ff,#00c0ff,#00c9ff,#00caff,#00caff,#00c6ff,#00c4ff,#00c3ff,#00ceff,#00ceff,#00d1ff,#00d8ff,#00dfff,#00e3ff,#00eaff,#00e1ff,#00f0ff,#00efff 180.5px)"></i>
<i style="left:717px;top:362px;width:19px;height:179px;background:linear-gradient(#00e8ff .5px,#00efff,#00e9ff,#00efff,#00ecff,#00e0ff,#00f4ff,#00eaff,#00f5ff,#00f1ff,#00fcff,#00e3ff,#00efff,#00edff,#00f8ff,#00f3ff,#00f2ff,#00f5ff,#00f7ff,#00fdff,#0ff,#00fff8,#00f4ff,#00f6ff,#00faff,#00fffb,#00fffd,#00fff6,#00fff7,#00fffa,#00fff9,#0fe,#00fff9,#00fff8,#00fff6,#00fff0,#0fe,#00ffe9,#00fff0,#00ffe7,#00ffe9,#00ffe2,#00ffe6,#00ffe1,#00ffdc,#00ffd9,#00ffde,#00ffd3,#00ffd4,#00ffcf,#00ffca,#00ffc5,#00ffc4,#00ffc0,#00ffbc,#00ffc0,#00ffb9,#00ffb3,#00ffae,#00ffa6,#00ffa4,#00ff9f,#00ff9c,#00ff9d,#00ff91,#00ff8f,#00ff8c,#00ff8b,#00ff87,#00ff7d,#00ff78,#00ff7b,#00ff79,#00ff72,#00ff72,#00ff6a,#00ff6a,#00ff68,#00ff6c,#00ff60,#00ff63,#00ff62,#00ff5d,#00ff5d,#00ff59,#0f5,#00ff59,#00ff53,#0f5,#00ff51,#00ff4e,#00ff4a,#00ff4b,#00ff49,#00ff48,#00ff47,#00ff45,#00ff45,#00ff43,#00ff3f,#00ff3c,#00ff3a,#00ff37,#00ff39,#00ff36,#0f3,#00ff2f,#00ff31,#00ff2d,#00ff2a,#00ff28,#00ff28,#00ff26,#00ff23,#0f2,#00ff1f,#00ff1e,#00ff1b,#00ff1a,#00ff18,#00ff17,#00ff14,#00ff13,#00ff0c,#00ff0e,#00ff0c,#00ff0a,#00ff0a,#00ff06,#00ff03,#00ff01,#01ff00,#05ff00,#07ff00,#08ff00,#0aff00,#0fff00,#10ff00,#12ff00,#17ff00,#2f0,#2dff00,#36ff00,#3fff00,#4aff00,#5dff00,#8aff00,#9bff00,#a6ff00,#afff00,#baff00,#c3ff00,#cbff00,#d3ff00,#deff00,#f3ff00,#fffe00,#fffc00,#fffc00,#fffc00,#fffc00,#ffe800,#ffa000,#ff5000,#ff3100,#ff2d00,#ff2600,#ff1300,#ff0400,#f00,#ff0100,#f00,#f00,#f00,#f00,#f00,#f00,#f00,#f00 178.5px)"></i>
<i style="left:736px;top:0px;width:19px;height:181px;background:linear-gradient(#00f .5px,#000dff,#1e00ff,#0004ff,#0e00ff,#0100ff,#0016ff,#001eff,#000eff,#1d00ff,#0001ff,#0021ff,#0013ff,#0024ff,#0023ff,#0035ff,#0013ff,#0e00ff,#4500ff,#001fff,#001bff,#0021ff,#0700ff,#1200ff,#0021ff,#000cff,#002dff,#0019ff,#000dff,#000fff,#0035ff,#01f,#0029ff,#0006ff,#000cff,#0018ff,#000dff,#001aff,#1e00ff,#0025ff,#0035ff,#0016ff,#001eff,#0031ff,#0009ff,#0016ff,#001bff,#0010ff,#0024ff,#000bff,#0019ff,#0021ff,#0023ff,#0008ff,#0029ff,#1000ff,#003fff,#0028ff,#0013ff,#001bff,#0038ff,#0600ff,#000dff,#0014ff,#0018ff,#001fff,#0015ff,#0015ff,#01f,#0001ff,#000fff,#002dff,#0007ff,#0014ff,#3800ff,#001dff,#0014ff,#0006ff,#0021ff,#0023ff,#000aff,#0041ff,#0012ff,#002dff,#0030ff,#0012ff,#0024ff,#00f,#002bff,#0001ff,#0035ff,#0019ff,#000eff,#000fff,#0028ff,#0024ff,#0007ff,#000cff,#1000ff,#002aff,#000bff,#0027ff,#0008ff,#0013ff,#0012ff,#0021ff,#0015ff,#0012ff,#0009ff,#001fff,#0002ff,#0032ff,#0024ff,#0017ff,#01f,#0013ff,#0035ff,#0025ff,#001bff,#000aff,#03f,#02f,#001dff,#0800ff,#0010ff,#0600ff,#002bff,#001dff,#002aff,#0034ff,#0043ff,#0037ff,#0008ff,#000eff,#001fff,#003bff,#0025ff,#0020ff,#0036ff,#0016ff,#0012ff,#0027ff,#001fff,#003dff,#0027ff,#000dff,#0021ff,#0024ff,#002aff,#001eff,#001fff,#02f,#0029ff,#0008ff,#0010ff,#0034ff,#0034ff,#000cff,#003aff,#0043ff,#003eff,#001aff,#0048ff,#0028ff,#0020ff,#0021ff,#0030ff,#0023ff,#0054ff,#0036ff,#0021ff,#002dff,#000bff,#0025ff,#003bff,#000fff,#001dff,#001fff,#0018ff,#03f,#001aff 180.5px)"></i>
<i style="left:736px;top:181px;width:19px;height:181px;background:linear-gradient(#0027ff .5px,#003fff,#0018ff,#0031ff,#0032ff,#0040ff,#002eff,#0034ff,#0051ff,#0030ff,#0025ff,#03f,#0021ff,#0021ff,#0039ff,#0043ff,#0043ff,#0025ff,#0046ff,#0032ff,#003cff,#0037ff,#001fff,#003dff,#0031ff,#0026ff,#0027ff,#03f,#0053ff,#0031ff,#002fff,#0031ff,#0014ff,#0040ff,#0042ff,#0029ff,#0042ff,#004bff,#0034ff,#0038ff,#0032ff,#003bff,#04f,#0038ff,#0038ff,#003aff,#004eff,#0039ff,#0050ff,#003aff,#003dff,#0039ff,#0026ff,#005cff,#0045ff,#003cff,#003dff,#005eff,#003dff,#0047ff,#0046ff,#0036ff,#0058ff,#0037ff,#0054ff,#0043ff,#004dff,#004aff,#004fff,#0050ff,#0049ff,#0045ff,#0052ff,#004eff,#004cff,#0043ff,#0058ff,#0041ff,#0051ff,#0062ff,#0068ff,#0078ff,#0084ff,#006cff,#0082ff,#0082ff,#0095ff,#0096ff,#009dff,#0093ff,#0080ff,#00a7ff,#009fff,#00b3ff,#00b4ff,#00b3ff,#00a9ff,#00b8ff,#00cbff,#00cbff,#00caff,#00d1ff,#00e0ff,#0df,#00e6ff,#00fffb,#00f9ff,#00fff7,#00ffef,#00ffe6,#00ffd9,#00ffce,#00ffbf,#00ffbf,#00ffbf,#00ffc1,#00ffbc,#00ffc5,#00ffbf,#00ffca,#00ffcd,#00ffda,#00ffde,#00ffda,#00ffd8,#00ffda,#00ffe8,#00ffdc,#00ffd5,#00ffde,#00ffdb,#00ffda,#00ffda,#00ffe9,#0fd,#00ffdb,#00ffe9,#00ffe1,#00ffd9,#00ffed,#00fff5,#00fff1,#00fffe,#00f7ff,#00f9ff,#00e8ff,#00fff8,#00fffb,#00f2ff,#00e6ff,#00d9ff,#00cfff,#00c7ff,#00c2ff,#00cbff,#00c2ff,#00c9ff,#00c6ff,#00c4ff,#00caff,#00c1ff,#00c6ff,#00c7ff,#00c7ff,#00baff,#00c3ff,#00c4ff,#00c2ff,#00c5ff,#00c3ff,#00c4ff,#0cf,#00c5ff,#00c2ff,#00d3ff,#00d7ff,#00cbff,#00e0ff,#00daff,#00e1ff,#00e1ff 180.5px)"></i>
<i style="left:736px;top:362px;width:19px;height:179px;background:linear-gradient(#00e4ff .5px,#00e7ff,#00ecff,#00e3ff,#00e8ff,#00ebff,#00e8ff,#00e2ff,#00f0ff,#00e8ff,#00f1ff,#00e6ff,#00f7ff,#00ebff,#00edff,#00f5ff,#00f2ff,#00f2ff,#00faff,#00feff,#00fffe,#00faff,#00f8ff,#00fcff,#00fbff,#00fbff,#00fffa,#00f4ff,#00fffb,#00fffc,#00fffa,#00fff6,#00fff4,#00fff8,#00fff1,#00fff3,#00fff6,#00fff0,#0fe,#00ffec,#00ffef,#00ffeb,#00ffeb,#00ffe6,#00ffe0,#0fd,#00ffda,#00ffd9,#00ffda,#00ffd1,#00ffcb,#00ffd0,#00ffcb,#00ffc7,#00ffc6,#00ffbd,#00ffbe,#00ffb3,#00ffb6,#00ffab,#00ffa9,#00ffa8,#00ff9f,#00ff9b,#00ff9a,#00ff92,#00ff93,#00ff8b,#00ff87,#00ff87,#00ff7e,#00ff79,#00ff78,#00ff76,#00ff6f,#00ff6e,#00ff6c,#00ff6c,#00ff69,#00ff65,#00ff61,#00ff5f,#00ff5e,#00ff60,#00ff57,#00ff5a,#00ff57,#00ff54,#00ff4f,#00ff54,#00ff4f,#00ff4c,#00ff47,#00ff46,#0f4,#00ff43,#00ff41,#00ff40,#00ff3c,#00ff38,#00ff38,#00ff35,#00ff36,#00ff31,#00ff31,#00ff30,#00ff2b,#00ff28,#00ff2a,#00ff27,#0f2,#00ff1f,#00ff1e,#00ff1b,#00ff18,#00ff17,#00ff15,#00ff15,#0f1,#00ff0f,#00ff0d,#00ff0b,#00ff09,#00ff07,#00ff07,#00ff03,#00ff02,#02ff00,#04ff00,#07ff00,#0cff00,#10ff00,#1f0,#13ff00,#18ff00,#1bff00,#1eff00,#25ff00,#2dff00,#37ff00,#3fff00,#47ff00,#50ff00,#5aff00,#7aff00,#98ff00,#a2ff00,#a8ff00,#aeff00,#b7ff00,#beff00,#c8ff00,#cfff00,#d8ff00,#dfff00,#fa0,#ff4900,#ff1200,#ff0800,#ff0200,#f00,#ff0100,#ff0200,#f00,#f00,#f00,#ff0200,#f00,#f00,#f00,#ff0100,#ff0100,#f00,#f00,#f00,#f00,#f00,#f00,#ff0100 178.5px)"></i>
<i style="left:755px;top:0px;width:20px;height:181px;background:linear-gradient(#0038ff .5px,#0034ff,#002fff,#1000ff,#0020ff,#0020ff,#0002ff,#0015ff,#001fff,#1a00ff,#002fff,#10f,#000bff,#0017ff,#00f,#000dff,#0017ff,#0a00ff,#0020ff,#002cff,#0c00ff,#03f,#001fff,#0013ff,#0300ff,#1500ff,#02f,#0025ff,#1500ff,#0018ff,#0d00ff,#0004ff,#00f,#0010ff,#000cff,#0021ff,#0100ff,#0900ff,#000bff,#000dff,#001dff,#001fff,#0f00ff,#0c00ff,#0013ff,#000dff,#0009ff,#0600ff,#001cff,#0030ff,#1600ff,#0500ff,#0025ff,#03f,#0400ff,#0a00ff,#000eff,#002aff,#0010ff,#0500ff,#0013ff,#0007ff,#0020ff,#0020ff,#0900ff,#001dff,#0014ff,#0017ff,#0021ff,#0020ff,#0009ff,#000fff,#0020ff,#0004ff,#001dff,#0008ff,#0500ff,#002bff,#0014ff,#001aff,#0021ff,#0600ff,#003dff,#00f,#000aff,#0015ff,#0013ff,#000bff,#0020ff,#0019ff,#002cff,#0010ff,#000aff,#0013ff,#0003ff,#000dff,#00f,#0021ff,#0026ff,#003cff,#0005ff,#0010ff,#0032ff,#001bff,#0035ff,#0016ff,#0015ff,#0010ff,#0019ff,#0001ff,#0047ff,#0008ff,#0021ff,#0002ff,#002aff,#0017ff,#0030ff,#0020ff,#0015ff,#0035ff,#002dff,#0014ff,#000dff,#0020ff,#0f00ff,#0006ff,#002dff,#0015ff,#003cff,#002bff,#0034ff,#002aff,#0025ff,#0400ff,#0017ff,#000fff,#0017ff,#0019ff,#0002ff,#0039ff,#0034ff,#0010ff,#001eff,#0018ff,#001fff,#001cff,#001dff,#0002ff,#0031ff,#0006ff,#0031ff,#0025ff,#002cff,#0023ff,#0032ff,#001eff,#0007ff,#0024ff,#0017ff,#001eff,#001fff,#0030ff,#003cff,#002aff,#0023ff,#0009ff,#002cff,#0040ff,#0032ff,#0023ff,#000dff,#0036ff,#0038ff,#0023ff,#0014ff,#001dff,#0032ff,#0032ff,#0034ff,#0036ff,#0014ff 180.5px)"></i>
<i style="left:755px;top:181px;width:20px;height:181px;background:linear-gradient(#02f .5px,#0048ff,#0025ff,#001dff,#002fff,#0029ff,#0010ff,#004aff,#01f,#001dff,#0029ff,#002cff,#001cff,#0036ff,#0037ff,#002fff,#0030ff,#003bff,#002eff,#03f,#0046ff,#002dff,#0014ff,#0029ff,#0041ff,#0036ff,#003aff,#0021ff,#004bff,#0030ff,#0037ff,#003aff,#003aff,#0020ff,#002fff,#0039ff,#0029ff,#0038ff,#0052ff,#02f,#002eff,#0036ff,#003dff,#0045ff,#002bff,#002fff,#000fff,#003fff,#0037ff,#0048ff,#0041ff,#0042ff,#0035ff,#003bff,#0036ff,#0048ff,#0054ff,#0048ff,#002cff,#0048ff,#003eff,#0047ff,#0053ff,#004cff,#003fff,#003cff,#004cff,#0052ff,#003fff,#0040ff,#003dff,#004bff,#0045ff,#0052ff,#0046ff,#004cff,#0039ff,#004bff,#005aff,#0061ff,#006dff,#0070ff,#0067ff,#0072ff,#0071ff,#006fff,#0086ff,#0087ff,#08f,#0082ff,#00a1ff,#008cff,#00a1ff,#00a8ff,#00abff,#00b8ff,#00b2ff,#00b8ff,#00c0ff,#00beff,#00c4ff,#00cfff,#00d4ff,#00deff,#00e3ff,#00f0ff,#00f5ff,#00fff7,#00fff6,#00ffea,#00ffd6,#00ffd7,#00ffce,#00ffc7,#00ffc4,#00ffca,#00ffc4,#00ffc8,#00ffce,#00ffd0,#00ffd7,#00ffd6,#00ffe0,#00ffe3,#00ffe9,#00ffe8,#00ffed,#00ffe8,#00ffe7,#00ffe8,#0fe,#00fff1,#00ffe7,#00ffde,#00ffe9,#00ffe9,#00ffe3,#00ffef,#00ffe8,#00ffe2,#00fff3,#00ffea,#00fff4,#00fbff,#00fcff,#0ff,#00f6ff,#00f0ff,#00f6ff,#00e8ff,#00deff,#00d3ff,#00d6ff,#00d9ff,#00d1ff,#00d3ff,#0cf,#00c8ff,#00c3ff,#00bcff,#00bdff,#00c0ff,#00c2ff,#00b3ff,#00b6ff,#00b4ff,#00c2ff,#00c3ff,#00c0ff,#00beff,#00c1ff,#00c2ff,#00c5ff,#00c0ff,#00c2ff,#00cbff,#00daff,#00d2ff,#00d8ff,#00dcff,#00e1ff 180.5px)"></i>
<i style="left:755px;top:362px;width:20px;height:179px;background:linear-gradient(#00e5ff .5px,#00e2ff,#00ecff,#0df,#00e5ff,#00e9ff,#00e8ff,#00dfff,#00e9ff,#00edff,#00eaff,#00eaff,#00e1ff,#00ecff,#00f2ff,#00e9ff,#00f0ff,#00f5ff,#00f7ff,#00ecff,#00f8ff,#00f2ff,#00fffa,#00f7ff,#00f5ff,#00f8ff,#00f3ff,#00f6ff,#00f4ff,#00fdff,#00fffb,#00fffe,#00fffb,#00fffe,#00fffd,#00fffa,#00fffd,#00fffc,#00fdff,#00fffb,#00fff1,#00ffe9,#00fff1,#00ffed,#00ffe5,#00ffe2,#00ffe4,#00ffdc,#00ffd3,#00ffdb,#00ffd7,#00ffd4,#00ffd2,#00ffce,#00ffc8,#00ffc2,#00ffbe,#00ffc3,#00ffb8,#00ffaf,#00ffad,#00ffa5,#00ffa6,#00ff9f,#00ff9d,#0f9,#00ff90,#00ff8b,#00ff8c,#00ff8b,#00ff82,#00ff82,#00ff79,#00ff79,#00ff76,#00ff71,#00ff71,#00ff6c,#00ff65,#00ff67,#00ff64,#00ff60,#00ff5c,#00ff5c,#00ff56,#00ff59,#00ff53,#00ff51,#00ff4f,#00ff4b,#00ff4c,#00ff47,#00ff41,#00ff43,#00ff42,#00ff39,#00ff3a,#00ff39,#00ff32,#00ff2f,#00ff2f,#00ff30,#00ff2a,#00ff26,#0f2,#00ff23,#00ff21,#00ff1c,#00ff19,#00ff1a,#00ff19,#00ff16,#00ff14,#00ff0f,#00ff0f,#00ff0c,#00ff0d,#00ff0d,#00ff08,#00ff08,#00ff06,#00ff04,#00ff01,#0f0,#02ff00,#08ff00,#0cff00,#0eff00,#14ff00,#13ff00,#19ff00,#1bff00,#20ff00,#2f0,#2aff00,#31ff00,#3cff00,#45ff00,#51ff00,#58ff00,#63ff00,#81ff00,#9bff00,#a0ff00,#adff00,#b5ff00,#bf0,#c5ff00,#ceff00,#d7ff00,#ff9100,#ff5f00,#ff4300,#ff4500,#ff4100,#ff2900,#ff0d00,#f00,#ff0100,#ff0100,#f00,#f00,#ff0100,#ff0100,#ff0100,#f00,#f00,#f00,#ff0100,#f00,#ff0100,#ff0100,#ff0200,#f00,#f00,#ff0100,#ff0100,#ff0100,#f00 178.5px)"></i>
<i style="left:775px;top:0px;width:19px;height:181px;background:linear-gradient(#000cff .5px,#002aff,#003aff,#3f00ff,#0f00ff,#0031ff,#0500ff,#0200ff,#0700ff,#0005ff,#0017ff,#0023ff,#0020ff,#0035ff,#000eff,#000aff,#001dff,#002fff,#002eff,#0001ff,#01f,#000aff,#0026ff,#0031ff,#0600ff,#000dff,#0024ff,#0a00ff,#0017ff,#0029ff,#0038ff,#0024ff,#0010ff,#1700ff,#000cff,#0015ff,#1500ff,#0027ff,#0006ff,#0400ff,#0026ff,#0600ff,#001fff,#000fff,#000eff,#0f00ff,#0016ff,#0019ff,#000cff,#0016ff,#002fff,#000aff,#00f,#0300ff,#001aff,#0019ff,#01f,#0012ff,#0007ff,#0024ff,#0002ff,#0019ff,#0003ff,#000dff,#000aff,#0800ff,#000bff,#03f,#0012ff,#0023ff,#001cff,#00f,#0015ff,#001eff,#0004ff,#0006ff,#000cff,#0500ff,#001cff,#0027ff,#0031ff,#0800ff,#01f,#0010ff,#002eff,#0010ff,#0013ff,#0100ff,#0018ff,#2100ff,#0600ff,#0027ff,#0010ff,#002cff,#0009ff,#0013ff,#0020ff,#000fff,#000aff,#0025ff,#0036ff,#0020ff,#0200ff,#0018ff,#0041ff,#000aff,#000aff,#001cff,#0023ff,#001bff,#000aff,#10f,#0007ff,#01f,#0038ff,#0025ff,#0021ff,#002cff,#0b00ff,#0019ff,#0019ff,#0012ff,#000bff,#003cff,#003cff,#03f,#0017ff,#0029ff,#001dff,#001aff,#0019ff,#0034ff,#02f,#001fff,#0003ff,#0015ff,#001cff,#002bff,#0035ff,#002aff,#002cff,#001aff,#0019ff,#0014ff,#0058ff,#0018ff,#0019ff,#0014ff,#0045ff,#002fff,#0021ff,#0023ff,#0030ff,#001dff,#0021ff,#0007ff,#0028ff,#003bff,#003aff,#000aff,#003aff,#0016ff,#002cff,#001bff,#0036ff,#0028ff,#0015ff,#003aff,#003dff,#001fff,#002dff,#0025ff,#0029ff,#001fff,#0034ff,#004cff,#0013ff,#0019ff,#0031ff,#0018ff,#002aff 180.5px)"></i>
<i style="left:775px;top:181px;width:19px;height:181px;background:linear-gradient(#002eff .5px,#0016ff,#0027ff,#0030ff,#002aff,#000eff,#0024ff,#001bff,#0012ff,#001cff,#0013ff,#0019ff,#0026ff,#01f,#0013ff,#002fff,#0025ff,#001eff,#004aff,#04f,#02f,#002dff,#0040ff,#0041ff,#0056ff,#003aff,#003bff,#0035ff,#0037ff,#0029ff,#0037ff,#0042ff,#0034ff,#003eff,#003cff,#0037ff,#002dff,#003dff,#0041ff,#003bff,#0032ff,#04f,#03f,#0040ff,#0032ff,#003fff,#0036ff,#0028ff,#02f,#0045ff,#0040ff,#0037ff,#0041ff,#04f,#0042ff,#003eff,#0027ff,#003fff,#0037ff,#003cff,#03f,#0046ff,#0052ff,#0047ff,#0038ff,#0048ff,#03f,#0035ff,#0047ff,#0054ff,#0059ff,#0053ff,#0043ff,#005dff,#004eff,#004bff,#005bff,#004bff,#0058ff,#006bff,#006cff,#006eff,#07f,#006dff,#007bff,#08f,#008cff,#0082ff,#0093ff,#008fff,#0083ff,#009bff,#00a0ff,#00b1ff,#00b2ff,#00b1ff,#00acff,#00b8ff,#00b6ff,#00beff,#00c7ff,#00c5ff,#00d6ff,#00ebff,#00f2ff,#00fcff,#00fffd,#00fdff,#00ffed,#00ffe2,#00ffd8,#00ffdc,#00ffc9,#00ffbf,#00ffca,#00ffc8,#0fc,#00ffcd,#00ffcf,#00ffd1,#00ffd4,#00ffd5,#00ffe3,#00ffeb,#00ffe6,#00ffef,#00fff3,#00ffef,#00fff7,#00fff1,#00fff6,#00fff0,#00ffef,#00ffe2,#00fff6,#00ffed,#00fffb,#00fff4,#00fffa,#00ffef,#00ffe6,#00ffea,#00fff9,#00fff1,#00fff4,#00fff3,#00fff9,#00fffc,#00f5ff,#00faff,#00e6ff,#00e8ff,#00e2ff,#00dfff,#00daff,#00d2ff,#00d4ff,#00cdff,#00d3ff,#00c1ff,#00c2ff,#00c1ff,#00b5ff,#00b4ff,#00b7ff,#00b6ff,#00c5ff,#00c2ff,#00bcff,#00b8ff,#00baff,#0cf,#00bcff,#00c3ff,#00c4ff,#00cbff,#00caff,#00d6ff,#00d0ff,#00dfff,#0df 180.5px)"></i>
<i style="left:775px;top:362px;width:19px;height:179px;background:linear-gradient(#00e7ff .5px,#00e7ff,#00deff,#00e0ff,#00ecff,#00e7ff,#00ecff,#00f5ff,#00ebff,#00ebff,#00efff,#00e7ff,#0ef,#00e9ff,#00f4ff,#00ecff,#00f4ff,#00f6ff,#00f0ff,#00f9ff,#00edff,#00faff,#00feff,#00fbff,#00f7ff,#00fff9,#00fdff,#00faff,#00fffc,#00faff,#00f9ff,#00fffd,#00fff8,#00fcff,#00fffd,#00faff,#0ff,#00fff6,#00fff6,#00fff5,#00fff3,#00fff1,#00fff1,#00ffea,#00ffe6,#00ffeb,#00ffda,#00ffdb,#00ffdc,#00ffd5,#00ffd2,#00ffd4,#0fc,#00ffcd,#00ffc5,#00ffc0,#00ffc0,#00ffc5,#00ffb7,#00ffb2,#00ffb2,#00ffad,#00ffa7,#00ff9d,#00ff9c,#00ff96,#00ff95,#00ff8e,#00ff8b,#00ff81,#00ff82,#00ff80,#00ff74,#0f7,#00ff74,#00ff69,#00ff67,#00ff62,#00ff5c,#00ff59,#00ff57,#00ff56,#00ff56,#00ff56,#0f5,#00ff52,#00ff52,#00ff53,#00ff4d,#00ff4e,#00ff50,#00ff4d,#00ff4e,#00ff4a,#00ff4b,#00ff48,#00ff46,#00ff45,#00ff41,#00ff42,#00ff45,#00ff41,#00ff3d,#00ff3e,#00ff3c,#00ff3b,#00ff38,#00ff39,#00ff39,#00ff36,#00ff32,#00ff2e,#00ff2c,#00ff2a,#00ff25,#00ff21,#00ff1e,#00ff1a,#00ff16,#00ff15,#0f1,#00ff0c,#00ff0a,#00ff06,#00ff01,#02ff00,#14ff00,#25ff00,#3f0,#38ff00,#3cff00,#40ff00,#48ff00,#49ff00,#4fff00,#51ff00,#57ff00,#5cff00,#60ff00,#64ff00,#69ff00,#6cff00,#71ff00,#76ff00,#c8ff00,#d1ff00,#fff700,#ffe800,#fd0,#ffd900,#ffd900,#ffc300,#ffa400,#ff9300,#ff9200,#ff8500,#ff6000,#ff2800,#ff0800,#f00,#ff0100,#ff0200,#ff0100,#ff0100,#f00,#f00,#ff0200,#f00,#f00,#f00,#f00,#f00,#ff0100,#ff0100,#f00,#f00,#ff0200,#f00,#f00 178.5px)"></i>
<i style="left:794px;top:0px;width:20px;height:181px;background:linear-gradient(#0031ff .5px,#002bff,#001dff,#0001ff,#0300ff,#000aff,#01f,#02f,#0018ff,#0018ff,#0007ff,#0010ff,#0004ff,#001aff,#0013ff,#0003ff,#000eff,#0012ff,#0016ff,#0a00ff,#000fff,#000fff,#000eff,#0018ff,#000bff,#001cff,#002cff,#0018ff,#0100ff,#02f,#0017ff,#0019ff,#0010ff,#002cff,#0500ff,#001bff,#0100ff,#0014ff,#0023ff,#0010ff,#0021ff,#0027ff,#000bff,#0017ff,#001eff,#0014ff,#0021ff,#000bff,#0014ff,#03f,#0800ff,#001aff,#0016ff,#0019ff,#0004ff,#1700ff,#000dff,#0d00ff,#001fff,#0200ff,#0007ff,#02f,#000bff,#0023ff,#000cff,#0026ff,#0008ff,#0006ff,#0014ff,#0004ff,#000fff,#0020ff,#0015ff,#01f,#0024ff,#0015ff,#001dff,#0001ff,#001fff,#0014ff,#0023ff,#0024ff,#01f,#001dff,#0500ff,#003eff,#0039ff,#001cff,#2000ff,#0007ff,#03f,#002eff,#0034ff,#0020ff,#02f,#002cff,#0028ff,#000dff,#000eff,#001eff,#0036ff,#0020ff,#001bff,#002dff,#002bff,#0019ff,#0026ff,#002bff,#0026ff,#02f,#0500ff,#0006ff,#0014ff,#002cff,#01f,#001fff,#000aff,#0019ff,#0018ff,#0023ff,#0006ff,#0023ff,#00f,#001fff,#000cff,#0008ff,#0032ff,#0014ff,#0012ff,#0036ff,#002bff,#001aff,#0024ff,#001dff,#001aff,#000bff,#0030ff,#001aff,#01f,#0045ff,#000aff,#002bff,#001eff,#0025ff,#01f,#0014ff,#001eff,#0023ff,#0040ff,#0016ff,#003aff,#0020ff,#0016ff,#0026ff,#0035ff,#002cff,#0045ff,#04f,#002dff,#001dff,#0038ff,#002aff,#0038ff,#000aff,#0035ff,#0017ff,#001cff,#03f,#0031ff,#0039ff,#002eff,#003aff,#0019ff,#001cff,#001dff,#0057ff,#0019ff,#0030ff,#002cff,#0021ff,#02f 180.5px)"></i>
<i style="left:794px;top:181px;width:20px;height:181px;background:linear-gradient(#002dff .5px,#003aff,#0028ff,#002fff,#01f,#0025ff,#0036ff,#0034ff,#04f,#03f,#0042ff,#0024ff,#02f,#03f,#0028ff,#0042ff,#0034ff,#0020ff,#002dff,#002fff,#0021ff,#0043ff,#02f,#001bff,#0028ff,#002fff,#002fff,#0035ff,#003fff,#0035ff,#003cff,#0039ff,#0040ff,#0046ff,#002aff,#004aff,#004eff,#001eff,#02f,#0052ff,#004eff,#0040ff,#0039ff,#0048ff,#003fff,#0040ff,#004eff,#005bff,#003fff,#0047ff,#0029ff,#04f,#005eff,#004cff,#004bff,#0047ff,#0030ff,#0060ff,#0047ff,#0040ff,#04f,#003eff,#0050ff,#0051ff,#0045ff,#0052ff,#0053ff,#0052ff,#003dff,#05f,#004cff,#004eff,#0057ff,#05f,#0056ff,#0050ff,#0049ff,#0056ff,#0068ff,#0059ff,#0067ff,#006cff,#006fff,#007bff,#007fff,#007bff,#008cff,#0085ff,#009bff,#09f,#0092ff,#00a0ff,#0096ff,#00a7ff,#009dff,#00b1ff,#00baff,#0af,#00b7ff,#00c3ff,#00c9ff,#00cbff,#00e0ff,#00e6ff,#00e3ff,#00feff,#00f4ff,#00fffc,#00ffef,#00fff2,#00ffdf,#00ffd4,#00ffc8,#00ffd2,#00ffc6,#00ffc5,#0fc,#00ffd2,#00ffce,#0fc,#00ffd1,#00ffd1,#0fd,#00ffe1,#00ffe7,#00ffed,#00fff8,#00fff3,#00fff2,#00fff2,#00fff8,#00fff3,#0fe,#00ffe9,#00fff4,#00fff1,#00fff4,#0fe,#00fff3,#00ffe7,#00ffec,#00ffea,#00ffef,#00ffef,#00ffe5,#00fff1,#0fe,#00fffb,#00fcff,#00f5ff,#00f3ff,#00dfff,#00f6ff,#00ebff,#00e0ff,#00dcff,#00c9ff,#00caff,#00c2ff,#0cf,#00cdff,#00c3ff,#0cf,#00c5ff,#00c7ff,#00c1ff,#00c4ff,#00c0ff,#00c6ff,#00bdff,#00c2ff,#00caff,#00c8ff,#0bf,#00c9ff,#00d2ff,#00daff,#00d8ff,#00e0ff,#00e4ff,#00daff 180.5px)"></i>
<i style="left:794px;top:362px;width:20px;height:179px;background:linear-gradient(#00e1ff .5px,#00e8ff,#00e2ff,#00e8ff,#00edff,#00e5ff,#00eaff,#00e6ff,#00f1ff,#00f3ff,#00e0ff,#0ef,#00e5ff,#00e7ff,#00f0ff,#00fffd,#0ef,#00f1ff,#00f6ff,#00f6ff,#00f7ff,#00fcff,#00f8ff,#00f3ff,#00f7ff,#00f9ff,#00f7ff,#00f9ff,#00fbff,#0ff,#00faff,#00fffd,#00feff,#00feff,#0ff,#00fff7,#00fffb,#00fffc,#00fffc,#00fff7,#00fffa,#00fff5,#00ffed,#00ffe9,#00ffef,#00ffe6,#00ffdf,#0fd,#00ffdf,#00ffd9,#00ffd8,#00ffd6,#00ffcd,#00ffcb,#00ffc9,#00ffc4,#00ffc0,#00ffbe,#00ffb9,#00ffb4,#00ffb6,#00ffad,#00ffa8,#0fa,#00ff9c,#00ff9a,#00ff95,#00ff91,#00ff8a,#00ff85,#00ff83,#00ff82,#00ff79,#00ff74,#00ff73,#00ff6f,#00ff6e,#00ff6b,#0f6,#00ff65,#00ff67,#00ff64,#00ff5d,#00ff60,#00ff5e,#00ff59,#00ff56,#00ff57,#0f5,#0f5,#00ff53,#00ff52,#00ff4f,#00ff4c,#00ff4c,#00ff4b,#00ff47,#00ff45,#0f4,#00ff40,#00ff40,#00ff3d,#00ff3d,#00ff3b,#00ff3a,#00ff37,#00ff35,#0f3,#00ff2f,#00ff2b,#00ff29,#00ff28,#0f2,#00ff21,#00ff1e,#00ff1a,#00ff16,#00ff13,#00ff10,#00ff0c,#00ff09,#00ff07,#00ff03,#0f0,#20ff00,#3fff00,#41ff00,#48ff00,#4eff00,#54ff00,#56ff00,#5bff00,#5fff00,#63ff00,#6aff00,#70ff00,#73ff00,#7f0,#fff400,#fff200,#fff000,#ffec00,#ffd600,#ffa300,#ff7e00,#ff7200,#ff7200,#ff5700,#ff2300,#ff0400,#f00,#f00,#f00,#f00,#ff0100,#f00,#ff0100,#ff0300,#f00,#f00,#f00,#ff0100,#f00,#f00,#f00,#f00,#f00,#f00,#ff0100,#f00,#f00,#f00,#f00,#f00,#ff0100,#f00,#f00,#f00,#ff0100 178.5px)"></i>
<i style="left:814px;top:0px;width:19px;height:181px;background:linear-gradient(#1a00ff .5px,#0600ff,#0003ff,#0005ff,#1000ff,#0013ff,#000dff,#0500ff,#0015ff,#0032ff,#0400ff,#0008ff,#0018ff,#0003ff,#0021ff,#000cff,#0019ff,#1800ff,#0014ff,#1300ff,#0005ff,#1700ff,#001aff,#10f,#0008ff,#0100ff,#0021ff,#001eff,#0001ff,#0028ff,#2b00ff,#000cff,#0400ff,#000eff,#0018ff,#002bff,#0200ff,#0e00ff,#0005ff,#2600ff,#0e00ff,#002cff,#0021ff,#0016ff,#003dff,#0019ff,#0029ff,#000cff,#0007ff,#0005ff,#01f,#0013ff,#0010ff,#0010ff,#00f,#0600ff,#00f,#000eff,#001cff,#0020ff,#001eff,#0400ff,#0012ff,#0007ff,#001dff,#0100ff,#001cff,#2000ff,#0023ff,#0023ff,#0001ff,#001fff,#0007ff,#0014ff,#000dff,#000eff,#0019ff,#0024ff,#0018ff,#0700ff,#0900ff,#0016ff,#0600ff,#0003ff,#0003ff,#0024ff,#0013ff,#0039ff,#0016ff,#000dff,#0c00ff,#000aff,#0021ff,#001dff,#0024ff,#002aff,#001eff,#0007ff,#000fff,#0016ff,#001aff,#0200ff,#01f,#0300ff,#0026ff,#0026ff,#0029ff,#02f,#0009ff,#0027ff,#001fff,#0300ff,#0017ff,#0042ff,#001aff,#001cff,#0016ff,#002cff,#004eff,#0c00ff,#001fff,#0005ff,#0027ff,#0008ff,#0028ff,#000eff,#0019ff,#0002ff,#0019ff,#0400ff,#0014ff,#0037ff,#1f00ff,#0019ff,#001bff,#0020ff,#0020ff,#0005ff,#0013ff,#000aff,#0035ff,#0010ff,#0021ff,#0036ff,#0021ff,#001aff,#002cff,#0031ff,#001fff,#000bff,#001eff,#0034ff,#001aff,#001bff,#0013ff,#0008ff,#0035ff,#0031ff,#004dff,#002bff,#0034ff,#0026ff,#02f,#001bff,#0037ff,#000dff,#0024ff,#000cff,#0018ff,#0015ff,#001dff,#003eff,#003eff,#000fff,#0010ff,#0029ff,#0021ff,#03f,#003eff,#0019ff,#0029ff 180.5px)"></i>
<i style="left:814px;top:181px;width:19px;height:181px;background:linear-gradient(#0025ff .5px,#0010ff,#002bff,#002aff,#0034ff,#0029ff,#0021ff,#0034ff,#0038ff,#0021ff,#004cff,#0025ff,#0025ff,#0042ff,#003bff,#0025ff,#0013ff,#002fff,#0013ff,#0034ff,#0027ff,#0026ff,#001eff,#0030ff,#002aff,#002bff,#003dff,#002fff,#003eff,#0041ff,#0023ff,#001fff,#0041ff,#0015ff,#0034ff,#0018ff,#0021ff,#003eff,#003eff,#002dff,#003aff,#002eff,#003dff,#0026ff,#0031ff,#0043ff,#001cff,#0034ff,#003bff,#002bff,#004bff,#0037ff,#003dff,#003cff,#002dff,#0030ff,#0036ff,#0034ff,#0030ff,#0043ff,#003bff,#003fff,#002eff,#0042ff,#0034ff,#0043ff,#003fff,#003fff,#0049ff,#0048ff,#04f,#003fff,#0028ff,#003fff,#0042ff,#003bff,#04f,#004eff,#005bff,#0052ff,#0061ff,#0080ff,#0083ff,#006eff,#0075ff,#0090ff,#0070ff,#008cff,#008dff,#08f,#008aff,#008fff,#009cff,#00a9ff,#00b6ff,#00a0ff,#00b1ff,#00adff,#00bfff,#00acff,#00c1ff,#00ceff,#00c9ff,#00e2ff,#00e0ff,#00e9ff,#00fff7,#00f7ff,#00fff6,#00ffed,#00ffef,#00ffe5,#00ffc3,#00ffd1,#00ffc8,#00ffcb,#0fc,#00ffcf,#0fc,#00ffd1,#00ffc4,#00ffdc,#00ffda,#00ffda,#00ffe2,#00ffe8,#00fff3,#00fff5,#00fff6,#00ffec,#00fff0,#00fffd,#00fff2,#00fff0,#00fffd,#00ffea,#00ffe6,#00fff9,#00fff8,#00ffec,#00fff7,#00fff5,#00fff6,#00fff6,#00fff0,#00fff0,#00fffd,#00fbff,#00f9ff,#00edff,#00f3ff,#00f4ff,#00fdff,#00f3ff,#0ef,#00e4ff,#00d5ff,#00c4ff,#0cf,#00c4ff,#00c0ff,#00bcff,#00c5ff,#00bfff,#00baff,#00cbff,#00c0ff,#00c5ff,#00c3ff,#00bdff,#00bdff,#00c2ff,#00c4ff,#00d2ff,#0cf,#00d7ff,#00d4ff,#00d1ff,#00d9ff,#00e3ff,#00daff 180.5px)"></i>
<i style="left:814px;top:362px;width:19px;height:179px;background:linear-gradient(#00deff .5px,#00dfff,#0df,#00e1ff,#00e5ff,#00e7ff,#00e0ff,#00ebff,#00e3ff,#00deff,#00e8ff,#00e6ff,#00eaff,#00edff,#00f1ff,#00ecff,#00f1ff,#00e7ff,#00fbff,#00f4ff,#00f8ff,#00faff,#00f8ff,#00f0ff,#0ef,#00f4ff,#00f5ff,#00f9ff,#00f6ff,#0ff,#00fcff,#0ff,#00fff9,#00fff6,#00fdff,#00fdff,#00fffa,#00fffd,#00fff1,#00fffe,#00fff3,#00fff9,#00fff1,#00fff0,#00fff0,#00ffe7,#00ffe5,#00ffe3,#00ffe1,#00ffe3,#00ffd5,#00ffd7,#00ffd5,#00ffd2,#00ffca,#00ffcb,#00ffc4,#00ffc8,#00ffbd,#0fb,#00ffb7,#00ffae,#00ffaf,#00ffa4,#00ffa4,#00ff9f,#0f9,#00ff98,#00ff90,#00ff8d,#0f8,#00ff85,#00ff85,#00ff87,#00ff82,#00ff82,#00ff83,#00ff80,#00ff82,#00ff7e,#00ff7e,#00ff7b,#00ff79,#00ff73,#00ff72,#00ff6c,#00ff70,#00ff6c,#00ff6a,#00ff65,#00ff64,#00ff63,#00ff5e,#00ff5f,#00ff5d,#00ff59,#00ff56,#00ff52,#00ff51,#00ff50,#00ff4e,#00ff4b,#00ff4a,#00ff43,#0f4,#00ff40,#00ff3e,#00ff3c,#00ff38,#00ff36,#0f3,#00ff2f,#00ff29,#00ff29,#00ff24,#00ff20,#00ff1b,#00ff18,#00ff10,#0f1,#00ff08,#00ff07,#0f0,#34ff00,#47ff00,#4aff00,#4eff00,#52ff00,#56ff00,#56ff00,#5fff00,#61ff00,#64ff00,#68ff00,#6aff00,#6eff00,#71ff00,#72ff00,#76ff00,#79ff00,#7fff00,#92ff00,#fffd00,#fffc00,#fff300,#ffcf00,#ff9d00,#f80,#ff8600,#ff7400,#ff4e00,#ff3000,#ff1c00,#ff0800,#ff0100,#ff0200,#f00,#f00,#f00,#ff0100,#ff0100,#f00,#ff0100,#f00,#f00,#ff0200,#ff0100,#ff0200,#ff0100,#ff0100,#f00,#ff0100,#ff0400,#f00,#ff0100,#ff0100,#f00,#f00,#f00 178.5px)"></i>
<i style="left:833px;top:0px;width:19px;height:181px;background:linear-gradient(#0014ff .5px,#03f,#0c00ff,#0004ff,#001bff,#0016ff,#0014ff,#002aff,#0001ff,#0021ff,#0023ff,#0027ff,#0008ff,#003eff,#0021ff,#0600ff,#000eff,#003bff,#0023ff,#0015ff,#0017ff,#1500ff,#0019ff,#1400ff,#0048ff,#0300ff,#0021ff,#0042ff,#001bff,#0018ff,#0061ff,#0005ff,#0031ff,#0012ff,#0037ff,#0039ff,#000cff,#002dff,#001eff,#0029ff,#002bff,#001dff,#003dff,#001dff,#0013ff,#0035ff,#0008ff,#0020ff,#0007ff,#0500ff,#0003ff,#001aff,#0012ff,#0004ff,#0026ff,#0004ff,#0012ff,#000fff,#0015ff,#0006ff,#0023ff,#002bff,#0036ff,#0043ff,#0019ff,#003eff,#0023ff,#0013ff,#003fff,#0016ff,#0018ff,#0023ff,#0023ff,#4a00ff,#0014ff,#002dff,#0025ff,#000fff,#0023ff,#0016ff,#0023ff,#003bff,#1b00ff,#0020ff,#001eff,#0045ff,#0032ff,#0026ff,#0020ff,#001dff,#0013ff,#0019ff,#002cff,#0023ff,#0038ff,#0003ff,#002bff,#000cff,#0008ff,#000bff,#0010ff,#002cff,#001cff,#0028ff,#002eff,#0030ff,#002eff,#0035ff,#001aff,#002eff,#0023ff,#01f,#002aff,#0d00ff,#0034ff,#001cff,#001dff,#002aff,#002bff,#0037ff,#0013ff,#001bff,#000aff,#0031ff,#0013ff,#001fff,#002aff,#003aff,#0017ff,#02f,#003eff,#0039ff,#001bff,#003aff,#02f,#0012ff,#0008ff,#001cff,#000fff,#0030ff,#003bff,#002dff,#002cff,#002bff,#002dff,#0028ff,#0020ff,#0046ff,#0046ff,#001aff,#002dff,#04f,#000cff,#002eff,#003cff,#0030ff,#001aff,#001eff,#001bff,#002eff,#004aff,#003fff,#02f,#0031ff,#0038ff,#002dff,#0016ff,#0010ff,#0029ff,#003aff,#002dff,#0037ff,#0045ff,#0031ff,#002cff,#002dff,#000fff,#0046ff,#0047ff,#001fff,#0010ff 180.5px)"></i>
<i style="left:833px;top:181px;width:19px;height:181px;background:linear-gradient(#0025ff .5px,#0030ff,#0046ff,#0048ff,#002cff,#0027ff,#0027ff,#004aff,#0040ff,#003eff,#0047ff,#0029ff,#0050ff,#0043ff,#002fff,#0034ff,#0036ff,#0024ff,#0028ff,#0046ff,#03f,#003aff,#0021ff,#0034ff,#003dff,#0036ff,#0056ff,#0051ff,#003fff,#0068ff,#03f,#0052ff,#0032ff,#0041ff,#0042ff,#004fff,#003bff,#0018ff,#004bff,#004fff,#0036ff,#002dff,#0039ff,#0048ff,#0041ff,#0058ff,#0057ff,#003fff,#003aff,#004aff,#0046ff,#0041ff,#0053ff,#0067ff,#004cff,#05f,#005aff,#0049ff,#0058ff,#0049ff,#05f,#0049ff,#0043ff,#0054ff,#005bff,#0063ff,#0057ff,#0069ff,#0041ff,#004aff,#0057ff,#0054ff,#005aff,#004aff,#0048ff,#004fff,#0048ff,#0065ff,#006dff,#005dff,#0060ff,#0073ff,#0078ff,#0073ff,#0074ff,#0083ff,#0086ff,#0085ff,#007fff,#0096ff,#0081ff,#08f,#009dff,#00a4ff,#009cff,#009bff,#009aff,#009fff,#009aff,#009cff,#00afff,#00b2ff,#00cfff,#00e6ff,#00e8ff,#00efff,#00fffa,#00fffc,#00fff6,#00fff5,#00ffe8,#00ffe9,#00ffd5,#00ffc6,#00ffc0,#00ffc4,#00ffbc,#00ffbf,#00ffbd,#00ffb2,#00ffbf,#00ffc5,#00ffc7,#00ffc3,#00ffcd,#00ffde,#00ffde,#00ffe2,#00ffea,#00ffe8,#00ffe3,#00fff5,#0fe,#0fe,#00ffe4,#00ffe5,#00ffec,#00fff2,#00ffe4,#00ffe4,#00ffef,#0fe,#00ffed,#00ffea,#00fff3,#00ffec,#00fff3,#00fff6,#00f5ff,#00fdff,#0ff,#00f5ff,#00f0ff,#00e5ff,#0ef,#00deff,#00d8ff,#00d3ff,#00cbff,#00d6ff,#00cbff,#00cfff,#00d3ff,#00c2ff,#00cbff,#00c4ff,#00c6ff,#0cf,#00d4ff,#00ceff,#00caff,#00c8ff,#00d9ff,#00d5ff,#00c9ff,#00cfff,#00d8ff,#00e1ff,#00e4ff,#00e4ff,#00deff 180.5px)"></i>
<i style="left:833px;top:362px;width:19px;height:179px;background:linear-gradient(#00e3ff .5px,#00e3ff,#00e9ff,#00edff,#00e1ff,#00e8ff,#00e3ff,#00e8ff,#00f1ff,#00ebff,#00e4ff,#00f0ff,#00f0ff,#00f5ff,#00f1ff,#00eaff,#00f9ff,#00f7ff,#00f3ff,#00f5ff,#00f8ff,#00f6ff,#00fdff,#00fbff,#00fbff,#00fbff,#00fbff,#00fdff,#00fffe,#00f8ff,#00fffe,#00fffd,#00fff9,#00fffa,#00fff6,#00fff9,#00fff7,#00fff3,#00fff3,#00fff5,#00fff3,#00ffed,#00ffe9,#00ffe5,#00ffe7,#00ffe2,#00ffe4,#00ffe6,#00ffde,#00ffd4,#00ffd1,#00ffd6,#00ffce,#00ffc7,#00ffc7,#00ffc4,#00ffc0,#00ffbd,#00ffbf,#00ffb7,#00ffb0,#00ffb0,#00ffab,#00ffa7,#00ffa8,#00ff9b,#00ff98,#00ff93,#00ff8b,#00ff90,#00ff8a,#00ff89,#0f8,#0f8,#00ff89,#00ff90,#00ff87,#00ff8b,#00ff89,#00ff89,#00ff8a,#0f8,#00ff7c,#00ff7f,#00ff7a,#00ff79,#0f7,#00ff73,#00ff70,#00ff69,#00ff68,#0f6,#00ff62,#00ff60,#00ff5e,#00ff56,#0f5,#0f5,#00ff52,#00ff4c,#00ff48,#00ff47,#0f4,#00ff40,#00ff3f,#00ff3a,#00ff37,#00ff36,#00ff2e,#00ff29,#00ff25,#00ff20,#00ff1c,#00ff1a,#0f1,#0f1,#00ff0c,#00ff06,#00ff01,#2fff00,#53ff00,#56ff00,#5aff00,#5fff00,#61ff00,#62ff00,#69ff00,#69ff00,#6fff00,#70ff00,#73ff00,#79ff00,#7cff00,#82ff00,#81ff00,#84ff00,#8f0,#8eff00,#92ff00,#94ff00,#95ff00,#9bff00,#9dff00,#a0ff00,#a5ff00,#a7ff00,#acff00,#d9ff00,#ecff00,#ffe700,#ffa200,#ff6e00,#ff5400,#ff4100,#ff2b00,#ff0d00,#f00,#f00,#ff0200,#f00,#f00,#f00,#f00,#f00,#f00,#ff0100,#f00,#ff0200,#f00,#f00,#f00,#f00,#f00,#f00,#f00,#f00,#f00,#f00,#f00 178.5px)"></i>
<i style="left:852px;top:0px;width:20px;height:181px;background:linear-gradient(#002eff .5px,#0003ff,#0012ff,#1000ff,#0004ff,#000fff,#0a00ff,#0023ff,#00f,#0007ff,#0017ff,#000fff,#000dff,#0030ff,#002aff,#00f,#00f,#0004ff,#0017ff,#0600ff,#000eff,#0052ff,#2900ff,#00f,#0007ff,#0019ff,#1800ff,#0200ff,#0018ff,#0002ff,#0024ff,#0200ff,#0016ff,#0003ff,#0017ff,#0021ff,#0014ff,#0005ff,#001bff,#001bff,#0029ff,#1700ff,#0021ff,#000bff,#0015ff,#000eff,#002dff,#0e00ff,#0700ff,#0018ff,#0013ff,#000eff,#0007ff,#000eff,#2700ff,#0400ff,#0900ff,#0d00ff,#0019ff,#0020ff,#0500ff,#000eff,#002cff,#1200ff,#0017ff,#000eff,#000aff,#000fff,#0012ff,#0001ff,#0019ff,#001bff,#0006ff,#0030ff,#0024ff,#0007ff,#0043ff,#001cff,#00f,#003dff,#0004ff,#000dff,#0003ff,#0600ff,#0100ff,#0025ff,#0800ff,#0014ff,#002fff,#0800ff,#0700ff,#000cff,#0700ff,#0006ff,#0004ff,#0004ff,#0026ff,#0023ff,#0003ff,#0013ff,#0020ff,#0026ff,#0014ff,#000eff,#1800ff,#0026ff,#002bff,#0017ff,#0013ff,#001dff,#002dff,#0025ff,#0010ff,#0034ff,#0016ff,#001cff,#0005ff,#2d00ff,#0005ff,#01f,#001cff,#0013ff,#000eff,#001eff,#0037ff,#0700ff,#0015ff,#01f,#0006ff,#0200ff,#000fff,#0014ff,#0300ff,#0007ff,#0009ff,#0004ff,#003cff,#0018ff,#0015ff,#0010ff,#0012ff,#002fff,#0002ff,#000aff,#0016ff,#0010ff,#001aff,#0016ff,#0017ff,#000aff,#004fff,#001fff,#2c00ff,#000dff,#000dff,#0032ff,#02f,#002bff,#001bff,#0029ff,#000fff,#0005ff,#0038ff,#0010ff,#0049ff,#0024ff,#001cff,#003eff,#001bff,#04f,#0028ff,#02f,#0027ff,#0021ff,#001bff,#0034ff,#003aff,#0006ff,#002fff,#003aff,#0016ff 180.5px)"></i>
<i style="left:852px;top:181px;width:20px;height:181px;background:linear-gradient(#0028ff .5px,#002eff,#0043ff,#0029ff,#0027ff,#001fff,#04f,#0019ff,#002fff,#0034ff,#0021ff,#0029ff,#0029ff,#003dff,#002eff,#0023ff,#0032ff,#003dff,#0025ff,#0006ff,#0034ff,#001dff,#004dff,#02f,#001cff,#0028ff,#0038ff,#0037ff,#001dff,#0020ff,#003bff,#001bff,#0048ff,#003cff,#0032ff,#0019ff,#002fff,#0043ff,#0056ff,#0040ff,#0047ff,#0056ff,#0046ff,#03f,#0032ff,#0039ff,#0046ff,#003dff,#005cff,#0050ff,#004eff,#003dff,#003cff,#0023ff,#002dff,#0036ff,#0037ff,#002eff,#003dff,#003cff,#0032ff,#0040ff,#04f,#004cff,#0047ff,#004bff,#0032ff,#003cff,#0048ff,#0043ff,#003eff,#04f,#0043ff,#003dff,#0056ff,#0059ff,#004cff,#005eff,#0050ff,#005bff,#005fff,#0061ff,#0057ff,#006dff,#0068ff,#007bff,#007aff,#006fff,#07f,#006bff,#0076ff,#0083ff,#0080ff,#0075ff,#0089ff,#0090ff,#007dff,#007dff,#0083ff,#008dff,#0093ff,#0097ff,#00c1ff,#00cdff,#00c9ff,#00d5ff,#00dfff,#0ef,#00f5ff,#00fbff,#00fff5,#00ffec,#00ffde,#00ffe1,#00ffd0,#00ffc4,#00ffc0,#00ffb6,#00ffc4,#00ffc5,#00ffb7,#00ffbd,#00ffb9,#00ffc7,#00ffd4,#00ffd4,#00ffe0,#00ffe1,#00ffe3,#0fe,#00ffe6,#00ffec,#00ffeb,#00ffe9,#00fff5,#00ffe9,#00ffed,#0fe,#00ffe8,#00ffec,#00fff6,#00fff6,#00fff3,#00fff1,#00ffe9,#00fff1,#00fff3,#00fff3,#0ff,#00ebff,#00e5ff,#00e9ff,#00d9ff,#00d0ff,#00d5ff,#00d1ff,#00cfff,#00caff,#00cdff,#00d0ff,#00c6ff,#00c5ff,#00c7ff,#00bfff,#0cf,#0cf,#00c2ff,#00c6ff,#00c0ff,#00caff,#00caff,#00c3ff,#00c0ff,#00caff,#00c2ff,#00c8ff,#00c6ff,#00c9ff,#00d3ff,#00d2ff,#00d8ff 180.5px)"></i>
<i style="left:852px;top:362px;width:20px;height:179px;background:linear-gradient(#00dcff .5px,#0df,#00e2ff,#00e4ff,#00daff,#00d9ff,#00daff,#00e6ff,#00e7ff,#00e9ff,#00e5ff,#00e9ff,#00e9ff,#00ecff,#00e7ff,#00f1ff,#00edff,#00e6ff,#00ecff,#00e9ff,#00f9ff,#00f2ff,#00f2ff,#00f4ff,#00f3ff,#00f5ff,#00f6ff,#00faff,#00fcff,#00fffd,#00fffd,#00fdff,#00fdff,#00fffe,#00feff,#0ff,#00fffc,#00fff9,#00fff5,#00fff7,#00ffef,#00fff1,#00ffed,#0fe,#00ffeb,#00ffeb,#00ffe2,#00ffe6,#00ffe1,#0fd,#00ffd8,#00ffd5,#00ffd3,#00ffce,#00ffcf,#00ffc9,#00ffca,#00ffc8,#00ffc0,#00ffbe,#00ffba,#0fb,#00ffb2,#0fa,#00ffa4,#00ffa6,#00ff9f,#00ff9e,#00ff9a,#00ff92,#00ff8c,#00ff91,#00ff92,#00ff90,#00ff92,#00ff97,#00ff9a,#00ff9b,#00ff9c,#00ff9a,#00ff98,#00ff95,#00ff97,#00ff90,#00ff8b,#0f8,#00ff84,#00ff7e,#00ff7e,#0f7,#00ff74,#00ff70,#00ff71,#00ff6a,#0f6,#00ff65,#00ff61,#00ff5a,#00ff5a,#00ff54,#00ff54,#00ff4f,#00ff4b,#00ff45,#00ff45,#00ff3d,#00ff3d,#00ff39,#0f3,#00ff31,#00ff2b,#00ff26,#0f2,#00ff1b,#00ff1a,#00ff15,#00ff10,#00ff0d,#00ff08,#02ff00,#3cff00,#48ff00,#4bff00,#4cff00,#51ff00,#53ff00,#58ff00,#58ff00,#5dff00,#5eff00,#62ff00,#67ff00,#68ff00,#6bff00,#6fff00,#70ff00,#75ff00,#7f0,#f0ff00,#f2ff00,#f5ff00,#ffd800,#ff9c00,#ff7c00,#ff7600,#ff7100,#ff6c00,#ff6700,#ff6200,#ff5200,#ff3900,#ff2900,#ff2600,#ff1e00,#ff0e00,#ff0100,#f00,#ff0100,#ff0200,#ff0100,#f00,#ff0100,#f00,#ff0100,#ff0100,#f00,#ff0200,#ff0100,#ff0100,#f00,#f00,#ff0100,#ff0100,#ff0100,#ff0100,#ff0100,#f00,#ff0200,#ff0100 178.5px)"></i>
<i style="left:872px;top:0px;width:19px;height:181px;background:linear-gradient(#01f .5px,#0014ff,#0f00ff,#001cff,#0018ff,#000dff,#03f,#000bff,#1a00ff,#0021ff,#0015ff,#0005ff,#001bff,#0026ff,#0007ff,#002fff,#1a00ff,#0019ff,#0027ff,#0009ff,#00f,#0015ff,#0026ff,#0036ff,#000eff,#0004ff,#0015ff,#0b00ff,#0700ff,#003cff,#0024ff,#0035ff,#001aff,#0017ff,#000fff,#0002ff,#0200ff,#002aff,#0024ff,#0c00ff,#1500ff,#1e00ff,#0002ff,#0014ff,#0004ff,#01f,#0020ff,#000dff,#0028ff,#0020ff,#0025ff,#0038ff,#000fff,#0018ff,#001eff,#002bff,#0002ff,#000bff,#0018ff,#000aff,#0041ff,#000fff,#0012ff,#0020ff,#000cff,#0024ff,#0019ff,#0023ff,#0c00ff,#0018ff,#000dff,#0003ff,#001eff,#0025ff,#0014ff,#30f,#0d00ff,#0010ff,#0019ff,#0006ff,#0015ff,#002bff,#000bff,#0034ff,#0016ff,#0400ff,#0034ff,#0006ff,#0021ff,#0013ff,#001bff,#0010ff,#001bff,#0002ff,#00f,#0023ff,#0014ff,#0030ff,#0024ff,#0100ff,#0014ff,#0500ff,#0016ff,#02f,#001eff,#0006ff,#001aff,#0049ff,#03f,#0028ff,#0800ff,#0019ff,#0039ff,#001eff,#002dff,#0024ff,#0017ff,#0007ff,#001cff,#0012ff,#002aff,#003fff,#002aff,#0015ff,#0035ff,#00f,#002bff,#001bff,#001cff,#001dff,#002bff,#001eff,#004aff,#0037ff,#0026ff,#002cff,#0025ff,#0028ff,#001dff,#0042ff,#002bff,#0029ff,#002eff,#001eff,#0037ff,#003dff,#04f,#0018ff,#001bff,#0019ff,#003bff,#002aff,#0012ff,#001eff,#003dff,#002aff,#0030ff,#0031ff,#002aff,#0025ff,#003cff,#0029ff,#0013ff,#000fff,#002fff,#002aff,#02f,#03f,#0015ff,#0028ff,#0017ff,#0016ff,#001eff,#001aff,#0032ff,#002cff,#0039ff,#0024ff,#002bff,#0034ff,#003eff 180.5px)"></i>
<i style="left:872px;top:181px;width:19px;height:181px;background:linear-gradient(#0045ff .5px,#0020ff,#002dff,#0027ff,#002bff,#0050ff,#0024ff,#0024ff,#0029ff,#0048ff,#001bff,#0021ff,#0026ff,#0050ff,#0028ff,#002cff,#0036ff,#0020ff,#0019ff,#003bff,#0036ff,#0029ff,#0036ff,#0036ff,#002dff,#002aff,#0039ff,#0050ff,#0004ff,#003fff,#003fff,#003bff,#0042ff,#0038ff,#0031ff,#004dff,#004eff,#0052ff,#0042ff,#004fff,#0028ff,#002eff,#003fff,#0014ff,#003dff,#0030ff,#0056ff,#05f,#004fff,#0039ff,#003dff,#04f,#0043ff,#003fff,#005aff,#003fff,#0037ff,#003dff,#004bff,#0041ff,#004aff,#03f,#005aff,#0046ff,#03f,#05f,#0046ff,#0043ff,#004dff,#04f,#0052ff,#005dff,#04f,#05f,#004bff,#0045ff,#0052ff,#0041ff,#005aff,#06f,#0060ff,#007fff,#07f,#0082ff,#008eff,#008bff,#08f,#008bff,#007aff,#008bff,#0090ff,#00a1ff,#009aff,#0af,#009aff,#00baff,#00afff,#00bdff,#00b7ff,#00cfff,#0bf,#00ceff,#00daff,#00d7ff,#00e4ff,#00e4ff,#00faff,#00faff,#00fff5,#00ffeb,#00ffdc,#00ffd8,#00ffd1,#00ffc3,#00ffc3,#00ffc6,#00ffb9,#00ffbe,#00ffc5,#00ffc3,#00ffb9,#00ffba,#00ffc4,#00ffbd,#00ffc6,#00ffd1,#0fd,#00ffce,#00fff5,#00ffd7,#00ffe5,#00ffe5,#00ffe4,#00ffe1,#0fd,#00ffe4,#00ffe3,#00ffd6,#0fe,#00ffe4,#00ffe1,#00ffe1,#00ffe8,#00fff1,#00fff8,#00fffc,#00fdff,#00f6ff,#00f0ff,#00ebff,#0df,#00daff,#00e7ff,#00d5ff,#00d9ff,#00d8ff,#00e0ff,#00dcff,#00dfff,#00daff,#00c6ff,#00ceff,#00c5ff,#00c7ff,#00cbff,#00c2ff,#00bcff,#00c5ff,#00c9ff,#00c3ff,#00c1ff,#00c7ff,#0cf,#00d5ff,#00ceff,#00dfff,#00dbff,#00d5ff,#00d2ff,#00dbff,#00dbff 180.5px)"></i>
<i style="left:872px;top:362px;width:19px;height:179px;background:linear-gradient(#00dfff .5px,#00e0ff,#00e0ff,#00deff,#00e1ff,#00e4ff,#00e7ff,#00ecff,#00f0ff,#00ecff,#00ecff,#00deff,#00e3ff,#00e2ff,#00e9ff,#00e7ff,#00e9ff,#00f1ff,#00f2ff,#00f8ff,#00faff,#00f4ff,#00f7ff,#00fbff,#00f8ff,#00f6ff,#00fffd,#00fffe,#00f9ff,#00f6ff,#00fffb,#00fffb,#00fffc,#00fff6,#00fff8,#00fffb,#00ffef,#00fff5,#0fe,#00fff3,#0fe,#00ffef,#00ffea,#00ffe8,#00ffe5,#00ffe9,#00ffe0,#00ffd6,#00ffda,#00ffd9,#00ffd7,#00ffda,#00ffd3,#00ffd2,#00ffca,#00ffc9,#00ffc5,#00ffc3,#00ffbc,#0fb,#00ffbc,#00ffb5,#00ffb2,#00ffad,#00ffab,#0fa,#00ff9d,#00ffa0,#00ff98,#00ff92,#00ff96,#00ff90,#00ff91,#00ff91,#00ff98,#00ff9b,#00ffa0,#00ffa2,#00ffa3,#00ffa3,#00ff9f,#00ff9d,#0f9,#00ff9a,#00ff94,#00ff92,#00ff8d,#00ff8b,#00ff85,#00ff84,#00ff7f,#00ff7c,#00ff79,#00ff75,#00ff71,#00ff6f,#00ff6c,#0f6,#00ff63,#00ff62,#00ff5e,#00ff5c,#00ff57,#00ff56,#00ff52,#00ff4f,#00ff4b,#00ff47,#00ff43,#00ff40,#00ff3a,#00ff38,#0f3,#00ff2e,#00ff2a,#00ff27,#00ff25,#00ff1e,#00ff19,#00ff15,#0f1,#00ff0d,#00ff07,#00ff03,#05ff00,#47ff00,#4cff00,#4eff00,#51ff00,#57ff00,#5cff00,#61ff00,#63ff00,#67ff00,#6aff00,#6fff00,#73ff00,#7f0,#7cff00,#7fff00,#83ff00,#ffe300,#ffad00,#ff9300,#ff9000,#ff7e00,#ff5a00,#ff3800,#ff2a00,#ff1900,#ff0600,#f00,#f00,#f00,#ff0100,#f00,#f00,#f00,#f00,#f00,#f00,#f00,#f00,#ff0100,#f00,#f00,#f00,#ff0100,#f00,#ff0200,#f00,#ff0100,#ff0200,#f00,#f00,#f00,#f00,#ff0100,#f00 178.5px)"></i>
<i style="left:891px;top:0px;width:19px;height:181px;background:linear-gradient(#000bff .5px,#000dff,#000dff,#1300ff,#000fff,#0007ff,#0026ff,#002aff,#0013ff,#0019ff,#0015ff,#0002ff,#0004ff,#0005ff,#001bff,#001bff,#0013ff,#0013ff,#0004ff,#0028ff,#0300ff,#0019ff,#0027ff,#0b00ff,#002cff,#0024ff,#001dff,#0031ff,#0600ff,#0017ff,#03f,#003cff,#0500ff,#0016ff,#0041ff,#0014ff,#0020ff,#0014ff,#0007ff,#002cff,#0800ff,#0a00ff,#001aff,#000fff,#2d00ff,#0023ff,#0013ff,#0400ff,#1200ff,#0012ff,#03f,#03f,#0025ff,#001aff,#0005ff,#002bff,#001bff,#0010ff,#0030ff,#002aff,#000dff,#0019ff,#0019ff,#000dff,#0600ff,#000cff,#001cff,#0032ff,#0200ff,#0036ff,#002fff,#0021ff,#001dff,#0030ff,#0400ff,#001aff,#0021ff,#001fff,#0007ff,#0015ff,#0025ff,#0030ff,#01f,#003aff,#0027ff,#001fff,#00f,#000aff,#0014ff,#02f,#0002ff,#000eff,#0037ff,#0019ff,#000dff,#0013ff,#000fff,#003cff,#0b00ff,#0009ff,#001aff,#0018ff,#003eff,#001cff,#001bff,#000dff,#002cff,#0003ff,#001dff,#0012ff,#002cff,#002bff,#0010ff,#0027ff,#0012ff,#002cff,#0006ff,#002aff,#0016ff,#001eff,#0021ff,#0023ff,#0042ff,#0037ff,#003cff,#000fff,#000cff,#0038ff,#0019ff,#001fff,#0037ff,#0019ff,#002fff,#4700ff,#0020ff,#0015ff,#0007ff,#0031ff,#01f,#003aff,#0042ff,#003dff,#000fff,#0034ff,#001fff,#0049ff,#0002ff,#002aff,#0027ff,#001aff,#0020ff,#001aff,#0028ff,#002eff,#0037ff,#002fff,#002fff,#003bff,#004bff,#003bff,#0026ff,#002fff,#003cff,#03f,#003fff,#001dff,#0035ff,#0042ff,#0030ff,#0023ff,#000fff,#000eff,#0025ff,#0027ff,#001bff,#0039ff,#003eff,#0037ff,#04f,#003bff,#002dff 180.5px)"></i>
<i style="left:891px;top:181px;width:19px;height:181px;background:linear-gradient(#003fff .5px,#0023ff,#001eff,#004aff,#0031ff,#0042ff,#0026ff,#004dff,#0026ff,#0037ff,#002aff,#0026ff,#002fff,#0053ff,#0034ff,#0034ff,#0029ff,#0030ff,#0037ff,#002fff,#0027ff,#0026ff,#0027ff,#003aff,#002cff,#004dff,#0030ff,#004bff,#002cff,#0029ff,#0023ff,#03f,#003eff,#0041ff,#0046ff,#0046ff,#04f,#03f,#0043ff,#0048ff,#0041ff,#0b00ff,#0029ff,#0036ff,#0043ff,#0032ff,#002dff,#0050ff,#002eff,#005eff,#004cff,#0043ff,#005eff,#04f,#0048ff,#0041ff,#0039ff,#004dff,#0045ff,#0045ff,#0032ff,#0052ff,#0040ff,#04f,#05f,#004aff,#005bff,#05f,#0060ff,#0052ff,#05f,#004cff,#0041ff,#005dff,#0054ff,#003bff,#0040ff,#004bff,#005bff,#0056ff,#0076ff,#006fff,#0085ff,#0080ff,#0074ff,#007fff,#0091ff,#0095ff,#0093ff,#0091ff,#009fff,#00a6ff,#00adff,#00a6ff,#00b2ff,#00c6ff,#00cbff,#0cf,#00caff,#00ceff,#00deff,#00d9ff,#00eaff,#00e0ff,#00f8ff,#0ff,#0ff,#00fff8,#00fffa,#00ffea,#00ffe4,#00ffce,#00ffcb,#00ffc7,#00ffb6,#00ffb6,#00ffbd,#00ffc1,#00ffc1,#00ffb4,#00ffbc,#00ffbc,#00ffc1,#00ffc0,#00ffce,#00ffc6,#00ffd8,#00ffde,#00ffe0,#00ffe2,#00ffe7,#00ffe0,#00ffdb,#00ffdb,#00ffe1,#00ffe4,#00ffe1,#00ffe2,#00ffe5,#00ffe4,#00ffe6,#00ffe9,#00ffdc,#00ffeb,#00ffe5,#00ffe8,#00fff9,#00ecff,#00f2ff,#00e3ff,#00e3ff,#00ebff,#00dcff,#00d9ff,#00deff,#00dbff,#00daff,#00daff,#00e4ff,#00deff,#00d6ff,#00cdff,#0cf,#00c1ff,#00cdff,#00c5ff,#00daff,#00d2ff,#0cf,#00c0ff,#00c6ff,#00cdff,#00d1ff,#00d6ff,#00d1ff,#00daff,#00e1ff,#00dfff,#00deff,#00dbff,#00e7ff 180.5px)"></i>
<i style="left:891px;top:362px;width:19px;height:179px;background:linear-gradient(#00d8ff .5px,#00e6ff,#00e3ff,#00ebff,#00e7ff,#00deff,#00e7ff,#00e6ff,#00e7ff,#00e8ff,#00efff,#00ebff,#00f0ff,#00f9ff,#00e2ff,#0ef,#00f6ff,#00f5ff,#00eaff,#00f1ff,#00fbff,#00f6ff,#00f6ff,#00f9ff,#00fcff,#00fbff,#00fbff,#0ff,#00fffd,#00fffc,#00fff6,#00fff7,#00fff6,#00fff2,#00fff6,#00fff8,#0fe,#00fff4,#00ffed,#00ffeb,#00ffea,#00ffe8,#00fff0,#00ffe8,#00ffe4,#00ffe3,#00ffe0,#00ffdb,#00ffda,#00ffd8,#00ffd8,#00ffd4,#00ffd3,#00ffcd,#00ffca,#00ffca,#00ffc3,#00ffc3,#00ffc2,#00ffc1,#00ffb5,#00ffb8,#00ffad,#00ffac,#00ffa8,#00ffa5,#00ffa4,#00ff9e,#00ffa1,#00ff96,#00ff8e,#00ff95,#00ff93,#00ff9a,#00ff94,#00ff9c,#00ff9b,#00ff9f,#00ffa2,#00ff9d,#00ff9b,#00ff93,#00ff93,#00ff90,#00ff8c,#00ff8b,#00ff82,#00ff80,#00ff81,#00ff79,#0f7,#0f7,#00ff70,#00ff6c,#00ff6a,#00ff68,#00ff63,#00ff61,#00ff5c,#00ff59,#00ff52,#00ff53,#00ff4f,#00ff49,#00ff48,#00ff46,#00ff42,#00ff38,#00ff38,#00ff2d,#00ff29,#00ff21,#00ff1c,#00ff1a,#00ff12,#00ff09,#00ff04,#0f0,#23ff00,#3f0,#37ff00,#3eff00,#40ff00,#47ff00,#4aff00,#4fff00,#53ff00,#5aff00,#5cff00,#60ff00,#6f0,#67ff00,#6eff00,#74ff00,#7f0,#7bff00,#7bff00,#81ff00,#e8ff00,#e8ff00,#e9ff00,#edff00,#efff00,#efff00,#ff8200,#ff7e00,#ff7e00,#ff7a00,#ff6e00,#f40,#f10,#f00,#f00,#f00,#ff0100,#f00,#f00,#f00,#f00,#ff0200,#f00,#f00,#f00,#f00,#f00,#f00,#f00,#f00,#f00,#f00,#f00,#f00,#f00,#f00,#f00,#f00,#f00,#f00,#f00 178.5px)"></i>
<i style="left:910px;top:0px;width:20px;height:181px;background:linear-gradient(#0020ff .5px,#1200ff,#002aff,#000dff,#0019ff,#0700ff,#0005ff,#0029ff,#002fff,#000eff,#000aff,#1800ff,#0016ff,#0031ff,#001fff,#0031ff,#000bff,#002dff,#0028ff,#1500ff,#001eff,#0021ff,#001aff,#01f,#0018ff,#000cff,#000fff,#002bff,#002dff,#2d00ff,#000dff,#01f,#0001ff,#0006ff,#001fff,#0030ff,#0013ff,#001fff,#0900ff,#0025ff,#000aff,#0007ff,#0015ff,#000eff,#001dff,#001eff,#0004ff,#0002ff,#001dff,#0005ff,#0030ff,#002eff,#0031ff,#0007ff,#0034ff,#000aff,#001aff,#0018ff,#001dff,#002bff,#01f,#0039ff,#002aff,#0400ff,#0300ff,#0045ff,#0003ff,#0024ff,#0025ff,#000cff,#0008ff,#001aff,#0018ff,#000bff,#0002ff,#0009ff,#0015ff,#03f,#0017ff,#01f,#1900ff,#0032ff,#001dff,#02f,#002fff,#000fff,#0008ff,#001bff,#0012ff,#0900ff,#0015ff,#0006ff,#0002ff,#002aff,#0029ff,#0024ff,#001aff,#0031ff,#0019ff,#0023ff,#0026ff,#0007ff,#0032ff,#0028ff,#0020ff,#0024ff,#0008ff,#0025ff,#0025ff,#0030ff,#0018ff,#001aff,#002dff,#003bff,#02f,#0010ff,#0025ff,#001dff,#0007ff,#0027ff,#001eff,#000bff,#03f,#001dff,#002dff,#0020ff,#0018ff,#0014ff,#0031ff,#0027ff,#03f,#0600ff,#0024ff,#0023ff,#001bff,#0400ff,#0013ff,#001cff,#0045ff,#0029ff,#0035ff,#0046ff,#0034ff,#0030ff,#002eff,#0004ff,#0020ff,#0034ff,#0039ff,#000eff,#0024ff,#0028ff,#003cff,#002bff,#0030ff,#001bff,#0030ff,#003fff,#0042ff,#0029ff,#003fff,#0026ff,#004eff,#002dff,#0045ff,#0014ff,#002aff,#004dff,#003eff,#0016ff,#0012ff,#0040ff,#0027ff,#03f,#003aff,#0019ff,#0049ff,#0038ff,#003fff,#0041ff,#0058ff 180.5px)"></i>
<i style="left:910px;top:181px;width:20px;height:181px;background:linear-gradient(#0037ff .5px,#003fff,#0025ff,#003bff,#000cff,#0049ff,#0045ff,#002bff,#0043ff,#0037ff,#0031ff,#0015ff,#0036ff,#0056ff,#0035ff,#003dff,#0024ff,#0020ff,#0024ff,#0043ff,#0048ff,#004aff,#002eff,#0048ff,#002eff,#0043ff,#003eff,#04f,#0040ff,#0047ff,#0036ff,#002bff,#05f,#0025ff,#0029ff,#0041ff,#0032ff,#003bff,#004dff,#003eff,#003eff,#0037ff,#0053ff,#003eff,#003fff,#003bff,#0052ff,#004fff,#004aff,#004eff,#0051ff,#004aff,#003bff,#0038ff,#0041ff,#0054ff,#0061ff,#005bff,#004aff,#0041ff,#0059ff,#03f,#0049ff,#0054ff,#004aff,#004fff,#006cff,#003eff,#0054ff,#0047ff,#0054ff,#003fff,#003aff,#0053ff,#005bff,#0047ff,#005eff,#0050ff,#0057ff,#0052ff,#006aff,#007cff,#0083ff,#007cff,#007fff,#008cff,#008bff,#0093ff,#08f,#008cff,#008fff,#00b1ff,#00acff,#00baff,#00c6ff,#00bcff,#00cdff,#00d2ff,#00d7ff,#00dcff,#00e3ff,#00e7ff,#00fbff,#00e9ff,#00fffd,#00faff,#00faff,#00fff0,#00ffe9,#00ffd5,#00ffd8,#00ffcd,#00ffc6,#00ffba,#00ffb5,#00ffb7,#00ffb5,#00ffbd,#00ffc0,#00ffbd,#0fb,#00ffc6,#0fb,#0fc,#00ffca,#00ffd1,#00ffe1,#00ffe3,#00ffe3,#00ffea,#00ffe1,#00ffdc,#00ffdb,#00ffe3,#00ffe3,#00ffe0,#0fd,#00ffd9,#0fd,#00ffe0,#00ffec,#00ffe0,#00ffe7,#00ffe7,#00ffe0,#00ffe5,#00fff2,#00f3ff,#00eaff,#00edff,#00e9ff,#00e0ff,#00e5ff,#0df,#0df,#00e0ff,#00d3ff,#00e5ff,#00e3ff,#00e4ff,#00d2ff,#00d3ff,#00c5ff,#00c4ff,#00cfff,#00c6ff,#00c9ff,#00ceff,#00c8ff,#00cbff,#00c7ff,#00cbff,#00d4ff,#00dbff,#00d7ff,#0df,#00deff,#00e3ff,#0ef,#00deff,#00e6ff 180.5px)"></i>
<i style="left:910px;top:362px;width:20px;height:179px;background:linear-gradient(#00e6ff .5px,#00e9ff,#00e8ff,#00f1ff,#00e7ff,#00f1ff,#00e6ff,#00f0ff,#00f3ff,#00e9ff,#00e9ff,#00f1ff,#00f2ff,#0ef,#0ef,#00ebff,#00fcff,#00f1ff,#00f1ff,#00fffe,#00f4ff,#00fcff,#00fbff,#00f6ff,#00fcff,#00fff9,#00fffc,#00fffe,#0ff,#00fff9,#00fffc,#00fff6,#00fff2,#00fff6,#00ffef,#00ffef,#00fff1,#0fe,#00ffe8,#00ffe5,#00ffeb,#00ffe5,#00ffe8,#00ffe8,#00ffe5,#0fd,#00ffe4,#00ffda,#00ffd9,#00ffd5,#00ffd7,#00ffd0,#00ffd0,#0fc,#00ffca,#0fc,#00ffca,#00ffc2,#00ffc1,#00ffc2,#00ffbf,#0fb,#00ffb5,#00ffb2,#00ffae,#00ffa4,#0fa,#00ff9f,#00ffa0,#00ff9e,#00ff97,#00ff97,#0f9,#00ffa1,#00ffa7,#00ffa5,#00ffab,#00ffb1,#00ffb4,#00ffb1,#00ffaf,#00ffa8,#00ffa3,#00ffa4,#00ff9a,#00ff98,#00ff92,#00ff8d,#00ff8a,#00ff89,#00ff80,#00ff7e,#00ff79,#00ff71,#00ff6d,#00ff69,#00ff65,#00ff61,#00ff5c,#00ff58,#00ff51,#00ff50,#00ff4c,#00ff46,#00ff40,#00ff3d,#00ff34,#00ff2f,#00ff28,#00ff26,#00ff1d,#00ff1b,#00ff13,#00ff0e,#00ff06,#0f0,#13ff00,#3bff00,#4f0,#4f0,#48ff00,#4aff00,#4aff00,#4fff00,#52ff00,#56ff00,#56ff00,#5cff00,#5eff00,#63ff00,#67ff00,#67ff00,#69ff00,#6eff00,#72ff00,#74ff00,#79ff00,#fffc00,#fffe00,#ffe800,#ffbe00,#ffa600,#ffa300,#ff8600,#ff4c00,#ff3000,#ff2f00,#ff2f00,#ff2e00,#ff2c00,#ff2a00,#ff1f00,#ff0800,#f00,#f00,#f00,#f00,#ff0100,#f00,#f00,#f00,#f00,#f00,#f00,#f00,#f00,#f00,#f00,#f00,#f00,#f00,#f00,#f00,#f00,#f00,#f00,#ff0200,#f00,#f00 178.5px)"></i>
<i style="left:930px;top:0px;width:19px;height:181px;background:linear-gradient(#000bff .5px,#000bff,#0400ff,#0018ff,#0013ff,#000cff,#0012ff,#000fff,#001dff,#000cff,#0005ff,#0020ff,#0017ff,#000bff,#0035ff,#001bff,#001cff,#001aff,#0003ff,#01f,#001aff,#000dff,#2e00ff,#000aff,#000dff,#0001ff,#10f,#0018ff,#0025ff,#002aff,#002aff,#002bff,#001aff,#000bff,#0019ff,#003aff,#0002ff,#002bff,#001cff,#0012ff,#000dff,#0006ff,#0010ff,#0028ff,#1400ff,#0009ff,#002aff,#0013ff,#0023ff,#001eff,#0034ff,#000aff,#0013ff,#0020ff,#0013ff,#0032ff,#0200ff,#0007ff,#01f,#0002ff,#002eff,#0700ff,#0039ff,#0900ff,#0019ff,#000dff,#00f,#0029ff,#000aff,#003bff,#0009ff,#0006ff,#1600ff,#0006ff,#000fff,#0024ff,#002dff,#0023ff,#03f,#002cff,#003aff,#0002ff,#001dff,#001eff,#0019ff,#001eff,#002fff,#0200ff,#0005ff,#0030ff,#001fff,#0023ff,#001dff,#0014ff,#0025ff,#0030ff,#000aff,#0014ff,#0036ff,#0027ff,#000aff,#0027ff,#0037ff,#0017ff,#0014ff,#001fff,#000dff,#000bff,#0500ff,#0027ff,#001cff,#000cff,#0026ff,#001dff,#0014ff,#001eff,#0002ff,#001dff,#0300ff,#00f,#003dff,#0012ff,#0029ff,#0800ff,#0035ff,#002fff,#001cff,#002eff,#0035ff,#0016ff,#00f,#000cff,#0005ff,#001fff,#0005ff,#0046ff,#0019ff,#03f,#0026ff,#0024ff,#005aff,#0024ff,#0014ff,#004dff,#0013ff,#002eff,#000fff,#0026ff,#0030ff,#0046ff,#0032ff,#0016ff,#0029ff,#0015ff,#0014ff,#0005ff,#0037ff,#001eff,#0025ff,#0027ff,#001cff,#0046ff,#0040ff,#002aff,#0039ff,#001aff,#0031ff,#0018ff,#002dff,#0026ff,#003aff,#0023ff,#0035ff,#0035ff,#03f,#0031ff,#0038ff,#0030ff,#0043ff,#003eff,#001cff 180.5px)"></i>
<i style="left:930px;top:181px;width:19px;height:181px;background:linear-gradient(#02f .5px,#000bff,#002fff,#002fff,#0032ff,#002cff,#0038ff,#004eff,#002fff,#0013ff,#002dff,#002bff,#002cff,#0041ff,#0049ff,#0034ff,#0026ff,#0030ff,#0024ff,#0028ff,#0037ff,#001dff,#0052ff,#0036ff,#0037ff,#0037ff,#04f,#0046ff,#0040ff,#0037ff,#0045ff,#0037ff,#0010ff,#03f,#0059ff,#004fff,#005dff,#002bff,#004cff,#0035ff,#0028ff,#004bff,#004cff,#0039ff,#003dff,#04f,#003bff,#003cff,#0042ff,#003bff,#05f,#004eff,#004fff,#004cff,#004cff,#0029ff,#0039ff,#0054ff,#003aff,#003aff,#0054ff,#0047ff,#005cff,#0039ff,#003eff,#0059ff,#0048ff,#003cff,#005cff,#0039ff,#003fff,#005cff,#0051ff,#06f,#0039ff,#004cff,#003cff,#0058ff,#005aff,#005fff,#0094ff,#007dff,#007eff,#007fff,#0079ff,#00a1ff,#08f,#0085ff,#0082ff,#00a6ff,#00a3ff,#009aff,#009cff,#00aeff,#00afff,#00baff,#00adff,#00c6ff,#00d0ff,#00c2ff,#00c7ff,#00d5ff,#00e1ff,#00e4ff,#00f0ff,#00fdff,#00fff6,#00fff2,#00fff8,#0fe,#00ffcf,#00ffd5,#00ffcf,#00ffcb,#00ffc8,#00ffc0,#00ffb9,#00ffbd,#00ffc5,#00ffc4,#00ffbe,#00ffc3,#00ffbf,#00ffc3,#00ffc3,#0fc,#00ffd0,#00ffd9,#00ffd4,#00ffe5,#00ffd7,#00ffe0,#00ffdc,#00ffe0,#00ffd6,#0fd,#00ffe4,#00ffe9,#00ffec,#00ffd3,#00ffda,#00ffde,#00ffda,#00ffd6,#00ffe2,#00ffe8,#00fff5,#00fff3,#00fffd,#00f2ff,#00f4ff,#00edff,#00f8ff,#00f2ff,#00edff,#00ebff,#00e8ff,#00daff,#00dbff,#00d5ff,#00d3ff,#00ceff,#00c9ff,#00c6ff,#00c7ff,#00c7ff,#00c1ff,#00baff,#00cbff,#00c8ff,#00c3ff,#0cf,#00d5ff,#00dcff,#00d4ff,#00d0ff,#00eaff,#00e4ff,#00e2ff,#00e6ff,#00ebff 180.5px)"></i>
<i style="left:930px;top:362px;width:19px;height:179px;background:linear-gradient(#00e3ff .5px,#00e4ff,#00e7ff,#00e8ff,#00e9ff,#00ebff,#00e9ff,#0ef,#00efff,#00e7ff,#00ecff,#00eaff,#00e9ff,#00edff,#00f4ff,#00f1ff,#00fcff,#00f2ff,#00f1ff,#00f4ff,#0ef,#00efff,#00f8ff,#00f6ff,#0ff,#00f5ff,#00fffa,#00fdff,#00fffb,#00fff5,#00fff9,#00fff2,#00fffb,#00fff2,#00fff3,#00fff1,#00fff2,#00ffea,#00ffe9,#00ffed,#00ffea,#00ffe8,#00ffe6,#00ffe4,#00ffe6,#00ffe8,#00ffe6,#00ffdb,#00ffdc,#00ffd8,#00ffde,#00ffd2,#00ffd0,#00ffd2,#00ffc7,#00ffc8,#00ffc9,#00ffcb,#00ffc5,#00ffc1,#00ffc1,#00ffbc,#00ffb9,#00ffb6,#00ffaf,#00ffa9,#00ffa9,#00ffa7,#00ff9e,#00ff9b,#00ff9d,#00ff9b,#00ffa0,#00ffa2,#00ffa7,#00ffa4,#00ffad,#00ffb2,#00ffb4,#00ffb4,#00ffb1,#00ffac,#0fa,#00ffa3,#00ffa0,#00ff9d,#00ff9b,#00ff98,#00ff94,#00ff8f,#00ff8a,#0f8,#00ff82,#00ff80,#00ff7d,#00ff78,#0f7,#00ff70,#00ff6f,#00ff68,#00ff65,#00ff65,#00ff62,#00ff5e,#00ff5c,#0f5,#00ff52,#00ff4c,#00ff4a,#00ff47,#00ff41,#00ff3a,#00ff37,#00ff2e,#00ff29,#00ff20,#00ff1a,#00ff13,#00ff0c,#00ff07,#02ff00,#1dff00,#32ff00,#39ff00,#3bff00,#3eff00,#48ff00,#4bff00,#4eff00,#52ff00,#59ff00,#5bff00,#5eff00,#65ff00,#6bff00,#6bff00,#71ff00,#75ff00,#7bff00,#7fff00,#81ff00,#85ff00,#8bff00,#8fff00,#93ff00,#ceff00,#ffdf00,#ff9a00,#ff7500,#ff6100,#ff3f00,#ff2700,#ff1400,#ff0500,#f00,#f00,#f00,#f00,#ff0200,#f00,#f00,#f00,#f00,#f00,#f00,#f00,#f00,#f00,#f00,#f00,#f00,#f00,#f00,#f00,#f00,#f00,#f00,#f00,#f00 178.5px)"></i>
<i style="left:949px;top:0px;width:20px;height:181px;background:linear-gradient(#0014ff .5px,#0800ff,#1000ff,#0010ff,#0007ff,#002aff,#000aff,#0100ff,#5100ff,#0005ff,#000aff,#001cff,#000eff,#0002ff,#0016ff,#0027ff,#001eff,#001eff,#02f,#0018ff,#0d00ff,#0016ff,#001bff,#2c00ff,#002bff,#000bff,#0c00ff,#000cff,#01f,#0021ff,#001aff,#0018ff,#0600ff,#0017ff,#000cff,#1400ff,#000cff,#0005ff,#002fff,#0012ff,#0016ff,#0300ff,#0009ff,#0002ff,#0019ff,#0002ff,#0900ff,#0017ff,#0024ff,#0021ff,#0023ff,#001cff,#0f00ff,#0005ff,#0b00ff,#0006ff,#0400ff,#001aff,#0015ff,#001cff,#0100ff,#000eff,#0009ff,#001bff,#0028ff,#0029ff,#0700ff,#0037ff,#0010ff,#000fff,#0019ff,#0008ff,#002eff,#0016ff,#001bff,#0028ff,#000aff,#002eff,#0026ff,#0500ff,#0019ff,#001aff,#0001ff,#0012ff,#002bff,#0020ff,#0700ff,#0008ff,#0018ff,#0013ff,#000eff,#002fff,#0009ff,#0028ff,#000dff,#0013ff,#0016ff,#0027ff,#0300ff,#0014ff,#0500ff,#0023ff,#0003ff,#003eff,#001bff,#0032ff,#0013ff,#001fff,#000eff,#0018ff,#0012ff,#001bff,#1600ff,#0700ff,#0016ff,#0004ff,#0020ff,#02f,#0008ff,#0035ff,#1000ff,#003dff,#0039ff,#0012ff,#0030ff,#000fff,#0030ff,#000eff,#000bff,#001dff,#0030ff,#000fff,#0024ff,#0d00ff,#0027ff,#0200ff,#0019ff,#003cff,#1700ff,#0017ff,#002fff,#0400ff,#004dff,#002fff,#0016ff,#0013ff,#002eff,#003cff,#0012ff,#0015ff,#0013ff,#0016ff,#000dff,#002eff,#0037ff,#002dff,#0028ff,#0014ff,#0013ff,#0017ff,#002dff,#0027ff,#002bff,#02f,#0031ff,#0010ff,#0010ff,#002eff,#002fff,#0031ff,#0015ff,#0038ff,#003cff,#001fff,#002bff,#001cff,#0028ff,#002cff,#001fff,#0026ff,#0027ff 180.5px)"></i>
<i style="left:949px;top:181px;width:20px;height:181px;background:linear-gradient(#002dff .5px,#03f,#002aff,#0020ff,#03f,#002dff,#0031ff,#0042ff,#0035ff,#0018ff,#03f,#0025ff,#0020ff,#001fff,#02f,#0035ff,#0045ff,#0030ff,#0026ff,#0020ff,#002bff,#004fff,#0031ff,#0039ff,#0023ff,#0019ff,#003bff,#0031ff,#0016ff,#003bff,#04f,#0041ff,#0032ff,#002aff,#004eff,#0036ff,#04f,#0039ff,#0043ff,#0040ff,#0023ff,#003cff,#0029ff,#03f,#0032ff,#0045ff,#0043ff,#003aff,#002dff,#0034ff,#003dff,#004eff,#0030ff,#0048ff,#004cff,#0046ff,#0045ff,#0041ff,#002bff,#004bff,#005dff,#0038ff,#005aff,#0052ff,#0038ff,#0043ff,#004fff,#003cff,#0026ff,#0052ff,#0047ff,#0038ff,#0052ff,#003dff,#003aff,#0050ff,#003fff,#0058ff,#0052ff,#0050ff,#0048ff,#0059ff,#0078ff,#006cff,#0068ff,#0087ff,#0082ff,#007fff,#0084ff,#008cff,#008eff,#0090ff,#0097ff,#008eff,#00a3ff,#0097ff,#09f,#00a1ff,#00a8ff,#00b0ff,#00b6ff,#00cfff,#00c8ff,#00e9ff,#00e3ff,#00e6ff,#00fffe,#00f4ff,#00fffc,#00ffe4,#00ffe6,#00ffd7,#00ffda,#00ffe4,#00ffe1,#00ffcb,#00ffc0,#00ffd7,#0fc,#00ffcf,#00ffcd,#00ffcb,#00ffd2,#00ffca,#00ffc9,#00ffda,#00ffd6,#00ffd7,#00ffd3,#00ffd9,#00ffd9,#00ffec,#00ffe7,#00ffe3,#00ffe6,#00ffe3,#00ffda,#00fff4,#00ffed,#00ffdb,#00fff1,#00ffe8,#00fff2,#00ffe4,#00ffdc,#00ffe0,#00ffe6,#00fffb,#00f6ff,#00f9ff,#00f9ff,#00eaff,#0ef,#00f8ff,#00f9ff,#0ef,#00e1ff,#00cfff,#00d0ff,#00d0ff,#00c1ff,#00c5ff,#00c0ff,#00b6ff,#0bf,#00bdff,#00beff,#00c7ff,#00c3ff,#00bfff,#00c2ff,#00c1ff,#00c7ff,#00cdff,#00d8ff,#00daff,#00dbff,#00e0ff,#00e9ff,#00e1ff,#00e1ff 180.5px)"></i>
<i style="left:949px;top:362px;width:20px;height:179px;background:linear-gradient(#00deff .5px,#00e3ff,#00edff,#00edff,#00e6ff,#00ebff,#00ecff,#00e6ff,#00ecff,#00e8ff,#00eaff,#00eaff,#00e0ff,#0ef,#00e6ff,#00f3ff,#00f6ff,#00edff,#00f6ff,#00f1ff,#00efff,#00f2ff,#00f9ff,#00f8ff,#00f9ff,#00fdff,#00fff8,#00feff,#00fcff,#00fffe,#00fff2,#00fff8,#00fffa,#00fff7,#00fff5,#00ffeb,#00fff0,#00fff6,#00fff9,#00ffe9,#00fff0,#0fe,#00ffe0,#00ffe1,#00ffeb,#00ffdc,#00ffe5,#00ffdc,#00ffe2,#00ffe1,#00ffdf,#00ffd6,#00ffd4,#00ffcd,#00ffd0,#00ffc7,#0fc,#00ffc6,#00ffcb,#00ffc8,#00ffbe,#00ffbe,#00ffbc,#00ffb6,#00ffb7,#00ffad,#00ffae,#0fa,#00ffac,#00ffa7,#00ffa3,#00ffa2,#00ffa3,#00ffa8,#00ffab,#00ffad,#00ffb2,#00ffb5,#00ffb2,#00ffb0,#00ffb0,#00ffb0,#00ffac,#00ffa3,#00ffa3,#00ff9f,#00ff9a,#0f9,#00ff94,#00ff8e,#00ff8f,#00ff89,#00ff83,#00ff7f,#00ff7f,#00ff7b,#0f7,#00ff76,#00ff73,#00ff6c,#00ff67,#00ff65,#00ff63,#00ff5d,#00ff5b,#00ff57,#00ff54,#00ff52,#00ff49,#00ff47,#00ff42,#00ff3d,#00ff37,#00ff30,#00ff29,#00ff24,#00ff21,#00ff1b,#00ff13,#00ff0b,#00ff05,#02ff00,#19ff00,#2bff00,#36ff00,#3aff00,#3fff00,#43ff00,#4aff00,#4eff00,#53ff00,#58ff00,#5dff00,#5eff00,#67ff00,#6dff00,#6eff00,#73ff00,#79ff00,#7fff00,#84ff00,#8f0,#8bff00,#90ff00,#98ff00,#fffd00,#ffdc00,#ff9d00,#ff7c00,#ff6300,#ff2b00,#ff0500,#ff0100,#f00,#f00,#ff0100,#f00,#f00,#f00,#ff0200,#f00,#f00,#ff0100,#f00,#f00,#f00,#ff0100,#f00,#f00,#f00,#f00,#f00,#f00,#f00,#ff0200,#f00,#f00,#f00,#f00 178.5px)"></i>
<i style="left:969px;top:0px;width:19px;height:181px;background:linear-gradient(#0013ff .5px,#001fff,#0032ff,#0005ff,#0200ff,#1e00ff,#0032ff,#001aff,#0032ff,#0001ff,#0005ff,#0100ff,#002aff,#000dff,#0002ff,#002aff,#0100ff,#0023ff,#0028ff,#002eff,#01f,#0005ff,#0017ff,#0016ff,#0029ff,#000bff,#0034ff,#0029ff,#0026ff,#0005ff,#002eff,#0019ff,#0031ff,#1f00ff,#002cff,#000fff,#0013ff,#04f,#0400ff,#0030ff,#0030ff,#003aff,#0f00ff,#0036ff,#1800ff,#0043ff,#0700ff,#0008ff,#0024ff,#000dff,#0012ff,#0004ff,#002bff,#002aff,#0019ff,#0006ff,#002bff,#0021ff,#0005ff,#0023ff,#0016ff,#0003ff,#001bff,#002cff,#00f,#003cff,#004eff,#002eff,#01f,#0027ff,#0012ff,#0025ff,#0017ff,#002dff,#0024ff,#0013ff,#0e00ff,#0014ff,#002aff,#0045ff,#0017ff,#001eff,#0029ff,#000aff,#0005ff,#0026ff,#002aff,#0048ff,#001fff,#001aff,#0020ff,#003eff,#002aff,#0037ff,#0031ff,#0031ff,#0017ff,#000aff,#000bff,#002bff,#0023ff,#0028ff,#0017ff,#002dff,#001aff,#002eff,#0028ff,#0017ff,#0021ff,#0025ff,#000dff,#0039ff,#001fff,#003bff,#002dff,#02f,#003eff,#0023ff,#000aff,#002fff,#002fff,#003eff,#0023ff,#0038ff,#0031ff,#003aff,#0054ff,#002eff,#0027ff,#02f,#01f,#0013ff,#0009ff,#002eff,#0020ff,#003bff,#02f,#002dff,#002dff,#0032ff,#0016ff,#003aff,#0017ff,#0008ff,#004cff,#0027ff,#04f,#002eff,#03f,#0024ff,#3000ff,#03f,#0034ff,#0026ff,#0021ff,#0034ff,#0035ff,#002bff,#003fff,#0037ff,#0046ff,#004dff,#1000ff,#003bff,#0028ff,#002eff,#0036ff,#005aff,#003cff,#0046ff,#0017ff,#0031ff,#002dff,#003fff,#0037ff,#002aff,#001cff,#0032ff,#0032ff,#0c00ff,#0021ff 180.5px)"></i>
<i style="left:969px;top:181px;width:19px;height:181px;background:linear-gradient(#001aff .5px,#03f,#0042ff,#0035ff,#0042ff,#002dff,#004cff,#0030ff,#002eff,#003bff,#0031ff,#0025ff,#0024ff,#0039ff,#0053ff,#0048ff,#003eff,#0042ff,#003fff,#003aff,#003dff,#0700ff,#005cff,#04f,#04f,#0035ff,#0035ff,#002bff,#003fff,#003dff,#0043ff,#0050ff,#004eff,#002aff,#05f,#004aff,#0051ff,#004aff,#0036ff,#0037ff,#004bff,#0058ff,#004eff,#0036ff,#0056ff,#003aff,#0049ff,#004cff,#0059ff,#0034ff,#004eff,#0067ff,#004dff,#004fff,#0021ff,#0056ff,#005aff,#0048ff,#0047ff,#003dff,#0049ff,#004aff,#0058ff,#0039ff,#0056ff,#004cff,#0053ff,#004aff,#0052ff,#005dff,#0039ff,#0053ff,#0051ff,#004bff,#005aff,#05f,#0050ff,#006cff,#0065ff,#006fff,#0071ff,#006fff,#0072ff,#006fff,#006eff,#0080ff,#008aff,#08f,#008eff,#0089ff,#0089ff,#0096ff,#09f,#0093ff,#0097ff,#009dff,#0090ff,#0096ff,#0af,#00abff,#00adff,#00c3ff,#00c4ff,#00d3ff,#00d9ff,#00f2ff,#00fdff,#00fff9,#00fff0,#00ffe2,#00ffe3,#00ffcf,#00ffcb,#00ffd5,#00ffd0,#00ffc1,#00ffc7,#0fc,#00ffc8,#00ffc6,#00ffc6,#00ffb7,#00ffc1,#00ffc3,#00ffbe,#00ffbf,#00ffc9,#00ffc6,#00ffcb,#00ffda,#00ffe0,#00ffd9,#00ffdf,#00ffe8,#00ffe2,#00ffea,#00fff3,#00ffe9,#00ffe7,#00ffe4,#00ffea,#00ffe1,#00ffed,#00ffeb,#00ffe6,#00ffea,#00fff3,#00fff5,#00fffc,#00feff,#00fff4,#00feff,#00f4ff,#00f5ff,#00e4ff,#00e5ff,#00e2ff,#00d3ff,#0df,#00cbff,#0cf,#00c2ff,#0bf,#00b6ff,#00bcff,#00c1ff,#00bfff,#00c3ff,#00c2ff,#00c9ff,#00c7ff,#00cfff,#00cbff,#00cbff,#00dcff,#00d8ff,#00e3ff,#00eaff,#00e9ff,#00e7ff,#00efff 180.5px)"></i>
<i style="left:969px;top:362px;width:19px;height:179px;background:linear-gradient(#00f3ff .5px,#00e6ff,#00ebff,#00f7ff,#00e9ff,#00e4ff,#00e3ff,#00f1ff,#00ebff,#00f1ff,#00f5ff,#00f6ff,#00f1ff,#00edff,#00f4ff,#00f5ff,#00f5ff,#00f9ff,#00fcff,#00feff,#00f7ff,#00fffc,#00fff8,#00faff,#00f8ff,#00fffa,#00fffd,#00fff6,#00fff7,#00feff,#00fff9,#00fff1,#00fff2,#00fff6,#00ffec,#00fff2,#0fe,#0fe,#0fe,#00ffe9,#00ffe7,#00ffe0,#00fff2,#00ffe7,#00ffe5,#00ffdf,#00ffde,#00ffd7,#00ffd3,#00ffdc,#00ffd3,#00ffd2,#00ffd4,#00ffcd,#00ffd0,#00ffca,#00ffcf,#00ffc5,#00ffc6,#00ffc3,#00ffc2,#00ffc0,#00ffba,#00ffbf,#0fb,#00ffb1,#00ffb5,#00ffa8,#00ffab,#00ffa8,#00ffa3,#00ffa2,#00ffa9,#00ffa9,#00ffa9,#00ffab,#00ffae,#00ffb2,#00ffb1,#00ffb0,#00ffb0,#00ffae,#00ffa8,#00ffa3,#00ffa0,#00ff9c,#00ff9b,#00ff94,#00ff93,#00ff8b,#00ff8b,#00ff85,#00ff81,#00ff80,#00ff7a,#00ff78,#00ff76,#00ff70,#00ff6e,#00ff6a,#00ff67,#00ff64,#00ff61,#00ff5d,#00ff59,#00ff54,#00ff53,#00ff4f,#00ff4a,#00ff48,#00ff40,#00ff3e,#00ff35,#00ff2e,#00ff2a,#00ff23,#00ff21,#00ff18,#00ff12,#00ff10,#00ff0a,#00ff03,#0cff00,#2dff00,#36ff00,#3bff00,#40ff00,#46ff00,#48ff00,#51ff00,#56ff00,#5bff00,#5fff00,#64ff00,#68ff00,#6dff00,#74ff00,#7aff00,#80ff00,#81ff00,#87ff00,#8bff00,#90ff00,#96ff00,#fffb00,#fffb00,#ffdf00,#ffa100,#ff6d00,#ff3e00,#f10,#f00,#f00,#f00,#f00,#f00,#f00,#f00,#f00,#f00,#f00,#f00,#f00,#f00,#f00,#f00,#f00,#f00,#f00,#ff0100,#f00,#f00,#f00,#f00,#f00,#f00,#f00,#ff0200,#f00 178.5px)"></i>
<i style="left:988px;top:0px;width:19px;height:181px;background:linear-gradient(#0013ff .5px,#1500ff,#0003ff,#0006ff,#0027ff,#000cff,#0004ff,#01f,#001aff,#0300ff,#0010ff,#1900ff,#000dff,#0026ff,#000fff,#0016ff,#001aff,#0006ff,#2a00ff,#0020ff,#0019ff,#000bff,#0010ff,#0006ff,#0016ff,#0027ff,#000dff,#01f,#001bff,#10f,#001dff,#1700ff,#0b00ff,#0019ff,#001fff,#000fff,#0008ff,#1600ff,#0029ff,#000aff,#000cff,#000aff,#1600ff,#0028ff,#2000ff,#0014ff,#0013ff,#1000ff,#0021ff,#000dff,#002bff,#0018ff,#002eff,#000eff,#0019ff,#01f,#0012ff,#0013ff,#0020ff,#000fff,#0027ff,#0004ff,#0013ff,#000dff,#0900ff,#0029ff,#0013ff,#0020ff,#0013ff,#0015ff,#001cff,#0e00ff,#0017ff,#001cff,#000fff,#0012ff,#002dff,#01f,#000bff,#0014ff,#0012ff,#0009ff,#0f00ff,#000dff,#0006ff,#0013ff,#0025ff,#001eff,#000fff,#0049ff,#0021ff,#0031ff,#001eff,#0035ff,#0028ff,#0042ff,#0015ff,#03f,#001fff,#0024ff,#0020ff,#002eff,#000dff,#0017ff,#0008ff,#001cff,#001cff,#001fff,#0400ff,#0003ff,#003dff,#0029ff,#002bff,#01f,#0012ff,#0024ff,#0020ff,#0016ff,#1500ff,#0019ff,#0023ff,#0034ff,#01f,#0012ff,#0036ff,#0026ff,#002fff,#0028ff,#0023ff,#0031ff,#002bff,#0029ff,#000fff,#0039ff,#0043ff,#001dff,#0030ff,#0020ff,#002dff,#0046ff,#0017ff,#001aff,#002eff,#0029ff,#0039ff,#0017ff,#0031ff,#0026ff,#0027ff,#0018ff,#001bff,#0017ff,#0041ff,#003dff,#0037ff,#03f,#0020ff,#002aff,#0030ff,#001fff,#0018ff,#001eff,#002eff,#0019ff,#0027ff,#0045ff,#003eff,#0026ff,#0026ff,#003eff,#0030ff,#003fff,#003bff,#0039ff,#004bff,#02f,#0027ff,#0017ff,#0020ff,#0037ff,#0035ff 180.5px)"></i>
<i style="left:988px;top:181px;width:19px;height:181px;background:linear-gradient(#001dff .5px,#0048ff,#0035ff,#03f,#00f,#0020ff,#0021ff,#0032ff,#0031ff,#002fff,#0032ff,#002eff,#003bff,#0026ff,#002fff,#002cff,#0025ff,#0014ff,#0036ff,#0031ff,#0029ff,#000eff,#0035ff,#04f,#0019ff,#0200ff,#0046ff,#03f,#0025ff,#0040ff,#0046ff,#0034ff,#0047ff,#0036ff,#03f,#0047ff,#003aff,#004bff,#0048ff,#0052ff,#0041ff,#003aff,#03f,#0047ff,#0053ff,#0048ff,#004fff,#0038ff,#04f,#0053ff,#0040ff,#0058ff,#003eff,#004dff,#004aff,#0039ff,#0047ff,#0042ff,#0048ff,#004eff,#002fff,#004eff,#004cff,#0034ff,#0049ff,#0042ff,#0036ff,#0037ff,#0047ff,#0048ff,#005aff,#0054ff,#005aff,#0059ff,#004bff,#0036ff,#003dff,#005bff,#0068ff,#06f,#0071ff,#0052ff,#0076ff,#006aff,#0078ff,#006eff,#0073ff,#007fff,#0092ff,#008bff,#0085ff,#009bff,#0083ff,#008aff,#0085ff,#0090ff,#007cff,#008aff,#008cff,#0081ff,#0086ff,#00abff,#00b4ff,#00b7ff,#00caff,#00e6ff,#00edff,#00faff,#00fff0,#00ffea,#00fff0,#00ffda,#00ffc9,#00ffcd,#00ffcd,#00ffd5,#00ffc6,#00ffc5,#00ffc4,#00ffd2,#00ffbe,#00ffce,#00ffca,#00ffd3,#0fc,#00ffc6,#00ffc7,#00ffc9,#00ffcb,#00ffdb,#00ffda,#00ffec,#00fff2,#00ffe9,#00ffec,#00fff7,#00fff9,#00fff2,#00ffef,#00fff4,#0fe,#00ffec,#00fff6,#00fffc,#00ffe9,#00ffef,#00f9ff,#00f1ff,#00f6ff,#0ff,#00faff,#00edff,#00efff,#00d4ff,#00d2ff,#00c2ff,#00c7ff,#0bf,#00bdff,#00bfff,#00baff,#00bdff,#00b5ff,#00b6ff,#00b3ff,#0bf,#00b2ff,#00baff,#00c0ff,#0bf,#00bfff,#00c8ff,#00daff,#0cf,#00c5ff,#00dfff,#00e0ff,#00e0ff,#00e7ff,#00e1ff,#00e4ff 180.5px)"></i>
<i style="left:988px;top:362px;width:19px;height:179px;background:linear-gradient(#00e7ff .5px,#00edff,#00eaff,#00ebff,#00ebff,#00edff,#00efff,#00e8ff,#00e1ff,#00ebff,#00ecff,#00f1ff,#00f7ff,#00ecff,#00f4ff,#00efff,#00f9ff,#0ef,#00fcff,#00f9ff,#0ff,#00f2ff,#00fcff,#00feff,#00fffc,#00fffd,#00fff7,#00fff9,#00faff,#00fffd,#00f4ff,#00fffa,#00fff0,#00fff5,#00fff3,#00fff0,#00ffeb,#00fff1,#0fe,#0fe,#0fe,#00ffed,#00ffe8,#00ffec,#00ffe7,#00ffe8,#00ffe4,#00ffde,#00ffde,#00ffdc,#00ffde,#0fd,#00ffdc,#00ffcf,#00ffd3,#00ffd5,#00ffca,#00ffcf,#00ffc6,#00ffca,#00ffc3,#00ffc5,#00ffc1,#00ffc3,#0fb,#00ffc0,#00ffbe,#00ffb2,#00ffb2,#00ffb0,#00ffaf,#00ffa9,#00ffab,#00ffaf,#00ffac,#00ffaf,#00ffb4,#00ffb1,#00ffb6,#00ffb2,#00ffb1,#00ffad,#00ffa6,#00ffa6,#00ffa3,#00ff9a,#00ff97,#00ff98,#00ff92,#00ff8e,#00ff8a,#0f8,#00ff84,#00ff81,#00ff7a,#0f7,#00ff75,#00ff71,#00ff6e,#00ff69,#00ff65,#00ff62,#00ff60,#00ff5b,#00ff58,#00ff52,#00ff51,#00ff4c,#00ff47,#00ff46,#00ff41,#00ff3c,#00ff35,#00ff32,#00ff2a,#00ff27,#00ff23,#00ff1e,#00ff17,#00ff14,#00ff0e,#00ff08,#00ff07,#00ff02,#1bff00,#32ff00,#3aff00,#3eff00,#47ff00,#4aff00,#50ff00,#56ff00,#5aff00,#5fff00,#6f0,#6cff00,#72ff00,#7f0,#7dff00,#83ff00,#87ff00,#8dff00,#94ff00,#ebff00,#fff000,#fe0,#ffd300,#ff9800,#ff5200,#ff1800,#ff0100,#f00,#f00,#f00,#f00,#f00,#ff0100,#f00,#ff0100,#f00,#f00,#f00,#ff0100,#ff0100,#ff0100,#f00,#f00,#f00,#ff0100,#ff0200,#f00,#ff0100,#f00,#ff0100,#f00,#ff0200,#f00,#f00,#f00 178.5px)"></i>
<i style="left:1007px;top:0px;width:20px;height:181px;background:linear-gradient(#000aff .5px,#0003ff,#0c00ff,#0002ff,#0019ff,#0006ff,#003cff,#0006ff,#0004ff,#000bff,#000aff,#0d00ff,#10f,#1200ff,#0800ff,#0400ff,#0005ff,#0300ff,#0009ff,#0005ff,#0900ff,#0100ff,#0001ff,#002aff,#0012ff,#000aff,#0005ff,#0018ff,#00f,#0023ff,#0020ff,#001dff,#0012ff,#0008ff,#0019ff,#001fff,#0019ff,#000aff,#0018ff,#0c00ff,#0035ff,#001aff,#0500ff,#000eff,#0500ff,#000dff,#000dff,#0035ff,#000aff,#01f,#0027ff,#0002ff,#0600ff,#000bff,#0014ff,#0023ff,#000fff,#0200ff,#0020ff,#01f,#001bff,#0035ff,#001aff,#0018ff,#0009ff,#0017ff,#01f,#0012ff,#001dff,#0016ff,#0100ff,#0001ff,#0023ff,#0600ff,#002dff,#001dff,#0018ff,#0017ff,#000cff,#1900ff,#01f,#0036ff,#01f,#001bff,#0002ff,#0026ff,#0300ff,#0023ff,#0009ff,#0009ff,#0800ff,#0021ff,#001aff,#01f,#0006ff,#3d00ff,#0100ff,#0017ff,#0015ff,#0020ff,#0005ff,#003dff,#000fff,#001bff,#0025ff,#000fff,#002aff,#001bff,#001aff,#0600ff,#0015ff,#0027ff,#1a00ff,#0015ff,#000fff,#000cff,#000cff,#0019ff,#0026ff,#0004ff,#02f,#0026ff,#0600ff,#0100ff,#0015ff,#0012ff,#1e00ff,#0015ff,#0008ff,#0012ff,#03f,#0028ff,#0013ff,#002eff,#0039ff,#0032ff,#03f,#0021ff,#0029ff,#02f,#001aff,#001dff,#0036ff,#0028ff,#003bff,#0020ff,#0021ff,#0002ff,#10f,#001fff,#0023ff,#0024ff,#001cff,#0006ff,#002fff,#001cff,#003fff,#002fff,#000dff,#0024ff,#0015ff,#0020ff,#002cff,#0005ff,#0014ff,#0028ff,#0020ff,#0027ff,#0032ff,#0d00ff,#0025ff,#0014ff,#0015ff,#002bff,#002bff,#0024ff,#0027ff,#003aff,#0014ff,#001cff,#0032ff 180.5px)"></i>
<i style="left:1007px;top:181px;width:20px;height:181px;background:linear-gradient(#0024ff .5px,#0014ff,#0010ff,#002dff,#001bff,#003cff,#003aff,#0023ff,#0009ff,#0040ff,#0026ff,#0021ff,#002aff,#0038ff,#0024ff,#04f,#0017ff,#0036ff,#002eff,#003cff,#0032ff,#0048ff,#0030ff,#0031ff,#0057ff,#002fff,#02f,#0057ff,#0028ff,#004dff,#004bff,#0038ff,#0038ff,#003cff,#0037ff,#0050ff,#0045ff,#0061ff,#0039ff,#0040ff,#003bff,#0030ff,#0036ff,#003fff,#0029ff,#0032ff,#0045ff,#004fff,#0051ff,#004fff,#0035ff,#004aff,#0046ff,#002dff,#0035ff,#0032ff,#0034ff,#0049ff,#0059ff,#003eff,#003cff,#0048ff,#002aff,#003fff,#0046ff,#004fff,#04f,#0051ff,#0047ff,#004cff,#003aff,#004cff,#004bff,#0049ff,#003dff,#0040ff,#0051ff,#0060ff,#004aff,#0059ff,#0053ff,#004cff,#0068ff,#006aff,#0072ff,#0063ff,#07f,#0081ff,#0079ff,#006dff,#0087ff,#007fff,#007cff,#0084ff,#0084ff,#007bff,#0079ff,#0079ff,#0086ff,#007eff,#08f,#00adff,#00b4ff,#00c4ff,#00ceff,#00e6ff,#00ecff,#00feff,#00fffe,#00fff8,#00ffe6,#00ffe0,#00ffd6,#00ffd7,#00ffcf,#0fc,#00ffca,#00ffc5,#00ffc9,#00ffc5,#00ffc8,#00ffc4,#00ffcf,#00ffca,#00ffd1,#00ffc9,#00ffc4,#00ffd0,#00ffd5,#00ffd5,#00ffe3,#00ffe9,#00ffe5,#00fff2,#00fff1,#0fe,#00ffef,#00fff1,#00fffb,#00ffef,#00fff3,#00ffe6,#00ffe8,#00fff5,#00ffe5,#00fff7,#00fff5,#00fff6,#00f1ff,#00e2ff,#00ebff,#00deff,#00d7ff,#00d2ff,#00cfff,#00caff,#00c1ff,#00c6ff,#00c0ff,#00beff,#00c2ff,#00c8ff,#00b3ff,#00beff,#00b6ff,#00c0ff,#00b9ff,#00c6ff,#00bcff,#00c6ff,#00cfff,#0cf,#00cfff,#00ceff,#00dbff,#0cf,#00dcff,#00ecff,#00e2ff,#00e1ff,#00e2ff 180.5px)"></i>
<i style="left:1007px;top:362px;width:20px;height:179px;background:linear-gradient(#00e4ff .5px,#00d8ff,#00e4ff,#0ef,#00e7ff,#00e7ff,#00eaff,#00e7ff,#00e4ff,#0ef,#00f5ff,#00f3ff,#00f4ff,#00f1ff,#00f0ff,#00edff,#00f0ff,#00fcff,#00f0ff,#00faff,#0ef,#0ff,#00f9ff,#00f9ff,#00fffa,#00fbff,#00fbff,#00fff9,#00fffd,#0ff,#00f9ff,#00fffa,#00fff4,#00fff7,#00fff7,#00fffd,#00fff0,#00fff6,#00ffec,#00fff8,#00fff6,#00fff2,#00fff0,#00ffe7,#00ffec,#00ffea,#00ffe9,#00ffe3,#00ffe4,#00ffdc,#0fd,#00ffde,#00ffd7,#00ffe2,#00ffda,#00ffd4,#00ffd6,#00ffd4,#00ffd1,#00ffcb,#00ffce,#0fc,#00ffc2,#00ffc5,#00ffc2,#00ffc4,#00ffbe,#0fb,#00ffbd,#00ffb6,#00ffb6,#00ffb2,#00ffb5,#00ffb6,#0fb,#0fb,#00ffc3,#00ffca,#00ffca,#00ffc9,#00ffcb,#00ffc6,#00ffbe,#0fb,#00ffbc,#00ffbd,#00ffb3,#00ffb3,#00ffb0,#00ffad,#0fa,#00ffa8,#00ffa4,#00ffa5,#00ff9d,#00ff9d,#0f9,#00ff94,#00ff93,#00ff8f,#00ff8f,#00ff8b,#00ff87,#00ff84,#00ff82,#00ff7d,#00ff79,#00ff7a,#0f7,#00ff72,#00ff6e,#00ff6b,#00ff6a,#00ff67,#00ff64,#00ff5d,#00ff52,#00ff4d,#00ff45,#00ff3d,#00ff36,#00ff25,#00ff15,#00ff03,#21ff00,#40ff00,#46ff00,#4fff00,#57ff00,#5fff00,#6f0,#82ff00,#fffe00,#feff00,#fff400,#ffd700,#ffb400,#ff8a00,#ff5c00,#ff4500,#ff4300,#ff4200,#ff4200,#ff3700,#ff1b00,#ff0400,#f00,#ff0200,#f00,#f00,#f00,#f00,#ff0200,#ff0100,#f00,#f00,#f00,#f00,#f00,#f00,#ff0200,#f00,#f00,#ff0200,#f00,#ff0100,#f00,#ff0100,#ff0100,#ff0100,#f00,#ff0100,#f00,#f00,#f00,#f00,#f00,#f00,#ff0200 178.5px)"></i>
<i style="left:1027px;top:0px;width:19px;height:181px;background:linear-gradient(#1000ff .5px,#000dff,#0003ff,#01f,#0015ff,#0100ff,#0017ff,#0008ff,#002dff,#0d00ff,#0013ff,#0012ff,#0009ff,#0015ff,#0021ff,#003bff,#002dff,#00f,#001eff,#0020ff,#1a00ff,#0027ff,#0021ff,#001cff,#000bff,#001bff,#0009ff,#0012ff,#0007ff,#0004ff,#1300ff,#0010ff,#0023ff,#2100ff,#02f,#000aff,#003dff,#0b00ff,#003dff,#000aff,#0010ff,#0034ff,#0100ff,#0028ff,#1300ff,#0023ff,#0016ff,#0600ff,#0010ff,#0006ff,#10f,#0021ff,#002bff,#0038ff,#0025ff,#001cff,#0032ff,#000eff,#0013ff,#0004ff,#02f,#001dff,#004dff,#002bff,#0013ff,#0005ff,#0007ff,#0023ff,#01f,#001aff,#002dff,#01f,#0024ff,#0028ff,#0030ff,#001fff,#001aff,#001aff,#0016ff,#0f00ff,#0700ff,#02f,#0021ff,#0001ff,#000fff,#0015ff,#0030ff,#0019ff,#0600ff,#001aff,#0025ff,#0b00ff,#0010ff,#001bff,#0049ff,#0a00ff,#002eff,#0012ff,#0007ff,#0018ff,#0006ff,#000cff,#0019ff,#01f,#0400ff,#0024ff,#0017ff,#0034ff,#02f,#003bff,#002aff,#001dff,#0002ff,#0016ff,#001cff,#002fff,#0032ff,#0020ff,#0025ff,#0048ff,#0008ff,#001aff,#002eff,#001eff,#0028ff,#001fff,#002bff,#0018ff,#0029ff,#0012ff,#002bff,#0024ff,#001bff,#003fff,#0017ff,#0016ff,#0023ff,#002cff,#0030ff,#001cff,#000cff,#0016ff,#001dff,#002eff,#002fff,#002eff,#0049ff,#003aff,#0024ff,#0007ff,#0045ff,#001dff,#03f,#0020ff,#001bff,#0046ff,#0024ff,#0030ff,#003cff,#0038ff,#001eff,#0028ff,#0015ff,#02f,#0009ff,#0030ff,#0026ff,#002dff,#0034ff,#0028ff,#004bff,#0025ff,#0038ff,#01f,#0042ff,#0030ff,#0026ff,#002dff,#0015ff,#0029ff,#0024ff 180.5px)"></i>
<i style="left:1027px;top:181px;width:19px;height:181px;background:linear-gradient(#0047ff .5px,#003eff,#003eff,#0026ff,#0037ff,#002eff,#03f,#0043ff,#0032ff,#003bff,#0032ff,#0023ff,#04f,#001eff,#0038ff,#003fff,#0030ff,#002cff,#003eff,#003eff,#0032ff,#04f,#002fff,#0035ff,#0040ff,#004bff,#002bff,#04f,#03f,#0042ff,#003cff,#0032ff,#0031ff,#0040ff,#0041ff,#0047ff,#0036ff,#0049ff,#0054ff,#0041ff,#005bff,#003fff,#0045ff,#0045ff,#0062ff,#003fff,#002fff,#0041ff,#0050ff,#005aff,#0032ff,#0046ff,#004cff,#0058ff,#0052ff,#0048ff,#0057ff,#0051ff,#0042ff,#0053ff,#003dff,#05f,#004aff,#0053ff,#0054ff,#005dff,#0046ff,#004bff,#004fff,#0036ff,#003bff,#003cff,#004aff,#004dff,#0042ff,#003bff,#004aff,#005fff,#006cff,#05f,#0064ff,#006bff,#006cff,#006fff,#0078ff,#0075ff,#06f,#007fff,#0069ff,#0078ff,#008eff,#07f,#0082ff,#0080ff,#0074ff,#0079ff,#007fff,#007fff,#07f,#0085ff,#00a9ff,#00b6ff,#0cf,#00d3ff,#0ef,#00fffc,#00fffe,#00fff8,#00fff0,#00ffeb,#00ffde,#00ffe9,#00ffd5,#00ffd9,#00ffc7,#00ffc9,#00ffc0,#0fc,#00ffc2,#00ffca,#00ffb8,#00ffc6,#00ffc6,#00ffcb,#00ffbf,#00ffcb,#00ffc6,#00ffcf,#00ffd5,#00ffd7,#00ffd1,#00ffeb,#00ffeb,#00ffe5,#00ffe2,#00ffeb,#00fff4,#00ffe7,#00ffeb,#00ffe4,#00ffe5,#00fff0,#00ffe1,#00ffed,#00ffe6,#00ffe8,#00ffec,#00fffe,#00fffd,#00edff,#00d2ff,#00c9ff,#00cdff,#0cf,#0cf,#00c8ff,#00d3ff,#00d1ff,#00c6ff,#00c9ff,#00ceff,#00c5ff,#00d4ff,#00c5ff,#00c8ff,#0cf,#00caff,#00cdff,#00c0ff,#00c8ff,#00d1ff,#00d8ff,#00d2ff,#00d4ff,#00dfff,#0df,#00e5ff,#00e5ff,#00ecff,#00efff,#00e9ff 180.5px)"></i>
<i style="left:1027px;top:362px;width:19px;height:179px;background:linear-gradient(#00eaff .5px,#00f0ff,#00f6ff,#00e5ff,#00e5ff,#00f4ff,#00f4ff,#00f6ff,#00f5ff,#00eaff,#0ff,#00f3ff,#00fcff,#00f1ff,#00fcff,#00fffc,#00f4ff,#00faff,#00f3ff,#00f8ff,#00fdff,#00fffe,#00fffe,#00fff9,#00feff,#00fffc,#00fffa,#00fffa,#00fff8,#00fff8,#00fff3,#0fe,#0fe,#00fff6,#00fff4,#00fff6,#00fff5,#00ffed,#00fff0,#00fff0,#00ffec,#00fff0,#00ffec,#00ffe7,#00ffe2,#00ffe5,#00ffe7,#00ffe1,#00ffe4,#00ffe1,#00ffe1,#00ffe2,#00ffdc,#00ffdc,#00ffdb,#00ffcf,#00ffd1,#00ffd0,#00ffd2,#00ffd0,#00ffd0,#00ffcb,#00ffc9,#00ffc5,#00ffc2,#00ffbf,#00ffc1,#00ffc3,#0fb,#00ffb8,#00ffb6,#00ffb5,#00ffb9,#00ffba,#00ffc3,#00ffbd,#00ffc0,#00ffc4,#00ffc6,#00ffc5,#00ffc4,#00ffc2,#0fb,#00ffbc,#00ffbd,#00ffb8,#00ffb8,#00ffb5,#00ffb1,#00ffaf,#00ffac,#00ffa7,#0fa,#00ffa0,#00ffa1,#00ff9c,#00ff9b,#00ff97,#00ff95,#00ff93,#00ff90,#00ff8d,#00ff8a,#00ff89,#00ff85,#00ff83,#00ff81,#00ff7e,#00ff7a,#00ff7a,#00ff74,#00ff73,#00ff73,#00ff6f,#00ff6a,#00ff69,#00ff68,#00ff63,#00ff5c,#00ff54,#00ff4c,#00ff46,#00ff3d,#00ff34,#00ff19,#16ff00,#42ff00,#4aff00,#54ff00,#5bff00,#65ff00,#6dff00,#73ff00,#deff00,#fffe00,#fffd00,#fffb00,#fffc00,#fff000,#ffd600,#ffb900,#ffb000,#ffae00,#ff9800,#ff7600,#ff6300,#ff6100,#ff5c00,#ff3f00,#ff1200,#f00,#f00,#f00,#ff0100,#f00,#f00,#f00,#f00,#f00,#f00,#f00,#f00,#f00,#f00,#f00,#ff0100,#ff0100,#f00,#f00,#ff0100,#f00,#f00,#f00,#f00,#f00,#f00,#f00,#f00,#f00 178.5px)"></i>
</div>
<div class="ln" style="left:80px;top:12px;width:1049px;height:1px;background:#000"></div>
<div class="ln" style="left:80px;top:12px;width:1px;height:544px;background:#000"></div>
<div class="ln" style="left:1128px;top:13px;width:1px;height:543px;background:#8c8c8c"></div>
<div class="ln" style="left:81px;top:555px;width:1048px;height:1px;background:#8c8c8c"></div>
<div style="position:absolute;left:1133px;top:16px;width:24px;height:209px;border-left:1px solid #f00;border-right:1px solid #f00;background:linear-gradient(to bottom,#f00 0,#f00 1.5px,#ff0 47.7px,#0f0 94.1px,#0ff 140.6px,#00f 187px,#8000ff 209.5px,#8000ff 210px)"></div>
<div style="position:absolute;left:1133px;top:11px;width:24px;height:3px;border:1px solid #000;background:#f00"></div>
<div style="position:absolute;left:1133px;top:225px;width:24px;height:3px;border:1px solid #f00;border-top-width:2px;background:#000"></div>
<div class="ln" style="left:74px;top:13px;width:5px;height:1px"></div>
<div class="ln" style="left:74px;top:128px;width:5px;height:1px"></div>
<div class="ln" style="left:74px;top:243px;width:5px;height:1px"></div>
<div class="ln" style="left:74px;top:358px;width:5px;height:1px"></div>
<div class="ln" style="left:74px;top:473px;width:5px;height:1px"></div>
<div class="ln" style="left:74px;top:554px;width:5px;height:1px"></div>
<div class="ln" style="left:1161px;top:17px;width:5px;height:1px"></div>
<div class="ln" style="left:1161px;top:50px;width:5px;height:1px"></div>
<div class="ln" style="left:1161px;top:94px;width:5px;height:1px"></div>
<div class="ln" style="left:1161px;top:137px;width:5px;height:1px"></div>
<div class="ln" style="left:1161px;top:181px;width:5px;height:1px"></div>
<div class="ln" style="left:1161px;top:225px;width:5px;height:1px"></div>
<div class="ln" style="left:85px;top:557px;width:1px;height:3px"></div>
<div class="ln" style="left:93px;top:557px;width:1px;height:3px"></div>
<div class="ln" style="left:100px;top:557px;width:1px;height:3px"></div>
<div class="ln" style="left:108px;top:557px;width:1px;height:5px"></div>
<div class="ln" style="left:116px;top:557px;width:1px;height:3px"></div>
<div class="ln" style="left:123px;top:557px;width:1px;height:3px"></div>
<div class="ln" style="left:131px;top:557px;width:1px;height:3px"></div>
<div class="ln" style="left:138px;top:557px;width:1px;height:3px"></div>
<div class="ln" style="left:146px;top:557px;width:1px;height:3px"></div>
<div class="ln" style="left:154px;top:557px;width:1px;height:3px"></div>
<div class="ln" style="left:161px;top:557px;width:1px;height:3px"></div>
<div class="ln" style="left:169px;top:557px;width:1px;height:3px"></div>
<div class="ln" style="left:177px;top:557px;width:1px;height:3px"></div>
<div class="ln" style="left:184px;top:557px;width:1px;height:3px"></div>
<div class="ln" style="left:192px;top:557px;width:1px;height:3px"></div>
<div class="ln" style="left:199px;top:557px;width:1px;height:3px"></div>
<div class="ln" style="left:207px;top:557px;width:1px;height:3px"></div>
<div class="ln" style="left:215px;top:557px;width:1px;height:3px"></div>
<div class="ln" style="left:222px;top:557px;width:1px;height:5px"></div>
<div class="ln" style="left:230px;top:557px;width:1px;height:3px"></div>
<div class="ln" style="left:238px;top:557px;width:1px;height:3px"></div>
<div class="ln" style="left:245px;top:557px;width:1px;height:3px"></div>
<div class="ln" style="left:253px;top:557px;width:1px;height:3px"></div>
<div class="ln" style="left:261px;top:557px;width:1px;height:3px"></div>
<div class="ln" style="left:268px;top:557px;width:1px;height:3px"></div>
<div class="ln" style="left:276px;top:557px;width:1px;height:3px"></div>
<div class="ln" style="left:283px;top:557px;width:1px;height:3px"></div>
<div class="ln" style="left:291px;top:557px;width:1px;height:3px"></div>
<div class="ln" style="left:299px;top:557px;width:1px;height:3px"></div>
<div class="ln" style="left:306px;top:557px;width:1px;height:3px"></div>
<div class="ln" style="left:314px;top:557px;width:1px;height:3px"></div>
<div class="ln" style="left:322px;top:557px;width:1px;height:3px"></div>
<div class="ln" style="left:329px;top:557px;width:1px;height:3px"></div>
<div class="ln" style="left:337px;top:557px;width:1px;height:5px"></div>
<div class="ln" style="left:345px;top:557px;width:1px;height:3px"></div>
<div class="ln" style="left:352px;top:557px;width:1px;height:3px"></div>
<div class="ln" style="left:360px;top:557px;width:1px;height:3px"></div>
<div class="ln" style="left:367px;top:557px;width:1px;height:3px"></div>
<div class="ln" style="left:375px;top:557px;width:1px;height:3px"></div>
<div class="ln" style="left:383px;top:557px;width:1px;height:3px"></div>
<div class="ln" style="left:390px;top:557px;width:1px;height:3px"></div>
<div class="ln" style="left:398px;top:557px;width:1px;height:3px"></div>
<div class="ln" style="left:406px;top:557px;width:1px;height:3px"></div>
<div class="ln" style="left:413px;top:557px;width:1px;height:3px"></div>
<div class="ln" style="left:421px;top:557px;width:1px;height:3px"></div>
<div class="ln" style="left:428px;top:557px;width:1px;height:3px"></div>
<div class="ln" style="left:436px;top:557px;width:1px;height:3px"></div>
<div class="ln" style="left:444px;top:557px;width:1px;height:3px"></div>
<div class="ln" style="left:451px;top:557px;width:1px;height:5px"></div>
<div class="ln" style="left:459px;top:557px;width:1px;height:3px"></div>
<div class="ln" style="left:467px;top:557px;width:1px;height:3px"></div>
<div class="ln" style="left:474px;top:557px;width:1px;height:3px"></div>
<div class="ln" style="left:482px;top:557px;width:1px;height:3px"></div>
<div class="ln" style="left:490px;top:557px;width:1px;height:3px"></div>
<div class="ln" style="left:497px;top:557px;width:1px;height:3px"></div>
<div class="ln" style="left:505px;top:557px;width:1px;height:3px"></div>
<div class="ln" style="left:512px;top:557px;width:1px;height:3px"></div>
<div class="ln" style="left:520px;top:557px;width:1px;height:3px"></div>
<div class="ln" style="left:528px;top:557px;width:1px;height:3px"></div>
<div class="ln" style="left:535px;top:557px;width:1px;height:3px"></div>
<div class="ln" style="left:543px;top:557px;width:1px;height:3px"></div>
<div class="ln" style="left:551px;top:557px;width:1px;height:3px"></div>
<div class="ln" style="left:558px;top:557px;width:1px;height:3px"></div>
<div class="ln" style="left:566px;top:557px;width:1px;height:5px"></div>
<div class="ln" style="left:573px;top:557px;width:1px;height:3px"></div>
<div class="ln" style="left:581px;top:557px;width:1px;height:3px"></div>
<div class="ln" style="left:589px;top:557px;width:1px;height:3px"></div>
<div class="ln" style="left:596px;top:557px;width:1px;height:3px"></div>
<div class="ln" style="left:604px;top:557px;width:1px;height:3px"></div>
<div class="ln" style="left:612px;top:557px;width:1px;height:3px"></div>
<div class="ln" style="left:619px;top:557px;width:1px;height:3px"></div>
<div class="ln" style="left:627px;top:557px;width:1px;height:3px"></div>
<div class="ln" style="left:635px;top:557px;width:1px;height:3px"></div>
<div class="ln" style="left:642px;top:557px;width:1px;height:3px"></div>
<div class="ln" style="left:650px;top:557px;width:1px;height:3px"></div>
<div class="ln" style="left:657px;top:557px;width:1px;height:3px"></div>
<div class="ln" style="left:665px;top:557px;width:1px;height:3px"></div>
<div class="ln" style="left:673px;top:557px;width:1px;height:3px"></div>
<div class="ln" style="left:680px;top:557px;width:1px;height:5px"></div>
<div class="ln" style="left:688px;top:557px;width:1px;height:3px"></div>
<div class="ln" style="left:696px;top:557px;width:1px;height:3px"></div>
<div class="ln" style="left:703px;top:557px;width:1px;height:3px"></div>
<div class="ln" style="left:711px;top:557px;width:1px;height:3px"></div>
<div class="ln" style="left:719px;top:557px;width:1px;height:3px"></div>
<div class="ln" style="left:726px;top:557px;width:1px;height:3px"></div>
<div class="ln" style="left:734px;top:557px;width:1px;height:3px"></div>
<div class="ln" style="left:741px;top:557px;width:1px;height:3px"></div>
<div class="ln" style="left:749px;top:557px;width:1px;height:3px"></div>
<div class="ln" style="left:757px;top:557px;width:1px;height:3px"></div>
<div class="ln" style="left:764px;top:557px;width:1px;height:3px"></div>
<div class="ln" style="left:772px;top:557px;width:1px;height:3px"></div>
<div class="ln" style="left:780px;top:557px;width:1px;height:3px"></div>
<div class="ln" style="left:787px;top:557px;width:1px;height:3px"></div>
<div class="ln" style="left:795px;top:557px;width:1px;height:5px"></div>
<div class="ln" style="left:802px;top:557px;width:1px;height:3px"></div>
<div class="ln" style="left:810px;top:557px;width:1px;height:3px"></div>
<div class="ln" style="left:818px;top:557px;width:1px;height:3px"></div>
<div class="ln" style="left:825px;top:557px;width:1px;height:3px"></div>
<div class="ln" style="left:833px;top:557px;width:1px;height:3px"></div>
<div class="ln" style="left:841px;top:557px;width:1px;height:3px"></div>
<div class="ln" style="left:848px;top:557px;width:1px;height:3px"></div>
<div class="ln" style="left:856px;top:557px;width:1px;height:3px"></div>
<div class="ln" style="left:864px;top:557px;width:1px;height:3px"></div>
<div class="ln" style="left:871px;top:557px;width:1px;height:3px"></div>
<div class="ln" style="left:879px;top:557px;width:1px;height:3px"></div>
<div class="ln" style="left:886px;top:557px;width:1px;height:3px"></div>
<div class="ln" style="left:894px;top:557px;width:1px;height:3px"></div>
<div class="ln" style="left:902px;top:557px;width:1px;height:3px"></div>
<div class="ln" style="left:909px;top:557px;width:1px;height:5px"></div>
<div class="ln" style="left:917px;top:557px;width:1px;height:3px"></div>
<div class="ln" style="left:925px;top:557px;width:1px;height:3px"></div>
<div class="ln" style="left:932px;top:557px;width:1px;height:3px"></div>
<div class="ln" style="left:940px;top:557px;width:1px;height:3px"></div>
<div class="ln" style="left:947px;top:557px;width:1px;height:3px"></div>
<div class="ln" style="left:955px;top:557px;width:1px;height:3px"></div>
<div class="ln" style="left:963px;top:557px;width:1px;height:3px"></div>
<div class="ln" style="left:970px;top:557px;width:1px;height:3px"></div>
<div class="ln" style="left:978px;top:557px;width:1px;height:3px"></div>
<div class="ln" style="left:986px;top:557px;width:1px;height:3px"></div>
<div class="ln" style="left:993px;top:557px;width:1px;height:3px"></div>
<div class="ln" style="left:1001px;top:557px;width:1px;height:3px"></div>
<div class="ln" style="left:1009px;top:557px;width:1px;height:3px"></div>
<div class="ln" style="left:1016px;top:557px;width:1px;height:3px"></div>
<div class="ln" style="left:1024px;top:557px;width:1px;height:5px"></div>
<div class="ln" style="left:1031px;top:557px;width:1px;height:3px"></div>
<div class="ln" style="left:1039px;top:557px;width:1px;height:3px"></div>
<div class="ln" style="left:1047px;top:557px;width:1px;height:3px"></div>
<div class="ln" style="left:1054px;top:557px;width:1px;height:3px"></div>
<div class="ln" style="left:1062px;top:557px;width:1px;height:3px"></div>
<div class="ln" style="left:1070px;top:557px;width:1px;height:3px"></div>
<div class="ln" style="left:1077px;top:557px;width:1px;height:3px"></div>
<div class="ln" style="left:1085px;top:557px;width:1px;height:3px"></div>
<div class="ln" style="left:1093px;top:557px;width:1px;height:3px"></div>
<div class="ln" style="left:1100px;top:557px;width:1px;height:3px"></div>
<div class="ln" style="left:1108px;top:557px;width:1px;height:3px"></div>
<div class="ln" style="left:1115px;top:557px;width:1px;height:3px"></div>
<div class="ln" style="left:1123px;top:557px;width:1px;height:3px"></div>
<div class="ln" style="left:81px;top:557px;width:1px;height:5px"></div>
<div class="ln" style="left:1127px;top:557px;width:1px;height:5px"></div>
<div class="t yl" style="top:5px">5000</div>
<div class="t yl" style="top:120px">4000</div>
<div class="t yl" style="top:235px">3000</div>
<div class="t yl" style="top:350px">2000</div>
<div class="t yl" style="top:465px">1000</div>
<div class="t yl" style="top:546px">300</div>
<div class="t cl" style="top:9px">9.5E+6</div>
<div class="t cl" style="top:42px">8.0E+6</div>
<div class="t cl" style="top:86px">6.0E+6</div>
<div class="t cl" style="top:129px">4.0E+6</div>
<div class="t cl" style="top:173px">2.0E+6</div>
<div class="t cl" style="top:217px">0.0E+0</div>
<div style="position:absolute;left:0;top:560px;width:1152px;height:60px;overflow:hidden">
<div class="t xl tm" style="left:81.0px;top:6px">08:33</div>
<div class="t xl dt" style="left:81.0px;top:31px">01/09/2011</div>
<div class="t xl tm" style="left:222.9px;top:6px">08:40</div>
<div class="t xl dt" style="left:222.9px;top:31px">01/09/2011</div>
<div class="t xl tm" style="left:337.4px;top:6px">08:45</div>
<div class="t xl dt" style="left:337.4px;top:31px">01/09/2011</div>
<div class="t xl tm" style="left:451.9px;top:6px">08:50</div>
<div class="t xl dt" style="left:451.9px;top:31px">01/09/2011</div>
<div class="t xl tm" style="left:566.4px;top:6px">08:55</div>
<div class="t xl dt" style="left:566.4px;top:31px">01/09/2011</div>
<div class="t xl tm" style="left:680.8px;top:6px">09:00</div>
<div class="t xl dt" style="left:680.8px;top:31px">01/09/2011</div>
<div class="t xl tm" style="left:795.3px;top:6px">09:05</div>
<div class="t xl dt" style="left:795.3px;top:31px">01/09/2011</div>
<div class="t xl tm" style="left:909.8px;top:6px">09:10</div>
<div class="t xl dt" style="left:909.8px;top:31px">01/09/2011</div>
<div class="t xl tm" style="left:1024.3px;top:6px">09:15</div>
<div class="t xl dt" style="left:1024.3px;top:31px">01/09/2011</div>
<div class="t xl tm" style="left:1126.7px;top:6px">09:19</div>
<div class="t xl dt" style="left:1126.7px;top:31px">01/09/2011</div>
</div>
<div class="t xl" style="left:605px;top:618px">Time [UTC]</div>
<div class="t" style="left:17px;top:282px;width:0;height:0"><div style="position:absolute;white-space:nowrap;letter-spacing:.6px;transform:translate(-50%,-50%) rotate(-90deg)">Height (m)</div></div>
<div class="t" style="left:1244px;top:120px;width:0;height:0"><div style="position:absolute;white-space:nowrap;letter-spacing:.5px;transform:translate(-50%,-50%) rotate(90deg)">A.U</div></div>
<div id="ann">Limassol Cyprus (Lat: 34.67, Lon: 33.04, alt: 8m)<br>RCS@532p Resolution (50s, 7.5m)</div>
</body></html>
